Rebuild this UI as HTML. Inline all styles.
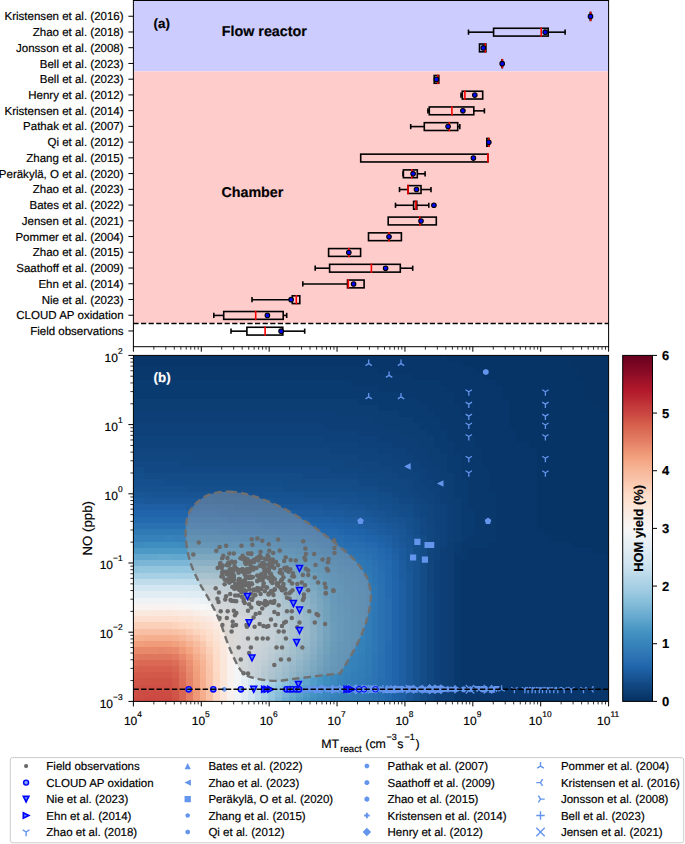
<!DOCTYPE html>
<html><head><meta charset="utf-8"><style>
html,body{margin:0;padding:0;background:#fff;}
svg{display:block;}
text{font-family:'Liberation Sans',sans-serif;text-rendering:geometricPrecision;stroke:currentColor;stroke-width:0.18px;}
text[fill='#fff']{stroke:#fff;}
</style></head><body>
<svg width="685" height="844" viewBox="0 0 685 844" style="font-family:'Liberation Sans',sans-serif">
<rect width="685" height="844" fill="#fff"/>
<rect x="133.4" y="0.5" width="475.20000000000005" height="70.81363636363636" fill="#ccccff"/>
<rect x="133.4" y="71.31363636363636" width="475.20000000000005" height="251.7818181818182" fill="#ffcccc"/>
<line x1="133.4" y1="323.40" x2="608.6" y2="323.40" stroke="#000" stroke-width="1.5" stroke-dasharray="5.2 2.4"/>
<rect x="590.3" y="12.54" width="0.40" height="7.80" fill="none" stroke="#000" stroke-width="1.6"/>
<line x1="590.6" y1="12.54" x2="590.6" y2="20.34" stroke="#ff0000" stroke-width="1.6" stroke-linecap="square"/>
<circle cx="590.5" cy="16.44" r="2.3" fill="#0000ff" stroke="#000" stroke-width="1.05"/>
<line x1="128.4" y1="16.24" x2="133.4" y2="16.24" stroke="#000" stroke-width="1"/>
<text x="123.6" y="20.34" text-anchor="end" font-size="11.53" fill="#000">Kristensen et al. (2016)</text>
<line x1="468.5" y1="32.17" x2="493.6" y2="32.17" stroke="#000" stroke-width="1.6"/>
<line x1="468.5" y1="30.37" x2="468.5" y2="33.97" stroke="#000" stroke-width="1.6" stroke-linecap="square"/>
<line x1="548.2" y1="32.17" x2="565.1" y2="32.17" stroke="#000" stroke-width="1.6"/>
<line x1="565.1" y1="30.37" x2="565.1" y2="33.97" stroke="#000" stroke-width="1.6" stroke-linecap="square"/>
<rect x="493.6" y="28.27" width="54.60" height="7.80" fill="none" stroke="#000" stroke-width="1.6"/>
<line x1="541.2" y1="28.27" x2="541.2" y2="36.07" stroke="#ff0000" stroke-width="1.6" stroke-linecap="square"/>
<circle cx="545.2" cy="32.17" r="2.3" fill="#0000ff" stroke="#000" stroke-width="1.05"/>
<line x1="128.4" y1="31.97" x2="133.4" y2="31.97" stroke="#000" stroke-width="1"/>
<text x="123.6" y="36.07" text-anchor="end" font-size="11.53" fill="#000">Zhao et al. (2018)</text>
<rect x="479.5" y="44.01" width="6.40" height="7.80" fill="none" stroke="#000" stroke-width="1.6"/>
<line x1="485.3" y1="44.01" x2="485.3" y2="51.81" stroke="#ff0000" stroke-width="1.6" stroke-linecap="square"/>
<circle cx="483.3" cy="47.91" r="2.3" fill="#0000ff" stroke="#000" stroke-width="1.05"/>
<line x1="128.4" y1="47.71" x2="133.4" y2="47.71" stroke="#000" stroke-width="1"/>
<text x="123.6" y="51.81" text-anchor="end" font-size="11.53" fill="#000">Jonsson et al. (2008)</text>
<rect x="502.0" y="59.75" width="0.40" height="7.80" fill="none" stroke="#000" stroke-width="1.6"/>
<line x1="502.3" y1="59.75" x2="502.3" y2="67.55" stroke="#ff0000" stroke-width="1.6" stroke-linecap="square"/>
<circle cx="502.2" cy="63.65" r="2.3" fill="#0000ff" stroke="#000" stroke-width="1.05"/>
<line x1="128.4" y1="63.45" x2="133.4" y2="63.45" stroke="#000" stroke-width="1"/>
<text x="123.6" y="67.55" text-anchor="end" font-size="11.53" fill="#000">Bell et al. (2023)</text>
<rect x="434.2" y="75.48" width="4.60" height="7.80" fill="none" stroke="#000" stroke-width="1.6"/>
<line x1="437.8" y1="75.48" x2="437.8" y2="83.28" stroke="#ff0000" stroke-width="1.6" stroke-linecap="square"/>
<circle cx="436.4" cy="79.38" r="2.3" fill="#0000ff" stroke="#000" stroke-width="1.05"/>
<line x1="128.4" y1="79.18" x2="133.4" y2="79.18" stroke="#000" stroke-width="1"/>
<text x="123.6" y="83.28" text-anchor="end" font-size="11.53" fill="#000">Bell et al. (2023)</text>
<line x1="461.0" y1="95.12" x2="462.3" y2="95.12" stroke="#000" stroke-width="1.6"/>
<line x1="461.0" y1="93.32" x2="461.0" y2="96.92" stroke="#000" stroke-width="1.6" stroke-linecap="square"/>
<rect x="462.3" y="91.22" width="20.40" height="7.80" fill="none" stroke="#000" stroke-width="1.6"/>
<line x1="464.9" y1="91.22" x2="464.9" y2="99.02" stroke="#ff0000" stroke-width="1.6" stroke-linecap="square"/>
<circle cx="474.8" cy="95.12" r="2.3" fill="#0000ff" stroke="#000" stroke-width="1.05"/>
<line x1="128.4" y1="94.92" x2="133.4" y2="94.92" stroke="#000" stroke-width="1"/>
<text x="123.6" y="99.02" text-anchor="end" font-size="11.53" fill="#000">Henry et al. (2012)</text>
<line x1="427.9" y1="110.85" x2="429.3" y2="110.85" stroke="#000" stroke-width="1.6"/>
<line x1="427.9" y1="109.05" x2="427.9" y2="112.65" stroke="#000" stroke-width="1.6" stroke-linecap="square"/>
<line x1="473.8" y1="110.85" x2="484.4" y2="110.85" stroke="#000" stroke-width="1.6"/>
<line x1="484.4" y1="109.05" x2="484.4" y2="112.65" stroke="#000" stroke-width="1.6" stroke-linecap="square"/>
<rect x="429.3" y="106.95" width="44.50" height="7.80" fill="none" stroke="#000" stroke-width="1.6"/>
<line x1="451.9" y1="106.95" x2="451.9" y2="114.75" stroke="#ff0000" stroke-width="1.6" stroke-linecap="square"/>
<circle cx="462.9" cy="110.85" r="2.3" fill="#0000ff" stroke="#000" stroke-width="1.05"/>
<line x1="128.4" y1="110.65" x2="133.4" y2="110.65" stroke="#000" stroke-width="1"/>
<text x="123.6" y="114.75" text-anchor="end" font-size="11.53" fill="#000">Kristensen et al. (2014)</text>
<line x1="410.7" y1="126.59" x2="424.3" y2="126.59" stroke="#000" stroke-width="1.6"/>
<line x1="410.7" y1="124.79" x2="410.7" y2="128.39" stroke="#000" stroke-width="1.6" stroke-linecap="square"/>
<line x1="457.7" y1="126.59" x2="459.8" y2="126.59" stroke="#000" stroke-width="1.6"/>
<line x1="459.8" y1="124.79" x2="459.8" y2="128.39" stroke="#000" stroke-width="1.6" stroke-linecap="square"/>
<rect x="424.3" y="122.69" width="33.40" height="7.80" fill="none" stroke="#000" stroke-width="1.6"/>
<line x1="449.3" y1="122.69" x2="449.3" y2="130.49" stroke="#ff0000" stroke-width="1.6" stroke-linecap="square"/>
<circle cx="448.1" cy="126.59" r="2.3" fill="#0000ff" stroke="#000" stroke-width="1.05"/>
<line x1="128.4" y1="126.39" x2="133.4" y2="126.39" stroke="#000" stroke-width="1"/>
<text x="123.6" y="130.49" text-anchor="end" font-size="11.53" fill="#000">Pathak et al. (2007)</text>
<rect x="486.8" y="138.43" width="2.10" height="7.80" fill="none" stroke="#000" stroke-width="1.6"/>
<line x1="488.8" y1="138.43" x2="488.8" y2="146.23" stroke="#ff0000" stroke-width="1.6" stroke-linecap="square"/>
<circle cx="488.8" cy="142.33" r="2.3" fill="#0000ff" stroke="#000" stroke-width="1.05"/>
<line x1="128.4" y1="142.13" x2="133.4" y2="142.13" stroke="#000" stroke-width="1"/>
<text x="123.6" y="146.23" text-anchor="end" font-size="11.53" fill="#000">Qi et al. (2012)</text>
<rect x="360.7" y="154.16" width="127.20" height="7.80" fill="none" stroke="#000" stroke-width="1.6"/>
<line x1="487.9" y1="154.16" x2="487.9" y2="161.96" stroke="#ff0000" stroke-width="1.6" stroke-linecap="square"/>
<circle cx="473.4" cy="158.06" r="2.3" fill="#0000ff" stroke="#000" stroke-width="1.05"/>
<line x1="128.4" y1="157.86" x2="133.4" y2="157.86" stroke="#000" stroke-width="1"/>
<text x="123.6" y="161.96" text-anchor="end" font-size="11.53" fill="#000">Zhang et al. (2015)</text>
<line x1="403.0" y1="173.80" x2="403.4" y2="173.80" stroke="#000" stroke-width="1.6"/>
<line x1="403.0" y1="172.00" x2="403.0" y2="175.60" stroke="#000" stroke-width="1.6" stroke-linecap="square"/>
<line x1="417.3" y1="173.80" x2="425.1" y2="173.80" stroke="#000" stroke-width="1.6"/>
<line x1="425.1" y1="172.00" x2="425.1" y2="175.60" stroke="#000" stroke-width="1.6" stroke-linecap="square"/>
<rect x="403.4" y="169.90" width="13.90" height="7.80" fill="none" stroke="#000" stroke-width="1.6"/>
<line x1="411.8" y1="169.90" x2="411.8" y2="177.70" stroke="#ff0000" stroke-width="1.6" stroke-linecap="square"/>
<circle cx="413.1" cy="173.80" r="2.3" fill="#0000ff" stroke="#000" stroke-width="1.05"/>
<line x1="128.4" y1="173.60" x2="133.4" y2="173.60" stroke="#000" stroke-width="1"/>
<text x="123.6" y="177.70" text-anchor="end" font-size="11.53" fill="#000">Peräkylä, O et al. (2020)</text>
<line x1="399.5" y1="189.54" x2="408.0" y2="189.54" stroke="#000" stroke-width="1.6"/>
<line x1="399.5" y1="187.74" x2="399.5" y2="191.34" stroke="#000" stroke-width="1.6" stroke-linecap="square"/>
<line x1="421.0" y1="189.54" x2="431.0" y2="189.54" stroke="#000" stroke-width="1.6"/>
<line x1="431.0" y1="187.74" x2="431.0" y2="191.34" stroke="#000" stroke-width="1.6" stroke-linecap="square"/>
<rect x="408.0" y="185.64" width="13.00" height="7.80" fill="none" stroke="#000" stroke-width="1.6"/>
<line x1="408.0" y1="185.64" x2="408.0" y2="193.44" stroke="#ff0000" stroke-width="1.6" stroke-linecap="square"/>
<circle cx="416.5" cy="189.54" r="2.3" fill="#0000ff" stroke="#000" stroke-width="1.05"/>
<line x1="128.4" y1="189.34" x2="133.4" y2="189.34" stroke="#000" stroke-width="1"/>
<text x="123.6" y="193.44" text-anchor="end" font-size="11.53" fill="#000">Zhao et al. (2023)</text>
<line x1="395.5" y1="205.27" x2="413.6" y2="205.27" stroke="#000" stroke-width="1.6"/>
<line x1="395.5" y1="203.47" x2="395.5" y2="207.07" stroke="#000" stroke-width="1.6" stroke-linecap="square"/>
<line x1="416.8" y1="205.27" x2="428.8" y2="205.27" stroke="#000" stroke-width="1.6"/>
<line x1="428.8" y1="203.47" x2="428.8" y2="207.07" stroke="#000" stroke-width="1.6" stroke-linecap="square"/>
<rect x="413.6" y="201.37" width="3.20" height="7.80" fill="none" stroke="#000" stroke-width="1.6"/>
<line x1="415.9" y1="201.37" x2="415.9" y2="209.17" stroke="#ff0000" stroke-width="1.6" stroke-linecap="square"/>
<circle cx="433.9" cy="205.27" r="2.3" fill="#0000ff" stroke="#000" stroke-width="1.05"/>
<line x1="128.4" y1="205.07" x2="133.4" y2="205.07" stroke="#000" stroke-width="1"/>
<text x="123.6" y="209.17" text-anchor="end" font-size="11.53" fill="#000">Bates et al. (2022)</text>
<rect x="388.2" y="217.11" width="48.10" height="7.80" fill="none" stroke="#000" stroke-width="1.6"/>
<line x1="419.8" y1="217.11" x2="419.8" y2="224.91" stroke="#ff0000" stroke-width="1.6" stroke-linecap="square"/>
<circle cx="421.0" cy="221.01" r="2.3" fill="#0000ff" stroke="#000" stroke-width="1.05"/>
<line x1="128.4" y1="220.81" x2="133.4" y2="220.81" stroke="#000" stroke-width="1"/>
<text x="123.6" y="224.91" text-anchor="end" font-size="11.53" fill="#000">Jensen et al. (2021)</text>
<rect x="368.5" y="232.85" width="32.90" height="7.80" fill="none" stroke="#000" stroke-width="1.6"/>
<line x1="389.0" y1="232.85" x2="389.0" y2="240.65" stroke="#ff0000" stroke-width="1.6" stroke-linecap="square"/>
<circle cx="389.0" cy="236.75" r="2.3" fill="#0000ff" stroke="#000" stroke-width="1.05"/>
<line x1="128.4" y1="236.55" x2="133.4" y2="236.55" stroke="#000" stroke-width="1"/>
<text x="123.6" y="240.65" text-anchor="end" font-size="11.53" fill="#000">Pommer et al. (2004)</text>
<rect x="328.6" y="248.58" width="32.00" height="7.80" fill="none" stroke="#000" stroke-width="1.6"/>
<line x1="348.8" y1="248.58" x2="348.8" y2="256.38" stroke="#ff0000" stroke-width="1.6" stroke-linecap="square"/>
<circle cx="348.8" cy="252.48" r="2.3" fill="#0000ff" stroke="#000" stroke-width="1.05"/>
<line x1="128.4" y1="252.28" x2="133.4" y2="252.28" stroke="#000" stroke-width="1"/>
<text x="123.6" y="256.38" text-anchor="end" font-size="11.53" fill="#000">Zhao et al. (2015)</text>
<line x1="315.2" y1="268.22" x2="329.6" y2="268.22" stroke="#000" stroke-width="1.6"/>
<line x1="315.2" y1="266.42" x2="315.2" y2="270.02" stroke="#000" stroke-width="1.6" stroke-linecap="square"/>
<line x1="400.3" y1="268.22" x2="412.7" y2="268.22" stroke="#000" stroke-width="1.6"/>
<line x1="412.7" y1="266.42" x2="412.7" y2="270.02" stroke="#000" stroke-width="1.6" stroke-linecap="square"/>
<rect x="329.6" y="264.32" width="70.70" height="7.80" fill="none" stroke="#000" stroke-width="1.6"/>
<line x1="371.4" y1="264.32" x2="371.4" y2="272.12" stroke="#ff0000" stroke-width="1.6" stroke-linecap="square"/>
<circle cx="385.6" cy="268.22" r="2.3" fill="#0000ff" stroke="#000" stroke-width="1.05"/>
<line x1="128.4" y1="268.02" x2="133.4" y2="268.02" stroke="#000" stroke-width="1"/>
<text x="123.6" y="272.12" text-anchor="end" font-size="11.53" fill="#000">Saathoff et al. (2009)</text>
<line x1="302.8" y1="283.95" x2="347.5" y2="283.95" stroke="#000" stroke-width="1.6"/>
<line x1="302.8" y1="282.15" x2="302.8" y2="285.75" stroke="#000" stroke-width="1.6" stroke-linecap="square"/>
<rect x="347.5" y="280.05" width="16.60" height="7.80" fill="none" stroke="#000" stroke-width="1.6"/>
<line x1="348.3" y1="280.05" x2="348.3" y2="287.85" stroke="#ff0000" stroke-width="1.6" stroke-linecap="square"/>
<circle cx="353.6" cy="283.95" r="2.3" fill="#0000ff" stroke="#000" stroke-width="1.05"/>
<line x1="128.4" y1="283.75" x2="133.4" y2="283.75" stroke="#000" stroke-width="1"/>
<text x="123.6" y="287.85" text-anchor="end" font-size="11.53" fill="#000">Ehn et al. (2014)</text>
<line x1="252.0" y1="299.69" x2="292.3" y2="299.69" stroke="#000" stroke-width="1.6"/>
<line x1="252.0" y1="297.89" x2="252.0" y2="301.49" stroke="#000" stroke-width="1.6" stroke-linecap="square"/>
<rect x="292.3" y="295.79" width="7.50" height="7.80" fill="none" stroke="#000" stroke-width="1.6"/>
<line x1="296.3" y1="295.79" x2="296.3" y2="303.59" stroke="#ff0000" stroke-width="1.6" stroke-linecap="square"/>
<circle cx="291.1" cy="299.69" r="2.3" fill="#0000ff" stroke="#000" stroke-width="1.05"/>
<line x1="128.4" y1="299.49" x2="133.4" y2="299.49" stroke="#000" stroke-width="1"/>
<text x="123.6" y="303.59" text-anchor="end" font-size="11.53" fill="#000">Nie et al. (2023)</text>
<line x1="213.8" y1="315.43" x2="223.7" y2="315.43" stroke="#000" stroke-width="1.6"/>
<line x1="213.8" y1="313.63" x2="213.8" y2="317.23" stroke="#000" stroke-width="1.6" stroke-linecap="square"/>
<line x1="283.2" y1="315.43" x2="286.7" y2="315.43" stroke="#000" stroke-width="1.6"/>
<line x1="286.7" y1="313.63" x2="286.7" y2="317.23" stroke="#000" stroke-width="1.6" stroke-linecap="square"/>
<rect x="223.7" y="311.53" width="59.50" height="7.80" fill="none" stroke="#000" stroke-width="1.6"/>
<line x1="255.7" y1="311.53" x2="255.7" y2="319.33" stroke="#ff0000" stroke-width="1.6" stroke-linecap="square"/>
<circle cx="267.4" cy="315.43" r="2.3" fill="#0000ff" stroke="#000" stroke-width="1.05"/>
<line x1="128.4" y1="315.23" x2="133.4" y2="315.23" stroke="#000" stroke-width="1"/>
<text x="123.6" y="319.33" text-anchor="end" font-size="11.53" fill="#000">CLOUD AP oxidation</text>
<line x1="231.0" y1="331.16" x2="246.9" y2="331.16" stroke="#000" stroke-width="1.6"/>
<line x1="231.0" y1="329.36" x2="231.0" y2="332.96" stroke="#000" stroke-width="1.6" stroke-linecap="square"/>
<line x1="282.8" y1="331.16" x2="304.7" y2="331.16" stroke="#000" stroke-width="1.6"/>
<line x1="304.7" y1="329.36" x2="304.7" y2="332.96" stroke="#000" stroke-width="1.6" stroke-linecap="square"/>
<rect x="246.9" y="327.26" width="35.90" height="7.80" fill="none" stroke="#000" stroke-width="1.6"/>
<line x1="265.1" y1="327.26" x2="265.1" y2="335.06" stroke="#ff0000" stroke-width="1.6" stroke-linecap="square"/>
<circle cx="281.1" cy="331.16" r="2.3" fill="#0000ff" stroke="#000" stroke-width="1.05"/>
<line x1="128.4" y1="330.96" x2="133.4" y2="330.96" stroke="#000" stroke-width="1"/>
<text x="123.6" y="335.06" text-anchor="end" font-size="11.53" fill="#000">Field observations</text>
<rect x="133.4" y="0.5" width="475.20000000000005" height="346.2" fill="none" stroke="#000" stroke-width="1"/>
<line x1="133.40" y1="346.7" x2="133.40" y2="351.7" stroke="#000" stroke-width="1"/>
<line x1="153.84" y1="346.7" x2="153.84" y2="349.7" stroke="#000" stroke-width="0.8"/>
<line x1="165.79" y1="346.7" x2="165.79" y2="349.7" stroke="#000" stroke-width="0.8"/>
<line x1="174.27" y1="346.7" x2="174.27" y2="349.7" stroke="#000" stroke-width="0.8"/>
<line x1="180.85" y1="346.7" x2="180.85" y2="349.7" stroke="#000" stroke-width="0.8"/>
<line x1="186.23" y1="346.7" x2="186.23" y2="349.7" stroke="#000" stroke-width="0.8"/>
<line x1="190.77" y1="346.7" x2="190.77" y2="349.7" stroke="#000" stroke-width="0.8"/>
<line x1="194.71" y1="346.7" x2="194.71" y2="349.7" stroke="#000" stroke-width="0.8"/>
<line x1="198.18" y1="346.7" x2="198.18" y2="349.7" stroke="#000" stroke-width="0.8"/>
<line x1="201.29" y1="346.7" x2="201.29" y2="351.7" stroke="#000" stroke-width="1"/>
<line x1="221.72" y1="346.7" x2="221.72" y2="349.7" stroke="#000" stroke-width="0.8"/>
<line x1="233.68" y1="346.7" x2="233.68" y2="349.7" stroke="#000" stroke-width="0.8"/>
<line x1="242.16" y1="346.7" x2="242.16" y2="349.7" stroke="#000" stroke-width="0.8"/>
<line x1="248.74" y1="346.7" x2="248.74" y2="349.7" stroke="#000" stroke-width="0.8"/>
<line x1="254.11" y1="346.7" x2="254.11" y2="349.7" stroke="#000" stroke-width="0.8"/>
<line x1="258.66" y1="346.7" x2="258.66" y2="349.7" stroke="#000" stroke-width="0.8"/>
<line x1="262.59" y1="346.7" x2="262.59" y2="349.7" stroke="#000" stroke-width="0.8"/>
<line x1="266.07" y1="346.7" x2="266.07" y2="349.7" stroke="#000" stroke-width="0.8"/>
<line x1="269.17" y1="346.7" x2="269.17" y2="351.7" stroke="#000" stroke-width="1"/>
<line x1="289.61" y1="346.7" x2="289.61" y2="349.7" stroke="#000" stroke-width="0.8"/>
<line x1="301.56" y1="346.7" x2="301.56" y2="349.7" stroke="#000" stroke-width="0.8"/>
<line x1="310.04" y1="346.7" x2="310.04" y2="349.7" stroke="#000" stroke-width="0.8"/>
<line x1="316.62" y1="346.7" x2="316.62" y2="349.7" stroke="#000" stroke-width="0.8"/>
<line x1="322.00" y1="346.7" x2="322.00" y2="349.7" stroke="#000" stroke-width="0.8"/>
<line x1="326.54" y1="346.7" x2="326.54" y2="349.7" stroke="#000" stroke-width="0.8"/>
<line x1="330.48" y1="346.7" x2="330.48" y2="349.7" stroke="#000" stroke-width="0.8"/>
<line x1="333.95" y1="346.7" x2="333.95" y2="349.7" stroke="#000" stroke-width="0.8"/>
<line x1="337.06" y1="346.7" x2="337.06" y2="351.7" stroke="#000" stroke-width="1"/>
<line x1="357.49" y1="346.7" x2="357.49" y2="349.7" stroke="#000" stroke-width="0.8"/>
<line x1="369.45" y1="346.7" x2="369.45" y2="349.7" stroke="#000" stroke-width="0.8"/>
<line x1="377.93" y1="346.7" x2="377.93" y2="349.7" stroke="#000" stroke-width="0.8"/>
<line x1="384.51" y1="346.7" x2="384.51" y2="349.7" stroke="#000" stroke-width="0.8"/>
<line x1="389.88" y1="346.7" x2="389.88" y2="349.7" stroke="#000" stroke-width="0.8"/>
<line x1="394.43" y1="346.7" x2="394.43" y2="349.7" stroke="#000" stroke-width="0.8"/>
<line x1="398.36" y1="346.7" x2="398.36" y2="349.7" stroke="#000" stroke-width="0.8"/>
<line x1="401.84" y1="346.7" x2="401.84" y2="349.7" stroke="#000" stroke-width="0.8"/>
<line x1="404.94" y1="346.7" x2="404.94" y2="351.7" stroke="#000" stroke-width="1"/>
<line x1="425.38" y1="346.7" x2="425.38" y2="349.7" stroke="#000" stroke-width="0.8"/>
<line x1="437.33" y1="346.7" x2="437.33" y2="349.7" stroke="#000" stroke-width="0.8"/>
<line x1="445.81" y1="346.7" x2="445.81" y2="349.7" stroke="#000" stroke-width="0.8"/>
<line x1="452.39" y1="346.7" x2="452.39" y2="349.7" stroke="#000" stroke-width="0.8"/>
<line x1="457.77" y1="346.7" x2="457.77" y2="349.7" stroke="#000" stroke-width="0.8"/>
<line x1="462.31" y1="346.7" x2="462.31" y2="349.7" stroke="#000" stroke-width="0.8"/>
<line x1="466.25" y1="346.7" x2="466.25" y2="349.7" stroke="#000" stroke-width="0.8"/>
<line x1="469.72" y1="346.7" x2="469.72" y2="349.7" stroke="#000" stroke-width="0.8"/>
<line x1="472.83" y1="346.7" x2="472.83" y2="351.7" stroke="#000" stroke-width="1"/>
<line x1="493.26" y1="346.7" x2="493.26" y2="349.7" stroke="#000" stroke-width="0.8"/>
<line x1="505.22" y1="346.7" x2="505.22" y2="349.7" stroke="#000" stroke-width="0.8"/>
<line x1="513.70" y1="346.7" x2="513.70" y2="349.7" stroke="#000" stroke-width="0.8"/>
<line x1="520.28" y1="346.7" x2="520.28" y2="349.7" stroke="#000" stroke-width="0.8"/>
<line x1="525.65" y1="346.7" x2="525.65" y2="349.7" stroke="#000" stroke-width="0.8"/>
<line x1="530.20" y1="346.7" x2="530.20" y2="349.7" stroke="#000" stroke-width="0.8"/>
<line x1="534.14" y1="346.7" x2="534.14" y2="349.7" stroke="#000" stroke-width="0.8"/>
<line x1="537.61" y1="346.7" x2="537.61" y2="349.7" stroke="#000" stroke-width="0.8"/>
<line x1="540.71" y1="346.7" x2="540.71" y2="351.7" stroke="#000" stroke-width="1"/>
<line x1="561.15" y1="346.7" x2="561.15" y2="349.7" stroke="#000" stroke-width="0.8"/>
<line x1="573.10" y1="346.7" x2="573.10" y2="349.7" stroke="#000" stroke-width="0.8"/>
<line x1="581.59" y1="346.7" x2="581.59" y2="349.7" stroke="#000" stroke-width="0.8"/>
<line x1="588.16" y1="346.7" x2="588.16" y2="349.7" stroke="#000" stroke-width="0.8"/>
<line x1="593.54" y1="346.7" x2="593.54" y2="349.7" stroke="#000" stroke-width="0.8"/>
<line x1="598.08" y1="346.7" x2="598.08" y2="349.7" stroke="#000" stroke-width="0.8"/>
<line x1="602.02" y1="346.7" x2="602.02" y2="349.7" stroke="#000" stroke-width="0.8"/>
<line x1="605.49" y1="346.7" x2="605.49" y2="349.7" stroke="#000" stroke-width="0.8"/>
<line x1="608.60" y1="346.7" x2="608.60" y2="351.7" stroke="#000" stroke-width="1"/>
<text x="153.5" y="28.2" font-size="13.4" font-weight="bold" fill="#000">(a)</text>
<text x="221.8" y="35.9" font-size="14.3" font-weight="bold" fill="#000">Flow reactor</text>
<text x="221.4" y="197.1" font-size="14.3" font-weight="bold" fill="#000">Chamber</text>
<clipPath id="cb"><rect x="133.4" y="355.4" width="475.20000000000005" height="346.0"/></clipPath>
<g clip-path="url(#cb)">
<g shape-rendering="crispEdges">
<rect x="130.6" y="696.9" width="7" height="6.3" fill="#cc4c44"/>
<rect x="137.5" y="696.9" width="7" height="6.3" fill="#cc4c44"/>
<rect x="144.4" y="696.9" width="7" height="6.3" fill="#cb4942"/>
<rect x="151.3" y="696.9" width="7" height="6.3" fill="#cb4942"/>
<rect x="158.2" y="696.9" width="7" height="6.3" fill="#cb4942"/>
<rect x="165.0" y="696.9" width="7" height="6.3" fill="#cb4942"/>
<rect x="171.9" y="696.9" width="7" height="6.3" fill="#cf5246"/>
<rect x="178.8" y="696.9" width="7" height="6.3" fill="#d86551"/>
<rect x="185.7" y="696.9" width="7" height="6.3" fill="#e37e64"/>
<rect x="192.6" y="696.9" width="7" height="6.3" fill="#ef9979"/>
<rect x="199.5" y="696.9" width="7" height="6.3" fill="#f5ac8b"/>
<rect x="206.3" y="696.9" width="7" height="6.3" fill="#f9c2a7"/>
<rect x="213.2" y="696.9" width="7" height="6.3" fill="#fdd9c4"/>
<rect x="220.1" y="696.9" width="7" height="6.3" fill="#fbe6da"/>
<rect x="227.0" y="696.9" width="7" height="6.3" fill="#f8f1ed"/>
<rect x="233.9" y="696.9" width="7" height="6.3" fill="#f0f4f6"/>
<rect x="240.8" y="696.9" width="7" height="6.3" fill="#e0ecf3"/>
<rect x="247.6" y="696.9" width="7" height="6.3" fill="#d1e5f0"/>
<rect x="254.5" y="696.9" width="7" height="6.3" fill="#bbdaea"/>
<rect x="261.4" y="696.9" width="7" height="6.3" fill="#a5cee3"/>
<rect x="268.3" y="696.9" width="7" height="6.3" fill="#93c6de"/>
<rect x="275.2" y="696.9" width="7" height="6.3" fill="#81bad8"/>
<rect x="282.1" y="696.9" width="7" height="6.3" fill="#6eaed2"/>
<rect x="288.9" y="696.9" width="7" height="6.3" fill="#5fa5cd"/>
<rect x="295.8" y="696.9" width="7" height="6.3" fill="#529dc8"/>
<rect x="302.7" y="696.9" width="7" height="6.3" fill="#4695c4"/>
<rect x="309.6" y="696.9" width="7" height="6.3" fill="#408fc1"/>
<rect x="316.5" y="696.9" width="7" height="6.3" fill="#3c8abe"/>
<rect x="323.4" y="696.9" width="7" height="6.3" fill="#3a87bd"/>
<rect x="330.3" y="696.9" width="7" height="6.3" fill="#3681ba"/>
<rect x="337.1" y="696.9" width="7" height="6.3" fill="#337eb8"/>
<rect x="344.0" y="696.9" width="7" height="6.3" fill="#327cb7"/>
<rect x="350.9" y="696.9" width="7" height="6.3" fill="#307ab6"/>
<rect x="357.8" y="696.9" width="7" height="6.3" fill="#2e77b5"/>
<rect x="364.7" y="696.9" width="7" height="6.3" fill="#2c75b4"/>
<rect x="371.6" y="696.9" width="7" height="6.3" fill="#2a71b2"/>
<rect x="378.4" y="696.9" width="7" height="6.3" fill="#276eb0"/>
<rect x="385.3" y="696.9" width="7" height="6.3" fill="#2369ad"/>
<rect x="392.2" y="696.9" width="7" height="6.3" fill="#1f63a8"/>
<rect x="399.1" y="696.9" width="7" height="6.3" fill="#1d5fa2"/>
<rect x="406.0" y="696.9" width="7" height="6.3" fill="#1a5899"/>
<rect x="412.9" y="696.9" width="7" height="6.3" fill="#175290"/>
<rect x="419.7" y="696.9" width="7" height="6.3" fill="#134c87"/>
<rect x="426.6" y="696.9" width="7" height="6.3" fill="#114781"/>
<rect x="433.5" y="696.9" width="7" height="6.3" fill="#0e4179"/>
<rect x="440.4" y="696.9" width="7" height="6.3" fill="#0d3f76"/>
<rect x="447.3" y="696.9" width="7" height="6.3" fill="#0c3d73"/>
<rect x="454.2" y="696.9" width="7" height="6.3" fill="#09386d"/>
<rect x="461.0" y="696.9" width="7" height="6.3" fill="#08366a"/>
<rect x="467.9" y="696.9" width="7" height="6.3" fill="#08366a"/>
<rect x="474.8" y="696.9" width="7" height="6.3" fill="#08366a"/>
<rect x="481.7" y="696.9" width="7" height="6.3" fill="#08366a"/>
<rect x="488.6" y="696.9" width="7" height="6.3" fill="#08366a"/>
<rect x="495.5" y="696.9" width="7" height="6.3" fill="#08366a"/>
<rect x="502.4" y="696.9" width="7" height="6.3" fill="#08366a"/>
<rect x="509.2" y="696.9" width="7" height="6.3" fill="#08366a"/>
<rect x="516.1" y="696.9" width="7" height="6.3" fill="#08366a"/>
<rect x="523.0" y="696.9" width="7" height="6.3" fill="#08366a"/>
<rect x="529.9" y="696.9" width="7" height="6.3" fill="#08366a"/>
<rect x="536.8" y="696.9" width="7" height="6.3" fill="#08366a"/>
<rect x="543.7" y="696.9" width="7" height="6.3" fill="#08366a"/>
<rect x="550.5" y="696.9" width="7" height="6.3" fill="#08366a"/>
<rect x="557.4" y="696.9" width="7" height="6.3" fill="#08366a"/>
<rect x="564.3" y="696.9" width="7" height="6.3" fill="#08366a"/>
<rect x="571.2" y="696.9" width="7" height="6.3" fill="#08366a"/>
<rect x="578.1" y="696.9" width="7" height="6.3" fill="#08366a"/>
<rect x="585.0" y="696.9" width="7" height="6.3" fill="#08366a"/>
<rect x="591.8" y="696.9" width="7" height="6.3" fill="#08366a"/>
<rect x="598.7" y="696.9" width="7" height="6.3" fill="#08366a"/>
<rect x="605.6" y="696.9" width="7" height="6.3" fill="#08366a"/>
<rect x="130.6" y="690.7" width="7" height="6.3" fill="#ce4f45"/>
<rect x="137.5" y="690.7" width="7" height="6.3" fill="#cc4c44"/>
<rect x="144.4" y="690.7" width="7" height="6.3" fill="#cc4c44"/>
<rect x="151.3" y="690.7" width="7" height="6.3" fill="#cc4c44"/>
<rect x="158.2" y="690.7" width="7" height="6.3" fill="#cc4c44"/>
<rect x="165.0" y="690.7" width="7" height="6.3" fill="#cc4c44"/>
<rect x="171.9" y="690.7" width="7" height="6.3" fill="#d05548"/>
<rect x="178.8" y="690.7" width="7" height="6.3" fill="#d86551"/>
<rect x="185.7" y="690.7" width="7" height="6.3" fill="#e37e64"/>
<rect x="192.6" y="690.7" width="7" height="6.3" fill="#ef9979"/>
<rect x="199.5" y="690.7" width="7" height="6.3" fill="#f6af8e"/>
<rect x="206.3" y="690.7" width="7" height="6.3" fill="#f9c2a7"/>
<rect x="213.2" y="690.7" width="7" height="6.3" fill="#fdd9c4"/>
<rect x="220.1" y="690.7" width="7" height="6.3" fill="#fbe6da"/>
<rect x="227.0" y="690.7" width="7" height="6.3" fill="#f8f1ed"/>
<rect x="233.9" y="690.7" width="7" height="6.3" fill="#f0f4f6"/>
<rect x="240.8" y="690.7" width="7" height="6.3" fill="#e1edf3"/>
<rect x="247.6" y="690.7" width="7" height="6.3" fill="#d4e6f1"/>
<rect x="254.5" y="690.7" width="7" height="6.3" fill="#bddbea"/>
<rect x="261.4" y="690.7" width="7" height="6.3" fill="#a9d1e5"/>
<rect x="268.3" y="690.7" width="7" height="6.3" fill="#98c8e0"/>
<rect x="275.2" y="690.7" width="7" height="6.3" fill="#87beda"/>
<rect x="282.1" y="690.7" width="7" height="6.3" fill="#78b4d5"/>
<rect x="288.9" y="690.7" width="7" height="6.3" fill="#68abd0"/>
<rect x="295.8" y="690.7" width="7" height="6.3" fill="#5ca3cb"/>
<rect x="302.7" y="690.7" width="7" height="6.3" fill="#4f9bc7"/>
<rect x="309.6" y="690.7" width="7" height="6.3" fill="#4393c3"/>
<rect x="316.5" y="690.7" width="7" height="6.3" fill="#3f8ec0"/>
<rect x="323.4" y="690.7" width="7" height="6.3" fill="#3b88be"/>
<rect x="330.3" y="690.7" width="7" height="6.3" fill="#3783bb"/>
<rect x="337.1" y="690.7" width="7" height="6.3" fill="#3480b9"/>
<rect x="344.0" y="690.7" width="7" height="6.3" fill="#337eb8"/>
<rect x="350.9" y="690.7" width="7" height="6.3" fill="#307ab6"/>
<rect x="357.8" y="690.7" width="7" height="6.3" fill="#2f79b5"/>
<rect x="364.7" y="690.7" width="7" height="6.3" fill="#2c75b4"/>
<rect x="371.6" y="690.7" width="7" height="6.3" fill="#2a71b2"/>
<rect x="378.4" y="690.7" width="7" height="6.3" fill="#276eb0"/>
<rect x="385.3" y="690.7" width="7" height="6.3" fill="#2369ad"/>
<rect x="392.2" y="690.7" width="7" height="6.3" fill="#1f63a8"/>
<rect x="399.1" y="690.7" width="7" height="6.3" fill="#1d5fa2"/>
<rect x="406.0" y="690.7" width="7" height="6.3" fill="#1a5899"/>
<rect x="412.9" y="690.7" width="7" height="6.3" fill="#175290"/>
<rect x="419.7" y="690.7" width="7" height="6.3" fill="#134c87"/>
<rect x="426.6" y="690.7" width="7" height="6.3" fill="#114781"/>
<rect x="433.5" y="690.7" width="7" height="6.3" fill="#0e4179"/>
<rect x="440.4" y="690.7" width="7" height="6.3" fill="#0d3f76"/>
<rect x="447.3" y="690.7" width="7" height="6.3" fill="#0c3d73"/>
<rect x="454.2" y="690.7" width="7" height="6.3" fill="#09386d"/>
<rect x="461.0" y="690.7" width="7" height="6.3" fill="#08366a"/>
<rect x="467.9" y="690.7" width="7" height="6.3" fill="#08366a"/>
<rect x="474.8" y="690.7" width="7" height="6.3" fill="#08366a"/>
<rect x="481.7" y="690.7" width="7" height="6.3" fill="#08366a"/>
<rect x="488.6" y="690.7" width="7" height="6.3" fill="#08366a"/>
<rect x="495.5" y="690.7" width="7" height="6.3" fill="#08366a"/>
<rect x="502.4" y="690.7" width="7" height="6.3" fill="#08366a"/>
<rect x="509.2" y="690.7" width="7" height="6.3" fill="#08366a"/>
<rect x="516.1" y="690.7" width="7" height="6.3" fill="#08366a"/>
<rect x="523.0" y="690.7" width="7" height="6.3" fill="#08366a"/>
<rect x="529.9" y="690.7" width="7" height="6.3" fill="#08366a"/>
<rect x="536.8" y="690.7" width="7" height="6.3" fill="#08366a"/>
<rect x="543.7" y="690.7" width="7" height="6.3" fill="#08366a"/>
<rect x="550.5" y="690.7" width="7" height="6.3" fill="#08366a"/>
<rect x="557.4" y="690.7" width="7" height="6.3" fill="#08366a"/>
<rect x="564.3" y="690.7" width="7" height="6.3" fill="#08366a"/>
<rect x="571.2" y="690.7" width="7" height="6.3" fill="#08366a"/>
<rect x="578.1" y="690.7" width="7" height="6.3" fill="#08366a"/>
<rect x="585.0" y="690.7" width="7" height="6.3" fill="#08366a"/>
<rect x="591.8" y="690.7" width="7" height="6.3" fill="#08366a"/>
<rect x="598.7" y="690.7" width="7" height="6.3" fill="#08366a"/>
<rect x="605.6" y="690.7" width="7" height="6.3" fill="#08366a"/>
<rect x="130.6" y="684.5" width="7" height="6.3" fill="#cf5246"/>
<rect x="137.5" y="684.5" width="7" height="6.3" fill="#ce4f45"/>
<rect x="144.4" y="684.5" width="7" height="6.3" fill="#ce4f45"/>
<rect x="151.3" y="684.5" width="7" height="6.3" fill="#ce4f45"/>
<rect x="158.2" y="684.5" width="7" height="6.3" fill="#ce4f45"/>
<rect x="165.0" y="684.5" width="7" height="6.3" fill="#ce4f45"/>
<rect x="171.9" y="684.5" width="7" height="6.3" fill="#d25849"/>
<rect x="178.8" y="684.5" width="7" height="6.3" fill="#da6853"/>
<rect x="185.7" y="684.5" width="7" height="6.3" fill="#e48066"/>
<rect x="192.6" y="684.5" width="7" height="6.3" fill="#ef9979"/>
<rect x="199.5" y="684.5" width="7" height="6.3" fill="#f6af8e"/>
<rect x="206.3" y="684.5" width="7" height="6.3" fill="#f9c2a7"/>
<rect x="213.2" y="684.5" width="7" height="6.3" fill="#fdd9c4"/>
<rect x="220.1" y="684.5" width="7" height="6.3" fill="#fbe6da"/>
<rect x="227.0" y="684.5" width="7" height="6.3" fill="#f8f1ed"/>
<rect x="233.9" y="684.5" width="7" height="6.3" fill="#f2f5f6"/>
<rect x="240.8" y="684.5" width="7" height="6.3" fill="#e3edf3"/>
<rect x="247.6" y="684.5" width="7" height="6.3" fill="#d5e7f1"/>
<rect x="254.5" y="684.5" width="7" height="6.3" fill="#c5dfec"/>
<rect x="261.4" y="684.5" width="7" height="6.3" fill="#b1d5e7"/>
<rect x="268.3" y="684.5" width="7" height="6.3" fill="#a0cce2"/>
<rect x="275.2" y="684.5" width="7" height="6.3" fill="#90c4dd"/>
<rect x="282.1" y="684.5" width="7" height="6.3" fill="#81bad8"/>
<rect x="288.9" y="684.5" width="7" height="6.3" fill="#71b0d3"/>
<rect x="295.8" y="684.5" width="7" height="6.3" fill="#65a9cf"/>
<rect x="302.7" y="684.5" width="7" height="6.3" fill="#59a1ca"/>
<rect x="309.6" y="684.5" width="7" height="6.3" fill="#4c99c6"/>
<rect x="316.5" y="684.5" width="7" height="6.3" fill="#4291c2"/>
<rect x="323.4" y="684.5" width="7" height="6.3" fill="#3c8abe"/>
<rect x="330.3" y="684.5" width="7" height="6.3" fill="#3a87bd"/>
<rect x="337.1" y="684.5" width="7" height="6.3" fill="#3681ba"/>
<rect x="344.0" y="684.5" width="7" height="6.3" fill="#3480b9"/>
<rect x="350.9" y="684.5" width="7" height="6.3" fill="#327cb7"/>
<rect x="357.8" y="684.5" width="7" height="6.3" fill="#2f79b5"/>
<rect x="364.7" y="684.5" width="7" height="6.3" fill="#2e77b5"/>
<rect x="371.6" y="684.5" width="7" height="6.3" fill="#2b73b3"/>
<rect x="378.4" y="684.5" width="7" height="6.3" fill="#276eb0"/>
<rect x="385.3" y="684.5" width="7" height="6.3" fill="#2369ad"/>
<rect x="392.2" y="684.5" width="7" height="6.3" fill="#2065ab"/>
<rect x="399.1" y="684.5" width="7" height="6.3" fill="#1d5fa2"/>
<rect x="406.0" y="684.5" width="7" height="6.3" fill="#1a5899"/>
<rect x="412.9" y="684.5" width="7" height="6.3" fill="#175290"/>
<rect x="419.7" y="684.5" width="7" height="6.3" fill="#134c87"/>
<rect x="426.6" y="684.5" width="7" height="6.3" fill="#114781"/>
<rect x="433.5" y="684.5" width="7" height="6.3" fill="#0e4179"/>
<rect x="440.4" y="684.5" width="7" height="6.3" fill="#0d3f76"/>
<rect x="447.3" y="684.5" width="7" height="6.3" fill="#0c3d73"/>
<rect x="454.2" y="684.5" width="7" height="6.3" fill="#09386d"/>
<rect x="461.0" y="684.5" width="7" height="6.3" fill="#08366a"/>
<rect x="467.9" y="684.5" width="7" height="6.3" fill="#08366a"/>
<rect x="474.8" y="684.5" width="7" height="6.3" fill="#08366a"/>
<rect x="481.7" y="684.5" width="7" height="6.3" fill="#08366a"/>
<rect x="488.6" y="684.5" width="7" height="6.3" fill="#08366a"/>
<rect x="495.5" y="684.5" width="7" height="6.3" fill="#08366a"/>
<rect x="502.4" y="684.5" width="7" height="6.3" fill="#08366a"/>
<rect x="509.2" y="684.5" width="7" height="6.3" fill="#08366a"/>
<rect x="516.1" y="684.5" width="7" height="6.3" fill="#08366a"/>
<rect x="523.0" y="684.5" width="7" height="6.3" fill="#08366a"/>
<rect x="529.9" y="684.5" width="7" height="6.3" fill="#08366a"/>
<rect x="536.8" y="684.5" width="7" height="6.3" fill="#08366a"/>
<rect x="543.7" y="684.5" width="7" height="6.3" fill="#08366a"/>
<rect x="550.5" y="684.5" width="7" height="6.3" fill="#08366a"/>
<rect x="557.4" y="684.5" width="7" height="6.3" fill="#08366a"/>
<rect x="564.3" y="684.5" width="7" height="6.3" fill="#08366a"/>
<rect x="571.2" y="684.5" width="7" height="6.3" fill="#08366a"/>
<rect x="578.1" y="684.5" width="7" height="6.3" fill="#08366a"/>
<rect x="585.0" y="684.5" width="7" height="6.3" fill="#08366a"/>
<rect x="591.8" y="684.5" width="7" height="6.3" fill="#08366a"/>
<rect x="598.7" y="684.5" width="7" height="6.3" fill="#08366a"/>
<rect x="605.6" y="684.5" width="7" height="6.3" fill="#08366a"/>
<rect x="130.6" y="678.3" width="7" height="6.3" fill="#d05548"/>
<rect x="137.5" y="678.3" width="7" height="6.3" fill="#d05548"/>
<rect x="144.4" y="678.3" width="7" height="6.3" fill="#d05548"/>
<rect x="151.3" y="678.3" width="7" height="6.3" fill="#cf5246"/>
<rect x="158.2" y="678.3" width="7" height="6.3" fill="#cf5246"/>
<rect x="165.0" y="678.3" width="7" height="6.3" fill="#cf5246"/>
<rect x="171.9" y="678.3" width="7" height="6.3" fill="#d35a4a"/>
<rect x="178.8" y="678.3" width="7" height="6.3" fill="#dc6e57"/>
<rect x="185.7" y="678.3" width="7" height="6.3" fill="#e58368"/>
<rect x="192.6" y="678.3" width="7" height="6.3" fill="#f09c7b"/>
<rect x="199.5" y="678.3" width="7" height="6.3" fill="#f6af8e"/>
<rect x="206.3" y="678.3" width="7" height="6.3" fill="#f9c4a9"/>
<rect x="213.2" y="678.3" width="7" height="6.3" fill="#fdd9c4"/>
<rect x="220.1" y="678.3" width="7" height="6.3" fill="#fbe6da"/>
<rect x="227.0" y="678.3" width="7" height="6.3" fill="#f8f1ed"/>
<rect x="233.9" y="678.3" width="7" height="6.3" fill="#f2f5f6"/>
<rect x="240.8" y="678.3" width="7" height="6.3" fill="#e4eef4"/>
<rect x="247.6" y="678.3" width="7" height="6.3" fill="#d8e9f1"/>
<rect x="254.5" y="678.3" width="7" height="6.3" fill="#cae1ee"/>
<rect x="261.4" y="678.3" width="7" height="6.3" fill="#b6d7e8"/>
<rect x="268.3" y="678.3" width="7" height="6.3" fill="#a7d0e4"/>
<rect x="275.2" y="678.3" width="7" height="6.3" fill="#98c8e0"/>
<rect x="282.1" y="678.3" width="7" height="6.3" fill="#8ac0db"/>
<rect x="288.9" y="678.3" width="7" height="6.3" fill="#7bb6d6"/>
<rect x="295.8" y="678.3" width="7" height="6.3" fill="#6bacd1"/>
<rect x="302.7" y="678.3" width="7" height="6.3" fill="#5fa5cd"/>
<rect x="309.6" y="678.3" width="7" height="6.3" fill="#529dc8"/>
<rect x="316.5" y="678.3" width="7" height="6.3" fill="#4695c4"/>
<rect x="323.4" y="678.3" width="7" height="6.3" fill="#3f8ec0"/>
<rect x="330.3" y="678.3" width="7" height="6.3" fill="#3b88be"/>
<rect x="337.1" y="678.3" width="7" height="6.3" fill="#3783bb"/>
<rect x="344.0" y="678.3" width="7" height="6.3" fill="#3480b9"/>
<rect x="350.9" y="678.3" width="7" height="6.3" fill="#337eb8"/>
<rect x="357.8" y="678.3" width="7" height="6.3" fill="#307ab6"/>
<rect x="364.7" y="678.3" width="7" height="6.3" fill="#2e77b5"/>
<rect x="371.6" y="678.3" width="7" height="6.3" fill="#2b73b3"/>
<rect x="378.4" y="678.3" width="7" height="6.3" fill="#276eb0"/>
<rect x="385.3" y="678.3" width="7" height="6.3" fill="#246aae"/>
<rect x="392.2" y="678.3" width="7" height="6.3" fill="#2065ab"/>
<rect x="399.1" y="678.3" width="7" height="6.3" fill="#1d5fa2"/>
<rect x="406.0" y="678.3" width="7" height="6.3" fill="#1a5899"/>
<rect x="412.9" y="678.3" width="7" height="6.3" fill="#175290"/>
<rect x="419.7" y="678.3" width="7" height="6.3" fill="#134c87"/>
<rect x="426.6" y="678.3" width="7" height="6.3" fill="#114781"/>
<rect x="433.5" y="678.3" width="7" height="6.3" fill="#0e4179"/>
<rect x="440.4" y="678.3" width="7" height="6.3" fill="#0d3f76"/>
<rect x="447.3" y="678.3" width="7" height="6.3" fill="#0c3d73"/>
<rect x="454.2" y="678.3" width="7" height="6.3" fill="#09386d"/>
<rect x="461.0" y="678.3" width="7" height="6.3" fill="#08366a"/>
<rect x="467.9" y="678.3" width="7" height="6.3" fill="#08366a"/>
<rect x="474.8" y="678.3" width="7" height="6.3" fill="#08366a"/>
<rect x="481.7" y="678.3" width="7" height="6.3" fill="#08366a"/>
<rect x="488.6" y="678.3" width="7" height="6.3" fill="#08366a"/>
<rect x="495.5" y="678.3" width="7" height="6.3" fill="#08366a"/>
<rect x="502.4" y="678.3" width="7" height="6.3" fill="#08366a"/>
<rect x="509.2" y="678.3" width="7" height="6.3" fill="#08366a"/>
<rect x="516.1" y="678.3" width="7" height="6.3" fill="#08366a"/>
<rect x="523.0" y="678.3" width="7" height="6.3" fill="#08366a"/>
<rect x="529.9" y="678.3" width="7" height="6.3" fill="#08366a"/>
<rect x="536.8" y="678.3" width="7" height="6.3" fill="#08366a"/>
<rect x="543.7" y="678.3" width="7" height="6.3" fill="#08366a"/>
<rect x="550.5" y="678.3" width="7" height="6.3" fill="#08366a"/>
<rect x="557.4" y="678.3" width="7" height="6.3" fill="#08366a"/>
<rect x="564.3" y="678.3" width="7" height="6.3" fill="#08366a"/>
<rect x="571.2" y="678.3" width="7" height="6.3" fill="#08366a"/>
<rect x="578.1" y="678.3" width="7" height="6.3" fill="#08366a"/>
<rect x="585.0" y="678.3" width="7" height="6.3" fill="#08366a"/>
<rect x="591.8" y="678.3" width="7" height="6.3" fill="#08366a"/>
<rect x="598.7" y="678.3" width="7" height="6.3" fill="#08366a"/>
<rect x="605.6" y="678.3" width="7" height="6.3" fill="#08366a"/>
<rect x="130.6" y="672.1" width="7" height="6.3" fill="#d35a4a"/>
<rect x="137.5" y="672.1" width="7" height="6.3" fill="#d35a4a"/>
<rect x="144.4" y="672.1" width="7" height="6.3" fill="#d35a4a"/>
<rect x="151.3" y="672.1" width="7" height="6.3" fill="#d25849"/>
<rect x="158.2" y="672.1" width="7" height="6.3" fill="#d25849"/>
<rect x="165.0" y="672.1" width="7" height="6.3" fill="#d25849"/>
<rect x="171.9" y="672.1" width="7" height="6.3" fill="#d6604d"/>
<rect x="178.8" y="672.1" width="7" height="6.3" fill="#dd7059"/>
<rect x="185.7" y="672.1" width="7" height="6.3" fill="#e6866a"/>
<rect x="192.6" y="672.1" width="7" height="6.3" fill="#f19e7d"/>
<rect x="199.5" y="672.1" width="7" height="6.3" fill="#f6b191"/>
<rect x="206.3" y="672.1" width="7" height="6.3" fill="#f9c4a9"/>
<rect x="213.2" y="672.1" width="7" height="6.3" fill="#fdd9c4"/>
<rect x="220.1" y="672.1" width="7" height="6.3" fill="#fbe6da"/>
<rect x="227.0" y="672.1" width="7" height="6.3" fill="#f8f1ed"/>
<rect x="233.9" y="672.1" width="7" height="6.3" fill="#f3f5f6"/>
<rect x="240.8" y="672.1" width="7" height="6.3" fill="#e6eff4"/>
<rect x="247.6" y="672.1" width="7" height="6.3" fill="#dae9f2"/>
<rect x="254.5" y="672.1" width="7" height="6.3" fill="#cfe4ef"/>
<rect x="261.4" y="672.1" width="7" height="6.3" fill="#bddbea"/>
<rect x="268.3" y="672.1" width="7" height="6.3" fill="#aed3e6"/>
<rect x="275.2" y="672.1" width="7" height="6.3" fill="#a0cce2"/>
<rect x="282.1" y="672.1" width="7" height="6.3" fill="#93c6de"/>
<rect x="288.9" y="672.1" width="7" height="6.3" fill="#84bcd9"/>
<rect x="295.8" y="672.1" width="7" height="6.3" fill="#75b2d4"/>
<rect x="302.7" y="672.1" width="7" height="6.3" fill="#68abd0"/>
<rect x="309.6" y="672.1" width="7" height="6.3" fill="#59a1ca"/>
<rect x="316.5" y="672.1" width="7" height="6.3" fill="#4997c5"/>
<rect x="323.4" y="672.1" width="7" height="6.3" fill="#408fc1"/>
<rect x="330.3" y="672.1" width="7" height="6.3" fill="#3c8abe"/>
<rect x="337.1" y="672.1" width="7" height="6.3" fill="#3885bc"/>
<rect x="344.0" y="672.1" width="7" height="6.3" fill="#3681ba"/>
<rect x="350.9" y="672.1" width="7" height="6.3" fill="#337eb8"/>
<rect x="357.8" y="672.1" width="7" height="6.3" fill="#327cb7"/>
<rect x="364.7" y="672.1" width="7" height="6.3" fill="#2f79b5"/>
<rect x="371.6" y="672.1" width="7" height="6.3" fill="#2b73b3"/>
<rect x="378.4" y="672.1" width="7" height="6.3" fill="#2870b1"/>
<rect x="385.3" y="672.1" width="7" height="6.3" fill="#246aae"/>
<rect x="392.2" y="672.1" width="7" height="6.3" fill="#2065ab"/>
<rect x="399.1" y="672.1" width="7" height="6.3" fill="#1d5fa2"/>
<rect x="406.0" y="672.1" width="7" height="6.3" fill="#1a5899"/>
<rect x="412.9" y="672.1" width="7" height="6.3" fill="#175290"/>
<rect x="419.7" y="672.1" width="7" height="6.3" fill="#134c87"/>
<rect x="426.6" y="672.1" width="7" height="6.3" fill="#114781"/>
<rect x="433.5" y="672.1" width="7" height="6.3" fill="#0e4179"/>
<rect x="440.4" y="672.1" width="7" height="6.3" fill="#0d3f76"/>
<rect x="447.3" y="672.1" width="7" height="6.3" fill="#0c3d73"/>
<rect x="454.2" y="672.1" width="7" height="6.3" fill="#09386d"/>
<rect x="461.0" y="672.1" width="7" height="6.3" fill="#08366a"/>
<rect x="467.9" y="672.1" width="7" height="6.3" fill="#08366a"/>
<rect x="474.8" y="672.1" width="7" height="6.3" fill="#08366a"/>
<rect x="481.7" y="672.1" width="7" height="6.3" fill="#08366a"/>
<rect x="488.6" y="672.1" width="7" height="6.3" fill="#08366a"/>
<rect x="495.5" y="672.1" width="7" height="6.3" fill="#08366a"/>
<rect x="502.4" y="672.1" width="7" height="6.3" fill="#08366a"/>
<rect x="509.2" y="672.1" width="7" height="6.3" fill="#08366a"/>
<rect x="516.1" y="672.1" width="7" height="6.3" fill="#08366a"/>
<rect x="523.0" y="672.1" width="7" height="6.3" fill="#08366a"/>
<rect x="529.9" y="672.1" width="7" height="6.3" fill="#08366a"/>
<rect x="536.8" y="672.1" width="7" height="6.3" fill="#08366a"/>
<rect x="543.7" y="672.1" width="7" height="6.3" fill="#08366a"/>
<rect x="550.5" y="672.1" width="7" height="6.3" fill="#08366a"/>
<rect x="557.4" y="672.1" width="7" height="6.3" fill="#08366a"/>
<rect x="564.3" y="672.1" width="7" height="6.3" fill="#08366a"/>
<rect x="571.2" y="672.1" width="7" height="6.3" fill="#08366a"/>
<rect x="578.1" y="672.1" width="7" height="6.3" fill="#08366a"/>
<rect x="585.0" y="672.1" width="7" height="6.3" fill="#08366a"/>
<rect x="591.8" y="672.1" width="7" height="6.3" fill="#08366a"/>
<rect x="598.7" y="672.1" width="7" height="6.3" fill="#08366a"/>
<rect x="605.6" y="672.1" width="7" height="6.3" fill="#08366a"/>
<rect x="130.6" y="665.8" width="7" height="6.3" fill="#d7634f"/>
<rect x="137.5" y="665.8" width="7" height="6.3" fill="#d6604d"/>
<rect x="144.4" y="665.8" width="7" height="6.3" fill="#d6604d"/>
<rect x="151.3" y="665.8" width="7" height="6.3" fill="#d6604d"/>
<rect x="158.2" y="665.8" width="7" height="6.3" fill="#d6604d"/>
<rect x="165.0" y="665.8" width="7" height="6.3" fill="#d6604d"/>
<rect x="171.9" y="665.8" width="7" height="6.3" fill="#d86551"/>
<rect x="178.8" y="665.8" width="7" height="6.3" fill="#df765e"/>
<rect x="185.7" y="665.8" width="7" height="6.3" fill="#e98b6e"/>
<rect x="192.6" y="665.8" width="7" height="6.3" fill="#f2a17f"/>
<rect x="199.5" y="665.8" width="7" height="6.3" fill="#f6b394"/>
<rect x="206.3" y="665.8" width="7" height="6.3" fill="#f9c6ac"/>
<rect x="213.2" y="665.8" width="7" height="6.3" fill="#fddbc7"/>
<rect x="220.1" y="665.8" width="7" height="6.3" fill="#fbe6da"/>
<rect x="227.0" y="665.8" width="7" height="6.3" fill="#f8f1ed"/>
<rect x="233.9" y="665.8" width="7" height="6.3" fill="#f3f5f6"/>
<rect x="240.8" y="665.8" width="7" height="6.3" fill="#e7f0f4"/>
<rect x="247.6" y="665.8" width="7" height="6.3" fill="#ddebf2"/>
<rect x="254.5" y="665.8" width="7" height="6.3" fill="#d2e6f0"/>
<rect x="261.4" y="665.8" width="7" height="6.3" fill="#c2ddec"/>
<rect x="268.3" y="665.8" width="7" height="6.3" fill="#b3d6e8"/>
<rect x="275.2" y="665.8" width="7" height="6.3" fill="#a7d0e4"/>
<rect x="282.1" y="665.8" width="7" height="6.3" fill="#98c8e0"/>
<rect x="288.9" y="665.8" width="7" height="6.3" fill="#8ac0db"/>
<rect x="295.8" y="665.8" width="7" height="6.3" fill="#7eb8d7"/>
<rect x="302.7" y="665.8" width="7" height="6.3" fill="#6eaed2"/>
<rect x="309.6" y="665.8" width="7" height="6.3" fill="#5fa5cd"/>
<rect x="316.5" y="665.8" width="7" height="6.3" fill="#4f9bc7"/>
<rect x="323.4" y="665.8" width="7" height="6.3" fill="#4393c3"/>
<rect x="330.3" y="665.8" width="7" height="6.3" fill="#3e8cbf"/>
<rect x="337.1" y="665.8" width="7" height="6.3" fill="#3a87bd"/>
<rect x="344.0" y="665.8" width="7" height="6.3" fill="#3783bb"/>
<rect x="350.9" y="665.8" width="7" height="6.3" fill="#3480b9"/>
<rect x="357.8" y="665.8" width="7" height="6.3" fill="#327cb7"/>
<rect x="364.7" y="665.8" width="7" height="6.3" fill="#2f79b5"/>
<rect x="371.6" y="665.8" width="7" height="6.3" fill="#2c75b4"/>
<rect x="378.4" y="665.8" width="7" height="6.3" fill="#2870b1"/>
<rect x="385.3" y="665.8" width="7" height="6.3" fill="#246aae"/>
<rect x="392.2" y="665.8" width="7" height="6.3" fill="#2065ab"/>
<rect x="399.1" y="665.8" width="7" height="6.3" fill="#1d5fa2"/>
<rect x="406.0" y="665.8" width="7" height="6.3" fill="#1a5899"/>
<rect x="412.9" y="665.8" width="7" height="6.3" fill="#175290"/>
<rect x="419.7" y="665.8" width="7" height="6.3" fill="#134c87"/>
<rect x="426.6" y="665.8" width="7" height="6.3" fill="#114781"/>
<rect x="433.5" y="665.8" width="7" height="6.3" fill="#0e4179"/>
<rect x="440.4" y="665.8" width="7" height="6.3" fill="#0d3f76"/>
<rect x="447.3" y="665.8" width="7" height="6.3" fill="#0c3d73"/>
<rect x="454.2" y="665.8" width="7" height="6.3" fill="#09386d"/>
<rect x="461.0" y="665.8" width="7" height="6.3" fill="#08366a"/>
<rect x="467.9" y="665.8" width="7" height="6.3" fill="#08366a"/>
<rect x="474.8" y="665.8" width="7" height="6.3" fill="#08366a"/>
<rect x="481.7" y="665.8" width="7" height="6.3" fill="#08366a"/>
<rect x="488.6" y="665.8" width="7" height="6.3" fill="#08366a"/>
<rect x="495.5" y="665.8" width="7" height="6.3" fill="#08366a"/>
<rect x="502.4" y="665.8" width="7" height="6.3" fill="#08366a"/>
<rect x="509.2" y="665.8" width="7" height="6.3" fill="#08366a"/>
<rect x="516.1" y="665.8" width="7" height="6.3" fill="#08366a"/>
<rect x="523.0" y="665.8" width="7" height="6.3" fill="#08366a"/>
<rect x="529.9" y="665.8" width="7" height="6.3" fill="#08366a"/>
<rect x="536.8" y="665.8" width="7" height="6.3" fill="#08366a"/>
<rect x="543.7" y="665.8" width="7" height="6.3" fill="#08366a"/>
<rect x="550.5" y="665.8" width="7" height="6.3" fill="#08366a"/>
<rect x="557.4" y="665.8" width="7" height="6.3" fill="#08366a"/>
<rect x="564.3" y="665.8" width="7" height="6.3" fill="#08366a"/>
<rect x="571.2" y="665.8" width="7" height="6.3" fill="#08366a"/>
<rect x="578.1" y="665.8" width="7" height="6.3" fill="#08366a"/>
<rect x="585.0" y="665.8" width="7" height="6.3" fill="#08366a"/>
<rect x="591.8" y="665.8" width="7" height="6.3" fill="#08366a"/>
<rect x="598.7" y="665.8" width="7" height="6.3" fill="#08366a"/>
<rect x="605.6" y="665.8" width="7" height="6.3" fill="#08366a"/>
<rect x="130.6" y="659.6" width="7" height="6.3" fill="#db6b55"/>
<rect x="137.5" y="659.6" width="7" height="6.3" fill="#da6853"/>
<rect x="144.4" y="659.6" width="7" height="6.3" fill="#da6853"/>
<rect x="151.3" y="659.6" width="7" height="6.3" fill="#da6853"/>
<rect x="158.2" y="659.6" width="7" height="6.3" fill="#da6853"/>
<rect x="165.0" y="659.6" width="7" height="6.3" fill="#da6853"/>
<rect x="171.9" y="659.6" width="7" height="6.3" fill="#dc6e57"/>
<rect x="178.8" y="659.6" width="7" height="6.3" fill="#e37e64"/>
<rect x="185.7" y="659.6" width="7" height="6.3" fill="#eb9172"/>
<rect x="192.6" y="659.6" width="7" height="6.3" fill="#f4a683"/>
<rect x="199.5" y="659.6" width="7" height="6.3" fill="#f7b596"/>
<rect x="206.3" y="659.6" width="7" height="6.3" fill="#fac8af"/>
<rect x="213.2" y="659.6" width="7" height="6.3" fill="#fddbc7"/>
<rect x="220.1" y="659.6" width="7" height="6.3" fill="#fbe6da"/>
<rect x="227.0" y="659.6" width="7" height="6.3" fill="#f8f1ed"/>
<rect x="233.9" y="659.6" width="7" height="6.3" fill="#f3f5f6"/>
<rect x="240.8" y="659.6" width="7" height="6.3" fill="#e9f0f4"/>
<rect x="247.6" y="659.6" width="7" height="6.3" fill="#deebf2"/>
<rect x="254.5" y="659.6" width="7" height="6.3" fill="#d5e7f1"/>
<rect x="261.4" y="659.6" width="7" height="6.3" fill="#cae1ee"/>
<rect x="268.3" y="659.6" width="7" height="6.3" fill="#bbdaea"/>
<rect x="275.2" y="659.6" width="7" height="6.3" fill="#acd2e5"/>
<rect x="282.1" y="659.6" width="7" height="6.3" fill="#a0cce2"/>
<rect x="288.9" y="659.6" width="7" height="6.3" fill="#93c6de"/>
<rect x="295.8" y="659.6" width="7" height="6.3" fill="#84bcd9"/>
<rect x="302.7" y="659.6" width="7" height="6.3" fill="#75b2d4"/>
<rect x="309.6" y="659.6" width="7" height="6.3" fill="#65a9cf"/>
<rect x="316.5" y="659.6" width="7" height="6.3" fill="#569fc9"/>
<rect x="323.4" y="659.6" width="7" height="6.3" fill="#4695c4"/>
<rect x="330.3" y="659.6" width="7" height="6.3" fill="#3f8ec0"/>
<rect x="337.1" y="659.6" width="7" height="6.3" fill="#3b88be"/>
<rect x="344.0" y="659.6" width="7" height="6.3" fill="#3783bb"/>
<rect x="350.9" y="659.6" width="7" height="6.3" fill="#3681ba"/>
<rect x="357.8" y="659.6" width="7" height="6.3" fill="#337eb8"/>
<rect x="364.7" y="659.6" width="7" height="6.3" fill="#307ab6"/>
<rect x="371.6" y="659.6" width="7" height="6.3" fill="#2c75b4"/>
<rect x="378.4" y="659.6" width="7" height="6.3" fill="#2870b1"/>
<rect x="385.3" y="659.6" width="7" height="6.3" fill="#246aae"/>
<rect x="392.2" y="659.6" width="7" height="6.3" fill="#2065ab"/>
<rect x="399.1" y="659.6" width="7" height="6.3" fill="#1d5fa2"/>
<rect x="406.0" y="659.6" width="7" height="6.3" fill="#1a5899"/>
<rect x="412.9" y="659.6" width="7" height="6.3" fill="#175290"/>
<rect x="419.7" y="659.6" width="7" height="6.3" fill="#134c87"/>
<rect x="426.6" y="659.6" width="7" height="6.3" fill="#114781"/>
<rect x="433.5" y="659.6" width="7" height="6.3" fill="#0e4179"/>
<rect x="440.4" y="659.6" width="7" height="6.3" fill="#0d3f76"/>
<rect x="447.3" y="659.6" width="7" height="6.3" fill="#0c3d73"/>
<rect x="454.2" y="659.6" width="7" height="6.3" fill="#09386d"/>
<rect x="461.0" y="659.6" width="7" height="6.3" fill="#08366a"/>
<rect x="467.9" y="659.6" width="7" height="6.3" fill="#08366a"/>
<rect x="474.8" y="659.6" width="7" height="6.3" fill="#08366a"/>
<rect x="481.7" y="659.6" width="7" height="6.3" fill="#08366a"/>
<rect x="488.6" y="659.6" width="7" height="6.3" fill="#08366a"/>
<rect x="495.5" y="659.6" width="7" height="6.3" fill="#08366a"/>
<rect x="502.4" y="659.6" width="7" height="6.3" fill="#08366a"/>
<rect x="509.2" y="659.6" width="7" height="6.3" fill="#08366a"/>
<rect x="516.1" y="659.6" width="7" height="6.3" fill="#08366a"/>
<rect x="523.0" y="659.6" width="7" height="6.3" fill="#08366a"/>
<rect x="529.9" y="659.6" width="7" height="6.3" fill="#08366a"/>
<rect x="536.8" y="659.6" width="7" height="6.3" fill="#08366a"/>
<rect x="543.7" y="659.6" width="7" height="6.3" fill="#08366a"/>
<rect x="550.5" y="659.6" width="7" height="6.3" fill="#08366a"/>
<rect x="557.4" y="659.6" width="7" height="6.3" fill="#08366a"/>
<rect x="564.3" y="659.6" width="7" height="6.3" fill="#08366a"/>
<rect x="571.2" y="659.6" width="7" height="6.3" fill="#08366a"/>
<rect x="578.1" y="659.6" width="7" height="6.3" fill="#08366a"/>
<rect x="585.0" y="659.6" width="7" height="6.3" fill="#08366a"/>
<rect x="591.8" y="659.6" width="7" height="6.3" fill="#08366a"/>
<rect x="598.7" y="659.6" width="7" height="6.3" fill="#08366a"/>
<rect x="605.6" y="659.6" width="7" height="6.3" fill="#08366a"/>
<rect x="130.6" y="653.4" width="7" height="6.3" fill="#e17860"/>
<rect x="137.5" y="653.4" width="7" height="6.3" fill="#df765e"/>
<rect x="144.4" y="653.4" width="7" height="6.3" fill="#df765e"/>
<rect x="151.3" y="653.4" width="7" height="6.3" fill="#df765e"/>
<rect x="158.2" y="653.4" width="7" height="6.3" fill="#df765e"/>
<rect x="165.0" y="653.4" width="7" height="6.3" fill="#df765e"/>
<rect x="171.9" y="653.4" width="7" height="6.3" fill="#e27b62"/>
<rect x="178.8" y="653.4" width="7" height="6.3" fill="#e8896c"/>
<rect x="185.7" y="653.4" width="7" height="6.3" fill="#ef9979"/>
<rect x="192.6" y="653.4" width="7" height="6.3" fill="#f5ac8b"/>
<rect x="199.5" y="653.4" width="7" height="6.3" fill="#f7b99c"/>
<rect x="206.3" y="653.4" width="7" height="6.3" fill="#facab1"/>
<rect x="213.2" y="653.4" width="7" height="6.3" fill="#fddcc9"/>
<rect x="220.1" y="653.4" width="7" height="6.3" fill="#fae7dc"/>
<rect x="227.0" y="653.4" width="7" height="6.3" fill="#f8f1ed"/>
<rect x="233.9" y="653.4" width="7" height="6.3" fill="#f5f6f7"/>
<rect x="240.8" y="653.4" width="7" height="6.3" fill="#eaf1f5"/>
<rect x="247.6" y="653.4" width="7" height="6.3" fill="#e1edf3"/>
<rect x="254.5" y="653.4" width="7" height="6.3" fill="#d8e9f1"/>
<rect x="261.4" y="653.4" width="7" height="6.3" fill="#d1e5f0"/>
<rect x="268.3" y="653.4" width="7" height="6.3" fill="#c2ddec"/>
<rect x="275.2" y="653.4" width="7" height="6.3" fill="#b6d7e8"/>
<rect x="282.1" y="653.4" width="7" height="6.3" fill="#a7d0e4"/>
<rect x="288.9" y="653.4" width="7" height="6.3" fill="#9bc9e0"/>
<rect x="295.8" y="653.4" width="7" height="6.3" fill="#8dc2dc"/>
<rect x="302.7" y="653.4" width="7" height="6.3" fill="#7eb8d7"/>
<rect x="309.6" y="653.4" width="7" height="6.3" fill="#6bacd1"/>
<rect x="316.5" y="653.4" width="7" height="6.3" fill="#59a1ca"/>
<rect x="323.4" y="653.4" width="7" height="6.3" fill="#4997c5"/>
<rect x="330.3" y="653.4" width="7" height="6.3" fill="#408fc1"/>
<rect x="337.1" y="653.4" width="7" height="6.3" fill="#3c8abe"/>
<rect x="344.0" y="653.4" width="7" height="6.3" fill="#3885bc"/>
<rect x="350.9" y="653.4" width="7" height="6.3" fill="#3681ba"/>
<rect x="357.8" y="653.4" width="7" height="6.3" fill="#337eb8"/>
<rect x="364.7" y="653.4" width="7" height="6.3" fill="#307ab6"/>
<rect x="371.6" y="653.4" width="7" height="6.3" fill="#2c75b4"/>
<rect x="378.4" y="653.4" width="7" height="6.3" fill="#2870b1"/>
<rect x="385.3" y="653.4" width="7" height="6.3" fill="#246aae"/>
<rect x="392.2" y="653.4" width="7" height="6.3" fill="#2065ab"/>
<rect x="399.1" y="653.4" width="7" height="6.3" fill="#1d5fa2"/>
<rect x="406.0" y="653.4" width="7" height="6.3" fill="#1a5899"/>
<rect x="412.9" y="653.4" width="7" height="6.3" fill="#175290"/>
<rect x="419.7" y="653.4" width="7" height="6.3" fill="#134c87"/>
<rect x="426.6" y="653.4" width="7" height="6.3" fill="#114781"/>
<rect x="433.5" y="653.4" width="7" height="6.3" fill="#0e4179"/>
<rect x="440.4" y="653.4" width="7" height="6.3" fill="#0d3f76"/>
<rect x="447.3" y="653.4" width="7" height="6.3" fill="#0c3d73"/>
<rect x="454.2" y="653.4" width="7" height="6.3" fill="#09386d"/>
<rect x="461.0" y="653.4" width="7" height="6.3" fill="#08366a"/>
<rect x="467.9" y="653.4" width="7" height="6.3" fill="#08366a"/>
<rect x="474.8" y="653.4" width="7" height="6.3" fill="#08366a"/>
<rect x="481.7" y="653.4" width="7" height="6.3" fill="#08366a"/>
<rect x="488.6" y="653.4" width="7" height="6.3" fill="#08366a"/>
<rect x="495.5" y="653.4" width="7" height="6.3" fill="#08366a"/>
<rect x="502.4" y="653.4" width="7" height="6.3" fill="#08366a"/>
<rect x="509.2" y="653.4" width="7" height="6.3" fill="#08366a"/>
<rect x="516.1" y="653.4" width="7" height="6.3" fill="#08366a"/>
<rect x="523.0" y="653.4" width="7" height="6.3" fill="#08366a"/>
<rect x="529.9" y="653.4" width="7" height="6.3" fill="#08366a"/>
<rect x="536.8" y="653.4" width="7" height="6.3" fill="#08366a"/>
<rect x="543.7" y="653.4" width="7" height="6.3" fill="#08366a"/>
<rect x="550.5" y="653.4" width="7" height="6.3" fill="#08366a"/>
<rect x="557.4" y="653.4" width="7" height="6.3" fill="#08366a"/>
<rect x="564.3" y="653.4" width="7" height="6.3" fill="#08366a"/>
<rect x="571.2" y="653.4" width="7" height="6.3" fill="#08366a"/>
<rect x="578.1" y="653.4" width="7" height="6.3" fill="#08366a"/>
<rect x="585.0" y="653.4" width="7" height="6.3" fill="#08366a"/>
<rect x="591.8" y="653.4" width="7" height="6.3" fill="#08366a"/>
<rect x="598.7" y="653.4" width="7" height="6.3" fill="#08366a"/>
<rect x="605.6" y="653.4" width="7" height="6.3" fill="#08366a"/>
<rect x="130.6" y="647.2" width="7" height="6.3" fill="#e8896c"/>
<rect x="137.5" y="647.2" width="7" height="6.3" fill="#e8896c"/>
<rect x="144.4" y="647.2" width="7" height="6.3" fill="#e8896c"/>
<rect x="151.3" y="647.2" width="7" height="6.3" fill="#e8896c"/>
<rect x="158.2" y="647.2" width="7" height="6.3" fill="#e6866a"/>
<rect x="165.0" y="647.2" width="7" height="6.3" fill="#e8896c"/>
<rect x="171.9" y="647.2" width="7" height="6.3" fill="#e98b6e"/>
<rect x="178.8" y="647.2" width="7" height="6.3" fill="#ef9979"/>
<rect x="185.7" y="647.2" width="7" height="6.3" fill="#f4a683"/>
<rect x="192.6" y="647.2" width="7" height="6.3" fill="#f7b596"/>
<rect x="199.5" y="647.2" width="7" height="6.3" fill="#f9c2a7"/>
<rect x="206.3" y="647.2" width="7" height="6.3" fill="#fbd0b9"/>
<rect x="213.2" y="647.2" width="7" height="6.3" fill="#fcdecd"/>
<rect x="220.1" y="647.2" width="7" height="6.3" fill="#fae8de"/>
<rect x="227.0" y="647.2" width="7" height="6.3" fill="#f8f1ed"/>
<rect x="233.9" y="647.2" width="7" height="6.3" fill="#f5f6f7"/>
<rect x="240.8" y="647.2" width="7" height="6.3" fill="#ecf2f5"/>
<rect x="247.6" y="647.2" width="7" height="6.3" fill="#e4eef4"/>
<rect x="254.5" y="647.2" width="7" height="6.3" fill="#ddebf2"/>
<rect x="261.4" y="647.2" width="7" height="6.3" fill="#d4e6f1"/>
<rect x="268.3" y="647.2" width="7" height="6.3" fill="#cae1ee"/>
<rect x="275.2" y="647.2" width="7" height="6.3" fill="#bddbea"/>
<rect x="282.1" y="647.2" width="7" height="6.3" fill="#aed3e6"/>
<rect x="288.9" y="647.2" width="7" height="6.3" fill="#a2cde3"/>
<rect x="295.8" y="647.2" width="7" height="6.3" fill="#93c6de"/>
<rect x="302.7" y="647.2" width="7" height="6.3" fill="#84bcd9"/>
<rect x="309.6" y="647.2" width="7" height="6.3" fill="#71b0d3"/>
<rect x="316.5" y="647.2" width="7" height="6.3" fill="#5fa5cd"/>
<rect x="323.4" y="647.2" width="7" height="6.3" fill="#4f9bc7"/>
<rect x="330.3" y="647.2" width="7" height="6.3" fill="#4291c2"/>
<rect x="337.1" y="647.2" width="7" height="6.3" fill="#3e8cbf"/>
<rect x="344.0" y="647.2" width="7" height="6.3" fill="#3a87bd"/>
<rect x="350.9" y="647.2" width="7" height="6.3" fill="#3783bb"/>
<rect x="357.8" y="647.2" width="7" height="6.3" fill="#3480b9"/>
<rect x="364.7" y="647.2" width="7" height="6.3" fill="#307ab6"/>
<rect x="371.6" y="647.2" width="7" height="6.3" fill="#2e77b5"/>
<rect x="378.4" y="647.2" width="7" height="6.3" fill="#2a71b2"/>
<rect x="385.3" y="647.2" width="7" height="6.3" fill="#246aae"/>
<rect x="392.2" y="647.2" width="7" height="6.3" fill="#2065ab"/>
<rect x="399.1" y="647.2" width="7" height="6.3" fill="#1d5fa2"/>
<rect x="406.0" y="647.2" width="7" height="6.3" fill="#1a5899"/>
<rect x="412.9" y="647.2" width="7" height="6.3" fill="#175290"/>
<rect x="419.7" y="647.2" width="7" height="6.3" fill="#134c87"/>
<rect x="426.6" y="647.2" width="7" height="6.3" fill="#114781"/>
<rect x="433.5" y="647.2" width="7" height="6.3" fill="#0e4179"/>
<rect x="440.4" y="647.2" width="7" height="6.3" fill="#0d3f76"/>
<rect x="447.3" y="647.2" width="7" height="6.3" fill="#0c3d73"/>
<rect x="454.2" y="647.2" width="7" height="6.3" fill="#09386d"/>
<rect x="461.0" y="647.2" width="7" height="6.3" fill="#08366a"/>
<rect x="467.9" y="647.2" width="7" height="6.3" fill="#08366a"/>
<rect x="474.8" y="647.2" width="7" height="6.3" fill="#08366a"/>
<rect x="481.7" y="647.2" width="7" height="6.3" fill="#08366a"/>
<rect x="488.6" y="647.2" width="7" height="6.3" fill="#08366a"/>
<rect x="495.5" y="647.2" width="7" height="6.3" fill="#08366a"/>
<rect x="502.4" y="647.2" width="7" height="6.3" fill="#08366a"/>
<rect x="509.2" y="647.2" width="7" height="6.3" fill="#08366a"/>
<rect x="516.1" y="647.2" width="7" height="6.3" fill="#08366a"/>
<rect x="523.0" y="647.2" width="7" height="6.3" fill="#08366a"/>
<rect x="529.9" y="647.2" width="7" height="6.3" fill="#08366a"/>
<rect x="536.8" y="647.2" width="7" height="6.3" fill="#08366a"/>
<rect x="543.7" y="647.2" width="7" height="6.3" fill="#08366a"/>
<rect x="550.5" y="647.2" width="7" height="6.3" fill="#08366a"/>
<rect x="557.4" y="647.2" width="7" height="6.3" fill="#08366a"/>
<rect x="564.3" y="647.2" width="7" height="6.3" fill="#08366a"/>
<rect x="571.2" y="647.2" width="7" height="6.3" fill="#08366a"/>
<rect x="578.1" y="647.2" width="7" height="6.3" fill="#08366a"/>
<rect x="585.0" y="647.2" width="7" height="6.3" fill="#08366a"/>
<rect x="591.8" y="647.2" width="7" height="6.3" fill="#08366a"/>
<rect x="598.7" y="647.2" width="7" height="6.3" fill="#08366a"/>
<rect x="605.6" y="647.2" width="7" height="6.3" fill="#08366a"/>
<rect x="130.6" y="641.0" width="7" height="6.3" fill="#f19e7d"/>
<rect x="137.5" y="641.0" width="7" height="6.3" fill="#f19e7d"/>
<rect x="144.4" y="641.0" width="7" height="6.3" fill="#f09c7b"/>
<rect x="151.3" y="641.0" width="7" height="6.3" fill="#f09c7b"/>
<rect x="158.2" y="641.0" width="7" height="6.3" fill="#f09c7b"/>
<rect x="165.0" y="641.0" width="7" height="6.3" fill="#f09c7b"/>
<rect x="171.9" y="641.0" width="7" height="6.3" fill="#f2a17f"/>
<rect x="178.8" y="641.0" width="7" height="6.3" fill="#f5a886"/>
<rect x="185.7" y="641.0" width="7" height="6.3" fill="#f6b394"/>
<rect x="192.6" y="641.0" width="7" height="6.3" fill="#f8bda1"/>
<rect x="199.5" y="641.0" width="7" height="6.3" fill="#fac8af"/>
<rect x="206.3" y="641.0" width="7" height="6.3" fill="#fcd7c2"/>
<rect x="213.2" y="641.0" width="7" height="6.3" fill="#fce0d0"/>
<rect x="220.1" y="641.0" width="7" height="6.3" fill="#fae9df"/>
<rect x="227.0" y="641.0" width="7" height="6.3" fill="#f8f2ef"/>
<rect x="233.9" y="641.0" width="7" height="6.3" fill="#f5f6f7"/>
<rect x="240.8" y="641.0" width="7" height="6.3" fill="#edf2f5"/>
<rect x="247.6" y="641.0" width="7" height="6.3" fill="#e6eff4"/>
<rect x="254.5" y="641.0" width="7" height="6.3" fill="#e0ecf3"/>
<rect x="261.4" y="641.0" width="7" height="6.3" fill="#d8e9f1"/>
<rect x="268.3" y="641.0" width="7" height="6.3" fill="#d1e5f0"/>
<rect x="275.2" y="641.0" width="7" height="6.3" fill="#c2ddec"/>
<rect x="282.1" y="641.0" width="7" height="6.3" fill="#b6d7e8"/>
<rect x="288.9" y="641.0" width="7" height="6.3" fill="#a7d0e4"/>
<rect x="295.8" y="641.0" width="7" height="6.3" fill="#9bc9e0"/>
<rect x="302.7" y="641.0" width="7" height="6.3" fill="#8ac0db"/>
<rect x="309.6" y="641.0" width="7" height="6.3" fill="#78b4d5"/>
<rect x="316.5" y="641.0" width="7" height="6.3" fill="#65a9cf"/>
<rect x="323.4" y="641.0" width="7" height="6.3" fill="#529dc8"/>
<rect x="330.3" y="641.0" width="7" height="6.3" fill="#4393c3"/>
<rect x="337.1" y="641.0" width="7" height="6.3" fill="#3e8cbf"/>
<rect x="344.0" y="641.0" width="7" height="6.3" fill="#3b88be"/>
<rect x="350.9" y="641.0" width="7" height="6.3" fill="#3783bb"/>
<rect x="357.8" y="641.0" width="7" height="6.3" fill="#3480b9"/>
<rect x="364.7" y="641.0" width="7" height="6.3" fill="#327cb7"/>
<rect x="371.6" y="641.0" width="7" height="6.3" fill="#2e77b5"/>
<rect x="378.4" y="641.0" width="7" height="6.3" fill="#2a71b2"/>
<rect x="385.3" y="641.0" width="7" height="6.3" fill="#246aae"/>
<rect x="392.2" y="641.0" width="7" height="6.3" fill="#2065ab"/>
<rect x="399.1" y="641.0" width="7" height="6.3" fill="#1d5fa2"/>
<rect x="406.0" y="641.0" width="7" height="6.3" fill="#1a5899"/>
<rect x="412.9" y="641.0" width="7" height="6.3" fill="#175290"/>
<rect x="419.7" y="641.0" width="7" height="6.3" fill="#134c87"/>
<rect x="426.6" y="641.0" width="7" height="6.3" fill="#114781"/>
<rect x="433.5" y="641.0" width="7" height="6.3" fill="#0e4179"/>
<rect x="440.4" y="641.0" width="7" height="6.3" fill="#0d3f76"/>
<rect x="447.3" y="641.0" width="7" height="6.3" fill="#0c3d73"/>
<rect x="454.2" y="641.0" width="7" height="6.3" fill="#09386d"/>
<rect x="461.0" y="641.0" width="7" height="6.3" fill="#08366a"/>
<rect x="467.9" y="641.0" width="7" height="6.3" fill="#08366a"/>
<rect x="474.8" y="641.0" width="7" height="6.3" fill="#08366a"/>
<rect x="481.7" y="641.0" width="7" height="6.3" fill="#08366a"/>
<rect x="488.6" y="641.0" width="7" height="6.3" fill="#08366a"/>
<rect x="495.5" y="641.0" width="7" height="6.3" fill="#08366a"/>
<rect x="502.4" y="641.0" width="7" height="6.3" fill="#08366a"/>
<rect x="509.2" y="641.0" width="7" height="6.3" fill="#08366a"/>
<rect x="516.1" y="641.0" width="7" height="6.3" fill="#08366a"/>
<rect x="523.0" y="641.0" width="7" height="6.3" fill="#08366a"/>
<rect x="529.9" y="641.0" width="7" height="6.3" fill="#08366a"/>
<rect x="536.8" y="641.0" width="7" height="6.3" fill="#08366a"/>
<rect x="543.7" y="641.0" width="7" height="6.3" fill="#08366a"/>
<rect x="550.5" y="641.0" width="7" height="6.3" fill="#08366a"/>
<rect x="557.4" y="641.0" width="7" height="6.3" fill="#08366a"/>
<rect x="564.3" y="641.0" width="7" height="6.3" fill="#08366a"/>
<rect x="571.2" y="641.0" width="7" height="6.3" fill="#08366a"/>
<rect x="578.1" y="641.0" width="7" height="6.3" fill="#08366a"/>
<rect x="585.0" y="641.0" width="7" height="6.3" fill="#08366a"/>
<rect x="591.8" y="641.0" width="7" height="6.3" fill="#08366a"/>
<rect x="598.7" y="641.0" width="7" height="6.3" fill="#08366a"/>
<rect x="605.6" y="641.0" width="7" height="6.3" fill="#08366a"/>
<rect x="130.6" y="634.7" width="7" height="6.3" fill="#f6b191"/>
<rect x="137.5" y="634.7" width="7" height="6.3" fill="#f6b191"/>
<rect x="144.4" y="634.7" width="7" height="6.3" fill="#f6af8e"/>
<rect x="151.3" y="634.7" width="7" height="6.3" fill="#f6af8e"/>
<rect x="158.2" y="634.7" width="7" height="6.3" fill="#f6af8e"/>
<rect x="165.0" y="634.7" width="7" height="6.3" fill="#f6af8e"/>
<rect x="171.9" y="634.7" width="7" height="6.3" fill="#f6b191"/>
<rect x="178.8" y="634.7" width="7" height="6.3" fill="#f7b799"/>
<rect x="185.7" y="634.7" width="7" height="6.3" fill="#f8bfa4"/>
<rect x="192.6" y="634.7" width="7" height="6.3" fill="#fac8af"/>
<rect x="199.5" y="634.7" width="7" height="6.3" fill="#fcd3bc"/>
<rect x="206.3" y="634.7" width="7" height="6.3" fill="#fddcc9"/>
<rect x="213.2" y="634.7" width="7" height="6.3" fill="#fbe4d6"/>
<rect x="220.1" y="634.7" width="7" height="6.3" fill="#f9ebe3"/>
<rect x="227.0" y="634.7" width="7" height="6.3" fill="#f8f2ef"/>
<rect x="233.9" y="634.7" width="7" height="6.3" fill="#f5f6f7"/>
<rect x="240.8" y="634.7" width="7" height="6.3" fill="#edf2f5"/>
<rect x="247.6" y="634.7" width="7" height="6.3" fill="#e7f0f4"/>
<rect x="254.5" y="634.7" width="7" height="6.3" fill="#e1edf3"/>
<rect x="261.4" y="634.7" width="7" height="6.3" fill="#dbeaf2"/>
<rect x="268.3" y="634.7" width="7" height="6.3" fill="#d4e6f1"/>
<rect x="275.2" y="634.7" width="7" height="6.3" fill="#c7e0ed"/>
<rect x="282.1" y="634.7" width="7" height="6.3" fill="#bbdaea"/>
<rect x="288.9" y="634.7" width="7" height="6.3" fill="#acd2e5"/>
<rect x="295.8" y="634.7" width="7" height="6.3" fill="#9dcbe1"/>
<rect x="302.7" y="634.7" width="7" height="6.3" fill="#8dc2dc"/>
<rect x="309.6" y="634.7" width="7" height="6.3" fill="#7bb6d6"/>
<rect x="316.5" y="634.7" width="7" height="6.3" fill="#68abd0"/>
<rect x="323.4" y="634.7" width="7" height="6.3" fill="#569fc9"/>
<rect x="330.3" y="634.7" width="7" height="6.3" fill="#4695c4"/>
<rect x="337.1" y="634.7" width="7" height="6.3" fill="#3f8ec0"/>
<rect x="344.0" y="634.7" width="7" height="6.3" fill="#3b88be"/>
<rect x="350.9" y="634.7" width="7" height="6.3" fill="#3885bc"/>
<rect x="357.8" y="634.7" width="7" height="6.3" fill="#3681ba"/>
<rect x="364.7" y="634.7" width="7" height="6.3" fill="#327cb7"/>
<rect x="371.6" y="634.7" width="7" height="6.3" fill="#2e77b5"/>
<rect x="378.4" y="634.7" width="7" height="6.3" fill="#2a71b2"/>
<rect x="385.3" y="634.7" width="7" height="6.3" fill="#266caf"/>
<rect x="392.2" y="634.7" width="7" height="6.3" fill="#2065ab"/>
<rect x="399.1" y="634.7" width="7" height="6.3" fill="#1d5fa2"/>
<rect x="406.0" y="634.7" width="7" height="6.3" fill="#1a5899"/>
<rect x="412.9" y="634.7" width="7" height="6.3" fill="#175290"/>
<rect x="419.7" y="634.7" width="7" height="6.3" fill="#134c87"/>
<rect x="426.6" y="634.7" width="7" height="6.3" fill="#114781"/>
<rect x="433.5" y="634.7" width="7" height="6.3" fill="#0e4179"/>
<rect x="440.4" y="634.7" width="7" height="6.3" fill="#0d3f76"/>
<rect x="447.3" y="634.7" width="7" height="6.3" fill="#0c3d73"/>
<rect x="454.2" y="634.7" width="7" height="6.3" fill="#09386d"/>
<rect x="461.0" y="634.7" width="7" height="6.3" fill="#08366a"/>
<rect x="467.9" y="634.7" width="7" height="6.3" fill="#08366a"/>
<rect x="474.8" y="634.7" width="7" height="6.3" fill="#08366a"/>
<rect x="481.7" y="634.7" width="7" height="6.3" fill="#08366a"/>
<rect x="488.6" y="634.7" width="7" height="6.3" fill="#08366a"/>
<rect x="495.5" y="634.7" width="7" height="6.3" fill="#08366a"/>
<rect x="502.4" y="634.7" width="7" height="6.3" fill="#08366a"/>
<rect x="509.2" y="634.7" width="7" height="6.3" fill="#08366a"/>
<rect x="516.1" y="634.7" width="7" height="6.3" fill="#08366a"/>
<rect x="523.0" y="634.7" width="7" height="6.3" fill="#08366a"/>
<rect x="529.9" y="634.7" width="7" height="6.3" fill="#08366a"/>
<rect x="536.8" y="634.7" width="7" height="6.3" fill="#08366a"/>
<rect x="543.7" y="634.7" width="7" height="6.3" fill="#08366a"/>
<rect x="550.5" y="634.7" width="7" height="6.3" fill="#08366a"/>
<rect x="557.4" y="634.7" width="7" height="6.3" fill="#08366a"/>
<rect x="564.3" y="634.7" width="7" height="6.3" fill="#08366a"/>
<rect x="571.2" y="634.7" width="7" height="6.3" fill="#08366a"/>
<rect x="578.1" y="634.7" width="7" height="6.3" fill="#08366a"/>
<rect x="585.0" y="634.7" width="7" height="6.3" fill="#08366a"/>
<rect x="591.8" y="634.7" width="7" height="6.3" fill="#08366a"/>
<rect x="598.7" y="634.7" width="7" height="6.3" fill="#08366a"/>
<rect x="605.6" y="634.7" width="7" height="6.3" fill="#08366a"/>
<rect x="130.6" y="628.5" width="7" height="6.3" fill="#f9c2a7"/>
<rect x="137.5" y="628.5" width="7" height="6.3" fill="#f8bfa4"/>
<rect x="144.4" y="628.5" width="7" height="6.3" fill="#f8bfa4"/>
<rect x="151.3" y="628.5" width="7" height="6.3" fill="#f8bfa4"/>
<rect x="158.2" y="628.5" width="7" height="6.3" fill="#f8bfa4"/>
<rect x="165.0" y="628.5" width="7" height="6.3" fill="#f8bfa4"/>
<rect x="171.9" y="628.5" width="7" height="6.3" fill="#f9c2a7"/>
<rect x="178.8" y="628.5" width="7" height="6.3" fill="#f9c6ac"/>
<rect x="185.7" y="628.5" width="7" height="6.3" fill="#fbccb4"/>
<rect x="192.6" y="628.5" width="7" height="6.3" fill="#fcd5bf"/>
<rect x="199.5" y="628.5" width="7" height="6.3" fill="#fddbc7"/>
<rect x="206.3" y="628.5" width="7" height="6.3" fill="#fce0d0"/>
<rect x="213.2" y="628.5" width="7" height="6.3" fill="#fbe6da"/>
<rect x="220.1" y="628.5" width="7" height="6.3" fill="#f9ede5"/>
<rect x="227.0" y="628.5" width="7" height="6.3" fill="#f8f3f0"/>
<rect x="233.9" y="628.5" width="7" height="6.3" fill="#f5f6f7"/>
<rect x="240.8" y="628.5" width="7" height="6.3" fill="#eff3f5"/>
<rect x="247.6" y="628.5" width="7" height="6.3" fill="#e9f0f4"/>
<rect x="254.5" y="628.5" width="7" height="6.3" fill="#e1edf3"/>
<rect x="261.4" y="628.5" width="7" height="6.3" fill="#dbeaf2"/>
<rect x="268.3" y="628.5" width="7" height="6.3" fill="#d4e6f1"/>
<rect x="275.2" y="628.5" width="7" height="6.3" fill="#cae1ee"/>
<rect x="282.1" y="628.5" width="7" height="6.3" fill="#bbdaea"/>
<rect x="288.9" y="628.5" width="7" height="6.3" fill="#aed3e6"/>
<rect x="295.8" y="628.5" width="7" height="6.3" fill="#a0cce2"/>
<rect x="302.7" y="628.5" width="7" height="6.3" fill="#90c4dd"/>
<rect x="309.6" y="628.5" width="7" height="6.3" fill="#7bb6d6"/>
<rect x="316.5" y="628.5" width="7" height="6.3" fill="#68abd0"/>
<rect x="323.4" y="628.5" width="7" height="6.3" fill="#569fc9"/>
<rect x="330.3" y="628.5" width="7" height="6.3" fill="#4695c4"/>
<rect x="337.1" y="628.5" width="7" height="6.3" fill="#3f8ec0"/>
<rect x="344.0" y="628.5" width="7" height="6.3" fill="#3b88be"/>
<rect x="350.9" y="628.5" width="7" height="6.3" fill="#3885bc"/>
<rect x="357.8" y="628.5" width="7" height="6.3" fill="#3681ba"/>
<rect x="364.7" y="628.5" width="7" height="6.3" fill="#327cb7"/>
<rect x="371.6" y="628.5" width="7" height="6.3" fill="#2e77b5"/>
<rect x="378.4" y="628.5" width="7" height="6.3" fill="#2a71b2"/>
<rect x="385.3" y="628.5" width="7" height="6.3" fill="#266caf"/>
<rect x="392.2" y="628.5" width="7" height="6.3" fill="#2065ab"/>
<rect x="399.1" y="628.5" width="7" height="6.3" fill="#1d5fa2"/>
<rect x="406.0" y="628.5" width="7" height="6.3" fill="#1a5899"/>
<rect x="412.9" y="628.5" width="7" height="6.3" fill="#175290"/>
<rect x="419.7" y="628.5" width="7" height="6.3" fill="#134c87"/>
<rect x="426.6" y="628.5" width="7" height="6.3" fill="#114781"/>
<rect x="433.5" y="628.5" width="7" height="6.3" fill="#0e4179"/>
<rect x="440.4" y="628.5" width="7" height="6.3" fill="#0d3f76"/>
<rect x="447.3" y="628.5" width="7" height="6.3" fill="#0c3d73"/>
<rect x="454.2" y="628.5" width="7" height="6.3" fill="#09386d"/>
<rect x="461.0" y="628.5" width="7" height="6.3" fill="#08366a"/>
<rect x="467.9" y="628.5" width="7" height="6.3" fill="#08366a"/>
<rect x="474.8" y="628.5" width="7" height="6.3" fill="#08366a"/>
<rect x="481.7" y="628.5" width="7" height="6.3" fill="#08366a"/>
<rect x="488.6" y="628.5" width="7" height="6.3" fill="#08366a"/>
<rect x="495.5" y="628.5" width="7" height="6.3" fill="#08366a"/>
<rect x="502.4" y="628.5" width="7" height="6.3" fill="#08366a"/>
<rect x="509.2" y="628.5" width="7" height="6.3" fill="#08366a"/>
<rect x="516.1" y="628.5" width="7" height="6.3" fill="#08366a"/>
<rect x="523.0" y="628.5" width="7" height="6.3" fill="#08366a"/>
<rect x="529.9" y="628.5" width="7" height="6.3" fill="#08366a"/>
<rect x="536.8" y="628.5" width="7" height="6.3" fill="#08366a"/>
<rect x="543.7" y="628.5" width="7" height="6.3" fill="#08366a"/>
<rect x="550.5" y="628.5" width="7" height="6.3" fill="#08366a"/>
<rect x="557.4" y="628.5" width="7" height="6.3" fill="#08366a"/>
<rect x="564.3" y="628.5" width="7" height="6.3" fill="#08366a"/>
<rect x="571.2" y="628.5" width="7" height="6.3" fill="#08366a"/>
<rect x="578.1" y="628.5" width="7" height="6.3" fill="#08366a"/>
<rect x="585.0" y="628.5" width="7" height="6.3" fill="#08366a"/>
<rect x="591.8" y="628.5" width="7" height="6.3" fill="#08366a"/>
<rect x="598.7" y="628.5" width="7" height="6.3" fill="#08366a"/>
<rect x="605.6" y="628.5" width="7" height="6.3" fill="#08366a"/>
<rect x="130.6" y="622.3" width="7" height="6.3" fill="#fbd0b9"/>
<rect x="137.5" y="622.3" width="7" height="6.3" fill="#fbd0b9"/>
<rect x="144.4" y="622.3" width="7" height="6.3" fill="#fbd0b9"/>
<rect x="151.3" y="622.3" width="7" height="6.3" fill="#fbd0b9"/>
<rect x="158.2" y="622.3" width="7" height="6.3" fill="#fbd0b9"/>
<rect x="165.0" y="622.3" width="7" height="6.3" fill="#fbd0b9"/>
<rect x="171.9" y="622.3" width="7" height="6.3" fill="#fcd3bc"/>
<rect x="178.8" y="622.3" width="7" height="6.3" fill="#fcd7c2"/>
<rect x="185.7" y="622.3" width="7" height="6.3" fill="#fddbc7"/>
<rect x="192.6" y="622.3" width="7" height="6.3" fill="#fcdecd"/>
<rect x="199.5" y="622.3" width="7" height="6.3" fill="#fce2d2"/>
<rect x="206.3" y="622.3" width="7" height="6.3" fill="#fbe5d8"/>
<rect x="213.2" y="622.3" width="7" height="6.3" fill="#faeae1"/>
<rect x="220.1" y="622.3" width="7" height="6.3" fill="#f9f0eb"/>
<rect x="227.0" y="622.3" width="7" height="6.3" fill="#f7f5f4"/>
<rect x="233.9" y="622.3" width="7" height="6.3" fill="#f3f5f6"/>
<rect x="240.8" y="622.3" width="7" height="6.3" fill="#edf2f5"/>
<rect x="247.6" y="622.3" width="7" height="6.3" fill="#e7f0f4"/>
<rect x="254.5" y="622.3" width="7" height="6.3" fill="#e1edf3"/>
<rect x="261.4" y="622.3" width="7" height="6.3" fill="#dae9f2"/>
<rect x="268.3" y="622.3" width="7" height="6.3" fill="#d4e6f1"/>
<rect x="275.2" y="622.3" width="7" height="6.3" fill="#cae1ee"/>
<rect x="282.1" y="622.3" width="7" height="6.3" fill="#bbdaea"/>
<rect x="288.9" y="622.3" width="7" height="6.3" fill="#acd2e5"/>
<rect x="295.8" y="622.3" width="7" height="6.3" fill="#9dcbe1"/>
<rect x="302.7" y="622.3" width="7" height="6.3" fill="#8dc2dc"/>
<rect x="309.6" y="622.3" width="7" height="6.3" fill="#7bb6d6"/>
<rect x="316.5" y="622.3" width="7" height="6.3" fill="#68abd0"/>
<rect x="323.4" y="622.3" width="7" height="6.3" fill="#569fc9"/>
<rect x="330.3" y="622.3" width="7" height="6.3" fill="#4695c4"/>
<rect x="337.1" y="622.3" width="7" height="6.3" fill="#3f8ec0"/>
<rect x="344.0" y="622.3" width="7" height="6.3" fill="#3b88be"/>
<rect x="350.9" y="622.3" width="7" height="6.3" fill="#3885bc"/>
<rect x="357.8" y="622.3" width="7" height="6.3" fill="#3681ba"/>
<rect x="364.7" y="622.3" width="7" height="6.3" fill="#327cb7"/>
<rect x="371.6" y="622.3" width="7" height="6.3" fill="#2e77b5"/>
<rect x="378.4" y="622.3" width="7" height="6.3" fill="#2a71b2"/>
<rect x="385.3" y="622.3" width="7" height="6.3" fill="#266caf"/>
<rect x="392.2" y="622.3" width="7" height="6.3" fill="#2065ab"/>
<rect x="399.1" y="622.3" width="7" height="6.3" fill="#1d5fa2"/>
<rect x="406.0" y="622.3" width="7" height="6.3" fill="#1a5899"/>
<rect x="412.9" y="622.3" width="7" height="6.3" fill="#175290"/>
<rect x="419.7" y="622.3" width="7" height="6.3" fill="#134c87"/>
<rect x="426.6" y="622.3" width="7" height="6.3" fill="#114781"/>
<rect x="433.5" y="622.3" width="7" height="6.3" fill="#0e4179"/>
<rect x="440.4" y="622.3" width="7" height="6.3" fill="#0d3f76"/>
<rect x="447.3" y="622.3" width="7" height="6.3" fill="#0c3d73"/>
<rect x="454.2" y="622.3" width="7" height="6.3" fill="#09386d"/>
<rect x="461.0" y="622.3" width="7" height="6.3" fill="#08366a"/>
<rect x="467.9" y="622.3" width="7" height="6.3" fill="#08366a"/>
<rect x="474.8" y="622.3" width="7" height="6.3" fill="#08366a"/>
<rect x="481.7" y="622.3" width="7" height="6.3" fill="#08366a"/>
<rect x="488.6" y="622.3" width="7" height="6.3" fill="#08366a"/>
<rect x="495.5" y="622.3" width="7" height="6.3" fill="#08366a"/>
<rect x="502.4" y="622.3" width="7" height="6.3" fill="#08366a"/>
<rect x="509.2" y="622.3" width="7" height="6.3" fill="#08366a"/>
<rect x="516.1" y="622.3" width="7" height="6.3" fill="#08366a"/>
<rect x="523.0" y="622.3" width="7" height="6.3" fill="#08366a"/>
<rect x="529.9" y="622.3" width="7" height="6.3" fill="#08366a"/>
<rect x="536.8" y="622.3" width="7" height="6.3" fill="#08366a"/>
<rect x="543.7" y="622.3" width="7" height="6.3" fill="#08366a"/>
<rect x="550.5" y="622.3" width="7" height="6.3" fill="#08366a"/>
<rect x="557.4" y="622.3" width="7" height="6.3" fill="#08366a"/>
<rect x="564.3" y="622.3" width="7" height="6.3" fill="#08366a"/>
<rect x="571.2" y="622.3" width="7" height="6.3" fill="#08366a"/>
<rect x="578.1" y="622.3" width="7" height="6.3" fill="#08366a"/>
<rect x="585.0" y="622.3" width="7" height="6.3" fill="#08366a"/>
<rect x="591.8" y="622.3" width="7" height="6.3" fill="#08366a"/>
<rect x="598.7" y="622.3" width="7" height="6.3" fill="#08366a"/>
<rect x="605.6" y="622.3" width="7" height="6.3" fill="#08366a"/>
<rect x="130.6" y="616.1" width="7" height="6.3" fill="#fcdfcf"/>
<rect x="137.5" y="616.1" width="7" height="6.3" fill="#fcdfcf"/>
<rect x="144.4" y="616.1" width="7" height="6.3" fill="#fcdfcf"/>
<rect x="151.3" y="616.1" width="7" height="6.3" fill="#fcdfcf"/>
<rect x="158.2" y="616.1" width="7" height="6.3" fill="#fcdfcf"/>
<rect x="165.0" y="616.1" width="7" height="6.3" fill="#fcdfcf"/>
<rect x="171.9" y="616.1" width="7" height="6.3" fill="#fcdfcf"/>
<rect x="178.8" y="616.1" width="7" height="6.3" fill="#fce2d2"/>
<rect x="185.7" y="616.1" width="7" height="6.3" fill="#fbe3d4"/>
<rect x="192.6" y="616.1" width="7" height="6.3" fill="#fbe6da"/>
<rect x="199.5" y="616.1" width="7" height="6.3" fill="#fae8de"/>
<rect x="206.3" y="616.1" width="7" height="6.3" fill="#f9ebe3"/>
<rect x="213.2" y="616.1" width="7" height="6.3" fill="#f9f0eb"/>
<rect x="220.1" y="616.1" width="7" height="6.3" fill="#f8f4f2"/>
<rect x="227.0" y="616.1" width="7" height="6.3" fill="#f5f6f7"/>
<rect x="233.9" y="616.1" width="7" height="6.3" fill="#eff3f5"/>
<rect x="240.8" y="616.1" width="7" height="6.3" fill="#eaf1f5"/>
<rect x="247.6" y="616.1" width="7" height="6.3" fill="#e4eef4"/>
<rect x="254.5" y="616.1" width="7" height="6.3" fill="#deebf2"/>
<rect x="261.4" y="616.1" width="7" height="6.3" fill="#d8e9f1"/>
<rect x="268.3" y="616.1" width="7" height="6.3" fill="#d1e5f0"/>
<rect x="275.2" y="616.1" width="7" height="6.3" fill="#c5dfec"/>
<rect x="282.1" y="616.1" width="7" height="6.3" fill="#b8d8e9"/>
<rect x="288.9" y="616.1" width="7" height="6.3" fill="#a9d1e5"/>
<rect x="295.8" y="616.1" width="7" height="6.3" fill="#9bc9e0"/>
<rect x="302.7" y="616.1" width="7" height="6.3" fill="#8dc2dc"/>
<rect x="309.6" y="616.1" width="7" height="6.3" fill="#78b4d5"/>
<rect x="316.5" y="616.1" width="7" height="6.3" fill="#65a9cf"/>
<rect x="323.4" y="616.1" width="7" height="6.3" fill="#529dc8"/>
<rect x="330.3" y="616.1" width="7" height="6.3" fill="#4393c3"/>
<rect x="337.1" y="616.1" width="7" height="6.3" fill="#3f8ec0"/>
<rect x="344.0" y="616.1" width="7" height="6.3" fill="#3b88be"/>
<rect x="350.9" y="616.1" width="7" height="6.3" fill="#3885bc"/>
<rect x="357.8" y="616.1" width="7" height="6.3" fill="#3681ba"/>
<rect x="364.7" y="616.1" width="7" height="6.3" fill="#327cb7"/>
<rect x="371.6" y="616.1" width="7" height="6.3" fill="#2e77b5"/>
<rect x="378.4" y="616.1" width="7" height="6.3" fill="#2a71b2"/>
<rect x="385.3" y="616.1" width="7" height="6.3" fill="#266caf"/>
<rect x="392.2" y="616.1" width="7" height="6.3" fill="#2065ab"/>
<rect x="399.1" y="616.1" width="7" height="6.3" fill="#1d5fa2"/>
<rect x="406.0" y="616.1" width="7" height="6.3" fill="#1a5899"/>
<rect x="412.9" y="616.1" width="7" height="6.3" fill="#175290"/>
<rect x="419.7" y="616.1" width="7" height="6.3" fill="#134c87"/>
<rect x="426.6" y="616.1" width="7" height="6.3" fill="#114781"/>
<rect x="433.5" y="616.1" width="7" height="6.3" fill="#0e4179"/>
<rect x="440.4" y="616.1" width="7" height="6.3" fill="#0d3f76"/>
<rect x="447.3" y="616.1" width="7" height="6.3" fill="#0c3d73"/>
<rect x="454.2" y="616.1" width="7" height="6.3" fill="#09386d"/>
<rect x="461.0" y="616.1" width="7" height="6.3" fill="#08366a"/>
<rect x="467.9" y="616.1" width="7" height="6.3" fill="#08366a"/>
<rect x="474.8" y="616.1" width="7" height="6.3" fill="#08366a"/>
<rect x="481.7" y="616.1" width="7" height="6.3" fill="#08366a"/>
<rect x="488.6" y="616.1" width="7" height="6.3" fill="#08366a"/>
<rect x="495.5" y="616.1" width="7" height="6.3" fill="#08366a"/>
<rect x="502.4" y="616.1" width="7" height="6.3" fill="#08366a"/>
<rect x="509.2" y="616.1" width="7" height="6.3" fill="#08366a"/>
<rect x="516.1" y="616.1" width="7" height="6.3" fill="#08366a"/>
<rect x="523.0" y="616.1" width="7" height="6.3" fill="#08366a"/>
<rect x="529.9" y="616.1" width="7" height="6.3" fill="#08366a"/>
<rect x="536.8" y="616.1" width="7" height="6.3" fill="#08366a"/>
<rect x="543.7" y="616.1" width="7" height="6.3" fill="#08366a"/>
<rect x="550.5" y="616.1" width="7" height="6.3" fill="#08366a"/>
<rect x="557.4" y="616.1" width="7" height="6.3" fill="#08366a"/>
<rect x="564.3" y="616.1" width="7" height="6.3" fill="#08366a"/>
<rect x="571.2" y="616.1" width="7" height="6.3" fill="#08366a"/>
<rect x="578.1" y="616.1" width="7" height="6.3" fill="#08366a"/>
<rect x="585.0" y="616.1" width="7" height="6.3" fill="#08366a"/>
<rect x="591.8" y="616.1" width="7" height="6.3" fill="#08366a"/>
<rect x="598.7" y="616.1" width="7" height="6.3" fill="#08366a"/>
<rect x="605.6" y="616.1" width="7" height="6.3" fill="#08366a"/>
<rect x="130.6" y="609.9" width="7" height="6.3" fill="#fae9df"/>
<rect x="137.5" y="609.9" width="7" height="6.3" fill="#fae9df"/>
<rect x="144.4" y="609.9" width="7" height="6.3" fill="#fae9df"/>
<rect x="151.3" y="609.9" width="7" height="6.3" fill="#fae8de"/>
<rect x="158.2" y="609.9" width="7" height="6.3" fill="#fae8de"/>
<rect x="165.0" y="609.9" width="7" height="6.3" fill="#fae8de"/>
<rect x="171.9" y="609.9" width="7" height="6.3" fill="#fae9df"/>
<rect x="178.8" y="609.9" width="7" height="6.3" fill="#faeae1"/>
<rect x="185.7" y="609.9" width="7" height="6.3" fill="#f9ebe3"/>
<rect x="192.6" y="609.9" width="7" height="6.3" fill="#f9eee7"/>
<rect x="199.5" y="609.9" width="7" height="6.3" fill="#f9f0eb"/>
<rect x="206.3" y="609.9" width="7" height="6.3" fill="#f8f2ef"/>
<rect x="213.2" y="609.9" width="7" height="6.3" fill="#f7f5f4"/>
<rect x="220.1" y="609.9" width="7" height="6.3" fill="#f3f5f6"/>
<rect x="227.0" y="609.9" width="7" height="6.3" fill="#eff3f5"/>
<rect x="233.9" y="609.9" width="7" height="6.3" fill="#eaf1f5"/>
<rect x="240.8" y="609.9" width="7" height="6.3" fill="#e4eef4"/>
<rect x="247.6" y="609.9" width="7" height="6.3" fill="#e0ecf3"/>
<rect x="254.5" y="609.9" width="7" height="6.3" fill="#dbeaf2"/>
<rect x="261.4" y="609.9" width="7" height="6.3" fill="#d5e7f1"/>
<rect x="268.3" y="609.9" width="7" height="6.3" fill="#cfe4ef"/>
<rect x="275.2" y="609.9" width="7" height="6.3" fill="#c2ddec"/>
<rect x="282.1" y="609.9" width="7" height="6.3" fill="#b3d6e8"/>
<rect x="288.9" y="609.9" width="7" height="6.3" fill="#a5cee3"/>
<rect x="295.8" y="609.9" width="7" height="6.3" fill="#98c8e0"/>
<rect x="302.7" y="609.9" width="7" height="6.3" fill="#87beda"/>
<rect x="309.6" y="609.9" width="7" height="6.3" fill="#75b2d4"/>
<rect x="316.5" y="609.9" width="7" height="6.3" fill="#62a7ce"/>
<rect x="323.4" y="609.9" width="7" height="6.3" fill="#4f9bc7"/>
<rect x="330.3" y="609.9" width="7" height="6.3" fill="#4393c3"/>
<rect x="337.1" y="609.9" width="7" height="6.3" fill="#3e8cbf"/>
<rect x="344.0" y="609.9" width="7" height="6.3" fill="#3b88be"/>
<rect x="350.9" y="609.9" width="7" height="6.3" fill="#3783bb"/>
<rect x="357.8" y="609.9" width="7" height="6.3" fill="#3480b9"/>
<rect x="364.7" y="609.9" width="7" height="6.3" fill="#327cb7"/>
<rect x="371.6" y="609.9" width="7" height="6.3" fill="#2e77b5"/>
<rect x="378.4" y="609.9" width="7" height="6.3" fill="#2a71b2"/>
<rect x="385.3" y="609.9" width="7" height="6.3" fill="#266caf"/>
<rect x="392.2" y="609.9" width="7" height="6.3" fill="#2065ab"/>
<rect x="399.1" y="609.9" width="7" height="6.3" fill="#1d5fa2"/>
<rect x="406.0" y="609.9" width="7" height="6.3" fill="#1a5899"/>
<rect x="412.9" y="609.9" width="7" height="6.3" fill="#175290"/>
<rect x="419.7" y="609.9" width="7" height="6.3" fill="#134c87"/>
<rect x="426.6" y="609.9" width="7" height="6.3" fill="#114781"/>
<rect x="433.5" y="609.9" width="7" height="6.3" fill="#0e4179"/>
<rect x="440.4" y="609.9" width="7" height="6.3" fill="#0d3f76"/>
<rect x="447.3" y="609.9" width="7" height="6.3" fill="#0c3d73"/>
<rect x="454.2" y="609.9" width="7" height="6.3" fill="#09386d"/>
<rect x="461.0" y="609.9" width="7" height="6.3" fill="#08366a"/>
<rect x="467.9" y="609.9" width="7" height="6.3" fill="#08366a"/>
<rect x="474.8" y="609.9" width="7" height="6.3" fill="#08366a"/>
<rect x="481.7" y="609.9" width="7" height="6.3" fill="#08366a"/>
<rect x="488.6" y="609.9" width="7" height="6.3" fill="#08366a"/>
<rect x="495.5" y="609.9" width="7" height="6.3" fill="#08366a"/>
<rect x="502.4" y="609.9" width="7" height="6.3" fill="#08366a"/>
<rect x="509.2" y="609.9" width="7" height="6.3" fill="#08366a"/>
<rect x="516.1" y="609.9" width="7" height="6.3" fill="#08366a"/>
<rect x="523.0" y="609.9" width="7" height="6.3" fill="#08366a"/>
<rect x="529.9" y="609.9" width="7" height="6.3" fill="#08366a"/>
<rect x="536.8" y="609.9" width="7" height="6.3" fill="#08366a"/>
<rect x="543.7" y="609.9" width="7" height="6.3" fill="#08366a"/>
<rect x="550.5" y="609.9" width="7" height="6.3" fill="#08366a"/>
<rect x="557.4" y="609.9" width="7" height="6.3" fill="#08366a"/>
<rect x="564.3" y="609.9" width="7" height="6.3" fill="#08366a"/>
<rect x="571.2" y="609.9" width="7" height="6.3" fill="#08366a"/>
<rect x="578.1" y="609.9" width="7" height="6.3" fill="#08366a"/>
<rect x="585.0" y="609.9" width="7" height="6.3" fill="#08366a"/>
<rect x="591.8" y="609.9" width="7" height="6.3" fill="#08366a"/>
<rect x="598.7" y="609.9" width="7" height="6.3" fill="#08366a"/>
<rect x="605.6" y="609.9" width="7" height="6.3" fill="#08366a"/>
<rect x="130.6" y="603.6" width="7" height="6.3" fill="#f8f3f0"/>
<rect x="137.5" y="603.6" width="7" height="6.3" fill="#f8f3f0"/>
<rect x="144.4" y="603.6" width="7" height="6.3" fill="#f8f3f0"/>
<rect x="151.3" y="603.6" width="7" height="6.3" fill="#f8f3f0"/>
<rect x="158.2" y="603.6" width="7" height="6.3" fill="#f8f3f0"/>
<rect x="165.0" y="603.6" width="7" height="6.3" fill="#f8f3f0"/>
<rect x="171.9" y="603.6" width="7" height="6.3" fill="#f8f3f0"/>
<rect x="178.8" y="603.6" width="7" height="6.3" fill="#f8f4f2"/>
<rect x="185.7" y="603.6" width="7" height="6.3" fill="#f7f5f4"/>
<rect x="192.6" y="603.6" width="7" height="6.3" fill="#f7f6f6"/>
<rect x="199.5" y="603.6" width="7" height="6.3" fill="#f6f7f7"/>
<rect x="206.3" y="603.6" width="7" height="6.3" fill="#f3f5f6"/>
<rect x="213.2" y="603.6" width="7" height="6.3" fill="#f0f4f6"/>
<rect x="220.1" y="603.6" width="7" height="6.3" fill="#ecf2f5"/>
<rect x="227.0" y="603.6" width="7" height="6.3" fill="#e7f0f4"/>
<rect x="233.9" y="603.6" width="7" height="6.3" fill="#e4eef4"/>
<rect x="240.8" y="603.6" width="7" height="6.3" fill="#e0ecf3"/>
<rect x="247.6" y="603.6" width="7" height="6.3" fill="#dbeaf2"/>
<rect x="254.5" y="603.6" width="7" height="6.3" fill="#d7e8f1"/>
<rect x="261.4" y="603.6" width="7" height="6.3" fill="#d1e5f0"/>
<rect x="268.3" y="603.6" width="7" height="6.3" fill="#c7e0ed"/>
<rect x="275.2" y="603.6" width="7" height="6.3" fill="#bbdaea"/>
<rect x="282.1" y="603.6" width="7" height="6.3" fill="#aed3e6"/>
<rect x="288.9" y="603.6" width="7" height="6.3" fill="#a2cde3"/>
<rect x="295.8" y="603.6" width="7" height="6.3" fill="#93c6de"/>
<rect x="302.7" y="603.6" width="7" height="6.3" fill="#84bcd9"/>
<rect x="309.6" y="603.6" width="7" height="6.3" fill="#71b0d3"/>
<rect x="316.5" y="603.6" width="7" height="6.3" fill="#5fa5cd"/>
<rect x="323.4" y="603.6" width="7" height="6.3" fill="#4f9bc7"/>
<rect x="330.3" y="603.6" width="7" height="6.3" fill="#4291c2"/>
<rect x="337.1" y="603.6" width="7" height="6.3" fill="#3e8cbf"/>
<rect x="344.0" y="603.6" width="7" height="6.3" fill="#3a87bd"/>
<rect x="350.9" y="603.6" width="7" height="6.3" fill="#3783bb"/>
<rect x="357.8" y="603.6" width="7" height="6.3" fill="#3480b9"/>
<rect x="364.7" y="603.6" width="7" height="6.3" fill="#327cb7"/>
<rect x="371.6" y="603.6" width="7" height="6.3" fill="#2e77b5"/>
<rect x="378.4" y="603.6" width="7" height="6.3" fill="#2a71b2"/>
<rect x="385.3" y="603.6" width="7" height="6.3" fill="#266caf"/>
<rect x="392.2" y="603.6" width="7" height="6.3" fill="#2065ab"/>
<rect x="399.1" y="603.6" width="7" height="6.3" fill="#1d5fa2"/>
<rect x="406.0" y="603.6" width="7" height="6.3" fill="#1a5899"/>
<rect x="412.9" y="603.6" width="7" height="6.3" fill="#175290"/>
<rect x="419.7" y="603.6" width="7" height="6.3" fill="#134c87"/>
<rect x="426.6" y="603.6" width="7" height="6.3" fill="#114781"/>
<rect x="433.5" y="603.6" width="7" height="6.3" fill="#0e4179"/>
<rect x="440.4" y="603.6" width="7" height="6.3" fill="#0d3f76"/>
<rect x="447.3" y="603.6" width="7" height="6.3" fill="#0c3d73"/>
<rect x="454.2" y="603.6" width="7" height="6.3" fill="#09386d"/>
<rect x="461.0" y="603.6" width="7" height="6.3" fill="#08366a"/>
<rect x="467.9" y="603.6" width="7" height="6.3" fill="#08366a"/>
<rect x="474.8" y="603.6" width="7" height="6.3" fill="#08366a"/>
<rect x="481.7" y="603.6" width="7" height="6.3" fill="#08366a"/>
<rect x="488.6" y="603.6" width="7" height="6.3" fill="#08366a"/>
<rect x="495.5" y="603.6" width="7" height="6.3" fill="#08366a"/>
<rect x="502.4" y="603.6" width="7" height="6.3" fill="#08366a"/>
<rect x="509.2" y="603.6" width="7" height="6.3" fill="#08366a"/>
<rect x="516.1" y="603.6" width="7" height="6.3" fill="#08366a"/>
<rect x="523.0" y="603.6" width="7" height="6.3" fill="#08366a"/>
<rect x="529.9" y="603.6" width="7" height="6.3" fill="#08366a"/>
<rect x="536.8" y="603.6" width="7" height="6.3" fill="#08366a"/>
<rect x="543.7" y="603.6" width="7" height="6.3" fill="#08366a"/>
<rect x="550.5" y="603.6" width="7" height="6.3" fill="#08366a"/>
<rect x="557.4" y="603.6" width="7" height="6.3" fill="#08366a"/>
<rect x="564.3" y="603.6" width="7" height="6.3" fill="#08366a"/>
<rect x="571.2" y="603.6" width="7" height="6.3" fill="#08366a"/>
<rect x="578.1" y="603.6" width="7" height="6.3" fill="#08366a"/>
<rect x="585.0" y="603.6" width="7" height="6.3" fill="#08366a"/>
<rect x="591.8" y="603.6" width="7" height="6.3" fill="#08366a"/>
<rect x="598.7" y="603.6" width="7" height="6.3" fill="#08366a"/>
<rect x="605.6" y="603.6" width="7" height="6.3" fill="#08366a"/>
<rect x="130.6" y="597.4" width="7" height="6.3" fill="#eff3f5"/>
<rect x="137.5" y="597.4" width="7" height="6.3" fill="#eff3f5"/>
<rect x="144.4" y="597.4" width="7" height="6.3" fill="#eff3f5"/>
<rect x="151.3" y="597.4" width="7" height="6.3" fill="#eff3f5"/>
<rect x="158.2" y="597.4" width="7" height="6.3" fill="#eff3f5"/>
<rect x="165.0" y="597.4" width="7" height="6.3" fill="#eff3f5"/>
<rect x="171.9" y="597.4" width="7" height="6.3" fill="#eff3f5"/>
<rect x="178.8" y="597.4" width="7" height="6.3" fill="#eff3f5"/>
<rect x="185.7" y="597.4" width="7" height="6.3" fill="#edf2f5"/>
<rect x="192.6" y="597.4" width="7" height="6.3" fill="#ecf2f5"/>
<rect x="199.5" y="597.4" width="7" height="6.3" fill="#eaf1f5"/>
<rect x="206.3" y="597.4" width="7" height="6.3" fill="#e9f0f4"/>
<rect x="213.2" y="597.4" width="7" height="6.3" fill="#e6eff4"/>
<rect x="220.1" y="597.4" width="7" height="6.3" fill="#e3edf3"/>
<rect x="227.0" y="597.4" width="7" height="6.3" fill="#e0ecf3"/>
<rect x="233.9" y="597.4" width="7" height="6.3" fill="#ddebf2"/>
<rect x="240.8" y="597.4" width="7" height="6.3" fill="#dae9f2"/>
<rect x="247.6" y="597.4" width="7" height="6.3" fill="#d5e7f1"/>
<rect x="254.5" y="597.4" width="7" height="6.3" fill="#d1e5f0"/>
<rect x="261.4" y="597.4" width="7" height="6.3" fill="#cae1ee"/>
<rect x="268.3" y="597.4" width="7" height="6.3" fill="#c0dceb"/>
<rect x="275.2" y="597.4" width="7" height="6.3" fill="#b6d7e8"/>
<rect x="282.1" y="597.4" width="7" height="6.3" fill="#a9d1e5"/>
<rect x="288.9" y="597.4" width="7" height="6.3" fill="#9bc9e0"/>
<rect x="295.8" y="597.4" width="7" height="6.3" fill="#8dc2dc"/>
<rect x="302.7" y="597.4" width="7" height="6.3" fill="#7eb8d7"/>
<rect x="309.6" y="597.4" width="7" height="6.3" fill="#6bacd1"/>
<rect x="316.5" y="597.4" width="7" height="6.3" fill="#5ca3cb"/>
<rect x="323.4" y="597.4" width="7" height="6.3" fill="#4c99c6"/>
<rect x="330.3" y="597.4" width="7" height="6.3" fill="#408fc1"/>
<rect x="337.1" y="597.4" width="7" height="6.3" fill="#3c8abe"/>
<rect x="344.0" y="597.4" width="7" height="6.3" fill="#3a87bd"/>
<rect x="350.9" y="597.4" width="7" height="6.3" fill="#3783bb"/>
<rect x="357.8" y="597.4" width="7" height="6.3" fill="#3480b9"/>
<rect x="364.7" y="597.4" width="7" height="6.3" fill="#327cb7"/>
<rect x="371.6" y="597.4" width="7" height="6.3" fill="#2e77b5"/>
<rect x="378.4" y="597.4" width="7" height="6.3" fill="#2a71b2"/>
<rect x="385.3" y="597.4" width="7" height="6.3" fill="#266caf"/>
<rect x="392.2" y="597.4" width="7" height="6.3" fill="#2065ab"/>
<rect x="399.1" y="597.4" width="7" height="6.3" fill="#1d5fa2"/>
<rect x="406.0" y="597.4" width="7" height="6.3" fill="#1a5899"/>
<rect x="412.9" y="597.4" width="7" height="6.3" fill="#175290"/>
<rect x="419.7" y="597.4" width="7" height="6.3" fill="#134c87"/>
<rect x="426.6" y="597.4" width="7" height="6.3" fill="#114781"/>
<rect x="433.5" y="597.4" width="7" height="6.3" fill="#0e4179"/>
<rect x="440.4" y="597.4" width="7" height="6.3" fill="#0d3f76"/>
<rect x="447.3" y="597.4" width="7" height="6.3" fill="#0c3d73"/>
<rect x="454.2" y="597.4" width="7" height="6.3" fill="#09386d"/>
<rect x="461.0" y="597.4" width="7" height="6.3" fill="#08366a"/>
<rect x="467.9" y="597.4" width="7" height="6.3" fill="#08366a"/>
<rect x="474.8" y="597.4" width="7" height="6.3" fill="#08366a"/>
<rect x="481.7" y="597.4" width="7" height="6.3" fill="#08366a"/>
<rect x="488.6" y="597.4" width="7" height="6.3" fill="#08366a"/>
<rect x="495.5" y="597.4" width="7" height="6.3" fill="#08366a"/>
<rect x="502.4" y="597.4" width="7" height="6.3" fill="#08366a"/>
<rect x="509.2" y="597.4" width="7" height="6.3" fill="#08366a"/>
<rect x="516.1" y="597.4" width="7" height="6.3" fill="#08366a"/>
<rect x="523.0" y="597.4" width="7" height="6.3" fill="#08366a"/>
<rect x="529.9" y="597.4" width="7" height="6.3" fill="#08366a"/>
<rect x="536.8" y="597.4" width="7" height="6.3" fill="#08366a"/>
<rect x="543.7" y="597.4" width="7" height="6.3" fill="#08366a"/>
<rect x="550.5" y="597.4" width="7" height="6.3" fill="#08366a"/>
<rect x="557.4" y="597.4" width="7" height="6.3" fill="#08366a"/>
<rect x="564.3" y="597.4" width="7" height="6.3" fill="#08366a"/>
<rect x="571.2" y="597.4" width="7" height="6.3" fill="#08366a"/>
<rect x="578.1" y="597.4" width="7" height="6.3" fill="#08366a"/>
<rect x="585.0" y="597.4" width="7" height="6.3" fill="#08366a"/>
<rect x="591.8" y="597.4" width="7" height="6.3" fill="#08366a"/>
<rect x="598.7" y="597.4" width="7" height="6.3" fill="#08366a"/>
<rect x="605.6" y="597.4" width="7" height="6.3" fill="#08366a"/>
<rect x="130.6" y="591.2" width="7" height="6.3" fill="#e1edf3"/>
<rect x="137.5" y="591.2" width="7" height="6.3" fill="#e1edf3"/>
<rect x="144.4" y="591.2" width="7" height="6.3" fill="#e1edf3"/>
<rect x="151.3" y="591.2" width="7" height="6.3" fill="#e1edf3"/>
<rect x="158.2" y="591.2" width="7" height="6.3" fill="#e1edf3"/>
<rect x="165.0" y="591.2" width="7" height="6.3" fill="#e1edf3"/>
<rect x="171.9" y="591.2" width="7" height="6.3" fill="#e1edf3"/>
<rect x="178.8" y="591.2" width="7" height="6.3" fill="#e1edf3"/>
<rect x="185.7" y="591.2" width="7" height="6.3" fill="#e0ecf3"/>
<rect x="192.6" y="591.2" width="7" height="6.3" fill="#e0ecf3"/>
<rect x="199.5" y="591.2" width="7" height="6.3" fill="#deebf2"/>
<rect x="206.3" y="591.2" width="7" height="6.3" fill="#ddebf2"/>
<rect x="213.2" y="591.2" width="7" height="6.3" fill="#dbeaf2"/>
<rect x="220.1" y="591.2" width="7" height="6.3" fill="#dae9f2"/>
<rect x="227.0" y="591.2" width="7" height="6.3" fill="#d8e9f1"/>
<rect x="233.9" y="591.2" width="7" height="6.3" fill="#d5e7f1"/>
<rect x="240.8" y="591.2" width="7" height="6.3" fill="#d2e6f0"/>
<rect x="247.6" y="591.2" width="7" height="6.3" fill="#cfe4ef"/>
<rect x="254.5" y="591.2" width="7" height="6.3" fill="#c7e0ed"/>
<rect x="261.4" y="591.2" width="7" height="6.3" fill="#c2ddec"/>
<rect x="268.3" y="591.2" width="7" height="6.3" fill="#b8d8e9"/>
<rect x="275.2" y="591.2" width="7" height="6.3" fill="#aed3e6"/>
<rect x="282.1" y="591.2" width="7" height="6.3" fill="#a2cde3"/>
<rect x="288.9" y="591.2" width="7" height="6.3" fill="#96c7df"/>
<rect x="295.8" y="591.2" width="7" height="6.3" fill="#87beda"/>
<rect x="302.7" y="591.2" width="7" height="6.3" fill="#78b4d5"/>
<rect x="309.6" y="591.2" width="7" height="6.3" fill="#68abd0"/>
<rect x="316.5" y="591.2" width="7" height="6.3" fill="#569fc9"/>
<rect x="323.4" y="591.2" width="7" height="6.3" fill="#4997c5"/>
<rect x="330.3" y="591.2" width="7" height="6.3" fill="#3f8ec0"/>
<rect x="337.1" y="591.2" width="7" height="6.3" fill="#3b88be"/>
<rect x="344.0" y="591.2" width="7" height="6.3" fill="#3885bc"/>
<rect x="350.9" y="591.2" width="7" height="6.3" fill="#3681ba"/>
<rect x="357.8" y="591.2" width="7" height="6.3" fill="#3480b9"/>
<rect x="364.7" y="591.2" width="7" height="6.3" fill="#327cb7"/>
<rect x="371.6" y="591.2" width="7" height="6.3" fill="#2e77b5"/>
<rect x="378.4" y="591.2" width="7" height="6.3" fill="#2a71b2"/>
<rect x="385.3" y="591.2" width="7" height="6.3" fill="#246aae"/>
<rect x="392.2" y="591.2" width="7" height="6.3" fill="#2065ab"/>
<rect x="399.1" y="591.2" width="7" height="6.3" fill="#1d5fa2"/>
<rect x="406.0" y="591.2" width="7" height="6.3" fill="#1a5899"/>
<rect x="412.9" y="591.2" width="7" height="6.3" fill="#175290"/>
<rect x="419.7" y="591.2" width="7" height="6.3" fill="#134c87"/>
<rect x="426.6" y="591.2" width="7" height="6.3" fill="#114781"/>
<rect x="433.5" y="591.2" width="7" height="6.3" fill="#0e4179"/>
<rect x="440.4" y="591.2" width="7" height="6.3" fill="#0d3f76"/>
<rect x="447.3" y="591.2" width="7" height="6.3" fill="#0c3d73"/>
<rect x="454.2" y="591.2" width="7" height="6.3" fill="#09386d"/>
<rect x="461.0" y="591.2" width="7" height="6.3" fill="#08366a"/>
<rect x="467.9" y="591.2" width="7" height="6.3" fill="#08366a"/>
<rect x="474.8" y="591.2" width="7" height="6.3" fill="#08366a"/>
<rect x="481.7" y="591.2" width="7" height="6.3" fill="#08366a"/>
<rect x="488.6" y="591.2" width="7" height="6.3" fill="#08366a"/>
<rect x="495.5" y="591.2" width="7" height="6.3" fill="#08366a"/>
<rect x="502.4" y="591.2" width="7" height="6.3" fill="#08366a"/>
<rect x="509.2" y="591.2" width="7" height="6.3" fill="#08366a"/>
<rect x="516.1" y="591.2" width="7" height="6.3" fill="#08366a"/>
<rect x="523.0" y="591.2" width="7" height="6.3" fill="#08366a"/>
<rect x="529.9" y="591.2" width="7" height="6.3" fill="#08366a"/>
<rect x="536.8" y="591.2" width="7" height="6.3" fill="#08366a"/>
<rect x="543.7" y="591.2" width="7" height="6.3" fill="#08366a"/>
<rect x="550.5" y="591.2" width="7" height="6.3" fill="#08366a"/>
<rect x="557.4" y="591.2" width="7" height="6.3" fill="#08366a"/>
<rect x="564.3" y="591.2" width="7" height="6.3" fill="#08366a"/>
<rect x="571.2" y="591.2" width="7" height="6.3" fill="#08366a"/>
<rect x="578.1" y="591.2" width="7" height="6.3" fill="#08366a"/>
<rect x="585.0" y="591.2" width="7" height="6.3" fill="#08366a"/>
<rect x="591.8" y="591.2" width="7" height="6.3" fill="#08366a"/>
<rect x="598.7" y="591.2" width="7" height="6.3" fill="#08366a"/>
<rect x="605.6" y="591.2" width="7" height="6.3" fill="#08366a"/>
<rect x="130.6" y="585.0" width="7" height="6.3" fill="#d4e6f1"/>
<rect x="137.5" y="585.0" width="7" height="6.3" fill="#d4e6f1"/>
<rect x="144.4" y="585.0" width="7" height="6.3" fill="#d4e6f1"/>
<rect x="151.3" y="585.0" width="7" height="6.3" fill="#d4e6f1"/>
<rect x="158.2" y="585.0" width="7" height="6.3" fill="#d4e6f1"/>
<rect x="165.0" y="585.0" width="7" height="6.3" fill="#d4e6f1"/>
<rect x="171.9" y="585.0" width="7" height="6.3" fill="#d4e6f1"/>
<rect x="178.8" y="585.0" width="7" height="6.3" fill="#d4e6f1"/>
<rect x="185.7" y="585.0" width="7" height="6.3" fill="#d4e6f1"/>
<rect x="192.6" y="585.0" width="7" height="6.3" fill="#d2e6f0"/>
<rect x="199.5" y="585.0" width="7" height="6.3" fill="#d2e6f0"/>
<rect x="206.3" y="585.0" width="7" height="6.3" fill="#d1e5f0"/>
<rect x="213.2" y="585.0" width="7" height="6.3" fill="#d1e5f0"/>
<rect x="220.1" y="585.0" width="7" height="6.3" fill="#cfe4ef"/>
<rect x="227.0" y="585.0" width="7" height="6.3" fill="#cce2ef"/>
<rect x="233.9" y="585.0" width="7" height="6.3" fill="#c7e0ed"/>
<rect x="240.8" y="585.0" width="7" height="6.3" fill="#c5dfec"/>
<rect x="247.6" y="585.0" width="7" height="6.3" fill="#c0dceb"/>
<rect x="254.5" y="585.0" width="7" height="6.3" fill="#bbdaea"/>
<rect x="261.4" y="585.0" width="7" height="6.3" fill="#b3d6e8"/>
<rect x="268.3" y="585.0" width="7" height="6.3" fill="#acd2e5"/>
<rect x="275.2" y="585.0" width="7" height="6.3" fill="#a5cee3"/>
<rect x="282.1" y="585.0" width="7" height="6.3" fill="#98c8e0"/>
<rect x="288.9" y="585.0" width="7" height="6.3" fill="#8ac0db"/>
<rect x="295.8" y="585.0" width="7" height="6.3" fill="#7bb6d6"/>
<rect x="302.7" y="585.0" width="7" height="6.3" fill="#6eaed2"/>
<rect x="309.6" y="585.0" width="7" height="6.3" fill="#5fa5cd"/>
<rect x="316.5" y="585.0" width="7" height="6.3" fill="#4f9bc7"/>
<rect x="323.4" y="585.0" width="7" height="6.3" fill="#4393c3"/>
<rect x="330.3" y="585.0" width="7" height="6.3" fill="#3e8cbf"/>
<rect x="337.1" y="585.0" width="7" height="6.3" fill="#3b88be"/>
<rect x="344.0" y="585.0" width="7" height="6.3" fill="#3783bb"/>
<rect x="350.9" y="585.0" width="7" height="6.3" fill="#3681ba"/>
<rect x="357.8" y="585.0" width="7" height="6.3" fill="#337eb8"/>
<rect x="364.7" y="585.0" width="7" height="6.3" fill="#307ab6"/>
<rect x="371.6" y="585.0" width="7" height="6.3" fill="#2e77b5"/>
<rect x="378.4" y="585.0" width="7" height="6.3" fill="#2a71b2"/>
<rect x="385.3" y="585.0" width="7" height="6.3" fill="#246aae"/>
<rect x="392.2" y="585.0" width="7" height="6.3" fill="#2065ab"/>
<rect x="399.1" y="585.0" width="7" height="6.3" fill="#1d5fa2"/>
<rect x="406.0" y="585.0" width="7" height="6.3" fill="#1a5899"/>
<rect x="412.9" y="585.0" width="7" height="6.3" fill="#175290"/>
<rect x="419.7" y="585.0" width="7" height="6.3" fill="#134c87"/>
<rect x="426.6" y="585.0" width="7" height="6.3" fill="#10457e"/>
<rect x="433.5" y="585.0" width="7" height="6.3" fill="#0e4179"/>
<rect x="440.4" y="585.0" width="7" height="6.3" fill="#0d3f76"/>
<rect x="447.3" y="585.0" width="7" height="6.3" fill="#0c3d73"/>
<rect x="454.2" y="585.0" width="7" height="6.3" fill="#09386d"/>
<rect x="461.0" y="585.0" width="7" height="6.3" fill="#08366a"/>
<rect x="467.9" y="585.0" width="7" height="6.3" fill="#08366a"/>
<rect x="474.8" y="585.0" width="7" height="6.3" fill="#08366a"/>
<rect x="481.7" y="585.0" width="7" height="6.3" fill="#08366a"/>
<rect x="488.6" y="585.0" width="7" height="6.3" fill="#08366a"/>
<rect x="495.5" y="585.0" width="7" height="6.3" fill="#08366a"/>
<rect x="502.4" y="585.0" width="7" height="6.3" fill="#08366a"/>
<rect x="509.2" y="585.0" width="7" height="6.3" fill="#08366a"/>
<rect x="516.1" y="585.0" width="7" height="6.3" fill="#08366a"/>
<rect x="523.0" y="585.0" width="7" height="6.3" fill="#08366a"/>
<rect x="529.9" y="585.0" width="7" height="6.3" fill="#08366a"/>
<rect x="536.8" y="585.0" width="7" height="6.3" fill="#08366a"/>
<rect x="543.7" y="585.0" width="7" height="6.3" fill="#08366a"/>
<rect x="550.5" y="585.0" width="7" height="6.3" fill="#08366a"/>
<rect x="557.4" y="585.0" width="7" height="6.3" fill="#08366a"/>
<rect x="564.3" y="585.0" width="7" height="6.3" fill="#08366a"/>
<rect x="571.2" y="585.0" width="7" height="6.3" fill="#08366a"/>
<rect x="578.1" y="585.0" width="7" height="6.3" fill="#08366a"/>
<rect x="585.0" y="585.0" width="7" height="6.3" fill="#08366a"/>
<rect x="591.8" y="585.0" width="7" height="6.3" fill="#08366a"/>
<rect x="598.7" y="585.0" width="7" height="6.3" fill="#08366a"/>
<rect x="605.6" y="585.0" width="7" height="6.3" fill="#08366a"/>
<rect x="130.6" y="578.8" width="7" height="6.3" fill="#c0dceb"/>
<rect x="137.5" y="578.8" width="7" height="6.3" fill="#c0dceb"/>
<rect x="144.4" y="578.8" width="7" height="6.3" fill="#c0dceb"/>
<rect x="151.3" y="578.8" width="7" height="6.3" fill="#c0dceb"/>
<rect x="158.2" y="578.8" width="7" height="6.3" fill="#c0dceb"/>
<rect x="165.0" y="578.8" width="7" height="6.3" fill="#c0dceb"/>
<rect x="171.9" y="578.8" width="7" height="6.3" fill="#c0dceb"/>
<rect x="178.8" y="578.8" width="7" height="6.3" fill="#c0dceb"/>
<rect x="185.7" y="578.8" width="7" height="6.3" fill="#bddbea"/>
<rect x="192.6" y="578.8" width="7" height="6.3" fill="#bddbea"/>
<rect x="199.5" y="578.8" width="7" height="6.3" fill="#bddbea"/>
<rect x="206.3" y="578.8" width="7" height="6.3" fill="#bbdaea"/>
<rect x="213.2" y="578.8" width="7" height="6.3" fill="#bbdaea"/>
<rect x="220.1" y="578.8" width="7" height="6.3" fill="#b8d8e9"/>
<rect x="227.0" y="578.8" width="7" height="6.3" fill="#b8d8e9"/>
<rect x="233.9" y="578.8" width="7" height="6.3" fill="#b6d7e8"/>
<rect x="240.8" y="578.8" width="7" height="6.3" fill="#b1d5e7"/>
<rect x="247.6" y="578.8" width="7" height="6.3" fill="#aed3e6"/>
<rect x="254.5" y="578.8" width="7" height="6.3" fill="#a9d1e5"/>
<rect x="261.4" y="578.8" width="7" height="6.3" fill="#a5cee3"/>
<rect x="268.3" y="578.8" width="7" height="6.3" fill="#9dcbe1"/>
<rect x="275.2" y="578.8" width="7" height="6.3" fill="#96c7df"/>
<rect x="282.1" y="578.8" width="7" height="6.3" fill="#8ac0db"/>
<rect x="288.9" y="578.8" width="7" height="6.3" fill="#7bb6d6"/>
<rect x="295.8" y="578.8" width="7" height="6.3" fill="#6eaed2"/>
<rect x="302.7" y="578.8" width="7" height="6.3" fill="#62a7ce"/>
<rect x="309.6" y="578.8" width="7" height="6.3" fill="#569fc9"/>
<rect x="316.5" y="578.8" width="7" height="6.3" fill="#4997c5"/>
<rect x="323.4" y="578.8" width="7" height="6.3" fill="#408fc1"/>
<rect x="330.3" y="578.8" width="7" height="6.3" fill="#3c8abe"/>
<rect x="337.1" y="578.8" width="7" height="6.3" fill="#3885bc"/>
<rect x="344.0" y="578.8" width="7" height="6.3" fill="#3681ba"/>
<rect x="350.9" y="578.8" width="7" height="6.3" fill="#3480b9"/>
<rect x="357.8" y="578.8" width="7" height="6.3" fill="#327cb7"/>
<rect x="364.7" y="578.8" width="7" height="6.3" fill="#2f79b5"/>
<rect x="371.6" y="578.8" width="7" height="6.3" fill="#2c75b4"/>
<rect x="378.4" y="578.8" width="7" height="6.3" fill="#2870b1"/>
<rect x="385.3" y="578.8" width="7" height="6.3" fill="#246aae"/>
<rect x="392.2" y="578.8" width="7" height="6.3" fill="#2065ab"/>
<rect x="399.1" y="578.8" width="7" height="6.3" fill="#1d5fa2"/>
<rect x="406.0" y="578.8" width="7" height="6.3" fill="#1a5899"/>
<rect x="412.9" y="578.8" width="7" height="6.3" fill="#175290"/>
<rect x="419.7" y="578.8" width="7" height="6.3" fill="#134c87"/>
<rect x="426.6" y="578.8" width="7" height="6.3" fill="#10457e"/>
<rect x="433.5" y="578.8" width="7" height="6.3" fill="#0e4179"/>
<rect x="440.4" y="578.8" width="7" height="6.3" fill="#0d3f76"/>
<rect x="447.3" y="578.8" width="7" height="6.3" fill="#0c3d73"/>
<rect x="454.2" y="578.8" width="7" height="6.3" fill="#09386d"/>
<rect x="461.0" y="578.8" width="7" height="6.3" fill="#08366a"/>
<rect x="467.9" y="578.8" width="7" height="6.3" fill="#08366a"/>
<rect x="474.8" y="578.8" width="7" height="6.3" fill="#08366a"/>
<rect x="481.7" y="578.8" width="7" height="6.3" fill="#08366a"/>
<rect x="488.6" y="578.8" width="7" height="6.3" fill="#08366a"/>
<rect x="495.5" y="578.8" width="7" height="6.3" fill="#08366a"/>
<rect x="502.4" y="578.8" width="7" height="6.3" fill="#08366a"/>
<rect x="509.2" y="578.8" width="7" height="6.3" fill="#08366a"/>
<rect x="516.1" y="578.8" width="7" height="6.3" fill="#08366a"/>
<rect x="523.0" y="578.8" width="7" height="6.3" fill="#08366a"/>
<rect x="529.9" y="578.8" width="7" height="6.3" fill="#08366a"/>
<rect x="536.8" y="578.8" width="7" height="6.3" fill="#08366a"/>
<rect x="543.7" y="578.8" width="7" height="6.3" fill="#08366a"/>
<rect x="550.5" y="578.8" width="7" height="6.3" fill="#08366a"/>
<rect x="557.4" y="578.8" width="7" height="6.3" fill="#08366a"/>
<rect x="564.3" y="578.8" width="7" height="6.3" fill="#08366a"/>
<rect x="571.2" y="578.8" width="7" height="6.3" fill="#08366a"/>
<rect x="578.1" y="578.8" width="7" height="6.3" fill="#08366a"/>
<rect x="585.0" y="578.8" width="7" height="6.3" fill="#08366a"/>
<rect x="591.8" y="578.8" width="7" height="6.3" fill="#08366a"/>
<rect x="598.7" y="578.8" width="7" height="6.3" fill="#08366a"/>
<rect x="605.6" y="578.8" width="7" height="6.3" fill="#08366a"/>
<rect x="130.6" y="572.5" width="7" height="6.3" fill="#a7d0e4"/>
<rect x="137.5" y="572.5" width="7" height="6.3" fill="#a7d0e4"/>
<rect x="144.4" y="572.5" width="7" height="6.3" fill="#a7d0e4"/>
<rect x="151.3" y="572.5" width="7" height="6.3" fill="#a7d0e4"/>
<rect x="158.2" y="572.5" width="7" height="6.3" fill="#a7d0e4"/>
<rect x="165.0" y="572.5" width="7" height="6.3" fill="#a9d1e5"/>
<rect x="171.9" y="572.5" width="7" height="6.3" fill="#a7d0e4"/>
<rect x="178.8" y="572.5" width="7" height="6.3" fill="#a7d0e4"/>
<rect x="185.7" y="572.5" width="7" height="6.3" fill="#a7d0e4"/>
<rect x="192.6" y="572.5" width="7" height="6.3" fill="#a7d0e4"/>
<rect x="199.5" y="572.5" width="7" height="6.3" fill="#a7d0e4"/>
<rect x="206.3" y="572.5" width="7" height="6.3" fill="#a7d0e4"/>
<rect x="213.2" y="572.5" width="7" height="6.3" fill="#a5cee3"/>
<rect x="220.1" y="572.5" width="7" height="6.3" fill="#a5cee3"/>
<rect x="227.0" y="572.5" width="7" height="6.3" fill="#a2cde3"/>
<rect x="233.9" y="572.5" width="7" height="6.3" fill="#a0cce2"/>
<rect x="240.8" y="572.5" width="7" height="6.3" fill="#9dcbe1"/>
<rect x="247.6" y="572.5" width="7" height="6.3" fill="#9bc9e0"/>
<rect x="254.5" y="572.5" width="7" height="6.3" fill="#96c7df"/>
<rect x="261.4" y="572.5" width="7" height="6.3" fill="#90c4dd"/>
<rect x="268.3" y="572.5" width="7" height="6.3" fill="#8ac0db"/>
<rect x="275.2" y="572.5" width="7" height="6.3" fill="#81bad8"/>
<rect x="282.1" y="572.5" width="7" height="6.3" fill="#78b4d5"/>
<rect x="288.9" y="572.5" width="7" height="6.3" fill="#6bacd1"/>
<rect x="295.8" y="572.5" width="7" height="6.3" fill="#62a7ce"/>
<rect x="302.7" y="572.5" width="7" height="6.3" fill="#569fc9"/>
<rect x="309.6" y="572.5" width="7" height="6.3" fill="#4c99c6"/>
<rect x="316.5" y="572.5" width="7" height="6.3" fill="#4291c2"/>
<rect x="323.4" y="572.5" width="7" height="6.3" fill="#3e8cbf"/>
<rect x="330.3" y="572.5" width="7" height="6.3" fill="#3a87bd"/>
<rect x="337.1" y="572.5" width="7" height="6.3" fill="#3783bb"/>
<rect x="344.0" y="572.5" width="7" height="6.3" fill="#3480b9"/>
<rect x="350.9" y="572.5" width="7" height="6.3" fill="#337eb8"/>
<rect x="357.8" y="572.5" width="7" height="6.3" fill="#307ab6"/>
<rect x="364.7" y="572.5" width="7" height="6.3" fill="#2f79b5"/>
<rect x="371.6" y="572.5" width="7" height="6.3" fill="#2b73b3"/>
<rect x="378.4" y="572.5" width="7" height="6.3" fill="#2870b1"/>
<rect x="385.3" y="572.5" width="7" height="6.3" fill="#246aae"/>
<rect x="392.2" y="572.5" width="7" height="6.3" fill="#1f63a8"/>
<rect x="399.1" y="572.5" width="7" height="6.3" fill="#1c5c9f"/>
<rect x="406.0" y="572.5" width="7" height="6.3" fill="#1a5899"/>
<rect x="412.9" y="572.5" width="7" height="6.3" fill="#175290"/>
<rect x="419.7" y="572.5" width="7" height="6.3" fill="#134c87"/>
<rect x="426.6" y="572.5" width="7" height="6.3" fill="#10457e"/>
<rect x="433.5" y="572.5" width="7" height="6.3" fill="#0e4179"/>
<rect x="440.4" y="572.5" width="7" height="6.3" fill="#0d3f76"/>
<rect x="447.3" y="572.5" width="7" height="6.3" fill="#0c3d73"/>
<rect x="454.2" y="572.5" width="7" height="6.3" fill="#09386d"/>
<rect x="461.0" y="572.5" width="7" height="6.3" fill="#08366a"/>
<rect x="467.9" y="572.5" width="7" height="6.3" fill="#08366a"/>
<rect x="474.8" y="572.5" width="7" height="6.3" fill="#08366a"/>
<rect x="481.7" y="572.5" width="7" height="6.3" fill="#08366a"/>
<rect x="488.6" y="572.5" width="7" height="6.3" fill="#08366a"/>
<rect x="495.5" y="572.5" width="7" height="6.3" fill="#08366a"/>
<rect x="502.4" y="572.5" width="7" height="6.3" fill="#08366a"/>
<rect x="509.2" y="572.5" width="7" height="6.3" fill="#08366a"/>
<rect x="516.1" y="572.5" width="7" height="6.3" fill="#08366a"/>
<rect x="523.0" y="572.5" width="7" height="6.3" fill="#08366a"/>
<rect x="529.9" y="572.5" width="7" height="6.3" fill="#08366a"/>
<rect x="536.8" y="572.5" width="7" height="6.3" fill="#08366a"/>
<rect x="543.7" y="572.5" width="7" height="6.3" fill="#08366a"/>
<rect x="550.5" y="572.5" width="7" height="6.3" fill="#08366a"/>
<rect x="557.4" y="572.5" width="7" height="6.3" fill="#08366a"/>
<rect x="564.3" y="572.5" width="7" height="6.3" fill="#08366a"/>
<rect x="571.2" y="572.5" width="7" height="6.3" fill="#08366a"/>
<rect x="578.1" y="572.5" width="7" height="6.3" fill="#08366a"/>
<rect x="585.0" y="572.5" width="7" height="6.3" fill="#08366a"/>
<rect x="591.8" y="572.5" width="7" height="6.3" fill="#08366a"/>
<rect x="598.7" y="572.5" width="7" height="6.3" fill="#08366a"/>
<rect x="605.6" y="572.5" width="7" height="6.3" fill="#08366a"/>
<rect x="130.6" y="566.3" width="7" height="6.3" fill="#90c4dd"/>
<rect x="137.5" y="566.3" width="7" height="6.3" fill="#93c6de"/>
<rect x="144.4" y="566.3" width="7" height="6.3" fill="#93c6de"/>
<rect x="151.3" y="566.3" width="7" height="6.3" fill="#93c6de"/>
<rect x="158.2" y="566.3" width="7" height="6.3" fill="#93c6de"/>
<rect x="165.0" y="566.3" width="7" height="6.3" fill="#93c6de"/>
<rect x="171.9" y="566.3" width="7" height="6.3" fill="#93c6de"/>
<rect x="178.8" y="566.3" width="7" height="6.3" fill="#93c6de"/>
<rect x="185.7" y="566.3" width="7" height="6.3" fill="#93c6de"/>
<rect x="192.6" y="566.3" width="7" height="6.3" fill="#90c4dd"/>
<rect x="199.5" y="566.3" width="7" height="6.3" fill="#90c4dd"/>
<rect x="206.3" y="566.3" width="7" height="6.3" fill="#90c4dd"/>
<rect x="213.2" y="566.3" width="7" height="6.3" fill="#90c4dd"/>
<rect x="220.1" y="566.3" width="7" height="6.3" fill="#8dc2dc"/>
<rect x="227.0" y="566.3" width="7" height="6.3" fill="#8dc2dc"/>
<rect x="233.9" y="566.3" width="7" height="6.3" fill="#8ac0db"/>
<rect x="240.8" y="566.3" width="7" height="6.3" fill="#87beda"/>
<rect x="247.6" y="566.3" width="7" height="6.3" fill="#84bcd9"/>
<rect x="254.5" y="566.3" width="7" height="6.3" fill="#81bad8"/>
<rect x="261.4" y="566.3" width="7" height="6.3" fill="#7bb6d6"/>
<rect x="268.3" y="566.3" width="7" height="6.3" fill="#75b2d4"/>
<rect x="275.2" y="566.3" width="7" height="6.3" fill="#6eaed2"/>
<rect x="282.1" y="566.3" width="7" height="6.3" fill="#65a9cf"/>
<rect x="288.9" y="566.3" width="7" height="6.3" fill="#5ca3cb"/>
<rect x="295.8" y="566.3" width="7" height="6.3" fill="#529dc8"/>
<rect x="302.7" y="566.3" width="7" height="6.3" fill="#4997c5"/>
<rect x="309.6" y="566.3" width="7" height="6.3" fill="#4291c2"/>
<rect x="316.5" y="566.3" width="7" height="6.3" fill="#3e8cbf"/>
<rect x="323.4" y="566.3" width="7" height="6.3" fill="#3a87bd"/>
<rect x="330.3" y="566.3" width="7" height="6.3" fill="#3783bb"/>
<rect x="337.1" y="566.3" width="7" height="6.3" fill="#3480b9"/>
<rect x="344.0" y="566.3" width="7" height="6.3" fill="#337eb8"/>
<rect x="350.9" y="566.3" width="7" height="6.3" fill="#307ab6"/>
<rect x="357.8" y="566.3" width="7" height="6.3" fill="#2f79b5"/>
<rect x="364.7" y="566.3" width="7" height="6.3" fill="#2e77b5"/>
<rect x="371.6" y="566.3" width="7" height="6.3" fill="#2b73b3"/>
<rect x="378.4" y="566.3" width="7" height="6.3" fill="#276eb0"/>
<rect x="385.3" y="566.3" width="7" height="6.3" fill="#2369ad"/>
<rect x="392.2" y="566.3" width="7" height="6.3" fill="#1f63a8"/>
<rect x="399.1" y="566.3" width="7" height="6.3" fill="#1c5c9f"/>
<rect x="406.0" y="566.3" width="7" height="6.3" fill="#195696"/>
<rect x="412.9" y="566.3" width="7" height="6.3" fill="#175290"/>
<rect x="419.7" y="566.3" width="7" height="6.3" fill="#134c87"/>
<rect x="426.6" y="566.3" width="7" height="6.3" fill="#10457e"/>
<rect x="433.5" y="566.3" width="7" height="6.3" fill="#0e4179"/>
<rect x="440.4" y="566.3" width="7" height="6.3" fill="#0d3f76"/>
<rect x="447.3" y="566.3" width="7" height="6.3" fill="#0c3d73"/>
<rect x="454.2" y="566.3" width="7" height="6.3" fill="#09386d"/>
<rect x="461.0" y="566.3" width="7" height="6.3" fill="#08366a"/>
<rect x="467.9" y="566.3" width="7" height="6.3" fill="#08366a"/>
<rect x="474.8" y="566.3" width="7" height="6.3" fill="#08366a"/>
<rect x="481.7" y="566.3" width="7" height="6.3" fill="#08366a"/>
<rect x="488.6" y="566.3" width="7" height="6.3" fill="#08366a"/>
<rect x="495.5" y="566.3" width="7" height="6.3" fill="#08366a"/>
<rect x="502.4" y="566.3" width="7" height="6.3" fill="#08366a"/>
<rect x="509.2" y="566.3" width="7" height="6.3" fill="#08366a"/>
<rect x="516.1" y="566.3" width="7" height="6.3" fill="#08366a"/>
<rect x="523.0" y="566.3" width="7" height="6.3" fill="#08366a"/>
<rect x="529.9" y="566.3" width="7" height="6.3" fill="#08366a"/>
<rect x="536.8" y="566.3" width="7" height="6.3" fill="#08366a"/>
<rect x="543.7" y="566.3" width="7" height="6.3" fill="#08366a"/>
<rect x="550.5" y="566.3" width="7" height="6.3" fill="#08366a"/>
<rect x="557.4" y="566.3" width="7" height="6.3" fill="#08366a"/>
<rect x="564.3" y="566.3" width="7" height="6.3" fill="#08366a"/>
<rect x="571.2" y="566.3" width="7" height="6.3" fill="#08366a"/>
<rect x="578.1" y="566.3" width="7" height="6.3" fill="#08366a"/>
<rect x="585.0" y="566.3" width="7" height="6.3" fill="#08366a"/>
<rect x="591.8" y="566.3" width="7" height="6.3" fill="#08366a"/>
<rect x="598.7" y="566.3" width="7" height="6.3" fill="#08366a"/>
<rect x="605.6" y="566.3" width="7" height="6.3" fill="#08366a"/>
<rect x="130.6" y="560.1" width="7" height="6.3" fill="#78b4d5"/>
<rect x="137.5" y="560.1" width="7" height="6.3" fill="#7bb6d6"/>
<rect x="144.4" y="560.1" width="7" height="6.3" fill="#7bb6d6"/>
<rect x="151.3" y="560.1" width="7" height="6.3" fill="#7bb6d6"/>
<rect x="158.2" y="560.1" width="7" height="6.3" fill="#7bb6d6"/>
<rect x="165.0" y="560.1" width="7" height="6.3" fill="#7bb6d6"/>
<rect x="171.9" y="560.1" width="7" height="6.3" fill="#7bb6d6"/>
<rect x="178.8" y="560.1" width="7" height="6.3" fill="#7bb6d6"/>
<rect x="185.7" y="560.1" width="7" height="6.3" fill="#7bb6d6"/>
<rect x="192.6" y="560.1" width="7" height="6.3" fill="#7bb6d6"/>
<rect x="199.5" y="560.1" width="7" height="6.3" fill="#78b4d5"/>
<rect x="206.3" y="560.1" width="7" height="6.3" fill="#78b4d5"/>
<rect x="213.2" y="560.1" width="7" height="6.3" fill="#78b4d5"/>
<rect x="220.1" y="560.1" width="7" height="6.3" fill="#78b4d5"/>
<rect x="227.0" y="560.1" width="7" height="6.3" fill="#75b2d4"/>
<rect x="233.9" y="560.1" width="7" height="6.3" fill="#75b2d4"/>
<rect x="240.8" y="560.1" width="7" height="6.3" fill="#71b0d3"/>
<rect x="247.6" y="560.1" width="7" height="6.3" fill="#6eaed2"/>
<rect x="254.5" y="560.1" width="7" height="6.3" fill="#6bacd1"/>
<rect x="261.4" y="560.1" width="7" height="6.3" fill="#65a9cf"/>
<rect x="268.3" y="560.1" width="7" height="6.3" fill="#62a7ce"/>
<rect x="275.2" y="560.1" width="7" height="6.3" fill="#5ca3cb"/>
<rect x="282.1" y="560.1" width="7" height="6.3" fill="#569fc9"/>
<rect x="288.9" y="560.1" width="7" height="6.3" fill="#4c99c6"/>
<rect x="295.8" y="560.1" width="7" height="6.3" fill="#4393c3"/>
<rect x="302.7" y="560.1" width="7" height="6.3" fill="#408fc1"/>
<rect x="309.6" y="560.1" width="7" height="6.3" fill="#3e8cbf"/>
<rect x="316.5" y="560.1" width="7" height="6.3" fill="#3a87bd"/>
<rect x="323.4" y="560.1" width="7" height="6.3" fill="#3783bb"/>
<rect x="330.3" y="560.1" width="7" height="6.3" fill="#3480b9"/>
<rect x="337.1" y="560.1" width="7" height="6.3" fill="#327cb7"/>
<rect x="344.0" y="560.1" width="7" height="6.3" fill="#307ab6"/>
<rect x="350.9" y="560.1" width="7" height="6.3" fill="#2f79b5"/>
<rect x="357.8" y="560.1" width="7" height="6.3" fill="#2e77b5"/>
<rect x="364.7" y="560.1" width="7" height="6.3" fill="#2c75b4"/>
<rect x="371.6" y="560.1" width="7" height="6.3" fill="#2a71b2"/>
<rect x="378.4" y="560.1" width="7" height="6.3" fill="#266caf"/>
<rect x="385.3" y="560.1" width="7" height="6.3" fill="#2369ad"/>
<rect x="392.2" y="560.1" width="7" height="6.3" fill="#1f63a8"/>
<rect x="399.1" y="560.1" width="7" height="6.3" fill="#1c5c9f"/>
<rect x="406.0" y="560.1" width="7" height="6.3" fill="#195696"/>
<rect x="412.9" y="560.1" width="7" height="6.3" fill="#175290"/>
<rect x="419.7" y="560.1" width="7" height="6.3" fill="#134c87"/>
<rect x="426.6" y="560.1" width="7" height="6.3" fill="#10457e"/>
<rect x="433.5" y="560.1" width="7" height="6.3" fill="#0e4179"/>
<rect x="440.4" y="560.1" width="7" height="6.3" fill="#0d3f76"/>
<rect x="447.3" y="560.1" width="7" height="6.3" fill="#0c3d73"/>
<rect x="454.2" y="560.1" width="7" height="6.3" fill="#09386d"/>
<rect x="461.0" y="560.1" width="7" height="6.3" fill="#08366a"/>
<rect x="467.9" y="560.1" width="7" height="6.3" fill="#08366a"/>
<rect x="474.8" y="560.1" width="7" height="6.3" fill="#08366a"/>
<rect x="481.7" y="560.1" width="7" height="6.3" fill="#08366a"/>
<rect x="488.6" y="560.1" width="7" height="6.3" fill="#08366a"/>
<rect x="495.5" y="560.1" width="7" height="6.3" fill="#08366a"/>
<rect x="502.4" y="560.1" width="7" height="6.3" fill="#08366a"/>
<rect x="509.2" y="560.1" width="7" height="6.3" fill="#08366a"/>
<rect x="516.1" y="560.1" width="7" height="6.3" fill="#08366a"/>
<rect x="523.0" y="560.1" width="7" height="6.3" fill="#08366a"/>
<rect x="529.9" y="560.1" width="7" height="6.3" fill="#08366a"/>
<rect x="536.8" y="560.1" width="7" height="6.3" fill="#08366a"/>
<rect x="543.7" y="560.1" width="7" height="6.3" fill="#08366a"/>
<rect x="550.5" y="560.1" width="7" height="6.3" fill="#08366a"/>
<rect x="557.4" y="560.1" width="7" height="6.3" fill="#08366a"/>
<rect x="564.3" y="560.1" width="7" height="6.3" fill="#08366a"/>
<rect x="571.2" y="560.1" width="7" height="6.3" fill="#08366a"/>
<rect x="578.1" y="560.1" width="7" height="6.3" fill="#08366a"/>
<rect x="585.0" y="560.1" width="7" height="6.3" fill="#08366a"/>
<rect x="591.8" y="560.1" width="7" height="6.3" fill="#08366a"/>
<rect x="598.7" y="560.1" width="7" height="6.3" fill="#08366a"/>
<rect x="605.6" y="560.1" width="7" height="6.3" fill="#08366a"/>
<rect x="130.6" y="553.9" width="7" height="6.3" fill="#62a7ce"/>
<rect x="137.5" y="553.9" width="7" height="6.3" fill="#62a7ce"/>
<rect x="144.4" y="553.9" width="7" height="6.3" fill="#62a7ce"/>
<rect x="151.3" y="553.9" width="7" height="6.3" fill="#62a7ce"/>
<rect x="158.2" y="553.9" width="7" height="6.3" fill="#65a9cf"/>
<rect x="165.0" y="553.9" width="7" height="6.3" fill="#65a9cf"/>
<rect x="171.9" y="553.9" width="7" height="6.3" fill="#62a7ce"/>
<rect x="178.8" y="553.9" width="7" height="6.3" fill="#62a7ce"/>
<rect x="185.7" y="553.9" width="7" height="6.3" fill="#62a7ce"/>
<rect x="192.6" y="553.9" width="7" height="6.3" fill="#62a7ce"/>
<rect x="199.5" y="553.9" width="7" height="6.3" fill="#62a7ce"/>
<rect x="206.3" y="553.9" width="7" height="6.3" fill="#62a7ce"/>
<rect x="213.2" y="553.9" width="7" height="6.3" fill="#62a7ce"/>
<rect x="220.1" y="553.9" width="7" height="6.3" fill="#5fa5cd"/>
<rect x="227.0" y="553.9" width="7" height="6.3" fill="#5fa5cd"/>
<rect x="233.9" y="553.9" width="7" height="6.3" fill="#5ca3cb"/>
<rect x="240.8" y="553.9" width="7" height="6.3" fill="#5ca3cb"/>
<rect x="247.6" y="553.9" width="7" height="6.3" fill="#59a1ca"/>
<rect x="254.5" y="553.9" width="7" height="6.3" fill="#569fc9"/>
<rect x="261.4" y="553.9" width="7" height="6.3" fill="#529dc8"/>
<rect x="268.3" y="553.9" width="7" height="6.3" fill="#4f9bc7"/>
<rect x="275.2" y="553.9" width="7" height="6.3" fill="#4997c5"/>
<rect x="282.1" y="553.9" width="7" height="6.3" fill="#4393c3"/>
<rect x="288.9" y="553.9" width="7" height="6.3" fill="#408fc1"/>
<rect x="295.8" y="553.9" width="7" height="6.3" fill="#3e8cbf"/>
<rect x="302.7" y="553.9" width="7" height="6.3" fill="#3b88be"/>
<rect x="309.6" y="553.9" width="7" height="6.3" fill="#3885bc"/>
<rect x="316.5" y="553.9" width="7" height="6.3" fill="#3681ba"/>
<rect x="323.4" y="553.9" width="7" height="6.3" fill="#337eb8"/>
<rect x="330.3" y="553.9" width="7" height="6.3" fill="#327cb7"/>
<rect x="337.1" y="553.9" width="7" height="6.3" fill="#2f79b5"/>
<rect x="344.0" y="553.9" width="7" height="6.3" fill="#2e77b5"/>
<rect x="350.9" y="553.9" width="7" height="6.3" fill="#2c75b4"/>
<rect x="357.8" y="553.9" width="7" height="6.3" fill="#2b73b3"/>
<rect x="364.7" y="553.9" width="7" height="6.3" fill="#2a71b2"/>
<rect x="371.6" y="553.9" width="7" height="6.3" fill="#276eb0"/>
<rect x="378.4" y="553.9" width="7" height="6.3" fill="#246aae"/>
<rect x="385.3" y="553.9" width="7" height="6.3" fill="#2267ac"/>
<rect x="392.2" y="553.9" width="7" height="6.3" fill="#1e61a5"/>
<rect x="399.1" y="553.9" width="7" height="6.3" fill="#1b5a9c"/>
<rect x="406.0" y="553.9" width="7" height="6.3" fill="#195696"/>
<rect x="412.9" y="553.9" width="7" height="6.3" fill="#15508d"/>
<rect x="419.7" y="553.9" width="7" height="6.3" fill="#134c87"/>
<rect x="426.6" y="553.9" width="7" height="6.3" fill="#10457e"/>
<rect x="433.5" y="553.9" width="7" height="6.3" fill="#0f437b"/>
<rect x="440.4" y="553.9" width="7" height="6.3" fill="#0d3f76"/>
<rect x="447.3" y="553.9" width="7" height="6.3" fill="#0c3d73"/>
<rect x="454.2" y="553.9" width="7" height="6.3" fill="#09386d"/>
<rect x="461.0" y="553.9" width="7" height="6.3" fill="#09386d"/>
<rect x="467.9" y="553.9" width="7" height="6.3" fill="#08366a"/>
<rect x="474.8" y="553.9" width="7" height="6.3" fill="#08366a"/>
<rect x="481.7" y="553.9" width="7" height="6.3" fill="#08366a"/>
<rect x="488.6" y="553.9" width="7" height="6.3" fill="#08366a"/>
<rect x="495.5" y="553.9" width="7" height="6.3" fill="#08366a"/>
<rect x="502.4" y="553.9" width="7" height="6.3" fill="#08366a"/>
<rect x="509.2" y="553.9" width="7" height="6.3" fill="#08366a"/>
<rect x="516.1" y="553.9" width="7" height="6.3" fill="#08366a"/>
<rect x="523.0" y="553.9" width="7" height="6.3" fill="#08366a"/>
<rect x="529.9" y="553.9" width="7" height="6.3" fill="#08366a"/>
<rect x="536.8" y="553.9" width="7" height="6.3" fill="#08366a"/>
<rect x="543.7" y="553.9" width="7" height="6.3" fill="#08366a"/>
<rect x="550.5" y="553.9" width="7" height="6.3" fill="#08366a"/>
<rect x="557.4" y="553.9" width="7" height="6.3" fill="#08366a"/>
<rect x="564.3" y="553.9" width="7" height="6.3" fill="#08366a"/>
<rect x="571.2" y="553.9" width="7" height="6.3" fill="#08366a"/>
<rect x="578.1" y="553.9" width="7" height="6.3" fill="#08366a"/>
<rect x="585.0" y="553.9" width="7" height="6.3" fill="#08366a"/>
<rect x="591.8" y="553.9" width="7" height="6.3" fill="#08366a"/>
<rect x="598.7" y="553.9" width="7" height="6.3" fill="#08366a"/>
<rect x="605.6" y="553.9" width="7" height="6.3" fill="#073467"/>
<rect x="130.6" y="547.7" width="7" height="6.3" fill="#4c99c6"/>
<rect x="137.5" y="547.7" width="7" height="6.3" fill="#4c99c6"/>
<rect x="144.4" y="547.7" width="7" height="6.3" fill="#4c99c6"/>
<rect x="151.3" y="547.7" width="7" height="6.3" fill="#4c99c6"/>
<rect x="158.2" y="547.7" width="7" height="6.3" fill="#4c99c6"/>
<rect x="165.0" y="547.7" width="7" height="6.3" fill="#4c99c6"/>
<rect x="171.9" y="547.7" width="7" height="6.3" fill="#4c99c6"/>
<rect x="178.8" y="547.7" width="7" height="6.3" fill="#4c99c6"/>
<rect x="185.7" y="547.7" width="7" height="6.3" fill="#4c99c6"/>
<rect x="192.6" y="547.7" width="7" height="6.3" fill="#4c99c6"/>
<rect x="199.5" y="547.7" width="7" height="6.3" fill="#4c99c6"/>
<rect x="206.3" y="547.7" width="7" height="6.3" fill="#4c99c6"/>
<rect x="213.2" y="547.7" width="7" height="6.3" fill="#4997c5"/>
<rect x="220.1" y="547.7" width="7" height="6.3" fill="#4997c5"/>
<rect x="227.0" y="547.7" width="7" height="6.3" fill="#4997c5"/>
<rect x="233.9" y="547.7" width="7" height="6.3" fill="#4695c4"/>
<rect x="240.8" y="547.7" width="7" height="6.3" fill="#4695c4"/>
<rect x="247.6" y="547.7" width="7" height="6.3" fill="#4393c3"/>
<rect x="254.5" y="547.7" width="7" height="6.3" fill="#4291c2"/>
<rect x="261.4" y="547.7" width="7" height="6.3" fill="#408fc1"/>
<rect x="268.3" y="547.7" width="7" height="6.3" fill="#3f8ec0"/>
<rect x="275.2" y="547.7" width="7" height="6.3" fill="#3e8cbf"/>
<rect x="282.1" y="547.7" width="7" height="6.3" fill="#3c8abe"/>
<rect x="288.9" y="547.7" width="7" height="6.3" fill="#3a87bd"/>
<rect x="295.8" y="547.7" width="7" height="6.3" fill="#3783bb"/>
<rect x="302.7" y="547.7" width="7" height="6.3" fill="#3681ba"/>
<rect x="309.6" y="547.7" width="7" height="6.3" fill="#337eb8"/>
<rect x="316.5" y="547.7" width="7" height="6.3" fill="#327cb7"/>
<rect x="323.4" y="547.7" width="7" height="6.3" fill="#2f79b5"/>
<rect x="330.3" y="547.7" width="7" height="6.3" fill="#2e77b5"/>
<rect x="337.1" y="547.7" width="7" height="6.3" fill="#2c75b4"/>
<rect x="344.0" y="547.7" width="7" height="6.3" fill="#2b73b3"/>
<rect x="350.9" y="547.7" width="7" height="6.3" fill="#2a71b2"/>
<rect x="357.8" y="547.7" width="7" height="6.3" fill="#2870b1"/>
<rect x="364.7" y="547.7" width="7" height="6.3" fill="#276eb0"/>
<rect x="371.6" y="547.7" width="7" height="6.3" fill="#266caf"/>
<rect x="378.4" y="547.7" width="7" height="6.3" fill="#2369ad"/>
<rect x="385.3" y="547.7" width="7" height="6.3" fill="#2065ab"/>
<rect x="392.2" y="547.7" width="7" height="6.3" fill="#1d5fa2"/>
<rect x="399.1" y="547.7" width="7" height="6.3" fill="#1b5a9c"/>
<rect x="406.0" y="547.7" width="7" height="6.3" fill="#195696"/>
<rect x="412.9" y="547.7" width="7" height="6.3" fill="#15508d"/>
<rect x="419.7" y="547.7" width="7" height="6.3" fill="#134c87"/>
<rect x="426.6" y="547.7" width="7" height="6.3" fill="#10457e"/>
<rect x="433.5" y="547.7" width="7" height="6.3" fill="#0f437b"/>
<rect x="440.4" y="547.7" width="7" height="6.3" fill="#0d3f76"/>
<rect x="447.3" y="547.7" width="7" height="6.3" fill="#0c3d73"/>
<rect x="454.2" y="547.7" width="7" height="6.3" fill="#0a3b70"/>
<rect x="461.0" y="547.7" width="7" height="6.3" fill="#09386d"/>
<rect x="467.9" y="547.7" width="7" height="6.3" fill="#08366a"/>
<rect x="474.8" y="547.7" width="7" height="6.3" fill="#08366a"/>
<rect x="481.7" y="547.7" width="7" height="6.3" fill="#08366a"/>
<rect x="488.6" y="547.7" width="7" height="6.3" fill="#08366a"/>
<rect x="495.5" y="547.7" width="7" height="6.3" fill="#08366a"/>
<rect x="502.4" y="547.7" width="7" height="6.3" fill="#08366a"/>
<rect x="509.2" y="547.7" width="7" height="6.3" fill="#08366a"/>
<rect x="516.1" y="547.7" width="7" height="6.3" fill="#08366a"/>
<rect x="523.0" y="547.7" width="7" height="6.3" fill="#08366a"/>
<rect x="529.9" y="547.7" width="7" height="6.3" fill="#08366a"/>
<rect x="536.8" y="547.7" width="7" height="6.3" fill="#08366a"/>
<rect x="543.7" y="547.7" width="7" height="6.3" fill="#08366a"/>
<rect x="550.5" y="547.7" width="7" height="6.3" fill="#08366a"/>
<rect x="557.4" y="547.7" width="7" height="6.3" fill="#08366a"/>
<rect x="564.3" y="547.7" width="7" height="6.3" fill="#08366a"/>
<rect x="571.2" y="547.7" width="7" height="6.3" fill="#08366a"/>
<rect x="578.1" y="547.7" width="7" height="6.3" fill="#08366a"/>
<rect x="585.0" y="547.7" width="7" height="6.3" fill="#08366a"/>
<rect x="591.8" y="547.7" width="7" height="6.3" fill="#073467"/>
<rect x="598.7" y="547.7" width="7" height="6.3" fill="#073467"/>
<rect x="605.6" y="547.7" width="7" height="6.3" fill="#073467"/>
<rect x="130.6" y="541.4" width="7" height="6.3" fill="#3e8cbf"/>
<rect x="137.5" y="541.4" width="7" height="6.3" fill="#3e8cbf"/>
<rect x="144.4" y="541.4" width="7" height="6.3" fill="#3f8ec0"/>
<rect x="151.3" y="541.4" width="7" height="6.3" fill="#3f8ec0"/>
<rect x="158.2" y="541.4" width="7" height="6.3" fill="#3f8ec0"/>
<rect x="165.0" y="541.4" width="7" height="6.3" fill="#3f8ec0"/>
<rect x="171.9" y="541.4" width="7" height="6.3" fill="#3f8ec0"/>
<rect x="178.8" y="541.4" width="7" height="6.3" fill="#3e8cbf"/>
<rect x="185.7" y="541.4" width="7" height="6.3" fill="#3e8cbf"/>
<rect x="192.6" y="541.4" width="7" height="6.3" fill="#3e8cbf"/>
<rect x="199.5" y="541.4" width="7" height="6.3" fill="#3e8cbf"/>
<rect x="206.3" y="541.4" width="7" height="6.3" fill="#3e8cbf"/>
<rect x="213.2" y="541.4" width="7" height="6.3" fill="#3c8abe"/>
<rect x="220.1" y="541.4" width="7" height="6.3" fill="#3c8abe"/>
<rect x="227.0" y="541.4" width="7" height="6.3" fill="#3c8abe"/>
<rect x="233.9" y="541.4" width="7" height="6.3" fill="#3b88be"/>
<rect x="240.8" y="541.4" width="7" height="6.3" fill="#3b88be"/>
<rect x="247.6" y="541.4" width="7" height="6.3" fill="#3a87bd"/>
<rect x="254.5" y="541.4" width="7" height="6.3" fill="#3a87bd"/>
<rect x="261.4" y="541.4" width="7" height="6.3" fill="#3885bc"/>
<rect x="268.3" y="541.4" width="7" height="6.3" fill="#3783bb"/>
<rect x="275.2" y="541.4" width="7" height="6.3" fill="#3681ba"/>
<rect x="282.1" y="541.4" width="7" height="6.3" fill="#3480b9"/>
<rect x="288.9" y="541.4" width="7" height="6.3" fill="#337eb8"/>
<rect x="295.8" y="541.4" width="7" height="6.3" fill="#327cb7"/>
<rect x="302.7" y="541.4" width="7" height="6.3" fill="#307ab6"/>
<rect x="309.6" y="541.4" width="7" height="6.3" fill="#2f79b5"/>
<rect x="316.5" y="541.4" width="7" height="6.3" fill="#2c75b4"/>
<rect x="323.4" y="541.4" width="7" height="6.3" fill="#2b73b3"/>
<rect x="330.3" y="541.4" width="7" height="6.3" fill="#2a71b2"/>
<rect x="337.1" y="541.4" width="7" height="6.3" fill="#2870b1"/>
<rect x="344.0" y="541.4" width="7" height="6.3" fill="#276eb0"/>
<rect x="350.9" y="541.4" width="7" height="6.3" fill="#276eb0"/>
<rect x="357.8" y="541.4" width="7" height="6.3" fill="#266caf"/>
<rect x="364.7" y="541.4" width="7" height="6.3" fill="#246aae"/>
<rect x="371.6" y="541.4" width="7" height="6.3" fill="#2369ad"/>
<rect x="378.4" y="541.4" width="7" height="6.3" fill="#2065ab"/>
<rect x="385.3" y="541.4" width="7" height="6.3" fill="#1e61a5"/>
<rect x="392.2" y="541.4" width="7" height="6.3" fill="#1c5c9f"/>
<rect x="399.1" y="541.4" width="7" height="6.3" fill="#1a5899"/>
<rect x="406.0" y="541.4" width="7" height="6.3" fill="#185493"/>
<rect x="412.9" y="541.4" width="7" height="6.3" fill="#15508d"/>
<rect x="419.7" y="541.4" width="7" height="6.3" fill="#134c87"/>
<rect x="426.6" y="541.4" width="7" height="6.3" fill="#114781"/>
<rect x="433.5" y="541.4" width="7" height="6.3" fill="#0f437b"/>
<rect x="440.4" y="541.4" width="7" height="6.3" fill="#0e4179"/>
<rect x="447.3" y="541.4" width="7" height="6.3" fill="#0c3d73"/>
<rect x="454.2" y="541.4" width="7" height="6.3" fill="#0a3b70"/>
<rect x="461.0" y="541.4" width="7" height="6.3" fill="#09386d"/>
<rect x="467.9" y="541.4" width="7" height="6.3" fill="#09386d"/>
<rect x="474.8" y="541.4" width="7" height="6.3" fill="#09386d"/>
<rect x="481.7" y="541.4" width="7" height="6.3" fill="#09386d"/>
<rect x="488.6" y="541.4" width="7" height="6.3" fill="#08366a"/>
<rect x="495.5" y="541.4" width="7" height="6.3" fill="#08366a"/>
<rect x="502.4" y="541.4" width="7" height="6.3" fill="#08366a"/>
<rect x="509.2" y="541.4" width="7" height="6.3" fill="#08366a"/>
<rect x="516.1" y="541.4" width="7" height="6.3" fill="#08366a"/>
<rect x="523.0" y="541.4" width="7" height="6.3" fill="#08366a"/>
<rect x="529.9" y="541.4" width="7" height="6.3" fill="#08366a"/>
<rect x="536.8" y="541.4" width="7" height="6.3" fill="#08366a"/>
<rect x="543.7" y="541.4" width="7" height="6.3" fill="#08366a"/>
<rect x="550.5" y="541.4" width="7" height="6.3" fill="#08366a"/>
<rect x="557.4" y="541.4" width="7" height="6.3" fill="#08366a"/>
<rect x="564.3" y="541.4" width="7" height="6.3" fill="#08366a"/>
<rect x="571.2" y="541.4" width="7" height="6.3" fill="#073467"/>
<rect x="578.1" y="541.4" width="7" height="6.3" fill="#073467"/>
<rect x="585.0" y="541.4" width="7" height="6.3" fill="#073467"/>
<rect x="591.8" y="541.4" width="7" height="6.3" fill="#073467"/>
<rect x="598.7" y="541.4" width="7" height="6.3" fill="#073467"/>
<rect x="605.6" y="541.4" width="7" height="6.3" fill="#073467"/>
<rect x="130.6" y="535.2" width="7" height="6.3" fill="#3681ba"/>
<rect x="137.5" y="535.2" width="7" height="6.3" fill="#3681ba"/>
<rect x="144.4" y="535.2" width="7" height="6.3" fill="#3681ba"/>
<rect x="151.3" y="535.2" width="7" height="6.3" fill="#3681ba"/>
<rect x="158.2" y="535.2" width="7" height="6.3" fill="#3681ba"/>
<rect x="165.0" y="535.2" width="7" height="6.3" fill="#3783bb"/>
<rect x="171.9" y="535.2" width="7" height="6.3" fill="#3681ba"/>
<rect x="178.8" y="535.2" width="7" height="6.3" fill="#3681ba"/>
<rect x="185.7" y="535.2" width="7" height="6.3" fill="#3681ba"/>
<rect x="192.6" y="535.2" width="7" height="6.3" fill="#3681ba"/>
<rect x="199.5" y="535.2" width="7" height="6.3" fill="#3681ba"/>
<rect x="206.3" y="535.2" width="7" height="6.3" fill="#3480b9"/>
<rect x="213.2" y="535.2" width="7" height="6.3" fill="#3480b9"/>
<rect x="220.1" y="535.2" width="7" height="6.3" fill="#3480b9"/>
<rect x="227.0" y="535.2" width="7" height="6.3" fill="#337eb8"/>
<rect x="233.9" y="535.2" width="7" height="6.3" fill="#337eb8"/>
<rect x="240.8" y="535.2" width="7" height="6.3" fill="#327cb7"/>
<rect x="247.6" y="535.2" width="7" height="6.3" fill="#327cb7"/>
<rect x="254.5" y="535.2" width="7" height="6.3" fill="#307ab6"/>
<rect x="261.4" y="535.2" width="7" height="6.3" fill="#307ab6"/>
<rect x="268.3" y="535.2" width="7" height="6.3" fill="#2f79b5"/>
<rect x="275.2" y="535.2" width="7" height="6.3" fill="#2f79b5"/>
<rect x="282.1" y="535.2" width="7" height="6.3" fill="#2e77b5"/>
<rect x="288.9" y="535.2" width="7" height="6.3" fill="#2c75b4"/>
<rect x="295.8" y="535.2" width="7" height="6.3" fill="#2c75b4"/>
<rect x="302.7" y="535.2" width="7" height="6.3" fill="#2b73b3"/>
<rect x="309.6" y="535.2" width="7" height="6.3" fill="#2a71b2"/>
<rect x="316.5" y="535.2" width="7" height="6.3" fill="#2870b1"/>
<rect x="323.4" y="535.2" width="7" height="6.3" fill="#276eb0"/>
<rect x="330.3" y="535.2" width="7" height="6.3" fill="#266caf"/>
<rect x="337.1" y="535.2" width="7" height="6.3" fill="#266caf"/>
<rect x="344.0" y="535.2" width="7" height="6.3" fill="#246aae"/>
<rect x="350.9" y="535.2" width="7" height="6.3" fill="#2369ad"/>
<rect x="357.8" y="535.2" width="7" height="6.3" fill="#2267ac"/>
<rect x="364.7" y="535.2" width="7" height="6.3" fill="#2065ab"/>
<rect x="371.6" y="535.2" width="7" height="6.3" fill="#1f63a8"/>
<rect x="378.4" y="535.2" width="7" height="6.3" fill="#1e61a5"/>
<rect x="385.3" y="535.2" width="7" height="6.3" fill="#1d5fa2"/>
<rect x="392.2" y="535.2" width="7" height="6.3" fill="#1b5a9c"/>
<rect x="399.1" y="535.2" width="7" height="6.3" fill="#195696"/>
<rect x="406.0" y="535.2" width="7" height="6.3" fill="#185493"/>
<rect x="412.9" y="535.2" width="7" height="6.3" fill="#15508d"/>
<rect x="419.7" y="535.2" width="7" height="6.3" fill="#134c87"/>
<rect x="426.6" y="535.2" width="7" height="6.3" fill="#114781"/>
<rect x="433.5" y="535.2" width="7" height="6.3" fill="#0f437b"/>
<rect x="440.4" y="535.2" width="7" height="6.3" fill="#0e4179"/>
<rect x="447.3" y="535.2" width="7" height="6.3" fill="#0d3f76"/>
<rect x="454.2" y="535.2" width="7" height="6.3" fill="#0c3d73"/>
<rect x="461.0" y="535.2" width="7" height="6.3" fill="#0a3b70"/>
<rect x="467.9" y="535.2" width="7" height="6.3" fill="#09386d"/>
<rect x="474.8" y="535.2" width="7" height="6.3" fill="#09386d"/>
<rect x="481.7" y="535.2" width="7" height="6.3" fill="#09386d"/>
<rect x="488.6" y="535.2" width="7" height="6.3" fill="#09386d"/>
<rect x="495.5" y="535.2" width="7" height="6.3" fill="#08366a"/>
<rect x="502.4" y="535.2" width="7" height="6.3" fill="#08366a"/>
<rect x="509.2" y="535.2" width="7" height="6.3" fill="#08366a"/>
<rect x="516.1" y="535.2" width="7" height="6.3" fill="#08366a"/>
<rect x="523.0" y="535.2" width="7" height="6.3" fill="#08366a"/>
<rect x="529.9" y="535.2" width="7" height="6.3" fill="#08366a"/>
<rect x="536.8" y="535.2" width="7" height="6.3" fill="#08366a"/>
<rect x="543.7" y="535.2" width="7" height="6.3" fill="#08366a"/>
<rect x="550.5" y="535.2" width="7" height="6.3" fill="#073467"/>
<rect x="557.4" y="535.2" width="7" height="6.3" fill="#073467"/>
<rect x="564.3" y="535.2" width="7" height="6.3" fill="#073467"/>
<rect x="571.2" y="535.2" width="7" height="6.3" fill="#073467"/>
<rect x="578.1" y="535.2" width="7" height="6.3" fill="#073467"/>
<rect x="585.0" y="535.2" width="7" height="6.3" fill="#073467"/>
<rect x="591.8" y="535.2" width="7" height="6.3" fill="#073467"/>
<rect x="598.7" y="535.2" width="7" height="6.3" fill="#073467"/>
<rect x="605.6" y="535.2" width="7" height="6.3" fill="#073467"/>
<rect x="130.6" y="529.0" width="7" height="6.3" fill="#2f79b5"/>
<rect x="137.5" y="529.0" width="7" height="6.3" fill="#2f79b5"/>
<rect x="144.4" y="529.0" width="7" height="6.3" fill="#2f79b5"/>
<rect x="151.3" y="529.0" width="7" height="6.3" fill="#2f79b5"/>
<rect x="158.2" y="529.0" width="7" height="6.3" fill="#2f79b5"/>
<rect x="165.0" y="529.0" width="7" height="6.3" fill="#2f79b5"/>
<rect x="171.9" y="529.0" width="7" height="6.3" fill="#2f79b5"/>
<rect x="178.8" y="529.0" width="7" height="6.3" fill="#2f79b5"/>
<rect x="185.7" y="529.0" width="7" height="6.3" fill="#2f79b5"/>
<rect x="192.6" y="529.0" width="7" height="6.3" fill="#2f79b5"/>
<rect x="199.5" y="529.0" width="7" height="6.3" fill="#2e77b5"/>
<rect x="206.3" y="529.0" width="7" height="6.3" fill="#2e77b5"/>
<rect x="213.2" y="529.0" width="7" height="6.3" fill="#2e77b5"/>
<rect x="220.1" y="529.0" width="7" height="6.3" fill="#2c75b4"/>
<rect x="227.0" y="529.0" width="7" height="6.3" fill="#2c75b4"/>
<rect x="233.9" y="529.0" width="7" height="6.3" fill="#2b73b3"/>
<rect x="240.8" y="529.0" width="7" height="6.3" fill="#2b73b3"/>
<rect x="247.6" y="529.0" width="7" height="6.3" fill="#2b73b3"/>
<rect x="254.5" y="529.0" width="7" height="6.3" fill="#2a71b2"/>
<rect x="261.4" y="529.0" width="7" height="6.3" fill="#2a71b2"/>
<rect x="268.3" y="529.0" width="7" height="6.3" fill="#2a71b2"/>
<rect x="275.2" y="529.0" width="7" height="6.3" fill="#2870b1"/>
<rect x="282.1" y="529.0" width="7" height="6.3" fill="#2870b1"/>
<rect x="288.9" y="529.0" width="7" height="6.3" fill="#276eb0"/>
<rect x="295.8" y="529.0" width="7" height="6.3" fill="#276eb0"/>
<rect x="302.7" y="529.0" width="7" height="6.3" fill="#266caf"/>
<rect x="309.6" y="529.0" width="7" height="6.3" fill="#266caf"/>
<rect x="316.5" y="529.0" width="7" height="6.3" fill="#246aae"/>
<rect x="323.4" y="529.0" width="7" height="6.3" fill="#2369ad"/>
<rect x="330.3" y="529.0" width="7" height="6.3" fill="#2369ad"/>
<rect x="337.1" y="529.0" width="7" height="6.3" fill="#2267ac"/>
<rect x="344.0" y="529.0" width="7" height="6.3" fill="#2065ab"/>
<rect x="350.9" y="529.0" width="7" height="6.3" fill="#2065ab"/>
<rect x="357.8" y="529.0" width="7" height="6.3" fill="#1f63a8"/>
<rect x="364.7" y="529.0" width="7" height="6.3" fill="#1e61a5"/>
<rect x="371.6" y="529.0" width="7" height="6.3" fill="#1d5fa2"/>
<rect x="378.4" y="529.0" width="7" height="6.3" fill="#1c5c9f"/>
<rect x="385.3" y="529.0" width="7" height="6.3" fill="#1b5a9c"/>
<rect x="392.2" y="529.0" width="7" height="6.3" fill="#1a5899"/>
<rect x="399.1" y="529.0" width="7" height="6.3" fill="#195696"/>
<rect x="406.0" y="529.0" width="7" height="6.3" fill="#175290"/>
<rect x="412.9" y="529.0" width="7" height="6.3" fill="#144e8a"/>
<rect x="419.7" y="529.0" width="7" height="6.3" fill="#124984"/>
<rect x="426.6" y="529.0" width="7" height="6.3" fill="#114781"/>
<rect x="433.5" y="529.0" width="7" height="6.3" fill="#0f437b"/>
<rect x="440.4" y="529.0" width="7" height="6.3" fill="#0e4179"/>
<rect x="447.3" y="529.0" width="7" height="6.3" fill="#0d3f76"/>
<rect x="454.2" y="529.0" width="7" height="6.3" fill="#0c3d73"/>
<rect x="461.0" y="529.0" width="7" height="6.3" fill="#0a3b70"/>
<rect x="467.9" y="529.0" width="7" height="6.3" fill="#0a3b70"/>
<rect x="474.8" y="529.0" width="7" height="6.3" fill="#09386d"/>
<rect x="481.7" y="529.0" width="7" height="6.3" fill="#09386d"/>
<rect x="488.6" y="529.0" width="7" height="6.3" fill="#09386d"/>
<rect x="495.5" y="529.0" width="7" height="6.3" fill="#08366a"/>
<rect x="502.4" y="529.0" width="7" height="6.3" fill="#08366a"/>
<rect x="509.2" y="529.0" width="7" height="6.3" fill="#08366a"/>
<rect x="516.1" y="529.0" width="7" height="6.3" fill="#08366a"/>
<rect x="523.0" y="529.0" width="7" height="6.3" fill="#08366a"/>
<rect x="529.9" y="529.0" width="7" height="6.3" fill="#08366a"/>
<rect x="536.8" y="529.0" width="7" height="6.3" fill="#08366a"/>
<rect x="543.7" y="529.0" width="7" height="6.3" fill="#073467"/>
<rect x="550.5" y="529.0" width="7" height="6.3" fill="#073467"/>
<rect x="557.4" y="529.0" width="7" height="6.3" fill="#073467"/>
<rect x="564.3" y="529.0" width="7" height="6.3" fill="#073467"/>
<rect x="571.2" y="529.0" width="7" height="6.3" fill="#073467"/>
<rect x="578.1" y="529.0" width="7" height="6.3" fill="#073467"/>
<rect x="585.0" y="529.0" width="7" height="6.3" fill="#073467"/>
<rect x="591.8" y="529.0" width="7" height="6.3" fill="#073467"/>
<rect x="598.7" y="529.0" width="7" height="6.3" fill="#073467"/>
<rect x="605.6" y="529.0" width="7" height="6.3" fill="#073467"/>
<rect x="130.6" y="522.8" width="7" height="6.3" fill="#2a71b2"/>
<rect x="137.5" y="522.8" width="7" height="6.3" fill="#2a71b2"/>
<rect x="144.4" y="522.8" width="7" height="6.3" fill="#2a71b2"/>
<rect x="151.3" y="522.8" width="7" height="6.3" fill="#2a71b2"/>
<rect x="158.2" y="522.8" width="7" height="6.3" fill="#2a71b2"/>
<rect x="165.0" y="522.8" width="7" height="6.3" fill="#2a71b2"/>
<rect x="171.9" y="522.8" width="7" height="6.3" fill="#2a71b2"/>
<rect x="178.8" y="522.8" width="7" height="6.3" fill="#2a71b2"/>
<rect x="185.7" y="522.8" width="7" height="6.3" fill="#2a71b2"/>
<rect x="192.6" y="522.8" width="7" height="6.3" fill="#2870b1"/>
<rect x="199.5" y="522.8" width="7" height="6.3" fill="#2870b1"/>
<rect x="206.3" y="522.8" width="7" height="6.3" fill="#2870b1"/>
<rect x="213.2" y="522.8" width="7" height="6.3" fill="#2870b1"/>
<rect x="220.1" y="522.8" width="7" height="6.3" fill="#276eb0"/>
<rect x="227.0" y="522.8" width="7" height="6.3" fill="#276eb0"/>
<rect x="233.9" y="522.8" width="7" height="6.3" fill="#266caf"/>
<rect x="240.8" y="522.8" width="7" height="6.3" fill="#266caf"/>
<rect x="247.6" y="522.8" width="7" height="6.3" fill="#266caf"/>
<rect x="254.5" y="522.8" width="7" height="6.3" fill="#266caf"/>
<rect x="261.4" y="522.8" width="7" height="6.3" fill="#246aae"/>
<rect x="268.3" y="522.8" width="7" height="6.3" fill="#246aae"/>
<rect x="275.2" y="522.8" width="7" height="6.3" fill="#246aae"/>
<rect x="282.1" y="522.8" width="7" height="6.3" fill="#2369ad"/>
<rect x="288.9" y="522.8" width="7" height="6.3" fill="#2369ad"/>
<rect x="295.8" y="522.8" width="7" height="6.3" fill="#2369ad"/>
<rect x="302.7" y="522.8" width="7" height="6.3" fill="#2267ac"/>
<rect x="309.6" y="522.8" width="7" height="6.3" fill="#2267ac"/>
<rect x="316.5" y="522.8" width="7" height="6.3" fill="#2065ab"/>
<rect x="323.4" y="522.8" width="7" height="6.3" fill="#2065ab"/>
<rect x="330.3" y="522.8" width="7" height="6.3" fill="#2065ab"/>
<rect x="337.1" y="522.8" width="7" height="6.3" fill="#1f63a8"/>
<rect x="344.0" y="522.8" width="7" height="6.3" fill="#1e61a5"/>
<rect x="350.9" y="522.8" width="7" height="6.3" fill="#1e61a5"/>
<rect x="357.8" y="522.8" width="7" height="6.3" fill="#1d5fa2"/>
<rect x="364.7" y="522.8" width="7" height="6.3" fill="#1c5c9f"/>
<rect x="371.6" y="522.8" width="7" height="6.3" fill="#1c5c9f"/>
<rect x="378.4" y="522.8" width="7" height="6.3" fill="#1b5a9c"/>
<rect x="385.3" y="522.8" width="7" height="6.3" fill="#1a5899"/>
<rect x="392.2" y="522.8" width="7" height="6.3" fill="#195696"/>
<rect x="399.1" y="522.8" width="7" height="6.3" fill="#185493"/>
<rect x="406.0" y="522.8" width="7" height="6.3" fill="#15508d"/>
<rect x="412.9" y="522.8" width="7" height="6.3" fill="#144e8a"/>
<rect x="419.7" y="522.8" width="7" height="6.3" fill="#124984"/>
<rect x="426.6" y="522.8" width="7" height="6.3" fill="#114781"/>
<rect x="433.5" y="522.8" width="7" height="6.3" fill="#0f437b"/>
<rect x="440.4" y="522.8" width="7" height="6.3" fill="#0e4179"/>
<rect x="447.3" y="522.8" width="7" height="6.3" fill="#0d3f76"/>
<rect x="454.2" y="522.8" width="7" height="6.3" fill="#0c3d73"/>
<rect x="461.0" y="522.8" width="7" height="6.3" fill="#0a3b70"/>
<rect x="467.9" y="522.8" width="7" height="6.3" fill="#0a3b70"/>
<rect x="474.8" y="522.8" width="7" height="6.3" fill="#09386d"/>
<rect x="481.7" y="522.8" width="7" height="6.3" fill="#09386d"/>
<rect x="488.6" y="522.8" width="7" height="6.3" fill="#09386d"/>
<rect x="495.5" y="522.8" width="7" height="6.3" fill="#08366a"/>
<rect x="502.4" y="522.8" width="7" height="6.3" fill="#08366a"/>
<rect x="509.2" y="522.8" width="7" height="6.3" fill="#08366a"/>
<rect x="516.1" y="522.8" width="7" height="6.3" fill="#08366a"/>
<rect x="523.0" y="522.8" width="7" height="6.3" fill="#08366a"/>
<rect x="529.9" y="522.8" width="7" height="6.3" fill="#08366a"/>
<rect x="536.8" y="522.8" width="7" height="6.3" fill="#073467"/>
<rect x="543.7" y="522.8" width="7" height="6.3" fill="#073467"/>
<rect x="550.5" y="522.8" width="7" height="6.3" fill="#073467"/>
<rect x="557.4" y="522.8" width="7" height="6.3" fill="#073467"/>
<rect x="564.3" y="522.8" width="7" height="6.3" fill="#073467"/>
<rect x="571.2" y="522.8" width="7" height="6.3" fill="#073467"/>
<rect x="578.1" y="522.8" width="7" height="6.3" fill="#073467"/>
<rect x="585.0" y="522.8" width="7" height="6.3" fill="#073467"/>
<rect x="591.8" y="522.8" width="7" height="6.3" fill="#073467"/>
<rect x="598.7" y="522.8" width="7" height="6.3" fill="#073467"/>
<rect x="605.6" y="522.8" width="7" height="6.3" fill="#073467"/>
<rect x="130.6" y="516.6" width="7" height="6.3" fill="#246aae"/>
<rect x="137.5" y="516.6" width="7" height="6.3" fill="#246aae"/>
<rect x="144.4" y="516.6" width="7" height="6.3" fill="#246aae"/>
<rect x="151.3" y="516.6" width="7" height="6.3" fill="#246aae"/>
<rect x="158.2" y="516.6" width="7" height="6.3" fill="#246aae"/>
<rect x="165.0" y="516.6" width="7" height="6.3" fill="#246aae"/>
<rect x="171.9" y="516.6" width="7" height="6.3" fill="#246aae"/>
<rect x="178.8" y="516.6" width="7" height="6.3" fill="#246aae"/>
<rect x="185.7" y="516.6" width="7" height="6.3" fill="#246aae"/>
<rect x="192.6" y="516.6" width="7" height="6.3" fill="#246aae"/>
<rect x="199.5" y="516.6" width="7" height="6.3" fill="#2369ad"/>
<rect x="206.3" y="516.6" width="7" height="6.3" fill="#2369ad"/>
<rect x="213.2" y="516.6" width="7" height="6.3" fill="#2369ad"/>
<rect x="220.1" y="516.6" width="7" height="6.3" fill="#2369ad"/>
<rect x="227.0" y="516.6" width="7" height="6.3" fill="#2267ac"/>
<rect x="233.9" y="516.6" width="7" height="6.3" fill="#2267ac"/>
<rect x="240.8" y="516.6" width="7" height="6.3" fill="#2267ac"/>
<rect x="247.6" y="516.6" width="7" height="6.3" fill="#2267ac"/>
<rect x="254.5" y="516.6" width="7" height="6.3" fill="#2065ab"/>
<rect x="261.4" y="516.6" width="7" height="6.3" fill="#2065ab"/>
<rect x="268.3" y="516.6" width="7" height="6.3" fill="#2065ab"/>
<rect x="275.2" y="516.6" width="7" height="6.3" fill="#2065ab"/>
<rect x="282.1" y="516.6" width="7" height="6.3" fill="#1f63a8"/>
<rect x="288.9" y="516.6" width="7" height="6.3" fill="#1f63a8"/>
<rect x="295.8" y="516.6" width="7" height="6.3" fill="#1f63a8"/>
<rect x="302.7" y="516.6" width="7" height="6.3" fill="#1f63a8"/>
<rect x="309.6" y="516.6" width="7" height="6.3" fill="#1e61a5"/>
<rect x="316.5" y="516.6" width="7" height="6.3" fill="#1e61a5"/>
<rect x="323.4" y="516.6" width="7" height="6.3" fill="#1e61a5"/>
<rect x="330.3" y="516.6" width="7" height="6.3" fill="#1d5fa2"/>
<rect x="337.1" y="516.6" width="7" height="6.3" fill="#1d5fa2"/>
<rect x="344.0" y="516.6" width="7" height="6.3" fill="#1c5c9f"/>
<rect x="350.9" y="516.6" width="7" height="6.3" fill="#1c5c9f"/>
<rect x="357.8" y="516.6" width="7" height="6.3" fill="#1b5a9c"/>
<rect x="364.7" y="516.6" width="7" height="6.3" fill="#1b5a9c"/>
<rect x="371.6" y="516.6" width="7" height="6.3" fill="#1a5899"/>
<rect x="378.4" y="516.6" width="7" height="6.3" fill="#195696"/>
<rect x="385.3" y="516.6" width="7" height="6.3" fill="#185493"/>
<rect x="392.2" y="516.6" width="7" height="6.3" fill="#185493"/>
<rect x="399.1" y="516.6" width="7" height="6.3" fill="#175290"/>
<rect x="406.0" y="516.6" width="7" height="6.3" fill="#15508d"/>
<rect x="412.9" y="516.6" width="7" height="6.3" fill="#134c87"/>
<rect x="419.7" y="516.6" width="7" height="6.3" fill="#124984"/>
<rect x="426.6" y="516.6" width="7" height="6.3" fill="#10457e"/>
<rect x="433.5" y="516.6" width="7" height="6.3" fill="#0f437b"/>
<rect x="440.4" y="516.6" width="7" height="6.3" fill="#0e4179"/>
<rect x="447.3" y="516.6" width="7" height="6.3" fill="#0d3f76"/>
<rect x="454.2" y="516.6" width="7" height="6.3" fill="#0c3d73"/>
<rect x="461.0" y="516.6" width="7" height="6.3" fill="#0a3b70"/>
<rect x="467.9" y="516.6" width="7" height="6.3" fill="#0a3b70"/>
<rect x="474.8" y="516.6" width="7" height="6.3" fill="#09386d"/>
<rect x="481.7" y="516.6" width="7" height="6.3" fill="#09386d"/>
<rect x="488.6" y="516.6" width="7" height="6.3" fill="#09386d"/>
<rect x="495.5" y="516.6" width="7" height="6.3" fill="#08366a"/>
<rect x="502.4" y="516.6" width="7" height="6.3" fill="#08366a"/>
<rect x="509.2" y="516.6" width="7" height="6.3" fill="#08366a"/>
<rect x="516.1" y="516.6" width="7" height="6.3" fill="#08366a"/>
<rect x="523.0" y="516.6" width="7" height="6.3" fill="#08366a"/>
<rect x="529.9" y="516.6" width="7" height="6.3" fill="#08366a"/>
<rect x="536.8" y="516.6" width="7" height="6.3" fill="#073467"/>
<rect x="543.7" y="516.6" width="7" height="6.3" fill="#073467"/>
<rect x="550.5" y="516.6" width="7" height="6.3" fill="#073467"/>
<rect x="557.4" y="516.6" width="7" height="6.3" fill="#073467"/>
<rect x="564.3" y="516.6" width="7" height="6.3" fill="#073467"/>
<rect x="571.2" y="516.6" width="7" height="6.3" fill="#073467"/>
<rect x="578.1" y="516.6" width="7" height="6.3" fill="#073467"/>
<rect x="585.0" y="516.6" width="7" height="6.3" fill="#073467"/>
<rect x="591.8" y="516.6" width="7" height="6.3" fill="#073467"/>
<rect x="598.7" y="516.6" width="7" height="6.3" fill="#073467"/>
<rect x="605.6" y="516.6" width="7" height="6.3" fill="#073467"/>
<rect x="130.6" y="510.3" width="7" height="6.3" fill="#2065ab"/>
<rect x="137.5" y="510.3" width="7" height="6.3" fill="#2065ab"/>
<rect x="144.4" y="510.3" width="7" height="6.3" fill="#2065ab"/>
<rect x="151.3" y="510.3" width="7" height="6.3" fill="#2065ab"/>
<rect x="158.2" y="510.3" width="7" height="6.3" fill="#2065ab"/>
<rect x="165.0" y="510.3" width="7" height="6.3" fill="#2065ab"/>
<rect x="171.9" y="510.3" width="7" height="6.3" fill="#2065ab"/>
<rect x="178.8" y="510.3" width="7" height="6.3" fill="#2065ab"/>
<rect x="185.7" y="510.3" width="7" height="6.3" fill="#1f63a8"/>
<rect x="192.6" y="510.3" width="7" height="6.3" fill="#1f63a8"/>
<rect x="199.5" y="510.3" width="7" height="6.3" fill="#1f63a8"/>
<rect x="206.3" y="510.3" width="7" height="6.3" fill="#1f63a8"/>
<rect x="213.2" y="510.3" width="7" height="6.3" fill="#1f63a8"/>
<rect x="220.1" y="510.3" width="7" height="6.3" fill="#1e61a5"/>
<rect x="227.0" y="510.3" width="7" height="6.3" fill="#1e61a5"/>
<rect x="233.9" y="510.3" width="7" height="6.3" fill="#1e61a5"/>
<rect x="240.8" y="510.3" width="7" height="6.3" fill="#1e61a5"/>
<rect x="247.6" y="510.3" width="7" height="6.3" fill="#1e61a5"/>
<rect x="254.5" y="510.3" width="7" height="6.3" fill="#1d5fa2"/>
<rect x="261.4" y="510.3" width="7" height="6.3" fill="#1d5fa2"/>
<rect x="268.3" y="510.3" width="7" height="6.3" fill="#1d5fa2"/>
<rect x="275.2" y="510.3" width="7" height="6.3" fill="#1d5fa2"/>
<rect x="282.1" y="510.3" width="7" height="6.3" fill="#1d5fa2"/>
<rect x="288.9" y="510.3" width="7" height="6.3" fill="#1d5fa2"/>
<rect x="295.8" y="510.3" width="7" height="6.3" fill="#1c5c9f"/>
<rect x="302.7" y="510.3" width="7" height="6.3" fill="#1c5c9f"/>
<rect x="309.6" y="510.3" width="7" height="6.3" fill="#1c5c9f"/>
<rect x="316.5" y="510.3" width="7" height="6.3" fill="#1c5c9f"/>
<rect x="323.4" y="510.3" width="7" height="6.3" fill="#1b5a9c"/>
<rect x="330.3" y="510.3" width="7" height="6.3" fill="#1b5a9c"/>
<rect x="337.1" y="510.3" width="7" height="6.3" fill="#1b5a9c"/>
<rect x="344.0" y="510.3" width="7" height="6.3" fill="#1a5899"/>
<rect x="350.9" y="510.3" width="7" height="6.3" fill="#1a5899"/>
<rect x="357.8" y="510.3" width="7" height="6.3" fill="#1a5899"/>
<rect x="364.7" y="510.3" width="7" height="6.3" fill="#195696"/>
<rect x="371.6" y="510.3" width="7" height="6.3" fill="#185493"/>
<rect x="378.4" y="510.3" width="7" height="6.3" fill="#185493"/>
<rect x="385.3" y="510.3" width="7" height="6.3" fill="#175290"/>
<rect x="392.2" y="510.3" width="7" height="6.3" fill="#15508d"/>
<rect x="399.1" y="510.3" width="7" height="6.3" fill="#144e8a"/>
<rect x="406.0" y="510.3" width="7" height="6.3" fill="#144e8a"/>
<rect x="412.9" y="510.3" width="7" height="6.3" fill="#124984"/>
<rect x="419.7" y="510.3" width="7" height="6.3" fill="#114781"/>
<rect x="426.6" y="510.3" width="7" height="6.3" fill="#10457e"/>
<rect x="433.5" y="510.3" width="7" height="6.3" fill="#0f437b"/>
<rect x="440.4" y="510.3" width="7" height="6.3" fill="#0e4179"/>
<rect x="447.3" y="510.3" width="7" height="6.3" fill="#0d3f76"/>
<rect x="454.2" y="510.3" width="7" height="6.3" fill="#0c3d73"/>
<rect x="461.0" y="510.3" width="7" height="6.3" fill="#0a3b70"/>
<rect x="467.9" y="510.3" width="7" height="6.3" fill="#0a3b70"/>
<rect x="474.8" y="510.3" width="7" height="6.3" fill="#09386d"/>
<rect x="481.7" y="510.3" width="7" height="6.3" fill="#09386d"/>
<rect x="488.6" y="510.3" width="7" height="6.3" fill="#09386d"/>
<rect x="495.5" y="510.3" width="7" height="6.3" fill="#08366a"/>
<rect x="502.4" y="510.3" width="7" height="6.3" fill="#08366a"/>
<rect x="509.2" y="510.3" width="7" height="6.3" fill="#08366a"/>
<rect x="516.1" y="510.3" width="7" height="6.3" fill="#08366a"/>
<rect x="523.0" y="510.3" width="7" height="6.3" fill="#08366a"/>
<rect x="529.9" y="510.3" width="7" height="6.3" fill="#08366a"/>
<rect x="536.8" y="510.3" width="7" height="6.3" fill="#073467"/>
<rect x="543.7" y="510.3" width="7" height="6.3" fill="#073467"/>
<rect x="550.5" y="510.3" width="7" height="6.3" fill="#073467"/>
<rect x="557.4" y="510.3" width="7" height="6.3" fill="#073467"/>
<rect x="564.3" y="510.3" width="7" height="6.3" fill="#073467"/>
<rect x="571.2" y="510.3" width="7" height="6.3" fill="#073467"/>
<rect x="578.1" y="510.3" width="7" height="6.3" fill="#073467"/>
<rect x="585.0" y="510.3" width="7" height="6.3" fill="#073467"/>
<rect x="591.8" y="510.3" width="7" height="6.3" fill="#073467"/>
<rect x="598.7" y="510.3" width="7" height="6.3" fill="#073467"/>
<rect x="605.6" y="510.3" width="7" height="6.3" fill="#073467"/>
<rect x="130.6" y="504.1" width="7" height="6.3" fill="#1d5fa2"/>
<rect x="137.5" y="504.1" width="7" height="6.3" fill="#1d5fa2"/>
<rect x="144.4" y="504.1" width="7" height="6.3" fill="#1d5fa2"/>
<rect x="151.3" y="504.1" width="7" height="6.3" fill="#1d5fa2"/>
<rect x="158.2" y="504.1" width="7" height="6.3" fill="#1d5fa2"/>
<rect x="165.0" y="504.1" width="7" height="6.3" fill="#1d5fa2"/>
<rect x="171.9" y="504.1" width="7" height="6.3" fill="#1d5fa2"/>
<rect x="178.8" y="504.1" width="7" height="6.3" fill="#1d5fa2"/>
<rect x="185.7" y="504.1" width="7" height="6.3" fill="#1c5c9f"/>
<rect x="192.6" y="504.1" width="7" height="6.3" fill="#1c5c9f"/>
<rect x="199.5" y="504.1" width="7" height="6.3" fill="#1c5c9f"/>
<rect x="206.3" y="504.1" width="7" height="6.3" fill="#1c5c9f"/>
<rect x="213.2" y="504.1" width="7" height="6.3" fill="#1c5c9f"/>
<rect x="220.1" y="504.1" width="7" height="6.3" fill="#1c5c9f"/>
<rect x="227.0" y="504.1" width="7" height="6.3" fill="#1c5c9f"/>
<rect x="233.9" y="504.1" width="7" height="6.3" fill="#1b5a9c"/>
<rect x="240.8" y="504.1" width="7" height="6.3" fill="#1b5a9c"/>
<rect x="247.6" y="504.1" width="7" height="6.3" fill="#1b5a9c"/>
<rect x="254.5" y="504.1" width="7" height="6.3" fill="#1b5a9c"/>
<rect x="261.4" y="504.1" width="7" height="6.3" fill="#1b5a9c"/>
<rect x="268.3" y="504.1" width="7" height="6.3" fill="#1b5a9c"/>
<rect x="275.2" y="504.1" width="7" height="6.3" fill="#1a5899"/>
<rect x="282.1" y="504.1" width="7" height="6.3" fill="#1a5899"/>
<rect x="288.9" y="504.1" width="7" height="6.3" fill="#1a5899"/>
<rect x="295.8" y="504.1" width="7" height="6.3" fill="#1a5899"/>
<rect x="302.7" y="504.1" width="7" height="6.3" fill="#1a5899"/>
<rect x="309.6" y="504.1" width="7" height="6.3" fill="#1a5899"/>
<rect x="316.5" y="504.1" width="7" height="6.3" fill="#1a5899"/>
<rect x="323.4" y="504.1" width="7" height="6.3" fill="#195696"/>
<rect x="330.3" y="504.1" width="7" height="6.3" fill="#195696"/>
<rect x="337.1" y="504.1" width="7" height="6.3" fill="#195696"/>
<rect x="344.0" y="504.1" width="7" height="6.3" fill="#195696"/>
<rect x="350.9" y="504.1" width="7" height="6.3" fill="#185493"/>
<rect x="357.8" y="504.1" width="7" height="6.3" fill="#185493"/>
<rect x="364.7" y="504.1" width="7" height="6.3" fill="#175290"/>
<rect x="371.6" y="504.1" width="7" height="6.3" fill="#175290"/>
<rect x="378.4" y="504.1" width="7" height="6.3" fill="#15508d"/>
<rect x="385.3" y="504.1" width="7" height="6.3" fill="#15508d"/>
<rect x="392.2" y="504.1" width="7" height="6.3" fill="#144e8a"/>
<rect x="399.1" y="504.1" width="7" height="6.3" fill="#134c87"/>
<rect x="406.0" y="504.1" width="7" height="6.3" fill="#134c87"/>
<rect x="412.9" y="504.1" width="7" height="6.3" fill="#124984"/>
<rect x="419.7" y="504.1" width="7" height="6.3" fill="#114781"/>
<rect x="426.6" y="504.1" width="7" height="6.3" fill="#10457e"/>
<rect x="433.5" y="504.1" width="7" height="6.3" fill="#0f437b"/>
<rect x="440.4" y="504.1" width="7" height="6.3" fill="#0e4179"/>
<rect x="447.3" y="504.1" width="7" height="6.3" fill="#0d3f76"/>
<rect x="454.2" y="504.1" width="7" height="6.3" fill="#0c3d73"/>
<rect x="461.0" y="504.1" width="7" height="6.3" fill="#0a3b70"/>
<rect x="467.9" y="504.1" width="7" height="6.3" fill="#09386d"/>
<rect x="474.8" y="504.1" width="7" height="6.3" fill="#09386d"/>
<rect x="481.7" y="504.1" width="7" height="6.3" fill="#09386d"/>
<rect x="488.6" y="504.1" width="7" height="6.3" fill="#09386d"/>
<rect x="495.5" y="504.1" width="7" height="6.3" fill="#08366a"/>
<rect x="502.4" y="504.1" width="7" height="6.3" fill="#08366a"/>
<rect x="509.2" y="504.1" width="7" height="6.3" fill="#08366a"/>
<rect x="516.1" y="504.1" width="7" height="6.3" fill="#08366a"/>
<rect x="523.0" y="504.1" width="7" height="6.3" fill="#08366a"/>
<rect x="529.9" y="504.1" width="7" height="6.3" fill="#08366a"/>
<rect x="536.8" y="504.1" width="7" height="6.3" fill="#073467"/>
<rect x="543.7" y="504.1" width="7" height="6.3" fill="#073467"/>
<rect x="550.5" y="504.1" width="7" height="6.3" fill="#073467"/>
<rect x="557.4" y="504.1" width="7" height="6.3" fill="#073467"/>
<rect x="564.3" y="504.1" width="7" height="6.3" fill="#073467"/>
<rect x="571.2" y="504.1" width="7" height="6.3" fill="#073467"/>
<rect x="578.1" y="504.1" width="7" height="6.3" fill="#073467"/>
<rect x="585.0" y="504.1" width="7" height="6.3" fill="#073467"/>
<rect x="591.8" y="504.1" width="7" height="6.3" fill="#073467"/>
<rect x="598.7" y="504.1" width="7" height="6.3" fill="#073467"/>
<rect x="605.6" y="504.1" width="7" height="6.3" fill="#073467"/>
<rect x="130.6" y="497.9" width="7" height="6.3" fill="#1b5a9c"/>
<rect x="137.5" y="497.9" width="7" height="6.3" fill="#1b5a9c"/>
<rect x="144.4" y="497.9" width="7" height="6.3" fill="#1a5899"/>
<rect x="151.3" y="497.9" width="7" height="6.3" fill="#1a5899"/>
<rect x="158.2" y="497.9" width="7" height="6.3" fill="#1a5899"/>
<rect x="165.0" y="497.9" width="7" height="6.3" fill="#1a5899"/>
<rect x="171.9" y="497.9" width="7" height="6.3" fill="#1a5899"/>
<rect x="178.8" y="497.9" width="7" height="6.3" fill="#1a5899"/>
<rect x="185.7" y="497.9" width="7" height="6.3" fill="#1a5899"/>
<rect x="192.6" y="497.9" width="7" height="6.3" fill="#1a5899"/>
<rect x="199.5" y="497.9" width="7" height="6.3" fill="#1a5899"/>
<rect x="206.3" y="497.9" width="7" height="6.3" fill="#1a5899"/>
<rect x="213.2" y="497.9" width="7" height="6.3" fill="#195696"/>
<rect x="220.1" y="497.9" width="7" height="6.3" fill="#195696"/>
<rect x="227.0" y="497.9" width="7" height="6.3" fill="#195696"/>
<rect x="233.9" y="497.9" width="7" height="6.3" fill="#195696"/>
<rect x="240.8" y="497.9" width="7" height="6.3" fill="#195696"/>
<rect x="247.6" y="497.9" width="7" height="6.3" fill="#195696"/>
<rect x="254.5" y="497.9" width="7" height="6.3" fill="#195696"/>
<rect x="261.4" y="497.9" width="7" height="6.3" fill="#195696"/>
<rect x="268.3" y="497.9" width="7" height="6.3" fill="#195696"/>
<rect x="275.2" y="497.9" width="7" height="6.3" fill="#185493"/>
<rect x="282.1" y="497.9" width="7" height="6.3" fill="#185493"/>
<rect x="288.9" y="497.9" width="7" height="6.3" fill="#185493"/>
<rect x="295.8" y="497.9" width="7" height="6.3" fill="#185493"/>
<rect x="302.7" y="497.9" width="7" height="6.3" fill="#185493"/>
<rect x="309.6" y="497.9" width="7" height="6.3" fill="#185493"/>
<rect x="316.5" y="497.9" width="7" height="6.3" fill="#185493"/>
<rect x="323.4" y="497.9" width="7" height="6.3" fill="#185493"/>
<rect x="330.3" y="497.9" width="7" height="6.3" fill="#185493"/>
<rect x="337.1" y="497.9" width="7" height="6.3" fill="#175290"/>
<rect x="344.0" y="497.9" width="7" height="6.3" fill="#175290"/>
<rect x="350.9" y="497.9" width="7" height="6.3" fill="#175290"/>
<rect x="357.8" y="497.9" width="7" height="6.3" fill="#15508d"/>
<rect x="364.7" y="497.9" width="7" height="6.3" fill="#15508d"/>
<rect x="371.6" y="497.9" width="7" height="6.3" fill="#15508d"/>
<rect x="378.4" y="497.9" width="7" height="6.3" fill="#144e8a"/>
<rect x="385.3" y="497.9" width="7" height="6.3" fill="#144e8a"/>
<rect x="392.2" y="497.9" width="7" height="6.3" fill="#134c87"/>
<rect x="399.1" y="497.9" width="7" height="6.3" fill="#124984"/>
<rect x="406.0" y="497.9" width="7" height="6.3" fill="#124984"/>
<rect x="412.9" y="497.9" width="7" height="6.3" fill="#114781"/>
<rect x="419.7" y="497.9" width="7" height="6.3" fill="#10457e"/>
<rect x="426.6" y="497.9" width="7" height="6.3" fill="#0f437b"/>
<rect x="433.5" y="497.9" width="7" height="6.3" fill="#0e4179"/>
<rect x="440.4" y="497.9" width="7" height="6.3" fill="#0d3f76"/>
<rect x="447.3" y="497.9" width="7" height="6.3" fill="#0c3d73"/>
<rect x="454.2" y="497.9" width="7" height="6.3" fill="#0c3d73"/>
<rect x="461.0" y="497.9" width="7" height="6.3" fill="#0a3b70"/>
<rect x="467.9" y="497.9" width="7" height="6.3" fill="#09386d"/>
<rect x="474.8" y="497.9" width="7" height="6.3" fill="#09386d"/>
<rect x="481.7" y="497.9" width="7" height="6.3" fill="#09386d"/>
<rect x="488.6" y="497.9" width="7" height="6.3" fill="#09386d"/>
<rect x="495.5" y="497.9" width="7" height="6.3" fill="#08366a"/>
<rect x="502.4" y="497.9" width="7" height="6.3" fill="#08366a"/>
<rect x="509.2" y="497.9" width="7" height="6.3" fill="#08366a"/>
<rect x="516.1" y="497.9" width="7" height="6.3" fill="#08366a"/>
<rect x="523.0" y="497.9" width="7" height="6.3" fill="#08366a"/>
<rect x="529.9" y="497.9" width="7" height="6.3" fill="#08366a"/>
<rect x="536.8" y="497.9" width="7" height="6.3" fill="#073467"/>
<rect x="543.7" y="497.9" width="7" height="6.3" fill="#073467"/>
<rect x="550.5" y="497.9" width="7" height="6.3" fill="#073467"/>
<rect x="557.4" y="497.9" width="7" height="6.3" fill="#073467"/>
<rect x="564.3" y="497.9" width="7" height="6.3" fill="#073467"/>
<rect x="571.2" y="497.9" width="7" height="6.3" fill="#073467"/>
<rect x="578.1" y="497.9" width="7" height="6.3" fill="#073467"/>
<rect x="585.0" y="497.9" width="7" height="6.3" fill="#073467"/>
<rect x="591.8" y="497.9" width="7" height="6.3" fill="#073467"/>
<rect x="598.7" y="497.9" width="7" height="6.3" fill="#073467"/>
<rect x="605.6" y="497.9" width="7" height="6.3" fill="#073467"/>
<rect x="130.6" y="491.7" width="7" height="6.3" fill="#195696"/>
<rect x="137.5" y="491.7" width="7" height="6.3" fill="#195696"/>
<rect x="144.4" y="491.7" width="7" height="6.3" fill="#195696"/>
<rect x="151.3" y="491.7" width="7" height="6.3" fill="#185493"/>
<rect x="158.2" y="491.7" width="7" height="6.3" fill="#185493"/>
<rect x="165.0" y="491.7" width="7" height="6.3" fill="#185493"/>
<rect x="171.9" y="491.7" width="7" height="6.3" fill="#185493"/>
<rect x="178.8" y="491.7" width="7" height="6.3" fill="#185493"/>
<rect x="185.7" y="491.7" width="7" height="6.3" fill="#185493"/>
<rect x="192.6" y="491.7" width="7" height="6.3" fill="#185493"/>
<rect x="199.5" y="491.7" width="7" height="6.3" fill="#185493"/>
<rect x="206.3" y="491.7" width="7" height="6.3" fill="#185493"/>
<rect x="213.2" y="491.7" width="7" height="6.3" fill="#185493"/>
<rect x="220.1" y="491.7" width="7" height="6.3" fill="#185493"/>
<rect x="227.0" y="491.7" width="7" height="6.3" fill="#175290"/>
<rect x="233.9" y="491.7" width="7" height="6.3" fill="#175290"/>
<rect x="240.8" y="491.7" width="7" height="6.3" fill="#175290"/>
<rect x="247.6" y="491.7" width="7" height="6.3" fill="#175290"/>
<rect x="254.5" y="491.7" width="7" height="6.3" fill="#175290"/>
<rect x="261.4" y="491.7" width="7" height="6.3" fill="#175290"/>
<rect x="268.3" y="491.7" width="7" height="6.3" fill="#175290"/>
<rect x="275.2" y="491.7" width="7" height="6.3" fill="#175290"/>
<rect x="282.1" y="491.7" width="7" height="6.3" fill="#175290"/>
<rect x="288.9" y="491.7" width="7" height="6.3" fill="#175290"/>
<rect x="295.8" y="491.7" width="7" height="6.3" fill="#175290"/>
<rect x="302.7" y="491.7" width="7" height="6.3" fill="#15508d"/>
<rect x="309.6" y="491.7" width="7" height="6.3" fill="#15508d"/>
<rect x="316.5" y="491.7" width="7" height="6.3" fill="#15508d"/>
<rect x="323.4" y="491.7" width="7" height="6.3" fill="#15508d"/>
<rect x="330.3" y="491.7" width="7" height="6.3" fill="#15508d"/>
<rect x="337.1" y="491.7" width="7" height="6.3" fill="#15508d"/>
<rect x="344.0" y="491.7" width="7" height="6.3" fill="#15508d"/>
<rect x="350.9" y="491.7" width="7" height="6.3" fill="#15508d"/>
<rect x="357.8" y="491.7" width="7" height="6.3" fill="#144e8a"/>
<rect x="364.7" y="491.7" width="7" height="6.3" fill="#144e8a"/>
<rect x="371.6" y="491.7" width="7" height="6.3" fill="#144e8a"/>
<rect x="378.4" y="491.7" width="7" height="6.3" fill="#134c87"/>
<rect x="385.3" y="491.7" width="7" height="6.3" fill="#134c87"/>
<rect x="392.2" y="491.7" width="7" height="6.3" fill="#124984"/>
<rect x="399.1" y="491.7" width="7" height="6.3" fill="#114781"/>
<rect x="406.0" y="491.7" width="7" height="6.3" fill="#114781"/>
<rect x="412.9" y="491.7" width="7" height="6.3" fill="#10457e"/>
<rect x="419.7" y="491.7" width="7" height="6.3" fill="#0f437b"/>
<rect x="426.6" y="491.7" width="7" height="6.3" fill="#0f437b"/>
<rect x="433.5" y="491.7" width="7" height="6.3" fill="#0e4179"/>
<rect x="440.4" y="491.7" width="7" height="6.3" fill="#0d3f76"/>
<rect x="447.3" y="491.7" width="7" height="6.3" fill="#0c3d73"/>
<rect x="454.2" y="491.7" width="7" height="6.3" fill="#0a3b70"/>
<rect x="461.0" y="491.7" width="7" height="6.3" fill="#0a3b70"/>
<rect x="467.9" y="491.7" width="7" height="6.3" fill="#09386d"/>
<rect x="474.8" y="491.7" width="7" height="6.3" fill="#09386d"/>
<rect x="481.7" y="491.7" width="7" height="6.3" fill="#09386d"/>
<rect x="488.6" y="491.7" width="7" height="6.3" fill="#09386d"/>
<rect x="495.5" y="491.7" width="7" height="6.3" fill="#08366a"/>
<rect x="502.4" y="491.7" width="7" height="6.3" fill="#08366a"/>
<rect x="509.2" y="491.7" width="7" height="6.3" fill="#08366a"/>
<rect x="516.1" y="491.7" width="7" height="6.3" fill="#08366a"/>
<rect x="523.0" y="491.7" width="7" height="6.3" fill="#08366a"/>
<rect x="529.9" y="491.7" width="7" height="6.3" fill="#08366a"/>
<rect x="536.8" y="491.7" width="7" height="6.3" fill="#073467"/>
<rect x="543.7" y="491.7" width="7" height="6.3" fill="#073467"/>
<rect x="550.5" y="491.7" width="7" height="6.3" fill="#073467"/>
<rect x="557.4" y="491.7" width="7" height="6.3" fill="#073467"/>
<rect x="564.3" y="491.7" width="7" height="6.3" fill="#073467"/>
<rect x="571.2" y="491.7" width="7" height="6.3" fill="#073467"/>
<rect x="578.1" y="491.7" width="7" height="6.3" fill="#073467"/>
<rect x="585.0" y="491.7" width="7" height="6.3" fill="#073467"/>
<rect x="591.8" y="491.7" width="7" height="6.3" fill="#073467"/>
<rect x="598.7" y="491.7" width="7" height="6.3" fill="#073467"/>
<rect x="605.6" y="491.7" width="7" height="6.3" fill="#073467"/>
<rect x="130.6" y="485.5" width="7" height="6.3" fill="#175290"/>
<rect x="137.5" y="485.5" width="7" height="6.3" fill="#175290"/>
<rect x="144.4" y="485.5" width="7" height="6.3" fill="#175290"/>
<rect x="151.3" y="485.5" width="7" height="6.3" fill="#175290"/>
<rect x="158.2" y="485.5" width="7" height="6.3" fill="#175290"/>
<rect x="165.0" y="485.5" width="7" height="6.3" fill="#175290"/>
<rect x="171.9" y="485.5" width="7" height="6.3" fill="#175290"/>
<rect x="178.8" y="485.5" width="7" height="6.3" fill="#175290"/>
<rect x="185.7" y="485.5" width="7" height="6.3" fill="#15508d"/>
<rect x="192.6" y="485.5" width="7" height="6.3" fill="#15508d"/>
<rect x="199.5" y="485.5" width="7" height="6.3" fill="#15508d"/>
<rect x="206.3" y="485.5" width="7" height="6.3" fill="#15508d"/>
<rect x="213.2" y="485.5" width="7" height="6.3" fill="#15508d"/>
<rect x="220.1" y="485.5" width="7" height="6.3" fill="#15508d"/>
<rect x="227.0" y="485.5" width="7" height="6.3" fill="#15508d"/>
<rect x="233.9" y="485.5" width="7" height="6.3" fill="#15508d"/>
<rect x="240.8" y="485.5" width="7" height="6.3" fill="#15508d"/>
<rect x="247.6" y="485.5" width="7" height="6.3" fill="#15508d"/>
<rect x="254.5" y="485.5" width="7" height="6.3" fill="#15508d"/>
<rect x="261.4" y="485.5" width="7" height="6.3" fill="#15508d"/>
<rect x="268.3" y="485.5" width="7" height="6.3" fill="#15508d"/>
<rect x="275.2" y="485.5" width="7" height="6.3" fill="#15508d"/>
<rect x="282.1" y="485.5" width="7" height="6.3" fill="#144e8a"/>
<rect x="288.9" y="485.5" width="7" height="6.3" fill="#144e8a"/>
<rect x="295.8" y="485.5" width="7" height="6.3" fill="#144e8a"/>
<rect x="302.7" y="485.5" width="7" height="6.3" fill="#144e8a"/>
<rect x="309.6" y="485.5" width="7" height="6.3" fill="#144e8a"/>
<rect x="316.5" y="485.5" width="7" height="6.3" fill="#144e8a"/>
<rect x="323.4" y="485.5" width="7" height="6.3" fill="#144e8a"/>
<rect x="330.3" y="485.5" width="7" height="6.3" fill="#144e8a"/>
<rect x="337.1" y="485.5" width="7" height="6.3" fill="#144e8a"/>
<rect x="344.0" y="485.5" width="7" height="6.3" fill="#144e8a"/>
<rect x="350.9" y="485.5" width="7" height="6.3" fill="#134c87"/>
<rect x="357.8" y="485.5" width="7" height="6.3" fill="#134c87"/>
<rect x="364.7" y="485.5" width="7" height="6.3" fill="#134c87"/>
<rect x="371.6" y="485.5" width="7" height="6.3" fill="#134c87"/>
<rect x="378.4" y="485.5" width="7" height="6.3" fill="#124984"/>
<rect x="385.3" y="485.5" width="7" height="6.3" fill="#124984"/>
<rect x="392.2" y="485.5" width="7" height="6.3" fill="#114781"/>
<rect x="399.1" y="485.5" width="7" height="6.3" fill="#114781"/>
<rect x="406.0" y="485.5" width="7" height="6.3" fill="#10457e"/>
<rect x="412.9" y="485.5" width="7" height="6.3" fill="#0f437b"/>
<rect x="419.7" y="485.5" width="7" height="6.3" fill="#0f437b"/>
<rect x="426.6" y="485.5" width="7" height="6.3" fill="#0e4179"/>
<rect x="433.5" y="485.5" width="7" height="6.3" fill="#0e4179"/>
<rect x="440.4" y="485.5" width="7" height="6.3" fill="#0d3f76"/>
<rect x="447.3" y="485.5" width="7" height="6.3" fill="#0c3d73"/>
<rect x="454.2" y="485.5" width="7" height="6.3" fill="#0a3b70"/>
<rect x="461.0" y="485.5" width="7" height="6.3" fill="#0a3b70"/>
<rect x="467.9" y="485.5" width="7" height="6.3" fill="#09386d"/>
<rect x="474.8" y="485.5" width="7" height="6.3" fill="#09386d"/>
<rect x="481.7" y="485.5" width="7" height="6.3" fill="#09386d"/>
<rect x="488.6" y="485.5" width="7" height="6.3" fill="#08366a"/>
<rect x="495.5" y="485.5" width="7" height="6.3" fill="#08366a"/>
<rect x="502.4" y="485.5" width="7" height="6.3" fill="#08366a"/>
<rect x="509.2" y="485.5" width="7" height="6.3" fill="#08366a"/>
<rect x="516.1" y="485.5" width="7" height="6.3" fill="#08366a"/>
<rect x="523.0" y="485.5" width="7" height="6.3" fill="#08366a"/>
<rect x="529.9" y="485.5" width="7" height="6.3" fill="#08366a"/>
<rect x="536.8" y="485.5" width="7" height="6.3" fill="#073467"/>
<rect x="543.7" y="485.5" width="7" height="6.3" fill="#073467"/>
<rect x="550.5" y="485.5" width="7" height="6.3" fill="#073467"/>
<rect x="557.4" y="485.5" width="7" height="6.3" fill="#073467"/>
<rect x="564.3" y="485.5" width="7" height="6.3" fill="#073467"/>
<rect x="571.2" y="485.5" width="7" height="6.3" fill="#073467"/>
<rect x="578.1" y="485.5" width="7" height="6.3" fill="#073467"/>
<rect x="585.0" y="485.5" width="7" height="6.3" fill="#073467"/>
<rect x="591.8" y="485.5" width="7" height="6.3" fill="#073467"/>
<rect x="598.7" y="485.5" width="7" height="6.3" fill="#073467"/>
<rect x="605.6" y="485.5" width="7" height="6.3" fill="#073467"/>
<rect x="130.6" y="479.2" width="7" height="6.3" fill="#15508d"/>
<rect x="137.5" y="479.2" width="7" height="6.3" fill="#15508d"/>
<rect x="144.4" y="479.2" width="7" height="6.3" fill="#15508d"/>
<rect x="151.3" y="479.2" width="7" height="6.3" fill="#15508d"/>
<rect x="158.2" y="479.2" width="7" height="6.3" fill="#15508d"/>
<rect x="165.0" y="479.2" width="7" height="6.3" fill="#144e8a"/>
<rect x="171.9" y="479.2" width="7" height="6.3" fill="#144e8a"/>
<rect x="178.8" y="479.2" width="7" height="6.3" fill="#144e8a"/>
<rect x="185.7" y="479.2" width="7" height="6.3" fill="#144e8a"/>
<rect x="192.6" y="479.2" width="7" height="6.3" fill="#144e8a"/>
<rect x="199.5" y="479.2" width="7" height="6.3" fill="#144e8a"/>
<rect x="206.3" y="479.2" width="7" height="6.3" fill="#144e8a"/>
<rect x="213.2" y="479.2" width="7" height="6.3" fill="#144e8a"/>
<rect x="220.1" y="479.2" width="7" height="6.3" fill="#144e8a"/>
<rect x="227.0" y="479.2" width="7" height="6.3" fill="#144e8a"/>
<rect x="233.9" y="479.2" width="7" height="6.3" fill="#144e8a"/>
<rect x="240.8" y="479.2" width="7" height="6.3" fill="#144e8a"/>
<rect x="247.6" y="479.2" width="7" height="6.3" fill="#144e8a"/>
<rect x="254.5" y="479.2" width="7" height="6.3" fill="#144e8a"/>
<rect x="261.4" y="479.2" width="7" height="6.3" fill="#144e8a"/>
<rect x="268.3" y="479.2" width="7" height="6.3" fill="#144e8a"/>
<rect x="275.2" y="479.2" width="7" height="6.3" fill="#144e8a"/>
<rect x="282.1" y="479.2" width="7" height="6.3" fill="#134c87"/>
<rect x="288.9" y="479.2" width="7" height="6.3" fill="#134c87"/>
<rect x="295.8" y="479.2" width="7" height="6.3" fill="#134c87"/>
<rect x="302.7" y="479.2" width="7" height="6.3" fill="#134c87"/>
<rect x="309.6" y="479.2" width="7" height="6.3" fill="#134c87"/>
<rect x="316.5" y="479.2" width="7" height="6.3" fill="#134c87"/>
<rect x="323.4" y="479.2" width="7" height="6.3" fill="#134c87"/>
<rect x="330.3" y="479.2" width="7" height="6.3" fill="#134c87"/>
<rect x="337.1" y="479.2" width="7" height="6.3" fill="#134c87"/>
<rect x="344.0" y="479.2" width="7" height="6.3" fill="#134c87"/>
<rect x="350.9" y="479.2" width="7" height="6.3" fill="#134c87"/>
<rect x="357.8" y="479.2" width="7" height="6.3" fill="#124984"/>
<rect x="364.7" y="479.2" width="7" height="6.3" fill="#124984"/>
<rect x="371.6" y="479.2" width="7" height="6.3" fill="#124984"/>
<rect x="378.4" y="479.2" width="7" height="6.3" fill="#114781"/>
<rect x="385.3" y="479.2" width="7" height="6.3" fill="#114781"/>
<rect x="392.2" y="479.2" width="7" height="6.3" fill="#114781"/>
<rect x="399.1" y="479.2" width="7" height="6.3" fill="#10457e"/>
<rect x="406.0" y="479.2" width="7" height="6.3" fill="#10457e"/>
<rect x="412.9" y="479.2" width="7" height="6.3" fill="#0f437b"/>
<rect x="419.7" y="479.2" width="7" height="6.3" fill="#0e4179"/>
<rect x="426.6" y="479.2" width="7" height="6.3" fill="#0e4179"/>
<rect x="433.5" y="479.2" width="7" height="6.3" fill="#0d3f76"/>
<rect x="440.4" y="479.2" width="7" height="6.3" fill="#0d3f76"/>
<rect x="447.3" y="479.2" width="7" height="6.3" fill="#0c3d73"/>
<rect x="454.2" y="479.2" width="7" height="6.3" fill="#0a3b70"/>
<rect x="461.0" y="479.2" width="7" height="6.3" fill="#0a3b70"/>
<rect x="467.9" y="479.2" width="7" height="6.3" fill="#09386d"/>
<rect x="474.8" y="479.2" width="7" height="6.3" fill="#09386d"/>
<rect x="481.7" y="479.2" width="7" height="6.3" fill="#09386d"/>
<rect x="488.6" y="479.2" width="7" height="6.3" fill="#08366a"/>
<rect x="495.5" y="479.2" width="7" height="6.3" fill="#08366a"/>
<rect x="502.4" y="479.2" width="7" height="6.3" fill="#08366a"/>
<rect x="509.2" y="479.2" width="7" height="6.3" fill="#08366a"/>
<rect x="516.1" y="479.2" width="7" height="6.3" fill="#08366a"/>
<rect x="523.0" y="479.2" width="7" height="6.3" fill="#08366a"/>
<rect x="529.9" y="479.2" width="7" height="6.3" fill="#08366a"/>
<rect x="536.8" y="479.2" width="7" height="6.3" fill="#073467"/>
<rect x="543.7" y="479.2" width="7" height="6.3" fill="#073467"/>
<rect x="550.5" y="479.2" width="7" height="6.3" fill="#073467"/>
<rect x="557.4" y="479.2" width="7" height="6.3" fill="#073467"/>
<rect x="564.3" y="479.2" width="7" height="6.3" fill="#073467"/>
<rect x="571.2" y="479.2" width="7" height="6.3" fill="#073467"/>
<rect x="578.1" y="479.2" width="7" height="6.3" fill="#073467"/>
<rect x="585.0" y="479.2" width="7" height="6.3" fill="#073467"/>
<rect x="591.8" y="479.2" width="7" height="6.3" fill="#073467"/>
<rect x="598.7" y="479.2" width="7" height="6.3" fill="#073467"/>
<rect x="605.6" y="479.2" width="7" height="6.3" fill="#073467"/>
<rect x="130.6" y="473.0" width="7" height="6.3" fill="#144e8a"/>
<rect x="137.5" y="473.0" width="7" height="6.3" fill="#144e8a"/>
<rect x="144.4" y="473.0" width="7" height="6.3" fill="#134c87"/>
<rect x="151.3" y="473.0" width="7" height="6.3" fill="#134c87"/>
<rect x="158.2" y="473.0" width="7" height="6.3" fill="#134c87"/>
<rect x="165.0" y="473.0" width="7" height="6.3" fill="#134c87"/>
<rect x="171.9" y="473.0" width="7" height="6.3" fill="#134c87"/>
<rect x="178.8" y="473.0" width="7" height="6.3" fill="#134c87"/>
<rect x="185.7" y="473.0" width="7" height="6.3" fill="#134c87"/>
<rect x="192.6" y="473.0" width="7" height="6.3" fill="#134c87"/>
<rect x="199.5" y="473.0" width="7" height="6.3" fill="#134c87"/>
<rect x="206.3" y="473.0" width="7" height="6.3" fill="#134c87"/>
<rect x="213.2" y="473.0" width="7" height="6.3" fill="#134c87"/>
<rect x="220.1" y="473.0" width="7" height="6.3" fill="#134c87"/>
<rect x="227.0" y="473.0" width="7" height="6.3" fill="#134c87"/>
<rect x="233.9" y="473.0" width="7" height="6.3" fill="#134c87"/>
<rect x="240.8" y="473.0" width="7" height="6.3" fill="#134c87"/>
<rect x="247.6" y="473.0" width="7" height="6.3" fill="#134c87"/>
<rect x="254.5" y="473.0" width="7" height="6.3" fill="#134c87"/>
<rect x="261.4" y="473.0" width="7" height="6.3" fill="#134c87"/>
<rect x="268.3" y="473.0" width="7" height="6.3" fill="#134c87"/>
<rect x="275.2" y="473.0" width="7" height="6.3" fill="#134c87"/>
<rect x="282.1" y="473.0" width="7" height="6.3" fill="#134c87"/>
<rect x="288.9" y="473.0" width="7" height="6.3" fill="#134c87"/>
<rect x="295.8" y="473.0" width="7" height="6.3" fill="#134c87"/>
<rect x="302.7" y="473.0" width="7" height="6.3" fill="#124984"/>
<rect x="309.6" y="473.0" width="7" height="6.3" fill="#124984"/>
<rect x="316.5" y="473.0" width="7" height="6.3" fill="#124984"/>
<rect x="323.4" y="473.0" width="7" height="6.3" fill="#124984"/>
<rect x="330.3" y="473.0" width="7" height="6.3" fill="#124984"/>
<rect x="337.1" y="473.0" width="7" height="6.3" fill="#124984"/>
<rect x="344.0" y="473.0" width="7" height="6.3" fill="#124984"/>
<rect x="350.9" y="473.0" width="7" height="6.3" fill="#124984"/>
<rect x="357.8" y="473.0" width="7" height="6.3" fill="#114781"/>
<rect x="364.7" y="473.0" width="7" height="6.3" fill="#114781"/>
<rect x="371.6" y="473.0" width="7" height="6.3" fill="#114781"/>
<rect x="378.4" y="473.0" width="7" height="6.3" fill="#114781"/>
<rect x="385.3" y="473.0" width="7" height="6.3" fill="#10457e"/>
<rect x="392.2" y="473.0" width="7" height="6.3" fill="#10457e"/>
<rect x="399.1" y="473.0" width="7" height="6.3" fill="#0f437b"/>
<rect x="406.0" y="473.0" width="7" height="6.3" fill="#0f437b"/>
<rect x="412.9" y="473.0" width="7" height="6.3" fill="#0f437b"/>
<rect x="419.7" y="473.0" width="7" height="6.3" fill="#0e4179"/>
<rect x="426.6" y="473.0" width="7" height="6.3" fill="#0d3f76"/>
<rect x="433.5" y="473.0" width="7" height="6.3" fill="#0d3f76"/>
<rect x="440.4" y="473.0" width="7" height="6.3" fill="#0c3d73"/>
<rect x="447.3" y="473.0" width="7" height="6.3" fill="#0c3d73"/>
<rect x="454.2" y="473.0" width="7" height="6.3" fill="#0a3b70"/>
<rect x="461.0" y="473.0" width="7" height="6.3" fill="#09386d"/>
<rect x="467.9" y="473.0" width="7" height="6.3" fill="#09386d"/>
<rect x="474.8" y="473.0" width="7" height="6.3" fill="#09386d"/>
<rect x="481.7" y="473.0" width="7" height="6.3" fill="#09386d"/>
<rect x="488.6" y="473.0" width="7" height="6.3" fill="#08366a"/>
<rect x="495.5" y="473.0" width="7" height="6.3" fill="#08366a"/>
<rect x="502.4" y="473.0" width="7" height="6.3" fill="#08366a"/>
<rect x="509.2" y="473.0" width="7" height="6.3" fill="#08366a"/>
<rect x="516.1" y="473.0" width="7" height="6.3" fill="#08366a"/>
<rect x="523.0" y="473.0" width="7" height="6.3" fill="#08366a"/>
<rect x="529.9" y="473.0" width="7" height="6.3" fill="#08366a"/>
<rect x="536.8" y="473.0" width="7" height="6.3" fill="#073467"/>
<rect x="543.7" y="473.0" width="7" height="6.3" fill="#073467"/>
<rect x="550.5" y="473.0" width="7" height="6.3" fill="#073467"/>
<rect x="557.4" y="473.0" width="7" height="6.3" fill="#073467"/>
<rect x="564.3" y="473.0" width="7" height="6.3" fill="#073467"/>
<rect x="571.2" y="473.0" width="7" height="6.3" fill="#073467"/>
<rect x="578.1" y="473.0" width="7" height="6.3" fill="#073467"/>
<rect x="585.0" y="473.0" width="7" height="6.3" fill="#073467"/>
<rect x="591.8" y="473.0" width="7" height="6.3" fill="#073467"/>
<rect x="598.7" y="473.0" width="7" height="6.3" fill="#073467"/>
<rect x="605.6" y="473.0" width="7" height="6.3" fill="#073467"/>
<rect x="130.6" y="466.8" width="7" height="6.3" fill="#134c87"/>
<rect x="137.5" y="466.8" width="7" height="6.3" fill="#134c87"/>
<rect x="144.4" y="466.8" width="7" height="6.3" fill="#124984"/>
<rect x="151.3" y="466.8" width="7" height="6.3" fill="#124984"/>
<rect x="158.2" y="466.8" width="7" height="6.3" fill="#124984"/>
<rect x="165.0" y="466.8" width="7" height="6.3" fill="#124984"/>
<rect x="171.9" y="466.8" width="7" height="6.3" fill="#124984"/>
<rect x="178.8" y="466.8" width="7" height="6.3" fill="#124984"/>
<rect x="185.7" y="466.8" width="7" height="6.3" fill="#124984"/>
<rect x="192.6" y="466.8" width="7" height="6.3" fill="#124984"/>
<rect x="199.5" y="466.8" width="7" height="6.3" fill="#124984"/>
<rect x="206.3" y="466.8" width="7" height="6.3" fill="#124984"/>
<rect x="213.2" y="466.8" width="7" height="6.3" fill="#124984"/>
<rect x="220.1" y="466.8" width="7" height="6.3" fill="#124984"/>
<rect x="227.0" y="466.8" width="7" height="6.3" fill="#124984"/>
<rect x="233.9" y="466.8" width="7" height="6.3" fill="#124984"/>
<rect x="240.8" y="466.8" width="7" height="6.3" fill="#124984"/>
<rect x="247.6" y="466.8" width="7" height="6.3" fill="#124984"/>
<rect x="254.5" y="466.8" width="7" height="6.3" fill="#124984"/>
<rect x="261.4" y="466.8" width="7" height="6.3" fill="#124984"/>
<rect x="268.3" y="466.8" width="7" height="6.3" fill="#124984"/>
<rect x="275.2" y="466.8" width="7" height="6.3" fill="#124984"/>
<rect x="282.1" y="466.8" width="7" height="6.3" fill="#124984"/>
<rect x="288.9" y="466.8" width="7" height="6.3" fill="#124984"/>
<rect x="295.8" y="466.8" width="7" height="6.3" fill="#124984"/>
<rect x="302.7" y="466.8" width="7" height="6.3" fill="#124984"/>
<rect x="309.6" y="466.8" width="7" height="6.3" fill="#124984"/>
<rect x="316.5" y="466.8" width="7" height="6.3" fill="#124984"/>
<rect x="323.4" y="466.8" width="7" height="6.3" fill="#124984"/>
<rect x="330.3" y="466.8" width="7" height="6.3" fill="#114781"/>
<rect x="337.1" y="466.8" width="7" height="6.3" fill="#114781"/>
<rect x="344.0" y="466.8" width="7" height="6.3" fill="#114781"/>
<rect x="350.9" y="466.8" width="7" height="6.3" fill="#114781"/>
<rect x="357.8" y="466.8" width="7" height="6.3" fill="#114781"/>
<rect x="364.7" y="466.8" width="7" height="6.3" fill="#10457e"/>
<rect x="371.6" y="466.8" width="7" height="6.3" fill="#10457e"/>
<rect x="378.4" y="466.8" width="7" height="6.3" fill="#10457e"/>
<rect x="385.3" y="466.8" width="7" height="6.3" fill="#10457e"/>
<rect x="392.2" y="466.8" width="7" height="6.3" fill="#0f437b"/>
<rect x="399.1" y="466.8" width="7" height="6.3" fill="#0f437b"/>
<rect x="406.0" y="466.8" width="7" height="6.3" fill="#0f437b"/>
<rect x="412.9" y="466.8" width="7" height="6.3" fill="#0e4179"/>
<rect x="419.7" y="466.8" width="7" height="6.3" fill="#0e4179"/>
<rect x="426.6" y="466.8" width="7" height="6.3" fill="#0d3f76"/>
<rect x="433.5" y="466.8" width="7" height="6.3" fill="#0d3f76"/>
<rect x="440.4" y="466.8" width="7" height="6.3" fill="#0c3d73"/>
<rect x="447.3" y="466.8" width="7" height="6.3" fill="#0a3b70"/>
<rect x="454.2" y="466.8" width="7" height="6.3" fill="#0a3b70"/>
<rect x="461.0" y="466.8" width="7" height="6.3" fill="#09386d"/>
<rect x="467.9" y="466.8" width="7" height="6.3" fill="#09386d"/>
<rect x="474.8" y="466.8" width="7" height="6.3" fill="#09386d"/>
<rect x="481.7" y="466.8" width="7" height="6.3" fill="#09386d"/>
<rect x="488.6" y="466.8" width="7" height="6.3" fill="#08366a"/>
<rect x="495.5" y="466.8" width="7" height="6.3" fill="#08366a"/>
<rect x="502.4" y="466.8" width="7" height="6.3" fill="#08366a"/>
<rect x="509.2" y="466.8" width="7" height="6.3" fill="#08366a"/>
<rect x="516.1" y="466.8" width="7" height="6.3" fill="#08366a"/>
<rect x="523.0" y="466.8" width="7" height="6.3" fill="#08366a"/>
<rect x="529.9" y="466.8" width="7" height="6.3" fill="#08366a"/>
<rect x="536.8" y="466.8" width="7" height="6.3" fill="#073467"/>
<rect x="543.7" y="466.8" width="7" height="6.3" fill="#073467"/>
<rect x="550.5" y="466.8" width="7" height="6.3" fill="#073467"/>
<rect x="557.4" y="466.8" width="7" height="6.3" fill="#073467"/>
<rect x="564.3" y="466.8" width="7" height="6.3" fill="#073467"/>
<rect x="571.2" y="466.8" width="7" height="6.3" fill="#073467"/>
<rect x="578.1" y="466.8" width="7" height="6.3" fill="#073467"/>
<rect x="585.0" y="466.8" width="7" height="6.3" fill="#073467"/>
<rect x="591.8" y="466.8" width="7" height="6.3" fill="#073467"/>
<rect x="598.7" y="466.8" width="7" height="6.3" fill="#073467"/>
<rect x="605.6" y="466.8" width="7" height="6.3" fill="#073467"/>
<rect x="130.6" y="460.6" width="7" height="6.3" fill="#124984"/>
<rect x="137.5" y="460.6" width="7" height="6.3" fill="#124984"/>
<rect x="144.4" y="460.6" width="7" height="6.3" fill="#124984"/>
<rect x="151.3" y="460.6" width="7" height="6.3" fill="#124984"/>
<rect x="158.2" y="460.6" width="7" height="6.3" fill="#124984"/>
<rect x="165.0" y="460.6" width="7" height="6.3" fill="#124984"/>
<rect x="171.9" y="460.6" width="7" height="6.3" fill="#124984"/>
<rect x="178.8" y="460.6" width="7" height="6.3" fill="#114781"/>
<rect x="185.7" y="460.6" width="7" height="6.3" fill="#114781"/>
<rect x="192.6" y="460.6" width="7" height="6.3" fill="#114781"/>
<rect x="199.5" y="460.6" width="7" height="6.3" fill="#114781"/>
<rect x="206.3" y="460.6" width="7" height="6.3" fill="#114781"/>
<rect x="213.2" y="460.6" width="7" height="6.3" fill="#114781"/>
<rect x="220.1" y="460.6" width="7" height="6.3" fill="#114781"/>
<rect x="227.0" y="460.6" width="7" height="6.3" fill="#114781"/>
<rect x="233.9" y="460.6" width="7" height="6.3" fill="#114781"/>
<rect x="240.8" y="460.6" width="7" height="6.3" fill="#114781"/>
<rect x="247.6" y="460.6" width="7" height="6.3" fill="#114781"/>
<rect x="254.5" y="460.6" width="7" height="6.3" fill="#114781"/>
<rect x="261.4" y="460.6" width="7" height="6.3" fill="#114781"/>
<rect x="268.3" y="460.6" width="7" height="6.3" fill="#114781"/>
<rect x="275.2" y="460.6" width="7" height="6.3" fill="#114781"/>
<rect x="282.1" y="460.6" width="7" height="6.3" fill="#114781"/>
<rect x="288.9" y="460.6" width="7" height="6.3" fill="#114781"/>
<rect x="295.8" y="460.6" width="7" height="6.3" fill="#114781"/>
<rect x="302.7" y="460.6" width="7" height="6.3" fill="#114781"/>
<rect x="309.6" y="460.6" width="7" height="6.3" fill="#114781"/>
<rect x="316.5" y="460.6" width="7" height="6.3" fill="#114781"/>
<rect x="323.4" y="460.6" width="7" height="6.3" fill="#114781"/>
<rect x="330.3" y="460.6" width="7" height="6.3" fill="#114781"/>
<rect x="337.1" y="460.6" width="7" height="6.3" fill="#114781"/>
<rect x="344.0" y="460.6" width="7" height="6.3" fill="#10457e"/>
<rect x="350.9" y="460.6" width="7" height="6.3" fill="#10457e"/>
<rect x="357.8" y="460.6" width="7" height="6.3" fill="#10457e"/>
<rect x="364.7" y="460.6" width="7" height="6.3" fill="#10457e"/>
<rect x="371.6" y="460.6" width="7" height="6.3" fill="#10457e"/>
<rect x="378.4" y="460.6" width="7" height="6.3" fill="#0f437b"/>
<rect x="385.3" y="460.6" width="7" height="6.3" fill="#0f437b"/>
<rect x="392.2" y="460.6" width="7" height="6.3" fill="#0f437b"/>
<rect x="399.1" y="460.6" width="7" height="6.3" fill="#0e4179"/>
<rect x="406.0" y="460.6" width="7" height="6.3" fill="#0e4179"/>
<rect x="412.9" y="460.6" width="7" height="6.3" fill="#0e4179"/>
<rect x="419.7" y="460.6" width="7" height="6.3" fill="#0d3f76"/>
<rect x="426.6" y="460.6" width="7" height="6.3" fill="#0d3f76"/>
<rect x="433.5" y="460.6" width="7" height="6.3" fill="#0c3d73"/>
<rect x="440.4" y="460.6" width="7" height="6.3" fill="#0c3d73"/>
<rect x="447.3" y="460.6" width="7" height="6.3" fill="#0a3b70"/>
<rect x="454.2" y="460.6" width="7" height="6.3" fill="#0a3b70"/>
<rect x="461.0" y="460.6" width="7" height="6.3" fill="#09386d"/>
<rect x="467.9" y="460.6" width="7" height="6.3" fill="#09386d"/>
<rect x="474.8" y="460.6" width="7" height="6.3" fill="#09386d"/>
<rect x="481.7" y="460.6" width="7" height="6.3" fill="#08366a"/>
<rect x="488.6" y="460.6" width="7" height="6.3" fill="#08366a"/>
<rect x="495.5" y="460.6" width="7" height="6.3" fill="#08366a"/>
<rect x="502.4" y="460.6" width="7" height="6.3" fill="#08366a"/>
<rect x="509.2" y="460.6" width="7" height="6.3" fill="#08366a"/>
<rect x="516.1" y="460.6" width="7" height="6.3" fill="#08366a"/>
<rect x="523.0" y="460.6" width="7" height="6.3" fill="#08366a"/>
<rect x="529.9" y="460.6" width="7" height="6.3" fill="#08366a"/>
<rect x="536.8" y="460.6" width="7" height="6.3" fill="#073467"/>
<rect x="543.7" y="460.6" width="7" height="6.3" fill="#073467"/>
<rect x="550.5" y="460.6" width="7" height="6.3" fill="#073467"/>
<rect x="557.4" y="460.6" width="7" height="6.3" fill="#073467"/>
<rect x="564.3" y="460.6" width="7" height="6.3" fill="#073467"/>
<rect x="571.2" y="460.6" width="7" height="6.3" fill="#073467"/>
<rect x="578.1" y="460.6" width="7" height="6.3" fill="#073467"/>
<rect x="585.0" y="460.6" width="7" height="6.3" fill="#073467"/>
<rect x="591.8" y="460.6" width="7" height="6.3" fill="#073467"/>
<rect x="598.7" y="460.6" width="7" height="6.3" fill="#073467"/>
<rect x="605.6" y="460.6" width="7" height="6.3" fill="#073467"/>
<rect x="130.6" y="454.4" width="7" height="6.3" fill="#114781"/>
<rect x="137.5" y="454.4" width="7" height="6.3" fill="#114781"/>
<rect x="144.4" y="454.4" width="7" height="6.3" fill="#114781"/>
<rect x="151.3" y="454.4" width="7" height="6.3" fill="#114781"/>
<rect x="158.2" y="454.4" width="7" height="6.3" fill="#114781"/>
<rect x="165.0" y="454.4" width="7" height="6.3" fill="#114781"/>
<rect x="171.9" y="454.4" width="7" height="6.3" fill="#114781"/>
<rect x="178.8" y="454.4" width="7" height="6.3" fill="#114781"/>
<rect x="185.7" y="454.4" width="7" height="6.3" fill="#114781"/>
<rect x="192.6" y="454.4" width="7" height="6.3" fill="#10457e"/>
<rect x="199.5" y="454.4" width="7" height="6.3" fill="#10457e"/>
<rect x="206.3" y="454.4" width="7" height="6.3" fill="#10457e"/>
<rect x="213.2" y="454.4" width="7" height="6.3" fill="#10457e"/>
<rect x="220.1" y="454.4" width="7" height="6.3" fill="#10457e"/>
<rect x="227.0" y="454.4" width="7" height="6.3" fill="#10457e"/>
<rect x="233.9" y="454.4" width="7" height="6.3" fill="#10457e"/>
<rect x="240.8" y="454.4" width="7" height="6.3" fill="#10457e"/>
<rect x="247.6" y="454.4" width="7" height="6.3" fill="#10457e"/>
<rect x="254.5" y="454.4" width="7" height="6.3" fill="#10457e"/>
<rect x="261.4" y="454.4" width="7" height="6.3" fill="#10457e"/>
<rect x="268.3" y="454.4" width="7" height="6.3" fill="#10457e"/>
<rect x="275.2" y="454.4" width="7" height="6.3" fill="#10457e"/>
<rect x="282.1" y="454.4" width="7" height="6.3" fill="#10457e"/>
<rect x="288.9" y="454.4" width="7" height="6.3" fill="#10457e"/>
<rect x="295.8" y="454.4" width="7" height="6.3" fill="#10457e"/>
<rect x="302.7" y="454.4" width="7" height="6.3" fill="#10457e"/>
<rect x="309.6" y="454.4" width="7" height="6.3" fill="#10457e"/>
<rect x="316.5" y="454.4" width="7" height="6.3" fill="#10457e"/>
<rect x="323.4" y="454.4" width="7" height="6.3" fill="#10457e"/>
<rect x="330.3" y="454.4" width="7" height="6.3" fill="#10457e"/>
<rect x="337.1" y="454.4" width="7" height="6.3" fill="#10457e"/>
<rect x="344.0" y="454.4" width="7" height="6.3" fill="#10457e"/>
<rect x="350.9" y="454.4" width="7" height="6.3" fill="#10457e"/>
<rect x="357.8" y="454.4" width="7" height="6.3" fill="#0f437b"/>
<rect x="364.7" y="454.4" width="7" height="6.3" fill="#0f437b"/>
<rect x="371.6" y="454.4" width="7" height="6.3" fill="#0f437b"/>
<rect x="378.4" y="454.4" width="7" height="6.3" fill="#0f437b"/>
<rect x="385.3" y="454.4" width="7" height="6.3" fill="#0f437b"/>
<rect x="392.2" y="454.4" width="7" height="6.3" fill="#0e4179"/>
<rect x="399.1" y="454.4" width="7" height="6.3" fill="#0e4179"/>
<rect x="406.0" y="454.4" width="7" height="6.3" fill="#0e4179"/>
<rect x="412.9" y="454.4" width="7" height="6.3" fill="#0d3f76"/>
<rect x="419.7" y="454.4" width="7" height="6.3" fill="#0d3f76"/>
<rect x="426.6" y="454.4" width="7" height="6.3" fill="#0c3d73"/>
<rect x="433.5" y="454.4" width="7" height="6.3" fill="#0c3d73"/>
<rect x="440.4" y="454.4" width="7" height="6.3" fill="#0c3d73"/>
<rect x="447.3" y="454.4" width="7" height="6.3" fill="#0a3b70"/>
<rect x="454.2" y="454.4" width="7" height="6.3" fill="#0a3b70"/>
<rect x="461.0" y="454.4" width="7" height="6.3" fill="#09386d"/>
<rect x="467.9" y="454.4" width="7" height="6.3" fill="#09386d"/>
<rect x="474.8" y="454.4" width="7" height="6.3" fill="#09386d"/>
<rect x="481.7" y="454.4" width="7" height="6.3" fill="#08366a"/>
<rect x="488.6" y="454.4" width="7" height="6.3" fill="#08366a"/>
<rect x="495.5" y="454.4" width="7" height="6.3" fill="#08366a"/>
<rect x="502.4" y="454.4" width="7" height="6.3" fill="#08366a"/>
<rect x="509.2" y="454.4" width="7" height="6.3" fill="#08366a"/>
<rect x="516.1" y="454.4" width="7" height="6.3" fill="#08366a"/>
<rect x="523.0" y="454.4" width="7" height="6.3" fill="#08366a"/>
<rect x="529.9" y="454.4" width="7" height="6.3" fill="#08366a"/>
<rect x="536.8" y="454.4" width="7" height="6.3" fill="#073467"/>
<rect x="543.7" y="454.4" width="7" height="6.3" fill="#073467"/>
<rect x="550.5" y="454.4" width="7" height="6.3" fill="#073467"/>
<rect x="557.4" y="454.4" width="7" height="6.3" fill="#073467"/>
<rect x="564.3" y="454.4" width="7" height="6.3" fill="#073467"/>
<rect x="571.2" y="454.4" width="7" height="6.3" fill="#073467"/>
<rect x="578.1" y="454.4" width="7" height="6.3" fill="#073467"/>
<rect x="585.0" y="454.4" width="7" height="6.3" fill="#073467"/>
<rect x="591.8" y="454.4" width="7" height="6.3" fill="#073467"/>
<rect x="598.7" y="454.4" width="7" height="6.3" fill="#073467"/>
<rect x="605.6" y="454.4" width="7" height="6.3" fill="#073467"/>
<rect x="130.6" y="448.1" width="7" height="6.3" fill="#10457e"/>
<rect x="137.5" y="448.1" width="7" height="6.3" fill="#10457e"/>
<rect x="144.4" y="448.1" width="7" height="6.3" fill="#10457e"/>
<rect x="151.3" y="448.1" width="7" height="6.3" fill="#10457e"/>
<rect x="158.2" y="448.1" width="7" height="6.3" fill="#10457e"/>
<rect x="165.0" y="448.1" width="7" height="6.3" fill="#10457e"/>
<rect x="171.9" y="448.1" width="7" height="6.3" fill="#10457e"/>
<rect x="178.8" y="448.1" width="7" height="6.3" fill="#10457e"/>
<rect x="185.7" y="448.1" width="7" height="6.3" fill="#10457e"/>
<rect x="192.6" y="448.1" width="7" height="6.3" fill="#10457e"/>
<rect x="199.5" y="448.1" width="7" height="6.3" fill="#10457e"/>
<rect x="206.3" y="448.1" width="7" height="6.3" fill="#10457e"/>
<rect x="213.2" y="448.1" width="7" height="6.3" fill="#10457e"/>
<rect x="220.1" y="448.1" width="7" height="6.3" fill="#10457e"/>
<rect x="227.0" y="448.1" width="7" height="6.3" fill="#10457e"/>
<rect x="233.9" y="448.1" width="7" height="6.3" fill="#10457e"/>
<rect x="240.8" y="448.1" width="7" height="6.3" fill="#10457e"/>
<rect x="247.6" y="448.1" width="7" height="6.3" fill="#10457e"/>
<rect x="254.5" y="448.1" width="7" height="6.3" fill="#10457e"/>
<rect x="261.4" y="448.1" width="7" height="6.3" fill="#10457e"/>
<rect x="268.3" y="448.1" width="7" height="6.3" fill="#10457e"/>
<rect x="275.2" y="448.1" width="7" height="6.3" fill="#10457e"/>
<rect x="282.1" y="448.1" width="7" height="6.3" fill="#10457e"/>
<rect x="288.9" y="448.1" width="7" height="6.3" fill="#10457e"/>
<rect x="295.8" y="448.1" width="7" height="6.3" fill="#10457e"/>
<rect x="302.7" y="448.1" width="7" height="6.3" fill="#10457e"/>
<rect x="309.6" y="448.1" width="7" height="6.3" fill="#10457e"/>
<rect x="316.5" y="448.1" width="7" height="6.3" fill="#10457e"/>
<rect x="323.4" y="448.1" width="7" height="6.3" fill="#10457e"/>
<rect x="330.3" y="448.1" width="7" height="6.3" fill="#0f437b"/>
<rect x="337.1" y="448.1" width="7" height="6.3" fill="#0f437b"/>
<rect x="344.0" y="448.1" width="7" height="6.3" fill="#0f437b"/>
<rect x="350.9" y="448.1" width="7" height="6.3" fill="#0f437b"/>
<rect x="357.8" y="448.1" width="7" height="6.3" fill="#0f437b"/>
<rect x="364.7" y="448.1" width="7" height="6.3" fill="#0f437b"/>
<rect x="371.6" y="448.1" width="7" height="6.3" fill="#0f437b"/>
<rect x="378.4" y="448.1" width="7" height="6.3" fill="#0e4179"/>
<rect x="385.3" y="448.1" width="7" height="6.3" fill="#0e4179"/>
<rect x="392.2" y="448.1" width="7" height="6.3" fill="#0e4179"/>
<rect x="399.1" y="448.1" width="7" height="6.3" fill="#0e4179"/>
<rect x="406.0" y="448.1" width="7" height="6.3" fill="#0d3f76"/>
<rect x="412.9" y="448.1" width="7" height="6.3" fill="#0d3f76"/>
<rect x="419.7" y="448.1" width="7" height="6.3" fill="#0d3f76"/>
<rect x="426.6" y="448.1" width="7" height="6.3" fill="#0c3d73"/>
<rect x="433.5" y="448.1" width="7" height="6.3" fill="#0c3d73"/>
<rect x="440.4" y="448.1" width="7" height="6.3" fill="#0a3b70"/>
<rect x="447.3" y="448.1" width="7" height="6.3" fill="#0a3b70"/>
<rect x="454.2" y="448.1" width="7" height="6.3" fill="#09386d"/>
<rect x="461.0" y="448.1" width="7" height="6.3" fill="#09386d"/>
<rect x="467.9" y="448.1" width="7" height="6.3" fill="#09386d"/>
<rect x="474.8" y="448.1" width="7" height="6.3" fill="#09386d"/>
<rect x="481.7" y="448.1" width="7" height="6.3" fill="#08366a"/>
<rect x="488.6" y="448.1" width="7" height="6.3" fill="#08366a"/>
<rect x="495.5" y="448.1" width="7" height="6.3" fill="#08366a"/>
<rect x="502.4" y="448.1" width="7" height="6.3" fill="#08366a"/>
<rect x="509.2" y="448.1" width="7" height="6.3" fill="#08366a"/>
<rect x="516.1" y="448.1" width="7" height="6.3" fill="#08366a"/>
<rect x="523.0" y="448.1" width="7" height="6.3" fill="#08366a"/>
<rect x="529.9" y="448.1" width="7" height="6.3" fill="#08366a"/>
<rect x="536.8" y="448.1" width="7" height="6.3" fill="#073467"/>
<rect x="543.7" y="448.1" width="7" height="6.3" fill="#073467"/>
<rect x="550.5" y="448.1" width="7" height="6.3" fill="#073467"/>
<rect x="557.4" y="448.1" width="7" height="6.3" fill="#073467"/>
<rect x="564.3" y="448.1" width="7" height="6.3" fill="#073467"/>
<rect x="571.2" y="448.1" width="7" height="6.3" fill="#073467"/>
<rect x="578.1" y="448.1" width="7" height="6.3" fill="#073467"/>
<rect x="585.0" y="448.1" width="7" height="6.3" fill="#073467"/>
<rect x="591.8" y="448.1" width="7" height="6.3" fill="#073467"/>
<rect x="598.7" y="448.1" width="7" height="6.3" fill="#073467"/>
<rect x="605.6" y="448.1" width="7" height="6.3" fill="#073467"/>
<rect x="130.6" y="441.9" width="7" height="6.3" fill="#0f437b"/>
<rect x="137.5" y="441.9" width="7" height="6.3" fill="#0f437b"/>
<rect x="144.4" y="441.9" width="7" height="6.3" fill="#0f437b"/>
<rect x="151.3" y="441.9" width="7" height="6.3" fill="#0f437b"/>
<rect x="158.2" y="441.9" width="7" height="6.3" fill="#0f437b"/>
<rect x="165.0" y="441.9" width="7" height="6.3" fill="#0f437b"/>
<rect x="171.9" y="441.9" width="7" height="6.3" fill="#0f437b"/>
<rect x="178.8" y="441.9" width="7" height="6.3" fill="#0f437b"/>
<rect x="185.7" y="441.9" width="7" height="6.3" fill="#0f437b"/>
<rect x="192.6" y="441.9" width="7" height="6.3" fill="#0f437b"/>
<rect x="199.5" y="441.9" width="7" height="6.3" fill="#0f437b"/>
<rect x="206.3" y="441.9" width="7" height="6.3" fill="#0f437b"/>
<rect x="213.2" y="441.9" width="7" height="6.3" fill="#0f437b"/>
<rect x="220.1" y="441.9" width="7" height="6.3" fill="#0f437b"/>
<rect x="227.0" y="441.9" width="7" height="6.3" fill="#0f437b"/>
<rect x="233.9" y="441.9" width="7" height="6.3" fill="#0f437b"/>
<rect x="240.8" y="441.9" width="7" height="6.3" fill="#0f437b"/>
<rect x="247.6" y="441.9" width="7" height="6.3" fill="#0f437b"/>
<rect x="254.5" y="441.9" width="7" height="6.3" fill="#0f437b"/>
<rect x="261.4" y="441.9" width="7" height="6.3" fill="#0f437b"/>
<rect x="268.3" y="441.9" width="7" height="6.3" fill="#0f437b"/>
<rect x="275.2" y="441.9" width="7" height="6.3" fill="#0f437b"/>
<rect x="282.1" y="441.9" width="7" height="6.3" fill="#0f437b"/>
<rect x="288.9" y="441.9" width="7" height="6.3" fill="#0f437b"/>
<rect x="295.8" y="441.9" width="7" height="6.3" fill="#0f437b"/>
<rect x="302.7" y="441.9" width="7" height="6.3" fill="#0f437b"/>
<rect x="309.6" y="441.9" width="7" height="6.3" fill="#0f437b"/>
<rect x="316.5" y="441.9" width="7" height="6.3" fill="#0f437b"/>
<rect x="323.4" y="441.9" width="7" height="6.3" fill="#0f437b"/>
<rect x="330.3" y="441.9" width="7" height="6.3" fill="#0f437b"/>
<rect x="337.1" y="441.9" width="7" height="6.3" fill="#0f437b"/>
<rect x="344.0" y="441.9" width="7" height="6.3" fill="#0f437b"/>
<rect x="350.9" y="441.9" width="7" height="6.3" fill="#0f437b"/>
<rect x="357.8" y="441.9" width="7" height="6.3" fill="#0e4179"/>
<rect x="364.7" y="441.9" width="7" height="6.3" fill="#0e4179"/>
<rect x="371.6" y="441.9" width="7" height="6.3" fill="#0e4179"/>
<rect x="378.4" y="441.9" width="7" height="6.3" fill="#0e4179"/>
<rect x="385.3" y="441.9" width="7" height="6.3" fill="#0e4179"/>
<rect x="392.2" y="441.9" width="7" height="6.3" fill="#0d3f76"/>
<rect x="399.1" y="441.9" width="7" height="6.3" fill="#0d3f76"/>
<rect x="406.0" y="441.9" width="7" height="6.3" fill="#0d3f76"/>
<rect x="412.9" y="441.9" width="7" height="6.3" fill="#0d3f76"/>
<rect x="419.7" y="441.9" width="7" height="6.3" fill="#0c3d73"/>
<rect x="426.6" y="441.9" width="7" height="6.3" fill="#0c3d73"/>
<rect x="433.5" y="441.9" width="7" height="6.3" fill="#0a3b70"/>
<rect x="440.4" y="441.9" width="7" height="6.3" fill="#0a3b70"/>
<rect x="447.3" y="441.9" width="7" height="6.3" fill="#0a3b70"/>
<rect x="454.2" y="441.9" width="7" height="6.3" fill="#09386d"/>
<rect x="461.0" y="441.9" width="7" height="6.3" fill="#09386d"/>
<rect x="467.9" y="441.9" width="7" height="6.3" fill="#09386d"/>
<rect x="474.8" y="441.9" width="7" height="6.3" fill="#08366a"/>
<rect x="481.7" y="441.9" width="7" height="6.3" fill="#08366a"/>
<rect x="488.6" y="441.9" width="7" height="6.3" fill="#08366a"/>
<rect x="495.5" y="441.9" width="7" height="6.3" fill="#08366a"/>
<rect x="502.4" y="441.9" width="7" height="6.3" fill="#08366a"/>
<rect x="509.2" y="441.9" width="7" height="6.3" fill="#08366a"/>
<rect x="516.1" y="441.9" width="7" height="6.3" fill="#08366a"/>
<rect x="523.0" y="441.9" width="7" height="6.3" fill="#08366a"/>
<rect x="529.9" y="441.9" width="7" height="6.3" fill="#073467"/>
<rect x="536.8" y="441.9" width="7" height="6.3" fill="#073467"/>
<rect x="543.7" y="441.9" width="7" height="6.3" fill="#073467"/>
<rect x="550.5" y="441.9" width="7" height="6.3" fill="#073467"/>
<rect x="557.4" y="441.9" width="7" height="6.3" fill="#073467"/>
<rect x="564.3" y="441.9" width="7" height="6.3" fill="#073467"/>
<rect x="571.2" y="441.9" width="7" height="6.3" fill="#073467"/>
<rect x="578.1" y="441.9" width="7" height="6.3" fill="#073467"/>
<rect x="585.0" y="441.9" width="7" height="6.3" fill="#073467"/>
<rect x="591.8" y="441.9" width="7" height="6.3" fill="#073467"/>
<rect x="598.7" y="441.9" width="7" height="6.3" fill="#073467"/>
<rect x="605.6" y="441.9" width="7" height="6.3" fill="#073467"/>
<rect x="130.6" y="435.7" width="7" height="6.3" fill="#0f437b"/>
<rect x="137.5" y="435.7" width="7" height="6.3" fill="#0f437b"/>
<rect x="144.4" y="435.7" width="7" height="6.3" fill="#0f437b"/>
<rect x="151.3" y="435.7" width="7" height="6.3" fill="#0f437b"/>
<rect x="158.2" y="435.7" width="7" height="6.3" fill="#0f437b"/>
<rect x="165.0" y="435.7" width="7" height="6.3" fill="#0f437b"/>
<rect x="171.9" y="435.7" width="7" height="6.3" fill="#0f437b"/>
<rect x="178.8" y="435.7" width="7" height="6.3" fill="#0f437b"/>
<rect x="185.7" y="435.7" width="7" height="6.3" fill="#0f437b"/>
<rect x="192.6" y="435.7" width="7" height="6.3" fill="#0f437b"/>
<rect x="199.5" y="435.7" width="7" height="6.3" fill="#0f437b"/>
<rect x="206.3" y="435.7" width="7" height="6.3" fill="#0f437b"/>
<rect x="213.2" y="435.7" width="7" height="6.3" fill="#0f437b"/>
<rect x="220.1" y="435.7" width="7" height="6.3" fill="#0f437b"/>
<rect x="227.0" y="435.7" width="7" height="6.3" fill="#0f437b"/>
<rect x="233.9" y="435.7" width="7" height="6.3" fill="#0f437b"/>
<rect x="240.8" y="435.7" width="7" height="6.3" fill="#0f437b"/>
<rect x="247.6" y="435.7" width="7" height="6.3" fill="#0f437b"/>
<rect x="254.5" y="435.7" width="7" height="6.3" fill="#0f437b"/>
<rect x="261.4" y="435.7" width="7" height="6.3" fill="#0f437b"/>
<rect x="268.3" y="435.7" width="7" height="6.3" fill="#0f437b"/>
<rect x="275.2" y="435.7" width="7" height="6.3" fill="#0f437b"/>
<rect x="282.1" y="435.7" width="7" height="6.3" fill="#0f437b"/>
<rect x="288.9" y="435.7" width="7" height="6.3" fill="#0f437b"/>
<rect x="295.8" y="435.7" width="7" height="6.3" fill="#0f437b"/>
<rect x="302.7" y="435.7" width="7" height="6.3" fill="#0f437b"/>
<rect x="309.6" y="435.7" width="7" height="6.3" fill="#0f437b"/>
<rect x="316.5" y="435.7" width="7" height="6.3" fill="#0f437b"/>
<rect x="323.4" y="435.7" width="7" height="6.3" fill="#0e4179"/>
<rect x="330.3" y="435.7" width="7" height="6.3" fill="#0e4179"/>
<rect x="337.1" y="435.7" width="7" height="6.3" fill="#0e4179"/>
<rect x="344.0" y="435.7" width="7" height="6.3" fill="#0e4179"/>
<rect x="350.9" y="435.7" width="7" height="6.3" fill="#0e4179"/>
<rect x="357.8" y="435.7" width="7" height="6.3" fill="#0e4179"/>
<rect x="364.7" y="435.7" width="7" height="6.3" fill="#0e4179"/>
<rect x="371.6" y="435.7" width="7" height="6.3" fill="#0e4179"/>
<rect x="378.4" y="435.7" width="7" height="6.3" fill="#0d3f76"/>
<rect x="385.3" y="435.7" width="7" height="6.3" fill="#0d3f76"/>
<rect x="392.2" y="435.7" width="7" height="6.3" fill="#0d3f76"/>
<rect x="399.1" y="435.7" width="7" height="6.3" fill="#0d3f76"/>
<rect x="406.0" y="435.7" width="7" height="6.3" fill="#0d3f76"/>
<rect x="412.9" y="435.7" width="7" height="6.3" fill="#0c3d73"/>
<rect x="419.7" y="435.7" width="7" height="6.3" fill="#0c3d73"/>
<rect x="426.6" y="435.7" width="7" height="6.3" fill="#0c3d73"/>
<rect x="433.5" y="435.7" width="7" height="6.3" fill="#0a3b70"/>
<rect x="440.4" y="435.7" width="7" height="6.3" fill="#0a3b70"/>
<rect x="447.3" y="435.7" width="7" height="6.3" fill="#09386d"/>
<rect x="454.2" y="435.7" width="7" height="6.3" fill="#09386d"/>
<rect x="461.0" y="435.7" width="7" height="6.3" fill="#09386d"/>
<rect x="467.9" y="435.7" width="7" height="6.3" fill="#09386d"/>
<rect x="474.8" y="435.7" width="7" height="6.3" fill="#08366a"/>
<rect x="481.7" y="435.7" width="7" height="6.3" fill="#08366a"/>
<rect x="488.6" y="435.7" width="7" height="6.3" fill="#08366a"/>
<rect x="495.5" y="435.7" width="7" height="6.3" fill="#08366a"/>
<rect x="502.4" y="435.7" width="7" height="6.3" fill="#08366a"/>
<rect x="509.2" y="435.7" width="7" height="6.3" fill="#08366a"/>
<rect x="516.1" y="435.7" width="7" height="6.3" fill="#073467"/>
<rect x="523.0" y="435.7" width="7" height="6.3" fill="#073467"/>
<rect x="529.9" y="435.7" width="7" height="6.3" fill="#073467"/>
<rect x="536.8" y="435.7" width="7" height="6.3" fill="#073467"/>
<rect x="543.7" y="435.7" width="7" height="6.3" fill="#073467"/>
<rect x="550.5" y="435.7" width="7" height="6.3" fill="#073467"/>
<rect x="557.4" y="435.7" width="7" height="6.3" fill="#073467"/>
<rect x="564.3" y="435.7" width="7" height="6.3" fill="#073467"/>
<rect x="571.2" y="435.7" width="7" height="6.3" fill="#073467"/>
<rect x="578.1" y="435.7" width="7" height="6.3" fill="#073467"/>
<rect x="585.0" y="435.7" width="7" height="6.3" fill="#073467"/>
<rect x="591.8" y="435.7" width="7" height="6.3" fill="#073467"/>
<rect x="598.7" y="435.7" width="7" height="6.3" fill="#073467"/>
<rect x="605.6" y="435.7" width="7" height="6.3" fill="#073467"/>
<rect x="130.6" y="429.5" width="7" height="6.3" fill="#0e4179"/>
<rect x="137.5" y="429.5" width="7" height="6.3" fill="#0e4179"/>
<rect x="144.4" y="429.5" width="7" height="6.3" fill="#0e4179"/>
<rect x="151.3" y="429.5" width="7" height="6.3" fill="#0e4179"/>
<rect x="158.2" y="429.5" width="7" height="6.3" fill="#0e4179"/>
<rect x="165.0" y="429.5" width="7" height="6.3" fill="#0e4179"/>
<rect x="171.9" y="429.5" width="7" height="6.3" fill="#0e4179"/>
<rect x="178.8" y="429.5" width="7" height="6.3" fill="#0e4179"/>
<rect x="185.7" y="429.5" width="7" height="6.3" fill="#0e4179"/>
<rect x="192.6" y="429.5" width="7" height="6.3" fill="#0e4179"/>
<rect x="199.5" y="429.5" width="7" height="6.3" fill="#0e4179"/>
<rect x="206.3" y="429.5" width="7" height="6.3" fill="#0e4179"/>
<rect x="213.2" y="429.5" width="7" height="6.3" fill="#0e4179"/>
<rect x="220.1" y="429.5" width="7" height="6.3" fill="#0e4179"/>
<rect x="227.0" y="429.5" width="7" height="6.3" fill="#0e4179"/>
<rect x="233.9" y="429.5" width="7" height="6.3" fill="#0e4179"/>
<rect x="240.8" y="429.5" width="7" height="6.3" fill="#0e4179"/>
<rect x="247.6" y="429.5" width="7" height="6.3" fill="#0e4179"/>
<rect x="254.5" y="429.5" width="7" height="6.3" fill="#0e4179"/>
<rect x="261.4" y="429.5" width="7" height="6.3" fill="#0e4179"/>
<rect x="268.3" y="429.5" width="7" height="6.3" fill="#0e4179"/>
<rect x="275.2" y="429.5" width="7" height="6.3" fill="#0e4179"/>
<rect x="282.1" y="429.5" width="7" height="6.3" fill="#0e4179"/>
<rect x="288.9" y="429.5" width="7" height="6.3" fill="#0e4179"/>
<rect x="295.8" y="429.5" width="7" height="6.3" fill="#0e4179"/>
<rect x="302.7" y="429.5" width="7" height="6.3" fill="#0e4179"/>
<rect x="309.6" y="429.5" width="7" height="6.3" fill="#0e4179"/>
<rect x="316.5" y="429.5" width="7" height="6.3" fill="#0e4179"/>
<rect x="323.4" y="429.5" width="7" height="6.3" fill="#0e4179"/>
<rect x="330.3" y="429.5" width="7" height="6.3" fill="#0e4179"/>
<rect x="337.1" y="429.5" width="7" height="6.3" fill="#0e4179"/>
<rect x="344.0" y="429.5" width="7" height="6.3" fill="#0e4179"/>
<rect x="350.9" y="429.5" width="7" height="6.3" fill="#0e4179"/>
<rect x="357.8" y="429.5" width="7" height="6.3" fill="#0d3f76"/>
<rect x="364.7" y="429.5" width="7" height="6.3" fill="#0d3f76"/>
<rect x="371.6" y="429.5" width="7" height="6.3" fill="#0d3f76"/>
<rect x="378.4" y="429.5" width="7" height="6.3" fill="#0d3f76"/>
<rect x="385.3" y="429.5" width="7" height="6.3" fill="#0d3f76"/>
<rect x="392.2" y="429.5" width="7" height="6.3" fill="#0d3f76"/>
<rect x="399.1" y="429.5" width="7" height="6.3" fill="#0c3d73"/>
<rect x="406.0" y="429.5" width="7" height="6.3" fill="#0c3d73"/>
<rect x="412.9" y="429.5" width="7" height="6.3" fill="#0c3d73"/>
<rect x="419.7" y="429.5" width="7" height="6.3" fill="#0c3d73"/>
<rect x="426.6" y="429.5" width="7" height="6.3" fill="#0a3b70"/>
<rect x="433.5" y="429.5" width="7" height="6.3" fill="#0a3b70"/>
<rect x="440.4" y="429.5" width="7" height="6.3" fill="#0a3b70"/>
<rect x="447.3" y="429.5" width="7" height="6.3" fill="#09386d"/>
<rect x="454.2" y="429.5" width="7" height="6.3" fill="#09386d"/>
<rect x="461.0" y="429.5" width="7" height="6.3" fill="#09386d"/>
<rect x="467.9" y="429.5" width="7" height="6.3" fill="#08366a"/>
<rect x="474.8" y="429.5" width="7" height="6.3" fill="#08366a"/>
<rect x="481.7" y="429.5" width="7" height="6.3" fill="#08366a"/>
<rect x="488.6" y="429.5" width="7" height="6.3" fill="#08366a"/>
<rect x="495.5" y="429.5" width="7" height="6.3" fill="#08366a"/>
<rect x="502.4" y="429.5" width="7" height="6.3" fill="#08366a"/>
<rect x="509.2" y="429.5" width="7" height="6.3" fill="#08366a"/>
<rect x="516.1" y="429.5" width="7" height="6.3" fill="#073467"/>
<rect x="523.0" y="429.5" width="7" height="6.3" fill="#073467"/>
<rect x="529.9" y="429.5" width="7" height="6.3" fill="#073467"/>
<rect x="536.8" y="429.5" width="7" height="6.3" fill="#073467"/>
<rect x="543.7" y="429.5" width="7" height="6.3" fill="#073467"/>
<rect x="550.5" y="429.5" width="7" height="6.3" fill="#073467"/>
<rect x="557.4" y="429.5" width="7" height="6.3" fill="#073467"/>
<rect x="564.3" y="429.5" width="7" height="6.3" fill="#073467"/>
<rect x="571.2" y="429.5" width="7" height="6.3" fill="#073467"/>
<rect x="578.1" y="429.5" width="7" height="6.3" fill="#073467"/>
<rect x="585.0" y="429.5" width="7" height="6.3" fill="#073467"/>
<rect x="591.8" y="429.5" width="7" height="6.3" fill="#073467"/>
<rect x="598.7" y="429.5" width="7" height="6.3" fill="#073467"/>
<rect x="605.6" y="429.5" width="7" height="6.3" fill="#073467"/>
<rect x="130.6" y="423.3" width="7" height="6.3" fill="#0e4179"/>
<rect x="137.5" y="423.3" width="7" height="6.3" fill="#0e4179"/>
<rect x="144.4" y="423.3" width="7" height="6.3" fill="#0e4179"/>
<rect x="151.3" y="423.3" width="7" height="6.3" fill="#0e4179"/>
<rect x="158.2" y="423.3" width="7" height="6.3" fill="#0e4179"/>
<rect x="165.0" y="423.3" width="7" height="6.3" fill="#0e4179"/>
<rect x="171.9" y="423.3" width="7" height="6.3" fill="#0e4179"/>
<rect x="178.8" y="423.3" width="7" height="6.3" fill="#0e4179"/>
<rect x="185.7" y="423.3" width="7" height="6.3" fill="#0e4179"/>
<rect x="192.6" y="423.3" width="7" height="6.3" fill="#0e4179"/>
<rect x="199.5" y="423.3" width="7" height="6.3" fill="#0e4179"/>
<rect x="206.3" y="423.3" width="7" height="6.3" fill="#0e4179"/>
<rect x="213.2" y="423.3" width="7" height="6.3" fill="#0e4179"/>
<rect x="220.1" y="423.3" width="7" height="6.3" fill="#0e4179"/>
<rect x="227.0" y="423.3" width="7" height="6.3" fill="#0e4179"/>
<rect x="233.9" y="423.3" width="7" height="6.3" fill="#0e4179"/>
<rect x="240.8" y="423.3" width="7" height="6.3" fill="#0e4179"/>
<rect x="247.6" y="423.3" width="7" height="6.3" fill="#0e4179"/>
<rect x="254.5" y="423.3" width="7" height="6.3" fill="#0e4179"/>
<rect x="261.4" y="423.3" width="7" height="6.3" fill="#0e4179"/>
<rect x="268.3" y="423.3" width="7" height="6.3" fill="#0e4179"/>
<rect x="275.2" y="423.3" width="7" height="6.3" fill="#0e4179"/>
<rect x="282.1" y="423.3" width="7" height="6.3" fill="#0e4179"/>
<rect x="288.9" y="423.3" width="7" height="6.3" fill="#0e4179"/>
<rect x="295.8" y="423.3" width="7" height="6.3" fill="#0e4179"/>
<rect x="302.7" y="423.3" width="7" height="6.3" fill="#0e4179"/>
<rect x="309.6" y="423.3" width="7" height="6.3" fill="#0e4179"/>
<rect x="316.5" y="423.3" width="7" height="6.3" fill="#0e4179"/>
<rect x="323.4" y="423.3" width="7" height="6.3" fill="#0d3f76"/>
<rect x="330.3" y="423.3" width="7" height="6.3" fill="#0d3f76"/>
<rect x="337.1" y="423.3" width="7" height="6.3" fill="#0d3f76"/>
<rect x="344.0" y="423.3" width="7" height="6.3" fill="#0d3f76"/>
<rect x="350.9" y="423.3" width="7" height="6.3" fill="#0d3f76"/>
<rect x="357.8" y="423.3" width="7" height="6.3" fill="#0d3f76"/>
<rect x="364.7" y="423.3" width="7" height="6.3" fill="#0d3f76"/>
<rect x="371.6" y="423.3" width="7" height="6.3" fill="#0d3f76"/>
<rect x="378.4" y="423.3" width="7" height="6.3" fill="#0d3f76"/>
<rect x="385.3" y="423.3" width="7" height="6.3" fill="#0c3d73"/>
<rect x="392.2" y="423.3" width="7" height="6.3" fill="#0c3d73"/>
<rect x="399.1" y="423.3" width="7" height="6.3" fill="#0c3d73"/>
<rect x="406.0" y="423.3" width="7" height="6.3" fill="#0c3d73"/>
<rect x="412.9" y="423.3" width="7" height="6.3" fill="#0c3d73"/>
<rect x="419.7" y="423.3" width="7" height="6.3" fill="#0a3b70"/>
<rect x="426.6" y="423.3" width="7" height="6.3" fill="#0a3b70"/>
<rect x="433.5" y="423.3" width="7" height="6.3" fill="#0a3b70"/>
<rect x="440.4" y="423.3" width="7" height="6.3" fill="#09386d"/>
<rect x="447.3" y="423.3" width="7" height="6.3" fill="#09386d"/>
<rect x="454.2" y="423.3" width="7" height="6.3" fill="#09386d"/>
<rect x="461.0" y="423.3" width="7" height="6.3" fill="#09386d"/>
<rect x="467.9" y="423.3" width="7" height="6.3" fill="#08366a"/>
<rect x="474.8" y="423.3" width="7" height="6.3" fill="#08366a"/>
<rect x="481.7" y="423.3" width="7" height="6.3" fill="#08366a"/>
<rect x="488.6" y="423.3" width="7" height="6.3" fill="#08366a"/>
<rect x="495.5" y="423.3" width="7" height="6.3" fill="#08366a"/>
<rect x="502.4" y="423.3" width="7" height="6.3" fill="#08366a"/>
<rect x="509.2" y="423.3" width="7" height="6.3" fill="#073467"/>
<rect x="516.1" y="423.3" width="7" height="6.3" fill="#073467"/>
<rect x="523.0" y="423.3" width="7" height="6.3" fill="#073467"/>
<rect x="529.9" y="423.3" width="7" height="6.3" fill="#073467"/>
<rect x="536.8" y="423.3" width="7" height="6.3" fill="#073467"/>
<rect x="543.7" y="423.3" width="7" height="6.3" fill="#073467"/>
<rect x="550.5" y="423.3" width="7" height="6.3" fill="#073467"/>
<rect x="557.4" y="423.3" width="7" height="6.3" fill="#073467"/>
<rect x="564.3" y="423.3" width="7" height="6.3" fill="#073467"/>
<rect x="571.2" y="423.3" width="7" height="6.3" fill="#073467"/>
<rect x="578.1" y="423.3" width="7" height="6.3" fill="#073467"/>
<rect x="585.0" y="423.3" width="7" height="6.3" fill="#073467"/>
<rect x="591.8" y="423.3" width="7" height="6.3" fill="#073467"/>
<rect x="598.7" y="423.3" width="7" height="6.3" fill="#073467"/>
<rect x="605.6" y="423.3" width="7" height="6.3" fill="#073467"/>
<rect x="130.6" y="417.0" width="7" height="6.3" fill="#0d3f76"/>
<rect x="137.5" y="417.0" width="7" height="6.3" fill="#0d3f76"/>
<rect x="144.4" y="417.0" width="7" height="6.3" fill="#0d3f76"/>
<rect x="151.3" y="417.0" width="7" height="6.3" fill="#0d3f76"/>
<rect x="158.2" y="417.0" width="7" height="6.3" fill="#0d3f76"/>
<rect x="165.0" y="417.0" width="7" height="6.3" fill="#0d3f76"/>
<rect x="171.9" y="417.0" width="7" height="6.3" fill="#0d3f76"/>
<rect x="178.8" y="417.0" width="7" height="6.3" fill="#0d3f76"/>
<rect x="185.7" y="417.0" width="7" height="6.3" fill="#0d3f76"/>
<rect x="192.6" y="417.0" width="7" height="6.3" fill="#0d3f76"/>
<rect x="199.5" y="417.0" width="7" height="6.3" fill="#0d3f76"/>
<rect x="206.3" y="417.0" width="7" height="6.3" fill="#0d3f76"/>
<rect x="213.2" y="417.0" width="7" height="6.3" fill="#0d3f76"/>
<rect x="220.1" y="417.0" width="7" height="6.3" fill="#0d3f76"/>
<rect x="227.0" y="417.0" width="7" height="6.3" fill="#0d3f76"/>
<rect x="233.9" y="417.0" width="7" height="6.3" fill="#0d3f76"/>
<rect x="240.8" y="417.0" width="7" height="6.3" fill="#0d3f76"/>
<rect x="247.6" y="417.0" width="7" height="6.3" fill="#0d3f76"/>
<rect x="254.5" y="417.0" width="7" height="6.3" fill="#0d3f76"/>
<rect x="261.4" y="417.0" width="7" height="6.3" fill="#0d3f76"/>
<rect x="268.3" y="417.0" width="7" height="6.3" fill="#0d3f76"/>
<rect x="275.2" y="417.0" width="7" height="6.3" fill="#0d3f76"/>
<rect x="282.1" y="417.0" width="7" height="6.3" fill="#0d3f76"/>
<rect x="288.9" y="417.0" width="7" height="6.3" fill="#0d3f76"/>
<rect x="295.8" y="417.0" width="7" height="6.3" fill="#0d3f76"/>
<rect x="302.7" y="417.0" width="7" height="6.3" fill="#0d3f76"/>
<rect x="309.6" y="417.0" width="7" height="6.3" fill="#0d3f76"/>
<rect x="316.5" y="417.0" width="7" height="6.3" fill="#0d3f76"/>
<rect x="323.4" y="417.0" width="7" height="6.3" fill="#0d3f76"/>
<rect x="330.3" y="417.0" width="7" height="6.3" fill="#0d3f76"/>
<rect x="337.1" y="417.0" width="7" height="6.3" fill="#0d3f76"/>
<rect x="344.0" y="417.0" width="7" height="6.3" fill="#0d3f76"/>
<rect x="350.9" y="417.0" width="7" height="6.3" fill="#0d3f76"/>
<rect x="357.8" y="417.0" width="7" height="6.3" fill="#0d3f76"/>
<rect x="364.7" y="417.0" width="7" height="6.3" fill="#0d3f76"/>
<rect x="371.6" y="417.0" width="7" height="6.3" fill="#0c3d73"/>
<rect x="378.4" y="417.0" width="7" height="6.3" fill="#0c3d73"/>
<rect x="385.3" y="417.0" width="7" height="6.3" fill="#0c3d73"/>
<rect x="392.2" y="417.0" width="7" height="6.3" fill="#0c3d73"/>
<rect x="399.1" y="417.0" width="7" height="6.3" fill="#0c3d73"/>
<rect x="406.0" y="417.0" width="7" height="6.3" fill="#0c3d73"/>
<rect x="412.9" y="417.0" width="7" height="6.3" fill="#0a3b70"/>
<rect x="419.7" y="417.0" width="7" height="6.3" fill="#0a3b70"/>
<rect x="426.6" y="417.0" width="7" height="6.3" fill="#0a3b70"/>
<rect x="433.5" y="417.0" width="7" height="6.3" fill="#0a3b70"/>
<rect x="440.4" y="417.0" width="7" height="6.3" fill="#09386d"/>
<rect x="447.3" y="417.0" width="7" height="6.3" fill="#09386d"/>
<rect x="454.2" y="417.0" width="7" height="6.3" fill="#09386d"/>
<rect x="461.0" y="417.0" width="7" height="6.3" fill="#09386d"/>
<rect x="467.9" y="417.0" width="7" height="6.3" fill="#08366a"/>
<rect x="474.8" y="417.0" width="7" height="6.3" fill="#08366a"/>
<rect x="481.7" y="417.0" width="7" height="6.3" fill="#08366a"/>
<rect x="488.6" y="417.0" width="7" height="6.3" fill="#08366a"/>
<rect x="495.5" y="417.0" width="7" height="6.3" fill="#08366a"/>
<rect x="502.4" y="417.0" width="7" height="6.3" fill="#08366a"/>
<rect x="509.2" y="417.0" width="7" height="6.3" fill="#073467"/>
<rect x="516.1" y="417.0" width="7" height="6.3" fill="#073467"/>
<rect x="523.0" y="417.0" width="7" height="6.3" fill="#073467"/>
<rect x="529.9" y="417.0" width="7" height="6.3" fill="#073467"/>
<rect x="536.8" y="417.0" width="7" height="6.3" fill="#073467"/>
<rect x="543.7" y="417.0" width="7" height="6.3" fill="#073467"/>
<rect x="550.5" y="417.0" width="7" height="6.3" fill="#073467"/>
<rect x="557.4" y="417.0" width="7" height="6.3" fill="#073467"/>
<rect x="564.3" y="417.0" width="7" height="6.3" fill="#073467"/>
<rect x="571.2" y="417.0" width="7" height="6.3" fill="#073467"/>
<rect x="578.1" y="417.0" width="7" height="6.3" fill="#073467"/>
<rect x="585.0" y="417.0" width="7" height="6.3" fill="#073467"/>
<rect x="591.8" y="417.0" width="7" height="6.3" fill="#073467"/>
<rect x="598.7" y="417.0" width="7" height="6.3" fill="#073467"/>
<rect x="605.6" y="417.0" width="7" height="6.3" fill="#073467"/>
<rect x="130.6" y="410.8" width="7" height="6.3" fill="#0d3f76"/>
<rect x="137.5" y="410.8" width="7" height="6.3" fill="#0d3f76"/>
<rect x="144.4" y="410.8" width="7" height="6.3" fill="#0d3f76"/>
<rect x="151.3" y="410.8" width="7" height="6.3" fill="#0d3f76"/>
<rect x="158.2" y="410.8" width="7" height="6.3" fill="#0d3f76"/>
<rect x="165.0" y="410.8" width="7" height="6.3" fill="#0d3f76"/>
<rect x="171.9" y="410.8" width="7" height="6.3" fill="#0d3f76"/>
<rect x="178.8" y="410.8" width="7" height="6.3" fill="#0d3f76"/>
<rect x="185.7" y="410.8" width="7" height="6.3" fill="#0d3f76"/>
<rect x="192.6" y="410.8" width="7" height="6.3" fill="#0d3f76"/>
<rect x="199.5" y="410.8" width="7" height="6.3" fill="#0d3f76"/>
<rect x="206.3" y="410.8" width="7" height="6.3" fill="#0d3f76"/>
<rect x="213.2" y="410.8" width="7" height="6.3" fill="#0d3f76"/>
<rect x="220.1" y="410.8" width="7" height="6.3" fill="#0d3f76"/>
<rect x="227.0" y="410.8" width="7" height="6.3" fill="#0d3f76"/>
<rect x="233.9" y="410.8" width="7" height="6.3" fill="#0d3f76"/>
<rect x="240.8" y="410.8" width="7" height="6.3" fill="#0d3f76"/>
<rect x="247.6" y="410.8" width="7" height="6.3" fill="#0d3f76"/>
<rect x="254.5" y="410.8" width="7" height="6.3" fill="#0d3f76"/>
<rect x="261.4" y="410.8" width="7" height="6.3" fill="#0d3f76"/>
<rect x="268.3" y="410.8" width="7" height="6.3" fill="#0d3f76"/>
<rect x="275.2" y="410.8" width="7" height="6.3" fill="#0d3f76"/>
<rect x="282.1" y="410.8" width="7" height="6.3" fill="#0d3f76"/>
<rect x="288.9" y="410.8" width="7" height="6.3" fill="#0d3f76"/>
<rect x="295.8" y="410.8" width="7" height="6.3" fill="#0d3f76"/>
<rect x="302.7" y="410.8" width="7" height="6.3" fill="#0d3f76"/>
<rect x="309.6" y="410.8" width="7" height="6.3" fill="#0d3f76"/>
<rect x="316.5" y="410.8" width="7" height="6.3" fill="#0d3f76"/>
<rect x="323.4" y="410.8" width="7" height="6.3" fill="#0d3f76"/>
<rect x="330.3" y="410.8" width="7" height="6.3" fill="#0d3f76"/>
<rect x="337.1" y="410.8" width="7" height="6.3" fill="#0c3d73"/>
<rect x="344.0" y="410.8" width="7" height="6.3" fill="#0c3d73"/>
<rect x="350.9" y="410.8" width="7" height="6.3" fill="#0c3d73"/>
<rect x="357.8" y="410.8" width="7" height="6.3" fill="#0c3d73"/>
<rect x="364.7" y="410.8" width="7" height="6.3" fill="#0c3d73"/>
<rect x="371.6" y="410.8" width="7" height="6.3" fill="#0c3d73"/>
<rect x="378.4" y="410.8" width="7" height="6.3" fill="#0c3d73"/>
<rect x="385.3" y="410.8" width="7" height="6.3" fill="#0c3d73"/>
<rect x="392.2" y="410.8" width="7" height="6.3" fill="#0c3d73"/>
<rect x="399.1" y="410.8" width="7" height="6.3" fill="#0a3b70"/>
<rect x="406.0" y="410.8" width="7" height="6.3" fill="#0a3b70"/>
<rect x="412.9" y="410.8" width="7" height="6.3" fill="#0a3b70"/>
<rect x="419.7" y="410.8" width="7" height="6.3" fill="#0a3b70"/>
<rect x="426.6" y="410.8" width="7" height="6.3" fill="#0a3b70"/>
<rect x="433.5" y="410.8" width="7" height="6.3" fill="#09386d"/>
<rect x="440.4" y="410.8" width="7" height="6.3" fill="#09386d"/>
<rect x="447.3" y="410.8" width="7" height="6.3" fill="#09386d"/>
<rect x="454.2" y="410.8" width="7" height="6.3" fill="#09386d"/>
<rect x="461.0" y="410.8" width="7" height="6.3" fill="#08366a"/>
<rect x="467.9" y="410.8" width="7" height="6.3" fill="#08366a"/>
<rect x="474.8" y="410.8" width="7" height="6.3" fill="#08366a"/>
<rect x="481.7" y="410.8" width="7" height="6.3" fill="#08366a"/>
<rect x="488.6" y="410.8" width="7" height="6.3" fill="#08366a"/>
<rect x="495.5" y="410.8" width="7" height="6.3" fill="#08366a"/>
<rect x="502.4" y="410.8" width="7" height="6.3" fill="#08366a"/>
<rect x="509.2" y="410.8" width="7" height="6.3" fill="#073467"/>
<rect x="516.1" y="410.8" width="7" height="6.3" fill="#073467"/>
<rect x="523.0" y="410.8" width="7" height="6.3" fill="#073467"/>
<rect x="529.9" y="410.8" width="7" height="6.3" fill="#073467"/>
<rect x="536.8" y="410.8" width="7" height="6.3" fill="#073467"/>
<rect x="543.7" y="410.8" width="7" height="6.3" fill="#073467"/>
<rect x="550.5" y="410.8" width="7" height="6.3" fill="#073467"/>
<rect x="557.4" y="410.8" width="7" height="6.3" fill="#073467"/>
<rect x="564.3" y="410.8" width="7" height="6.3" fill="#073467"/>
<rect x="571.2" y="410.8" width="7" height="6.3" fill="#073467"/>
<rect x="578.1" y="410.8" width="7" height="6.3" fill="#073467"/>
<rect x="585.0" y="410.8" width="7" height="6.3" fill="#073467"/>
<rect x="591.8" y="410.8" width="7" height="6.3" fill="#073467"/>
<rect x="598.7" y="410.8" width="7" height="6.3" fill="#073467"/>
<rect x="605.6" y="410.8" width="7" height="6.3" fill="#073467"/>
<rect x="130.6" y="404.6" width="7" height="6.3" fill="#0c3d73"/>
<rect x="137.5" y="404.6" width="7" height="6.3" fill="#0c3d73"/>
<rect x="144.4" y="404.6" width="7" height="6.3" fill="#0c3d73"/>
<rect x="151.3" y="404.6" width="7" height="6.3" fill="#0c3d73"/>
<rect x="158.2" y="404.6" width="7" height="6.3" fill="#0c3d73"/>
<rect x="165.0" y="404.6" width="7" height="6.3" fill="#0c3d73"/>
<rect x="171.9" y="404.6" width="7" height="6.3" fill="#0c3d73"/>
<rect x="178.8" y="404.6" width="7" height="6.3" fill="#0c3d73"/>
<rect x="185.7" y="404.6" width="7" height="6.3" fill="#0c3d73"/>
<rect x="192.6" y="404.6" width="7" height="6.3" fill="#0c3d73"/>
<rect x="199.5" y="404.6" width="7" height="6.3" fill="#0c3d73"/>
<rect x="206.3" y="404.6" width="7" height="6.3" fill="#0c3d73"/>
<rect x="213.2" y="404.6" width="7" height="6.3" fill="#0c3d73"/>
<rect x="220.1" y="404.6" width="7" height="6.3" fill="#0c3d73"/>
<rect x="227.0" y="404.6" width="7" height="6.3" fill="#0c3d73"/>
<rect x="233.9" y="404.6" width="7" height="6.3" fill="#0c3d73"/>
<rect x="240.8" y="404.6" width="7" height="6.3" fill="#0c3d73"/>
<rect x="247.6" y="404.6" width="7" height="6.3" fill="#0c3d73"/>
<rect x="254.5" y="404.6" width="7" height="6.3" fill="#0c3d73"/>
<rect x="261.4" y="404.6" width="7" height="6.3" fill="#0c3d73"/>
<rect x="268.3" y="404.6" width="7" height="6.3" fill="#0c3d73"/>
<rect x="275.2" y="404.6" width="7" height="6.3" fill="#0c3d73"/>
<rect x="282.1" y="404.6" width="7" height="6.3" fill="#0c3d73"/>
<rect x="288.9" y="404.6" width="7" height="6.3" fill="#0c3d73"/>
<rect x="295.8" y="404.6" width="7" height="6.3" fill="#0c3d73"/>
<rect x="302.7" y="404.6" width="7" height="6.3" fill="#0c3d73"/>
<rect x="309.6" y="404.6" width="7" height="6.3" fill="#0c3d73"/>
<rect x="316.5" y="404.6" width="7" height="6.3" fill="#0c3d73"/>
<rect x="323.4" y="404.6" width="7" height="6.3" fill="#0c3d73"/>
<rect x="330.3" y="404.6" width="7" height="6.3" fill="#0c3d73"/>
<rect x="337.1" y="404.6" width="7" height="6.3" fill="#0c3d73"/>
<rect x="344.0" y="404.6" width="7" height="6.3" fill="#0c3d73"/>
<rect x="350.9" y="404.6" width="7" height="6.3" fill="#0c3d73"/>
<rect x="357.8" y="404.6" width="7" height="6.3" fill="#0c3d73"/>
<rect x="364.7" y="404.6" width="7" height="6.3" fill="#0c3d73"/>
<rect x="371.6" y="404.6" width="7" height="6.3" fill="#0c3d73"/>
<rect x="378.4" y="404.6" width="7" height="6.3" fill="#0a3b70"/>
<rect x="385.3" y="404.6" width="7" height="6.3" fill="#0a3b70"/>
<rect x="392.2" y="404.6" width="7" height="6.3" fill="#0a3b70"/>
<rect x="399.1" y="404.6" width="7" height="6.3" fill="#0a3b70"/>
<rect x="406.0" y="404.6" width="7" height="6.3" fill="#0a3b70"/>
<rect x="412.9" y="404.6" width="7" height="6.3" fill="#0a3b70"/>
<rect x="419.7" y="404.6" width="7" height="6.3" fill="#0a3b70"/>
<rect x="426.6" y="404.6" width="7" height="6.3" fill="#09386d"/>
<rect x="433.5" y="404.6" width="7" height="6.3" fill="#09386d"/>
<rect x="440.4" y="404.6" width="7" height="6.3" fill="#09386d"/>
<rect x="447.3" y="404.6" width="7" height="6.3" fill="#09386d"/>
<rect x="454.2" y="404.6" width="7" height="6.3" fill="#09386d"/>
<rect x="461.0" y="404.6" width="7" height="6.3" fill="#08366a"/>
<rect x="467.9" y="404.6" width="7" height="6.3" fill="#08366a"/>
<rect x="474.8" y="404.6" width="7" height="6.3" fill="#08366a"/>
<rect x="481.7" y="404.6" width="7" height="6.3" fill="#08366a"/>
<rect x="488.6" y="404.6" width="7" height="6.3" fill="#08366a"/>
<rect x="495.5" y="404.6" width="7" height="6.3" fill="#08366a"/>
<rect x="502.4" y="404.6" width="7" height="6.3" fill="#08366a"/>
<rect x="509.2" y="404.6" width="7" height="6.3" fill="#073467"/>
<rect x="516.1" y="404.6" width="7" height="6.3" fill="#073467"/>
<rect x="523.0" y="404.6" width="7" height="6.3" fill="#073467"/>
<rect x="529.9" y="404.6" width="7" height="6.3" fill="#073467"/>
<rect x="536.8" y="404.6" width="7" height="6.3" fill="#073467"/>
<rect x="543.7" y="404.6" width="7" height="6.3" fill="#073467"/>
<rect x="550.5" y="404.6" width="7" height="6.3" fill="#073467"/>
<rect x="557.4" y="404.6" width="7" height="6.3" fill="#073467"/>
<rect x="564.3" y="404.6" width="7" height="6.3" fill="#073467"/>
<rect x="571.2" y="404.6" width="7" height="6.3" fill="#073467"/>
<rect x="578.1" y="404.6" width="7" height="6.3" fill="#073467"/>
<rect x="585.0" y="404.6" width="7" height="6.3" fill="#073467"/>
<rect x="591.8" y="404.6" width="7" height="6.3" fill="#073467"/>
<rect x="598.7" y="404.6" width="7" height="6.3" fill="#063264"/>
<rect x="605.6" y="404.6" width="7" height="6.3" fill="#063264"/>
<rect x="130.6" y="398.4" width="7" height="6.3" fill="#0c3d73"/>
<rect x="137.5" y="398.4" width="7" height="6.3" fill="#0c3d73"/>
<rect x="144.4" y="398.4" width="7" height="6.3" fill="#0c3d73"/>
<rect x="151.3" y="398.4" width="7" height="6.3" fill="#0c3d73"/>
<rect x="158.2" y="398.4" width="7" height="6.3" fill="#0c3d73"/>
<rect x="165.0" y="398.4" width="7" height="6.3" fill="#0c3d73"/>
<rect x="171.9" y="398.4" width="7" height="6.3" fill="#0c3d73"/>
<rect x="178.8" y="398.4" width="7" height="6.3" fill="#0c3d73"/>
<rect x="185.7" y="398.4" width="7" height="6.3" fill="#0c3d73"/>
<rect x="192.6" y="398.4" width="7" height="6.3" fill="#0c3d73"/>
<rect x="199.5" y="398.4" width="7" height="6.3" fill="#0c3d73"/>
<rect x="206.3" y="398.4" width="7" height="6.3" fill="#0c3d73"/>
<rect x="213.2" y="398.4" width="7" height="6.3" fill="#0c3d73"/>
<rect x="220.1" y="398.4" width="7" height="6.3" fill="#0c3d73"/>
<rect x="227.0" y="398.4" width="7" height="6.3" fill="#0c3d73"/>
<rect x="233.9" y="398.4" width="7" height="6.3" fill="#0c3d73"/>
<rect x="240.8" y="398.4" width="7" height="6.3" fill="#0c3d73"/>
<rect x="247.6" y="398.4" width="7" height="6.3" fill="#0c3d73"/>
<rect x="254.5" y="398.4" width="7" height="6.3" fill="#0c3d73"/>
<rect x="261.4" y="398.4" width="7" height="6.3" fill="#0c3d73"/>
<rect x="268.3" y="398.4" width="7" height="6.3" fill="#0c3d73"/>
<rect x="275.2" y="398.4" width="7" height="6.3" fill="#0c3d73"/>
<rect x="282.1" y="398.4" width="7" height="6.3" fill="#0c3d73"/>
<rect x="288.9" y="398.4" width="7" height="6.3" fill="#0c3d73"/>
<rect x="295.8" y="398.4" width="7" height="6.3" fill="#0c3d73"/>
<rect x="302.7" y="398.4" width="7" height="6.3" fill="#0c3d73"/>
<rect x="309.6" y="398.4" width="7" height="6.3" fill="#0c3d73"/>
<rect x="316.5" y="398.4" width="7" height="6.3" fill="#0c3d73"/>
<rect x="323.4" y="398.4" width="7" height="6.3" fill="#0c3d73"/>
<rect x="330.3" y="398.4" width="7" height="6.3" fill="#0c3d73"/>
<rect x="337.1" y="398.4" width="7" height="6.3" fill="#0c3d73"/>
<rect x="344.0" y="398.4" width="7" height="6.3" fill="#0c3d73"/>
<rect x="350.9" y="398.4" width="7" height="6.3" fill="#0c3d73"/>
<rect x="357.8" y="398.4" width="7" height="6.3" fill="#0a3b70"/>
<rect x="364.7" y="398.4" width="7" height="6.3" fill="#0a3b70"/>
<rect x="371.6" y="398.4" width="7" height="6.3" fill="#0a3b70"/>
<rect x="378.4" y="398.4" width="7" height="6.3" fill="#0a3b70"/>
<rect x="385.3" y="398.4" width="7" height="6.3" fill="#0a3b70"/>
<rect x="392.2" y="398.4" width="7" height="6.3" fill="#0a3b70"/>
<rect x="399.1" y="398.4" width="7" height="6.3" fill="#0a3b70"/>
<rect x="406.0" y="398.4" width="7" height="6.3" fill="#0a3b70"/>
<rect x="412.9" y="398.4" width="7" height="6.3" fill="#0a3b70"/>
<rect x="419.7" y="398.4" width="7" height="6.3" fill="#09386d"/>
<rect x="426.6" y="398.4" width="7" height="6.3" fill="#09386d"/>
<rect x="433.5" y="398.4" width="7" height="6.3" fill="#09386d"/>
<rect x="440.4" y="398.4" width="7" height="6.3" fill="#09386d"/>
<rect x="447.3" y="398.4" width="7" height="6.3" fill="#09386d"/>
<rect x="454.2" y="398.4" width="7" height="6.3" fill="#08366a"/>
<rect x="461.0" y="398.4" width="7" height="6.3" fill="#08366a"/>
<rect x="467.9" y="398.4" width="7" height="6.3" fill="#08366a"/>
<rect x="474.8" y="398.4" width="7" height="6.3" fill="#08366a"/>
<rect x="481.7" y="398.4" width="7" height="6.3" fill="#08366a"/>
<rect x="488.6" y="398.4" width="7" height="6.3" fill="#08366a"/>
<rect x="495.5" y="398.4" width="7" height="6.3" fill="#08366a"/>
<rect x="502.4" y="398.4" width="7" height="6.3" fill="#08366a"/>
<rect x="509.2" y="398.4" width="7" height="6.3" fill="#073467"/>
<rect x="516.1" y="398.4" width="7" height="6.3" fill="#073467"/>
<rect x="523.0" y="398.4" width="7" height="6.3" fill="#073467"/>
<rect x="529.9" y="398.4" width="7" height="6.3" fill="#073467"/>
<rect x="536.8" y="398.4" width="7" height="6.3" fill="#073467"/>
<rect x="543.7" y="398.4" width="7" height="6.3" fill="#073467"/>
<rect x="550.5" y="398.4" width="7" height="6.3" fill="#073467"/>
<rect x="557.4" y="398.4" width="7" height="6.3" fill="#073467"/>
<rect x="564.3" y="398.4" width="7" height="6.3" fill="#073467"/>
<rect x="571.2" y="398.4" width="7" height="6.3" fill="#073467"/>
<rect x="578.1" y="398.4" width="7" height="6.3" fill="#073467"/>
<rect x="585.0" y="398.4" width="7" height="6.3" fill="#073467"/>
<rect x="591.8" y="398.4" width="7" height="6.3" fill="#063264"/>
<rect x="598.7" y="398.4" width="7" height="6.3" fill="#063264"/>
<rect x="605.6" y="398.4" width="7" height="6.3" fill="#063264"/>
<rect x="130.6" y="392.2" width="7" height="6.3" fill="#0a3b70"/>
<rect x="137.5" y="392.2" width="7" height="6.3" fill="#0a3b70"/>
<rect x="144.4" y="392.2" width="7" height="6.3" fill="#0a3b70"/>
<rect x="151.3" y="392.2" width="7" height="6.3" fill="#0a3b70"/>
<rect x="158.2" y="392.2" width="7" height="6.3" fill="#0a3b70"/>
<rect x="165.0" y="392.2" width="7" height="6.3" fill="#0a3b70"/>
<rect x="171.9" y="392.2" width="7" height="6.3" fill="#0a3b70"/>
<rect x="178.8" y="392.2" width="7" height="6.3" fill="#0a3b70"/>
<rect x="185.7" y="392.2" width="7" height="6.3" fill="#0a3b70"/>
<rect x="192.6" y="392.2" width="7" height="6.3" fill="#0a3b70"/>
<rect x="199.5" y="392.2" width="7" height="6.3" fill="#0a3b70"/>
<rect x="206.3" y="392.2" width="7" height="6.3" fill="#0a3b70"/>
<rect x="213.2" y="392.2" width="7" height="6.3" fill="#0a3b70"/>
<rect x="220.1" y="392.2" width="7" height="6.3" fill="#0a3b70"/>
<rect x="227.0" y="392.2" width="7" height="6.3" fill="#0a3b70"/>
<rect x="233.9" y="392.2" width="7" height="6.3" fill="#0a3b70"/>
<rect x="240.8" y="392.2" width="7" height="6.3" fill="#0a3b70"/>
<rect x="247.6" y="392.2" width="7" height="6.3" fill="#0a3b70"/>
<rect x="254.5" y="392.2" width="7" height="6.3" fill="#0a3b70"/>
<rect x="261.4" y="392.2" width="7" height="6.3" fill="#0a3b70"/>
<rect x="268.3" y="392.2" width="7" height="6.3" fill="#0a3b70"/>
<rect x="275.2" y="392.2" width="7" height="6.3" fill="#0a3b70"/>
<rect x="282.1" y="392.2" width="7" height="6.3" fill="#0a3b70"/>
<rect x="288.9" y="392.2" width="7" height="6.3" fill="#0a3b70"/>
<rect x="295.8" y="392.2" width="7" height="6.3" fill="#0a3b70"/>
<rect x="302.7" y="392.2" width="7" height="6.3" fill="#0a3b70"/>
<rect x="309.6" y="392.2" width="7" height="6.3" fill="#0a3b70"/>
<rect x="316.5" y="392.2" width="7" height="6.3" fill="#0a3b70"/>
<rect x="323.4" y="392.2" width="7" height="6.3" fill="#0a3b70"/>
<rect x="330.3" y="392.2" width="7" height="6.3" fill="#0a3b70"/>
<rect x="337.1" y="392.2" width="7" height="6.3" fill="#0a3b70"/>
<rect x="344.0" y="392.2" width="7" height="6.3" fill="#0a3b70"/>
<rect x="350.9" y="392.2" width="7" height="6.3" fill="#0a3b70"/>
<rect x="357.8" y="392.2" width="7" height="6.3" fill="#0a3b70"/>
<rect x="364.7" y="392.2" width="7" height="6.3" fill="#0a3b70"/>
<rect x="371.6" y="392.2" width="7" height="6.3" fill="#0a3b70"/>
<rect x="378.4" y="392.2" width="7" height="6.3" fill="#0a3b70"/>
<rect x="385.3" y="392.2" width="7" height="6.3" fill="#0a3b70"/>
<rect x="392.2" y="392.2" width="7" height="6.3" fill="#0a3b70"/>
<rect x="399.1" y="392.2" width="7" height="6.3" fill="#09386d"/>
<rect x="406.0" y="392.2" width="7" height="6.3" fill="#09386d"/>
<rect x="412.9" y="392.2" width="7" height="6.3" fill="#09386d"/>
<rect x="419.7" y="392.2" width="7" height="6.3" fill="#09386d"/>
<rect x="426.6" y="392.2" width="7" height="6.3" fill="#09386d"/>
<rect x="433.5" y="392.2" width="7" height="6.3" fill="#09386d"/>
<rect x="440.4" y="392.2" width="7" height="6.3" fill="#09386d"/>
<rect x="447.3" y="392.2" width="7" height="6.3" fill="#09386d"/>
<rect x="454.2" y="392.2" width="7" height="6.3" fill="#08366a"/>
<rect x="461.0" y="392.2" width="7" height="6.3" fill="#08366a"/>
<rect x="467.9" y="392.2" width="7" height="6.3" fill="#08366a"/>
<rect x="474.8" y="392.2" width="7" height="6.3" fill="#08366a"/>
<rect x="481.7" y="392.2" width="7" height="6.3" fill="#08366a"/>
<rect x="488.6" y="392.2" width="7" height="6.3" fill="#08366a"/>
<rect x="495.5" y="392.2" width="7" height="6.3" fill="#08366a"/>
<rect x="502.4" y="392.2" width="7" height="6.3" fill="#073467"/>
<rect x="509.2" y="392.2" width="7" height="6.3" fill="#073467"/>
<rect x="516.1" y="392.2" width="7" height="6.3" fill="#073467"/>
<rect x="523.0" y="392.2" width="7" height="6.3" fill="#073467"/>
<rect x="529.9" y="392.2" width="7" height="6.3" fill="#073467"/>
<rect x="536.8" y="392.2" width="7" height="6.3" fill="#073467"/>
<rect x="543.7" y="392.2" width="7" height="6.3" fill="#073467"/>
<rect x="550.5" y="392.2" width="7" height="6.3" fill="#073467"/>
<rect x="557.4" y="392.2" width="7" height="6.3" fill="#073467"/>
<rect x="564.3" y="392.2" width="7" height="6.3" fill="#073467"/>
<rect x="571.2" y="392.2" width="7" height="6.3" fill="#073467"/>
<rect x="578.1" y="392.2" width="7" height="6.3" fill="#073467"/>
<rect x="585.0" y="392.2" width="7" height="6.3" fill="#063264"/>
<rect x="591.8" y="392.2" width="7" height="6.3" fill="#063264"/>
<rect x="598.7" y="392.2" width="7" height="6.3" fill="#063264"/>
<rect x="605.6" y="392.2" width="7" height="6.3" fill="#063264"/>
<rect x="130.6" y="385.9" width="7" height="6.3" fill="#0a3b70"/>
<rect x="137.5" y="385.9" width="7" height="6.3" fill="#0a3b70"/>
<rect x="144.4" y="385.9" width="7" height="6.3" fill="#0a3b70"/>
<rect x="151.3" y="385.9" width="7" height="6.3" fill="#0a3b70"/>
<rect x="158.2" y="385.9" width="7" height="6.3" fill="#0a3b70"/>
<rect x="165.0" y="385.9" width="7" height="6.3" fill="#0a3b70"/>
<rect x="171.9" y="385.9" width="7" height="6.3" fill="#0a3b70"/>
<rect x="178.8" y="385.9" width="7" height="6.3" fill="#0a3b70"/>
<rect x="185.7" y="385.9" width="7" height="6.3" fill="#0a3b70"/>
<rect x="192.6" y="385.9" width="7" height="6.3" fill="#0a3b70"/>
<rect x="199.5" y="385.9" width="7" height="6.3" fill="#0a3b70"/>
<rect x="206.3" y="385.9" width="7" height="6.3" fill="#0a3b70"/>
<rect x="213.2" y="385.9" width="7" height="6.3" fill="#0a3b70"/>
<rect x="220.1" y="385.9" width="7" height="6.3" fill="#0a3b70"/>
<rect x="227.0" y="385.9" width="7" height="6.3" fill="#0a3b70"/>
<rect x="233.9" y="385.9" width="7" height="6.3" fill="#0a3b70"/>
<rect x="240.8" y="385.9" width="7" height="6.3" fill="#0a3b70"/>
<rect x="247.6" y="385.9" width="7" height="6.3" fill="#0a3b70"/>
<rect x="254.5" y="385.9" width="7" height="6.3" fill="#0a3b70"/>
<rect x="261.4" y="385.9" width="7" height="6.3" fill="#0a3b70"/>
<rect x="268.3" y="385.9" width="7" height="6.3" fill="#0a3b70"/>
<rect x="275.2" y="385.9" width="7" height="6.3" fill="#0a3b70"/>
<rect x="282.1" y="385.9" width="7" height="6.3" fill="#0a3b70"/>
<rect x="288.9" y="385.9" width="7" height="6.3" fill="#0a3b70"/>
<rect x="295.8" y="385.9" width="7" height="6.3" fill="#0a3b70"/>
<rect x="302.7" y="385.9" width="7" height="6.3" fill="#0a3b70"/>
<rect x="309.6" y="385.9" width="7" height="6.3" fill="#0a3b70"/>
<rect x="316.5" y="385.9" width="7" height="6.3" fill="#0a3b70"/>
<rect x="323.4" y="385.9" width="7" height="6.3" fill="#0a3b70"/>
<rect x="330.3" y="385.9" width="7" height="6.3" fill="#0a3b70"/>
<rect x="337.1" y="385.9" width="7" height="6.3" fill="#0a3b70"/>
<rect x="344.0" y="385.9" width="7" height="6.3" fill="#0a3b70"/>
<rect x="350.9" y="385.9" width="7" height="6.3" fill="#0a3b70"/>
<rect x="357.8" y="385.9" width="7" height="6.3" fill="#0a3b70"/>
<rect x="364.7" y="385.9" width="7" height="6.3" fill="#0a3b70"/>
<rect x="371.6" y="385.9" width="7" height="6.3" fill="#0a3b70"/>
<rect x="378.4" y="385.9" width="7" height="6.3" fill="#09386d"/>
<rect x="385.3" y="385.9" width="7" height="6.3" fill="#09386d"/>
<rect x="392.2" y="385.9" width="7" height="6.3" fill="#09386d"/>
<rect x="399.1" y="385.9" width="7" height="6.3" fill="#09386d"/>
<rect x="406.0" y="385.9" width="7" height="6.3" fill="#09386d"/>
<rect x="412.9" y="385.9" width="7" height="6.3" fill="#09386d"/>
<rect x="419.7" y="385.9" width="7" height="6.3" fill="#09386d"/>
<rect x="426.6" y="385.9" width="7" height="6.3" fill="#09386d"/>
<rect x="433.5" y="385.9" width="7" height="6.3" fill="#09386d"/>
<rect x="440.4" y="385.9" width="7" height="6.3" fill="#09386d"/>
<rect x="447.3" y="385.9" width="7" height="6.3" fill="#08366a"/>
<rect x="454.2" y="385.9" width="7" height="6.3" fill="#08366a"/>
<rect x="461.0" y="385.9" width="7" height="6.3" fill="#08366a"/>
<rect x="467.9" y="385.9" width="7" height="6.3" fill="#08366a"/>
<rect x="474.8" y="385.9" width="7" height="6.3" fill="#08366a"/>
<rect x="481.7" y="385.9" width="7" height="6.3" fill="#08366a"/>
<rect x="488.6" y="385.9" width="7" height="6.3" fill="#08366a"/>
<rect x="495.5" y="385.9" width="7" height="6.3" fill="#08366a"/>
<rect x="502.4" y="385.9" width="7" height="6.3" fill="#073467"/>
<rect x="509.2" y="385.9" width="7" height="6.3" fill="#073467"/>
<rect x="516.1" y="385.9" width="7" height="6.3" fill="#073467"/>
<rect x="523.0" y="385.9" width="7" height="6.3" fill="#073467"/>
<rect x="529.9" y="385.9" width="7" height="6.3" fill="#073467"/>
<rect x="536.8" y="385.9" width="7" height="6.3" fill="#073467"/>
<rect x="543.7" y="385.9" width="7" height="6.3" fill="#073467"/>
<rect x="550.5" y="385.9" width="7" height="6.3" fill="#073467"/>
<rect x="557.4" y="385.9" width="7" height="6.3" fill="#073467"/>
<rect x="564.3" y="385.9" width="7" height="6.3" fill="#073467"/>
<rect x="571.2" y="385.9" width="7" height="6.3" fill="#073467"/>
<rect x="578.1" y="385.9" width="7" height="6.3" fill="#073467"/>
<rect x="585.0" y="385.9" width="7" height="6.3" fill="#063264"/>
<rect x="591.8" y="385.9" width="7" height="6.3" fill="#063264"/>
<rect x="598.7" y="385.9" width="7" height="6.3" fill="#063264"/>
<rect x="605.6" y="385.9" width="7" height="6.3" fill="#063264"/>
<rect x="130.6" y="379.7" width="7" height="6.3" fill="#0a3b70"/>
<rect x="137.5" y="379.7" width="7" height="6.3" fill="#0a3b70"/>
<rect x="144.4" y="379.7" width="7" height="6.3" fill="#0a3b70"/>
<rect x="151.3" y="379.7" width="7" height="6.3" fill="#0a3b70"/>
<rect x="158.2" y="379.7" width="7" height="6.3" fill="#0a3b70"/>
<rect x="165.0" y="379.7" width="7" height="6.3" fill="#0a3b70"/>
<rect x="171.9" y="379.7" width="7" height="6.3" fill="#0a3b70"/>
<rect x="178.8" y="379.7" width="7" height="6.3" fill="#0a3b70"/>
<rect x="185.7" y="379.7" width="7" height="6.3" fill="#0a3b70"/>
<rect x="192.6" y="379.7" width="7" height="6.3" fill="#0a3b70"/>
<rect x="199.5" y="379.7" width="7" height="6.3" fill="#0a3b70"/>
<rect x="206.3" y="379.7" width="7" height="6.3" fill="#0a3b70"/>
<rect x="213.2" y="379.7" width="7" height="6.3" fill="#0a3b70"/>
<rect x="220.1" y="379.7" width="7" height="6.3" fill="#0a3b70"/>
<rect x="227.0" y="379.7" width="7" height="6.3" fill="#0a3b70"/>
<rect x="233.9" y="379.7" width="7" height="6.3" fill="#0a3b70"/>
<rect x="240.8" y="379.7" width="7" height="6.3" fill="#0a3b70"/>
<rect x="247.6" y="379.7" width="7" height="6.3" fill="#0a3b70"/>
<rect x="254.5" y="379.7" width="7" height="6.3" fill="#0a3b70"/>
<rect x="261.4" y="379.7" width="7" height="6.3" fill="#0a3b70"/>
<rect x="268.3" y="379.7" width="7" height="6.3" fill="#0a3b70"/>
<rect x="275.2" y="379.7" width="7" height="6.3" fill="#0a3b70"/>
<rect x="282.1" y="379.7" width="7" height="6.3" fill="#0a3b70"/>
<rect x="288.9" y="379.7" width="7" height="6.3" fill="#0a3b70"/>
<rect x="295.8" y="379.7" width="7" height="6.3" fill="#0a3b70"/>
<rect x="302.7" y="379.7" width="7" height="6.3" fill="#0a3b70"/>
<rect x="309.6" y="379.7" width="7" height="6.3" fill="#0a3b70"/>
<rect x="316.5" y="379.7" width="7" height="6.3" fill="#0a3b70"/>
<rect x="323.4" y="379.7" width="7" height="6.3" fill="#0a3b70"/>
<rect x="330.3" y="379.7" width="7" height="6.3" fill="#0a3b70"/>
<rect x="337.1" y="379.7" width="7" height="6.3" fill="#0a3b70"/>
<rect x="344.0" y="379.7" width="7" height="6.3" fill="#0a3b70"/>
<rect x="350.9" y="379.7" width="7" height="6.3" fill="#09386d"/>
<rect x="357.8" y="379.7" width="7" height="6.3" fill="#09386d"/>
<rect x="364.7" y="379.7" width="7" height="6.3" fill="#09386d"/>
<rect x="371.6" y="379.7" width="7" height="6.3" fill="#09386d"/>
<rect x="378.4" y="379.7" width="7" height="6.3" fill="#09386d"/>
<rect x="385.3" y="379.7" width="7" height="6.3" fill="#09386d"/>
<rect x="392.2" y="379.7" width="7" height="6.3" fill="#09386d"/>
<rect x="399.1" y="379.7" width="7" height="6.3" fill="#09386d"/>
<rect x="406.0" y="379.7" width="7" height="6.3" fill="#09386d"/>
<rect x="412.9" y="379.7" width="7" height="6.3" fill="#09386d"/>
<rect x="419.7" y="379.7" width="7" height="6.3" fill="#09386d"/>
<rect x="426.6" y="379.7" width="7" height="6.3" fill="#09386d"/>
<rect x="433.5" y="379.7" width="7" height="6.3" fill="#09386d"/>
<rect x="440.4" y="379.7" width="7" height="6.3" fill="#08366a"/>
<rect x="447.3" y="379.7" width="7" height="6.3" fill="#08366a"/>
<rect x="454.2" y="379.7" width="7" height="6.3" fill="#08366a"/>
<rect x="461.0" y="379.7" width="7" height="6.3" fill="#08366a"/>
<rect x="467.9" y="379.7" width="7" height="6.3" fill="#08366a"/>
<rect x="474.8" y="379.7" width="7" height="6.3" fill="#08366a"/>
<rect x="481.7" y="379.7" width="7" height="6.3" fill="#08366a"/>
<rect x="488.6" y="379.7" width="7" height="6.3" fill="#08366a"/>
<rect x="495.5" y="379.7" width="7" height="6.3" fill="#073467"/>
<rect x="502.4" y="379.7" width="7" height="6.3" fill="#073467"/>
<rect x="509.2" y="379.7" width="7" height="6.3" fill="#073467"/>
<rect x="516.1" y="379.7" width="7" height="6.3" fill="#073467"/>
<rect x="523.0" y="379.7" width="7" height="6.3" fill="#073467"/>
<rect x="529.9" y="379.7" width="7" height="6.3" fill="#073467"/>
<rect x="536.8" y="379.7" width="7" height="6.3" fill="#073467"/>
<rect x="543.7" y="379.7" width="7" height="6.3" fill="#073467"/>
<rect x="550.5" y="379.7" width="7" height="6.3" fill="#073467"/>
<rect x="557.4" y="379.7" width="7" height="6.3" fill="#073467"/>
<rect x="564.3" y="379.7" width="7" height="6.3" fill="#073467"/>
<rect x="571.2" y="379.7" width="7" height="6.3" fill="#073467"/>
<rect x="578.1" y="379.7" width="7" height="6.3" fill="#073467"/>
<rect x="585.0" y="379.7" width="7" height="6.3" fill="#063264"/>
<rect x="591.8" y="379.7" width="7" height="6.3" fill="#063264"/>
<rect x="598.7" y="379.7" width="7" height="6.3" fill="#063264"/>
<rect x="605.6" y="379.7" width="7" height="6.3" fill="#063264"/>
<rect x="130.6" y="373.5" width="7" height="6.3" fill="#09386d"/>
<rect x="137.5" y="373.5" width="7" height="6.3" fill="#09386d"/>
<rect x="144.4" y="373.5" width="7" height="6.3" fill="#09386d"/>
<rect x="151.3" y="373.5" width="7" height="6.3" fill="#09386d"/>
<rect x="158.2" y="373.5" width="7" height="6.3" fill="#09386d"/>
<rect x="165.0" y="373.5" width="7" height="6.3" fill="#09386d"/>
<rect x="171.9" y="373.5" width="7" height="6.3" fill="#09386d"/>
<rect x="178.8" y="373.5" width="7" height="6.3" fill="#09386d"/>
<rect x="185.7" y="373.5" width="7" height="6.3" fill="#09386d"/>
<rect x="192.6" y="373.5" width="7" height="6.3" fill="#09386d"/>
<rect x="199.5" y="373.5" width="7" height="6.3" fill="#09386d"/>
<rect x="206.3" y="373.5" width="7" height="6.3" fill="#09386d"/>
<rect x="213.2" y="373.5" width="7" height="6.3" fill="#09386d"/>
<rect x="220.1" y="373.5" width="7" height="6.3" fill="#09386d"/>
<rect x="227.0" y="373.5" width="7" height="6.3" fill="#09386d"/>
<rect x="233.9" y="373.5" width="7" height="6.3" fill="#09386d"/>
<rect x="240.8" y="373.5" width="7" height="6.3" fill="#09386d"/>
<rect x="247.6" y="373.5" width="7" height="6.3" fill="#09386d"/>
<rect x="254.5" y="373.5" width="7" height="6.3" fill="#09386d"/>
<rect x="261.4" y="373.5" width="7" height="6.3" fill="#09386d"/>
<rect x="268.3" y="373.5" width="7" height="6.3" fill="#09386d"/>
<rect x="275.2" y="373.5" width="7" height="6.3" fill="#09386d"/>
<rect x="282.1" y="373.5" width="7" height="6.3" fill="#09386d"/>
<rect x="288.9" y="373.5" width="7" height="6.3" fill="#09386d"/>
<rect x="295.8" y="373.5" width="7" height="6.3" fill="#09386d"/>
<rect x="302.7" y="373.5" width="7" height="6.3" fill="#09386d"/>
<rect x="309.6" y="373.5" width="7" height="6.3" fill="#09386d"/>
<rect x="316.5" y="373.5" width="7" height="6.3" fill="#09386d"/>
<rect x="323.4" y="373.5" width="7" height="6.3" fill="#09386d"/>
<rect x="330.3" y="373.5" width="7" height="6.3" fill="#09386d"/>
<rect x="337.1" y="373.5" width="7" height="6.3" fill="#09386d"/>
<rect x="344.0" y="373.5" width="7" height="6.3" fill="#09386d"/>
<rect x="350.9" y="373.5" width="7" height="6.3" fill="#09386d"/>
<rect x="357.8" y="373.5" width="7" height="6.3" fill="#09386d"/>
<rect x="364.7" y="373.5" width="7" height="6.3" fill="#09386d"/>
<rect x="371.6" y="373.5" width="7" height="6.3" fill="#09386d"/>
<rect x="378.4" y="373.5" width="7" height="6.3" fill="#09386d"/>
<rect x="385.3" y="373.5" width="7" height="6.3" fill="#09386d"/>
<rect x="392.2" y="373.5" width="7" height="6.3" fill="#09386d"/>
<rect x="399.1" y="373.5" width="7" height="6.3" fill="#09386d"/>
<rect x="406.0" y="373.5" width="7" height="6.3" fill="#09386d"/>
<rect x="412.9" y="373.5" width="7" height="6.3" fill="#08366a"/>
<rect x="419.7" y="373.5" width="7" height="6.3" fill="#08366a"/>
<rect x="426.6" y="373.5" width="7" height="6.3" fill="#08366a"/>
<rect x="433.5" y="373.5" width="7" height="6.3" fill="#08366a"/>
<rect x="440.4" y="373.5" width="7" height="6.3" fill="#08366a"/>
<rect x="447.3" y="373.5" width="7" height="6.3" fill="#08366a"/>
<rect x="454.2" y="373.5" width="7" height="6.3" fill="#08366a"/>
<rect x="461.0" y="373.5" width="7" height="6.3" fill="#08366a"/>
<rect x="467.9" y="373.5" width="7" height="6.3" fill="#08366a"/>
<rect x="474.8" y="373.5" width="7" height="6.3" fill="#08366a"/>
<rect x="481.7" y="373.5" width="7" height="6.3" fill="#073467"/>
<rect x="488.6" y="373.5" width="7" height="6.3" fill="#073467"/>
<rect x="495.5" y="373.5" width="7" height="6.3" fill="#073467"/>
<rect x="502.4" y="373.5" width="7" height="6.3" fill="#073467"/>
<rect x="509.2" y="373.5" width="7" height="6.3" fill="#073467"/>
<rect x="516.1" y="373.5" width="7" height="6.3" fill="#073467"/>
<rect x="523.0" y="373.5" width="7" height="6.3" fill="#073467"/>
<rect x="529.9" y="373.5" width="7" height="6.3" fill="#073467"/>
<rect x="536.8" y="373.5" width="7" height="6.3" fill="#073467"/>
<rect x="543.7" y="373.5" width="7" height="6.3" fill="#073467"/>
<rect x="550.5" y="373.5" width="7" height="6.3" fill="#073467"/>
<rect x="557.4" y="373.5" width="7" height="6.3" fill="#073467"/>
<rect x="564.3" y="373.5" width="7" height="6.3" fill="#073467"/>
<rect x="571.2" y="373.5" width="7" height="6.3" fill="#073467"/>
<rect x="578.1" y="373.5" width="7" height="6.3" fill="#063264"/>
<rect x="585.0" y="373.5" width="7" height="6.3" fill="#063264"/>
<rect x="591.8" y="373.5" width="7" height="6.3" fill="#063264"/>
<rect x="598.7" y="373.5" width="7" height="6.3" fill="#063264"/>
<rect x="605.6" y="373.5" width="7" height="6.3" fill="#063264"/>
<rect x="130.6" y="367.3" width="7" height="6.3" fill="#09386d"/>
<rect x="137.5" y="367.3" width="7" height="6.3" fill="#09386d"/>
<rect x="144.4" y="367.3" width="7" height="6.3" fill="#09386d"/>
<rect x="151.3" y="367.3" width="7" height="6.3" fill="#09386d"/>
<rect x="158.2" y="367.3" width="7" height="6.3" fill="#09386d"/>
<rect x="165.0" y="367.3" width="7" height="6.3" fill="#09386d"/>
<rect x="171.9" y="367.3" width="7" height="6.3" fill="#09386d"/>
<rect x="178.8" y="367.3" width="7" height="6.3" fill="#09386d"/>
<rect x="185.7" y="367.3" width="7" height="6.3" fill="#09386d"/>
<rect x="192.6" y="367.3" width="7" height="6.3" fill="#09386d"/>
<rect x="199.5" y="367.3" width="7" height="6.3" fill="#09386d"/>
<rect x="206.3" y="367.3" width="7" height="6.3" fill="#09386d"/>
<rect x="213.2" y="367.3" width="7" height="6.3" fill="#09386d"/>
<rect x="220.1" y="367.3" width="7" height="6.3" fill="#09386d"/>
<rect x="227.0" y="367.3" width="7" height="6.3" fill="#09386d"/>
<rect x="233.9" y="367.3" width="7" height="6.3" fill="#09386d"/>
<rect x="240.8" y="367.3" width="7" height="6.3" fill="#09386d"/>
<rect x="247.6" y="367.3" width="7" height="6.3" fill="#09386d"/>
<rect x="254.5" y="367.3" width="7" height="6.3" fill="#09386d"/>
<rect x="261.4" y="367.3" width="7" height="6.3" fill="#09386d"/>
<rect x="268.3" y="367.3" width="7" height="6.3" fill="#09386d"/>
<rect x="275.2" y="367.3" width="7" height="6.3" fill="#09386d"/>
<rect x="282.1" y="367.3" width="7" height="6.3" fill="#09386d"/>
<rect x="288.9" y="367.3" width="7" height="6.3" fill="#09386d"/>
<rect x="295.8" y="367.3" width="7" height="6.3" fill="#09386d"/>
<rect x="302.7" y="367.3" width="7" height="6.3" fill="#09386d"/>
<rect x="309.6" y="367.3" width="7" height="6.3" fill="#09386d"/>
<rect x="316.5" y="367.3" width="7" height="6.3" fill="#09386d"/>
<rect x="323.4" y="367.3" width="7" height="6.3" fill="#09386d"/>
<rect x="330.3" y="367.3" width="7" height="6.3" fill="#09386d"/>
<rect x="337.1" y="367.3" width="7" height="6.3" fill="#09386d"/>
<rect x="344.0" y="367.3" width="7" height="6.3" fill="#09386d"/>
<rect x="350.9" y="367.3" width="7" height="6.3" fill="#09386d"/>
<rect x="357.8" y="367.3" width="7" height="6.3" fill="#09386d"/>
<rect x="364.7" y="367.3" width="7" height="6.3" fill="#09386d"/>
<rect x="371.6" y="367.3" width="7" height="6.3" fill="#09386d"/>
<rect x="378.4" y="367.3" width="7" height="6.3" fill="#08366a"/>
<rect x="385.3" y="367.3" width="7" height="6.3" fill="#08366a"/>
<rect x="392.2" y="367.3" width="7" height="6.3" fill="#08366a"/>
<rect x="399.1" y="367.3" width="7" height="6.3" fill="#08366a"/>
<rect x="406.0" y="367.3" width="7" height="6.3" fill="#08366a"/>
<rect x="412.9" y="367.3" width="7" height="6.3" fill="#08366a"/>
<rect x="419.7" y="367.3" width="7" height="6.3" fill="#08366a"/>
<rect x="426.6" y="367.3" width="7" height="6.3" fill="#08366a"/>
<rect x="433.5" y="367.3" width="7" height="6.3" fill="#08366a"/>
<rect x="440.4" y="367.3" width="7" height="6.3" fill="#08366a"/>
<rect x="447.3" y="367.3" width="7" height="6.3" fill="#08366a"/>
<rect x="454.2" y="367.3" width="7" height="6.3" fill="#08366a"/>
<rect x="461.0" y="367.3" width="7" height="6.3" fill="#08366a"/>
<rect x="467.9" y="367.3" width="7" height="6.3" fill="#08366a"/>
<rect x="474.8" y="367.3" width="7" height="6.3" fill="#073467"/>
<rect x="481.7" y="367.3" width="7" height="6.3" fill="#073467"/>
<rect x="488.6" y="367.3" width="7" height="6.3" fill="#073467"/>
<rect x="495.5" y="367.3" width="7" height="6.3" fill="#073467"/>
<rect x="502.4" y="367.3" width="7" height="6.3" fill="#073467"/>
<rect x="509.2" y="367.3" width="7" height="6.3" fill="#073467"/>
<rect x="516.1" y="367.3" width="7" height="6.3" fill="#073467"/>
<rect x="523.0" y="367.3" width="7" height="6.3" fill="#073467"/>
<rect x="529.9" y="367.3" width="7" height="6.3" fill="#073467"/>
<rect x="536.8" y="367.3" width="7" height="6.3" fill="#073467"/>
<rect x="543.7" y="367.3" width="7" height="6.3" fill="#073467"/>
<rect x="550.5" y="367.3" width="7" height="6.3" fill="#073467"/>
<rect x="557.4" y="367.3" width="7" height="6.3" fill="#073467"/>
<rect x="564.3" y="367.3" width="7" height="6.3" fill="#073467"/>
<rect x="571.2" y="367.3" width="7" height="6.3" fill="#073467"/>
<rect x="578.1" y="367.3" width="7" height="6.3" fill="#063264"/>
<rect x="585.0" y="367.3" width="7" height="6.3" fill="#063264"/>
<rect x="591.8" y="367.3" width="7" height="6.3" fill="#063264"/>
<rect x="598.7" y="367.3" width="7" height="6.3" fill="#063264"/>
<rect x="605.6" y="367.3" width="7" height="6.3" fill="#063264"/>
<rect x="130.6" y="361.1" width="7" height="6.3" fill="#08366a"/>
<rect x="137.5" y="361.1" width="7" height="6.3" fill="#08366a"/>
<rect x="144.4" y="361.1" width="7" height="6.3" fill="#08366a"/>
<rect x="151.3" y="361.1" width="7" height="6.3" fill="#08366a"/>
<rect x="158.2" y="361.1" width="7" height="6.3" fill="#08366a"/>
<rect x="165.0" y="361.1" width="7" height="6.3" fill="#08366a"/>
<rect x="171.9" y="361.1" width="7" height="6.3" fill="#08366a"/>
<rect x="178.8" y="361.1" width="7" height="6.3" fill="#08366a"/>
<rect x="185.7" y="361.1" width="7" height="6.3" fill="#08366a"/>
<rect x="192.6" y="361.1" width="7" height="6.3" fill="#08366a"/>
<rect x="199.5" y="361.1" width="7" height="6.3" fill="#08366a"/>
<rect x="206.3" y="361.1" width="7" height="6.3" fill="#08366a"/>
<rect x="213.2" y="361.1" width="7" height="6.3" fill="#08366a"/>
<rect x="220.1" y="361.1" width="7" height="6.3" fill="#08366a"/>
<rect x="227.0" y="361.1" width="7" height="6.3" fill="#08366a"/>
<rect x="233.9" y="361.1" width="7" height="6.3" fill="#08366a"/>
<rect x="240.8" y="361.1" width="7" height="6.3" fill="#08366a"/>
<rect x="247.6" y="361.1" width="7" height="6.3" fill="#08366a"/>
<rect x="254.5" y="361.1" width="7" height="6.3" fill="#08366a"/>
<rect x="261.4" y="361.1" width="7" height="6.3" fill="#08366a"/>
<rect x="268.3" y="361.1" width="7" height="6.3" fill="#08366a"/>
<rect x="275.2" y="361.1" width="7" height="6.3" fill="#08366a"/>
<rect x="282.1" y="361.1" width="7" height="6.3" fill="#08366a"/>
<rect x="288.9" y="361.1" width="7" height="6.3" fill="#08366a"/>
<rect x="295.8" y="361.1" width="7" height="6.3" fill="#08366a"/>
<rect x="302.7" y="361.1" width="7" height="6.3" fill="#08366a"/>
<rect x="309.6" y="361.1" width="7" height="6.3" fill="#08366a"/>
<rect x="316.5" y="361.1" width="7" height="6.3" fill="#08366a"/>
<rect x="323.4" y="361.1" width="7" height="6.3" fill="#08366a"/>
<rect x="330.3" y="361.1" width="7" height="6.3" fill="#08366a"/>
<rect x="337.1" y="361.1" width="7" height="6.3" fill="#08366a"/>
<rect x="344.0" y="361.1" width="7" height="6.3" fill="#08366a"/>
<rect x="350.9" y="361.1" width="7" height="6.3" fill="#08366a"/>
<rect x="357.8" y="361.1" width="7" height="6.3" fill="#08366a"/>
<rect x="364.7" y="361.1" width="7" height="6.3" fill="#08366a"/>
<rect x="371.6" y="361.1" width="7" height="6.3" fill="#08366a"/>
<rect x="378.4" y="361.1" width="7" height="6.3" fill="#08366a"/>
<rect x="385.3" y="361.1" width="7" height="6.3" fill="#08366a"/>
<rect x="392.2" y="361.1" width="7" height="6.3" fill="#08366a"/>
<rect x="399.1" y="361.1" width="7" height="6.3" fill="#08366a"/>
<rect x="406.0" y="361.1" width="7" height="6.3" fill="#08366a"/>
<rect x="412.9" y="361.1" width="7" height="6.3" fill="#08366a"/>
<rect x="419.7" y="361.1" width="7" height="6.3" fill="#08366a"/>
<rect x="426.6" y="361.1" width="7" height="6.3" fill="#08366a"/>
<rect x="433.5" y="361.1" width="7" height="6.3" fill="#08366a"/>
<rect x="440.4" y="361.1" width="7" height="6.3" fill="#08366a"/>
<rect x="447.3" y="361.1" width="7" height="6.3" fill="#08366a"/>
<rect x="454.2" y="361.1" width="7" height="6.3" fill="#08366a"/>
<rect x="461.0" y="361.1" width="7" height="6.3" fill="#073467"/>
<rect x="467.9" y="361.1" width="7" height="6.3" fill="#073467"/>
<rect x="474.8" y="361.1" width="7" height="6.3" fill="#073467"/>
<rect x="481.7" y="361.1" width="7" height="6.3" fill="#073467"/>
<rect x="488.6" y="361.1" width="7" height="6.3" fill="#073467"/>
<rect x="495.5" y="361.1" width="7" height="6.3" fill="#073467"/>
<rect x="502.4" y="361.1" width="7" height="6.3" fill="#073467"/>
<rect x="509.2" y="361.1" width="7" height="6.3" fill="#073467"/>
<rect x="516.1" y="361.1" width="7" height="6.3" fill="#073467"/>
<rect x="523.0" y="361.1" width="7" height="6.3" fill="#073467"/>
<rect x="529.9" y="361.1" width="7" height="6.3" fill="#073467"/>
<rect x="536.8" y="361.1" width="7" height="6.3" fill="#073467"/>
<rect x="543.7" y="361.1" width="7" height="6.3" fill="#073467"/>
<rect x="550.5" y="361.1" width="7" height="6.3" fill="#073467"/>
<rect x="557.4" y="361.1" width="7" height="6.3" fill="#073467"/>
<rect x="564.3" y="361.1" width="7" height="6.3" fill="#073467"/>
<rect x="571.2" y="361.1" width="7" height="6.3" fill="#063264"/>
<rect x="578.1" y="361.1" width="7" height="6.3" fill="#063264"/>
<rect x="585.0" y="361.1" width="7" height="6.3" fill="#063264"/>
<rect x="591.8" y="361.1" width="7" height="6.3" fill="#063264"/>
<rect x="598.7" y="361.1" width="7" height="6.3" fill="#063264"/>
<rect x="605.6" y="361.1" width="7" height="6.3" fill="#063264"/>
<rect x="130.6" y="354.8" width="7" height="6.3" fill="#08366a"/>
<rect x="137.5" y="354.8" width="7" height="6.3" fill="#08366a"/>
<rect x="144.4" y="354.8" width="7" height="6.3" fill="#08366a"/>
<rect x="151.3" y="354.8" width="7" height="6.3" fill="#08366a"/>
<rect x="158.2" y="354.8" width="7" height="6.3" fill="#08366a"/>
<rect x="165.0" y="354.8" width="7" height="6.3" fill="#08366a"/>
<rect x="171.9" y="354.8" width="7" height="6.3" fill="#08366a"/>
<rect x="178.8" y="354.8" width="7" height="6.3" fill="#08366a"/>
<rect x="185.7" y="354.8" width="7" height="6.3" fill="#08366a"/>
<rect x="192.6" y="354.8" width="7" height="6.3" fill="#08366a"/>
<rect x="199.5" y="354.8" width="7" height="6.3" fill="#08366a"/>
<rect x="206.3" y="354.8" width="7" height="6.3" fill="#08366a"/>
<rect x="213.2" y="354.8" width="7" height="6.3" fill="#08366a"/>
<rect x="220.1" y="354.8" width="7" height="6.3" fill="#08366a"/>
<rect x="227.0" y="354.8" width="7" height="6.3" fill="#08366a"/>
<rect x="233.9" y="354.8" width="7" height="6.3" fill="#08366a"/>
<rect x="240.8" y="354.8" width="7" height="6.3" fill="#08366a"/>
<rect x="247.6" y="354.8" width="7" height="6.3" fill="#08366a"/>
<rect x="254.5" y="354.8" width="7" height="6.3" fill="#08366a"/>
<rect x="261.4" y="354.8" width="7" height="6.3" fill="#08366a"/>
<rect x="268.3" y="354.8" width="7" height="6.3" fill="#08366a"/>
<rect x="275.2" y="354.8" width="7" height="6.3" fill="#08366a"/>
<rect x="282.1" y="354.8" width="7" height="6.3" fill="#08366a"/>
<rect x="288.9" y="354.8" width="7" height="6.3" fill="#08366a"/>
<rect x="295.8" y="354.8" width="7" height="6.3" fill="#08366a"/>
<rect x="302.7" y="354.8" width="7" height="6.3" fill="#08366a"/>
<rect x="309.6" y="354.8" width="7" height="6.3" fill="#08366a"/>
<rect x="316.5" y="354.8" width="7" height="6.3" fill="#08366a"/>
<rect x="323.4" y="354.8" width="7" height="6.3" fill="#08366a"/>
<rect x="330.3" y="354.8" width="7" height="6.3" fill="#08366a"/>
<rect x="337.1" y="354.8" width="7" height="6.3" fill="#08366a"/>
<rect x="344.0" y="354.8" width="7" height="6.3" fill="#08366a"/>
<rect x="350.9" y="354.8" width="7" height="6.3" fill="#08366a"/>
<rect x="357.8" y="354.8" width="7" height="6.3" fill="#08366a"/>
<rect x="364.7" y="354.8" width="7" height="6.3" fill="#08366a"/>
<rect x="371.6" y="354.8" width="7" height="6.3" fill="#08366a"/>
<rect x="378.4" y="354.8" width="7" height="6.3" fill="#08366a"/>
<rect x="385.3" y="354.8" width="7" height="6.3" fill="#08366a"/>
<rect x="392.2" y="354.8" width="7" height="6.3" fill="#08366a"/>
<rect x="399.1" y="354.8" width="7" height="6.3" fill="#08366a"/>
<rect x="406.0" y="354.8" width="7" height="6.3" fill="#08366a"/>
<rect x="412.9" y="354.8" width="7" height="6.3" fill="#08366a"/>
<rect x="419.7" y="354.8" width="7" height="6.3" fill="#08366a"/>
<rect x="426.6" y="354.8" width="7" height="6.3" fill="#08366a"/>
<rect x="433.5" y="354.8" width="7" height="6.3" fill="#08366a"/>
<rect x="440.4" y="354.8" width="7" height="6.3" fill="#08366a"/>
<rect x="447.3" y="354.8" width="7" height="6.3" fill="#073467"/>
<rect x="454.2" y="354.8" width="7" height="6.3" fill="#073467"/>
<rect x="461.0" y="354.8" width="7" height="6.3" fill="#073467"/>
<rect x="467.9" y="354.8" width="7" height="6.3" fill="#073467"/>
<rect x="474.8" y="354.8" width="7" height="6.3" fill="#073467"/>
<rect x="481.7" y="354.8" width="7" height="6.3" fill="#073467"/>
<rect x="488.6" y="354.8" width="7" height="6.3" fill="#073467"/>
<rect x="495.5" y="354.8" width="7" height="6.3" fill="#073467"/>
<rect x="502.4" y="354.8" width="7" height="6.3" fill="#073467"/>
<rect x="509.2" y="354.8" width="7" height="6.3" fill="#073467"/>
<rect x="516.1" y="354.8" width="7" height="6.3" fill="#073467"/>
<rect x="523.0" y="354.8" width="7" height="6.3" fill="#073467"/>
<rect x="529.9" y="354.8" width="7" height="6.3" fill="#073467"/>
<rect x="536.8" y="354.8" width="7" height="6.3" fill="#073467"/>
<rect x="543.7" y="354.8" width="7" height="6.3" fill="#073467"/>
<rect x="550.5" y="354.8" width="7" height="6.3" fill="#073467"/>
<rect x="557.4" y="354.8" width="7" height="6.3" fill="#073467"/>
<rect x="564.3" y="354.8" width="7" height="6.3" fill="#063264"/>
<rect x="571.2" y="354.8" width="7" height="6.3" fill="#063264"/>
<rect x="578.1" y="354.8" width="7" height="6.3" fill="#063264"/>
<rect x="585.0" y="354.8" width="7" height="6.3" fill="#063264"/>
<rect x="591.8" y="354.8" width="7" height="6.3" fill="#063264"/>
<rect x="598.7" y="354.8" width="7" height="6.3" fill="#063264"/>
<rect x="605.6" y="354.8" width="7" height="6.3" fill="#063264"/>
</g>
<path d="M229.60 491.70C236.90 491.93 244.23 493.33 253.00 496.00C261.77 498.67 272.47 502.82 282.20 507.70C291.93 512.58 302.65 519.45 311.40 525.30C320.15 531.15 327.58 537.10 334.70 542.80C341.82 548.50 348.82 553.88 354.10 559.50C359.38 565.12 363.72 571.53 366.40 576.50C369.08 581.47 369.47 585.88 370.20 589.30C370.93 592.72 370.90 593.85 370.80 597.00C370.70 600.15 370.33 604.12 369.60 608.20C368.87 612.28 367.88 616.77 366.40 621.50C364.92 626.23 362.75 631.87 360.70 636.60C358.65 641.33 356.47 645.48 354.10 649.90C351.73 654.32 348.85 659.17 346.50 663.10C344.15 667.03 340.00 673.50 340.00 673.50C340.00 673.50 333.20 674.17 326.00 675.00C318.80 675.83 305.07 677.52 296.80 678.50C288.53 679.48 283.22 680.90 276.40 680.90C269.58 680.90 261.50 679.87 255.90 678.50C250.30 677.13 246.45 676.10 242.80 672.70C239.15 669.30 236.68 663.45 234.00 658.10C231.32 652.75 229.13 646.93 226.70 640.60C224.27 634.27 222.32 626.92 219.40 620.10C216.48 613.28 212.60 606.02 209.20 599.70C205.80 593.38 202.17 588.52 199.00 582.20C195.83 575.88 192.40 569.10 190.20 561.80C188.00 554.50 186.28 545.70 185.80 538.40C185.32 531.10 185.83 523.60 187.30 518.00C188.77 512.40 190.95 508.70 194.60 504.80C198.25 500.90 203.37 496.78 209.20 494.60C215.03 492.42 222.30 491.47 229.60 491.70Z" fill="#aaaaaa" fill-opacity="0.38" stroke="none"/>
<circle cx="198.80" cy="542.50" r="2.25" fill="#6a6a6a"/>
<circle cx="193.30" cy="554.60" r="2.25" fill="#6a6a6a"/>
<circle cx="251.70" cy="539.20" r="2.25" fill="#6a6a6a"/>
<circle cx="257.40" cy="538.60" r="2.25" fill="#6a6a6a"/>
<circle cx="262.30" cy="540.80" r="2.25" fill="#6a6a6a"/>
<circle cx="278.20" cy="539.50" r="2.25" fill="#6a6a6a"/>
<circle cx="303.20" cy="541.20" r="2.25" fill="#6a6a6a"/>
<circle cx="252.40" cy="544.70" r="2.25" fill="#6a6a6a"/>
<circle cx="268.80" cy="544.30" r="2.25" fill="#6a6a6a"/>
<circle cx="219.60" cy="546.90" r="2.25" fill="#6a6a6a"/>
<circle cx="226.10" cy="545.80" r="2.25" fill="#6a6a6a"/>
<circle cx="241.50" cy="545.80" r="2.25" fill="#6a6a6a"/>
<circle cx="216.30" cy="550.80" r="2.25" fill="#6a6a6a"/>
<circle cx="260.50" cy="551.70" r="2.25" fill="#6a6a6a"/>
<circle cx="269.30" cy="550.80" r="2.25" fill="#6a6a6a"/>
<circle cx="273.20" cy="553.00" r="2.25" fill="#6a6a6a"/>
<circle cx="279.80" cy="550.60" r="2.25" fill="#6a6a6a"/>
<circle cx="305.40" cy="548.60" r="2.25" fill="#6a6a6a"/>
<circle cx="306.00" cy="553.90" r="2.25" fill="#6a6a6a"/>
<circle cx="314.20" cy="554.10" r="2.25" fill="#6a6a6a"/>
<circle cx="334.10" cy="540.30" r="2.25" fill="#6a6a6a"/>
<circle cx="334.50" cy="548.00" r="2.25" fill="#6a6a6a"/>
<circle cx="334.50" cy="553.00" r="2.25" fill="#6a6a6a"/>
<circle cx="223.30" cy="555.70" r="2.25" fill="#6a6a6a"/>
<circle cx="229.40" cy="553.50" r="2.25" fill="#6a6a6a"/>
<circle cx="233.80" cy="553.50" r="2.25" fill="#6a6a6a"/>
<circle cx="242.60" cy="555.70" r="2.25" fill="#6a6a6a"/>
<circle cx="248.00" cy="553.50" r="2.25" fill="#6a6a6a"/>
<circle cx="251.30" cy="553.90" r="2.25" fill="#6a6a6a"/>
<circle cx="260.00" cy="555.70" r="2.25" fill="#6a6a6a"/>
<circle cx="272.80" cy="559.40" r="2.25" fill="#6a6a6a"/>
<circle cx="285.70" cy="557.20" r="2.25" fill="#6a6a6a"/>
<circle cx="290.70" cy="560.00" r="2.25" fill="#6a6a6a"/>
<circle cx="295.80" cy="560.50" r="2.25" fill="#6a6a6a"/>
<circle cx="304.50" cy="557.80" r="2.25" fill="#6a6a6a"/>
<circle cx="305.40" cy="560.00" r="2.25" fill="#6a6a6a"/>
<circle cx="322.50" cy="559.40" r="2.25" fill="#6a6a6a"/>
<circle cx="328.60" cy="558.90" r="2.25" fill="#6a6a6a"/>
<circle cx="328.00" cy="562.20" r="2.25" fill="#6a6a6a"/>
<circle cx="315.50" cy="564.90" r="2.25" fill="#6a6a6a"/>
<circle cx="222.20" cy="558.30" r="2.25" fill="#6a6a6a"/>
<circle cx="222.80" cy="565.50" r="2.25" fill="#6a6a6a"/>
<circle cx="229.00" cy="564.90" r="2.25" fill="#6a6a6a"/>
<circle cx="292.90" cy="573.20" r="2.25" fill="#6a6a6a"/>
<circle cx="294.00" cy="576.50" r="2.25" fill="#6a6a6a"/>
<circle cx="302.80" cy="574.90" r="2.25" fill="#6a6a6a"/>
<circle cx="308.20" cy="574.90" r="2.25" fill="#6a6a6a"/>
<circle cx="308.20" cy="570.50" r="2.25" fill="#6a6a6a"/>
<circle cx="306.00" cy="568.80" r="2.25" fill="#6a6a6a"/>
<circle cx="314.80" cy="577.60" r="2.25" fill="#6a6a6a"/>
<circle cx="318.10" cy="582.40" r="2.25" fill="#6a6a6a"/>
<circle cx="324.70" cy="583.70" r="2.25" fill="#6a6a6a"/>
<circle cx="325.80" cy="587.40" r="2.25" fill="#6a6a6a"/>
<circle cx="326.90" cy="568.80" r="2.25" fill="#6a6a6a"/>
<circle cx="328.00" cy="570.50" r="2.25" fill="#6a6a6a"/>
<circle cx="333.40" cy="590.30" r="2.25" fill="#6a6a6a"/>
<circle cx="325.80" cy="593.30" r="2.25" fill="#6a6a6a"/>
<circle cx="301.70" cy="582.40" r="2.25" fill="#6a6a6a"/>
<circle cx="305.00" cy="585.20" r="2.25" fill="#6a6a6a"/>
<circle cx="308.20" cy="590.30" r="2.25" fill="#6a6a6a"/>
<circle cx="303.90" cy="594.60" r="2.25" fill="#6a6a6a"/>
<circle cx="297.30" cy="584.10" r="2.25" fill="#6a6a6a"/>
<circle cx="292.50" cy="590.30" r="2.25" fill="#6a6a6a"/>
<circle cx="289.60" cy="580.80" r="2.25" fill="#6a6a6a"/>
<circle cx="220.70" cy="611.20" r="2.25" fill="#6a6a6a"/>
<circle cx="227.70" cy="611.20" r="2.25" fill="#6a6a6a"/>
<circle cx="233.80" cy="610.80" r="2.25" fill="#6a6a6a"/>
<circle cx="236.40" cy="613.00" r="2.25" fill="#6a6a6a"/>
<circle cx="234.90" cy="615.20" r="2.25" fill="#6a6a6a"/>
<circle cx="248.00" cy="610.80" r="2.25" fill="#6a6a6a"/>
<circle cx="251.30" cy="607.50" r="2.25" fill="#6a6a6a"/>
<circle cx="249.10" cy="604.20" r="2.25" fill="#6a6a6a"/>
<circle cx="255.70" cy="614.10" r="2.25" fill="#6a6a6a"/>
<circle cx="259.60" cy="613.00" r="2.25" fill="#6a6a6a"/>
<circle cx="253.50" cy="617.40" r="2.25" fill="#6a6a6a"/>
<circle cx="274.30" cy="611.90" r="2.25" fill="#6a6a6a"/>
<circle cx="278.00" cy="614.10" r="2.25" fill="#6a6a6a"/>
<circle cx="287.00" cy="611.20" r="2.25" fill="#6a6a6a"/>
<circle cx="291.80" cy="611.20" r="2.25" fill="#6a6a6a"/>
<circle cx="309.30" cy="611.20" r="2.25" fill="#6a6a6a"/>
<circle cx="316.60" cy="614.10" r="2.25" fill="#6a6a6a"/>
<circle cx="318.10" cy="615.20" r="2.25" fill="#6a6a6a"/>
<circle cx="271.00" cy="619.60" r="2.25" fill="#6a6a6a"/>
<circle cx="291.80" cy="618.00" r="2.25" fill="#6a6a6a"/>
<circle cx="219.60" cy="618.00" r="2.25" fill="#6a6a6a"/>
<circle cx="226.80" cy="618.00" r="2.25" fill="#6a6a6a"/>
<circle cx="232.70" cy="621.70" r="2.25" fill="#6a6a6a"/>
<circle cx="236.00" cy="625.00" r="2.25" fill="#6a6a6a"/>
<circle cx="232.70" cy="626.10" r="2.25" fill="#6a6a6a"/>
<circle cx="231.60" cy="631.60" r="2.25" fill="#6a6a6a"/>
<circle cx="246.50" cy="625.00" r="2.25" fill="#6a6a6a"/>
<circle cx="246.90" cy="626.80" r="2.25" fill="#6a6a6a"/>
<circle cx="254.60" cy="626.80" r="2.25" fill="#6a6a6a"/>
<circle cx="259.60" cy="623.90" r="2.25" fill="#6a6a6a"/>
<circle cx="263.40" cy="626.10" r="2.25" fill="#6a6a6a"/>
<circle cx="266.60" cy="626.80" r="2.25" fill="#6a6a6a"/>
<circle cx="268.40" cy="626.10" r="2.25" fill="#6a6a6a"/>
<circle cx="275.40" cy="625.00" r="2.25" fill="#6a6a6a"/>
<circle cx="282.00" cy="626.10" r="2.25" fill="#6a6a6a"/>
<circle cx="284.20" cy="622.80" r="2.25" fill="#6a6a6a"/>
<circle cx="285.90" cy="621.70" r="2.25" fill="#6a6a6a"/>
<circle cx="278.70" cy="631.60" r="2.25" fill="#6a6a6a"/>
<circle cx="283.70" cy="631.60" r="2.25" fill="#6a6a6a"/>
<circle cx="299.50" cy="622.40" r="2.25" fill="#6a6a6a"/>
<circle cx="297.30" cy="627.20" r="2.25" fill="#6a6a6a"/>
<circle cx="314.80" cy="622.40" r="2.25" fill="#6a6a6a"/>
<circle cx="325.10" cy="623.90" r="2.25" fill="#6a6a6a"/>
<circle cx="222.40" cy="625.00" r="2.25" fill="#6a6a6a"/>
<circle cx="248.00" cy="638.60" r="2.25" fill="#6a6a6a"/>
<circle cx="256.80" cy="638.60" r="2.25" fill="#6a6a6a"/>
<circle cx="262.70" cy="638.60" r="2.25" fill="#6a6a6a"/>
<circle cx="267.70" cy="638.60" r="2.25" fill="#6a6a6a"/>
<circle cx="285.90" cy="638.60" r="2.25" fill="#6a6a6a"/>
<circle cx="238.60" cy="647.40" r="2.25" fill="#6a6a6a"/>
<circle cx="250.90" cy="647.40" r="2.25" fill="#6a6a6a"/>
<circle cx="249.10" cy="653.10" r="2.25" fill="#6a6a6a"/>
<circle cx="276.50" cy="647.40" r="2.25" fill="#6a6a6a"/>
<circle cx="282.00" cy="647.40" r="2.25" fill="#6a6a6a"/>
<circle cx="302.30" cy="647.40" r="2.25" fill="#6a6a6a"/>
<circle cx="240.80" cy="659.60" r="2.25" fill="#6a6a6a"/>
<circle cx="280.90" cy="659.60" r="2.25" fill="#6a6a6a"/>
<circle cx="289.00" cy="659.60" r="2.25" fill="#6a6a6a"/>
<circle cx="274.30" cy="665.10" r="2.25" fill="#6a6a6a"/>
<circle cx="243.60" cy="673.20" r="2.25" fill="#6a6a6a"/>
<circle cx="248.00" cy="673.60" r="2.25" fill="#6a6a6a"/>
<circle cx="217.40" cy="598.80" r="2.25" fill="#6a6a6a"/>
<circle cx="218.50" cy="602.00" r="2.25" fill="#6a6a6a"/>
<circle cx="230.50" cy="599.90" r="2.25" fill="#6a6a6a"/>
<circle cx="233.80" cy="600.90" r="2.25" fill="#6a6a6a"/>
<circle cx="238.20" cy="595.50" r="2.25" fill="#6a6a6a"/>
<circle cx="241.50" cy="592.20" r="2.25" fill="#6a6a6a"/>
<circle cx="244.70" cy="603.10" r="2.25" fill="#6a6a6a"/>
<circle cx="260.00" cy="603.10" r="2.25" fill="#6a6a6a"/>
<circle cx="265.50" cy="605.30" r="2.25" fill="#6a6a6a"/>
<circle cx="266.60" cy="602.00" r="2.25" fill="#6a6a6a"/>
<circle cx="262.30" cy="608.60" r="2.25" fill="#6a6a6a"/>
<circle cx="274.30" cy="600.90" r="2.25" fill="#6a6a6a"/>
<circle cx="278.70" cy="605.30" r="2.25" fill="#6a6a6a"/>
<circle cx="287.00" cy="597.70" r="2.25" fill="#6a6a6a"/>
<circle cx="289.60" cy="598.80" r="2.25" fill="#6a6a6a"/>
<circle cx="303.90" cy="597.70" r="2.25" fill="#6a6a6a"/>
<circle cx="302.80" cy="599.90" r="2.25" fill="#6a6a6a"/>
<circle cx="325.80" cy="593.30" r="2.25" fill="#6a6a6a"/>
<circle cx="333.40" cy="591.10" r="2.25" fill="#6a6a6a"/>
<circle cx="231.71" cy="575.97" r="2.25" fill="#6a6a6a"/>
<circle cx="260.09" cy="558.09" r="2.25" fill="#6a6a6a"/>
<circle cx="280.90" cy="580.63" r="2.25" fill="#6a6a6a"/>
<circle cx="246.14" cy="576.43" r="2.25" fill="#6a6a6a"/>
<circle cx="263.77" cy="567.46" r="2.25" fill="#6a6a6a"/>
<circle cx="232.28" cy="586.95" r="2.25" fill="#6a6a6a"/>
<circle cx="264.22" cy="576.47" r="2.25" fill="#6a6a6a"/>
<circle cx="273.00" cy="577.86" r="2.25" fill="#6a6a6a"/>
<circle cx="257.22" cy="575.38" r="2.25" fill="#6a6a6a"/>
<circle cx="245.20" cy="579.48" r="2.25" fill="#6a6a6a"/>
<circle cx="238.12" cy="587.48" r="2.25" fill="#6a6a6a"/>
<circle cx="276.04" cy="561.89" r="2.25" fill="#6a6a6a"/>
<circle cx="252.02" cy="567.53" r="2.25" fill="#6a6a6a"/>
<circle cx="249.80" cy="562.61" r="2.25" fill="#6a6a6a"/>
<circle cx="264.40" cy="564.68" r="2.25" fill="#6a6a6a"/>
<circle cx="278.09" cy="565.25" r="2.25" fill="#6a6a6a"/>
<circle cx="244.74" cy="574.82" r="2.25" fill="#6a6a6a"/>
<circle cx="278.37" cy="583.50" r="2.25" fill="#6a6a6a"/>
<circle cx="244.36" cy="557.64" r="2.25" fill="#6a6a6a"/>
<circle cx="251.58" cy="583.26" r="2.25" fill="#6a6a6a"/>
<circle cx="274.75" cy="579.34" r="2.25" fill="#6a6a6a"/>
<circle cx="242.52" cy="569.06" r="2.25" fill="#6a6a6a"/>
<circle cx="229.35" cy="563.56" r="2.25" fill="#6a6a6a"/>
<circle cx="251.98" cy="561.83" r="2.25" fill="#6a6a6a"/>
<circle cx="268.35" cy="564.43" r="2.25" fill="#6a6a6a"/>
<circle cx="227.72" cy="579.74" r="2.25" fill="#6a6a6a"/>
<circle cx="272.31" cy="564.23" r="2.25" fill="#6a6a6a"/>
<circle cx="241.58" cy="584.63" r="2.25" fill="#6a6a6a"/>
<circle cx="253.59" cy="589.41" r="2.25" fill="#6a6a6a"/>
<circle cx="237.03" cy="568.98" r="2.25" fill="#6a6a6a"/>
<circle cx="280.46" cy="569.95" r="2.25" fill="#6a6a6a"/>
<circle cx="250.16" cy="568.94" r="2.25" fill="#6a6a6a"/>
<circle cx="268.79" cy="558.52" r="2.25" fill="#6a6a6a"/>
<circle cx="228.05" cy="572.35" r="2.25" fill="#6a6a6a"/>
<circle cx="238.71" cy="589.12" r="2.25" fill="#6a6a6a"/>
<circle cx="268.51" cy="577.74" r="2.25" fill="#6a6a6a"/>
<circle cx="263.69" cy="583.31" r="2.25" fill="#6a6a6a"/>
<circle cx="270.86" cy="592.25" r="2.25" fill="#6a6a6a"/>
<circle cx="232.98" cy="580.79" r="2.25" fill="#6a6a6a"/>
<circle cx="232.62" cy="573.84" r="2.25" fill="#6a6a6a"/>
<circle cx="271.18" cy="591.00" r="2.25" fill="#6a6a6a"/>
<circle cx="245.56" cy="563.20" r="2.25" fill="#6a6a6a"/>
<circle cx="238.66" cy="570.57" r="2.25" fill="#6a6a6a"/>
<circle cx="262.18" cy="563.07" r="2.25" fill="#6a6a6a"/>
<circle cx="253.90" cy="559.99" r="2.25" fill="#6a6a6a"/>
<circle cx="260.66" cy="565.80" r="2.25" fill="#6a6a6a"/>
<circle cx="257.32" cy="581.21" r="2.25" fill="#6a6a6a"/>
<circle cx="243.49" cy="581.45" r="2.25" fill="#6a6a6a"/>
<circle cx="245.12" cy="561.97" r="2.25" fill="#6a6a6a"/>
<circle cx="242.91" cy="572.02" r="2.25" fill="#6a6a6a"/>
<circle cx="229.17" cy="578.34" r="2.25" fill="#6a6a6a"/>
<circle cx="266.01" cy="559.54" r="2.25" fill="#6a6a6a"/>
<circle cx="272.38" cy="582.97" r="2.25" fill="#6a6a6a"/>
<circle cx="232.64" cy="574.67" r="2.25" fill="#6a6a6a"/>
<circle cx="267.12" cy="587.58" r="2.25" fill="#6a6a6a"/>
<circle cx="269.62" cy="567.16" r="2.25" fill="#6a6a6a"/>
<circle cx="271.38" cy="566.47" r="2.25" fill="#6a6a6a"/>
<circle cx="232.27" cy="571.83" r="2.25" fill="#6a6a6a"/>
<circle cx="253.87" cy="567.86" r="2.25" fill="#6a6a6a"/>
<circle cx="260.35" cy="579.90" r="2.25" fill="#6a6a6a"/>
<circle cx="238.39" cy="580.66" r="2.25" fill="#6a6a6a"/>
<circle cx="245.44" cy="584.92" r="2.25" fill="#6a6a6a"/>
<circle cx="241.43" cy="587.35" r="2.25" fill="#6a6a6a"/>
<circle cx="248.91" cy="578.02" r="2.25" fill="#6a6a6a"/>
<circle cx="264.40" cy="576.70" r="2.25" fill="#6a6a6a"/>
<circle cx="229.76" cy="569.35" r="2.25" fill="#6a6a6a"/>
<circle cx="256.95" cy="558.09" r="2.25" fill="#6a6a6a"/>
<circle cx="233.29" cy="587.37" r="2.25" fill="#6a6a6a"/>
<circle cx="271.03" cy="581.20" r="2.25" fill="#6a6a6a"/>
<circle cx="278.11" cy="585.71" r="2.25" fill="#6a6a6a"/>
<circle cx="241.93" cy="581.50" r="2.25" fill="#6a6a6a"/>
<circle cx="244.40" cy="585.49" r="2.25" fill="#6a6a6a"/>
<circle cx="247.09" cy="562.82" r="2.25" fill="#6a6a6a"/>
<circle cx="276.59" cy="583.24" r="2.25" fill="#6a6a6a"/>
<circle cx="268.68" cy="578.26" r="2.25" fill="#6a6a6a"/>
<circle cx="270.98" cy="574.02" r="2.25" fill="#6a6a6a"/>
<circle cx="257.95" cy="559.38" r="2.25" fill="#6a6a6a"/>
<circle cx="257.30" cy="587.95" r="2.25" fill="#6a6a6a"/>
<circle cx="266.33" cy="587.52" r="2.25" fill="#6a6a6a"/>
<circle cx="253.77" cy="590.49" r="2.25" fill="#6a6a6a"/>
<circle cx="246.28" cy="560.46" r="2.25" fill="#6a6a6a"/>
<circle cx="261.16" cy="574.29" r="2.25" fill="#6a6a6a"/>
<circle cx="249.70" cy="589.38" r="2.25" fill="#6a6a6a"/>
<circle cx="232.27" cy="580.44" r="2.25" fill="#6a6a6a"/>
<circle cx="248.83" cy="577.07" r="2.25" fill="#6a6a6a"/>
<circle cx="253.96" cy="562.10" r="2.25" fill="#6a6a6a"/>
<circle cx="254.72" cy="589.76" r="2.25" fill="#6a6a6a"/>
<circle cx="228.05" cy="574.47" r="2.25" fill="#6a6a6a"/>
<circle cx="283.46" cy="577.37" r="2.25" fill="#6a6a6a"/>
<circle cx="231.21" cy="572.90" r="2.25" fill="#6a6a6a"/>
<circle cx="236.44" cy="584.14" r="2.25" fill="#6a6a6a"/>
<circle cx="256.49" cy="567.94" r="2.25" fill="#6a6a6a"/>
<circle cx="239.33" cy="589.95" r="2.25" fill="#6a6a6a"/>
<circle cx="269.97" cy="573.58" r="2.25" fill="#6a6a6a"/>
<circle cx="248.33" cy="585.02" r="2.25" fill="#6a6a6a"/>
<circle cx="233.55" cy="570.77" r="2.25" fill="#6a6a6a"/>
<circle cx="254.46" cy="559.71" r="2.25" fill="#6a6a6a"/>
<circle cx="227.21" cy="565.34" r="2.25" fill="#6a6a6a"/>
<circle cx="247.16" cy="585.09" r="2.25" fill="#6a6a6a"/>
<circle cx="260.59" cy="558.11" r="2.25" fill="#6a6a6a"/>
<circle cx="226.70" cy="574.18" r="2.25" fill="#6a6a6a"/>
<circle cx="245.91" cy="590.72" r="2.25" fill="#6a6a6a"/>
<circle cx="279.75" cy="572.45" r="2.25" fill="#6a6a6a"/>
<circle cx="268.76" cy="570.88" r="2.25" fill="#6a6a6a"/>
<circle cx="233.21" cy="578.86" r="2.25" fill="#6a6a6a"/>
<circle cx="229.19" cy="582.21" r="2.25" fill="#6a6a6a"/>
<circle cx="272.55" cy="591.79" r="2.25" fill="#6a6a6a"/>
<circle cx="250.88" cy="561.46" r="2.25" fill="#6a6a6a"/>
<circle cx="282.06" cy="579.57" r="2.25" fill="#6a6a6a"/>
<circle cx="264.40" cy="571.18" r="2.25" fill="#6a6a6a"/>
<circle cx="234.99" cy="568.09" r="2.25" fill="#6a6a6a"/>
<circle cx="267.24" cy="569.35" r="2.25" fill="#6a6a6a"/>
<circle cx="265.50" cy="576.08" r="2.25" fill="#6a6a6a"/>
<circle cx="250.94" cy="593.77" r="2.25" fill="#6a6a6a"/>
<circle cx="233.97" cy="575.51" r="2.25" fill="#6a6a6a"/>
<circle cx="253.32" cy="569.61" r="2.25" fill="#6a6a6a"/>
<circle cx="234.10" cy="579.58" r="2.25" fill="#6a6a6a"/>
<circle cx="247.94" cy="561.83" r="2.25" fill="#6a6a6a"/>
<circle cx="225.94" cy="571.87" r="2.25" fill="#6a6a6a"/>
<circle cx="258.99" cy="576.72" r="2.25" fill="#6a6a6a"/>
<circle cx="280.18" cy="587.39" r="2.25" fill="#6a6a6a"/>
<circle cx="252.66" cy="576.90" r="2.25" fill="#6a6a6a"/>
<circle cx="247.84" cy="572.18" r="2.25" fill="#6a6a6a"/>
<circle cx="251.99" cy="584.28" r="2.25" fill="#6a6a6a"/>
<circle cx="250.16" cy="570.84" r="2.25" fill="#6a6a6a"/>
<circle cx="263.51" cy="563.19" r="2.25" fill="#6a6a6a"/>
<circle cx="224.68" cy="579.51" r="2.25" fill="#6a6a6a"/>
<circle cx="255.83" cy="589.90" r="2.25" fill="#6a6a6a"/>
<circle cx="248.95" cy="586.87" r="2.25" fill="#6a6a6a"/>
<circle cx="259.91" cy="565.60" r="2.25" fill="#6a6a6a"/>
<circle cx="246.48" cy="569.81" r="2.25" fill="#6a6a6a"/>
<circle cx="257.83" cy="590.73" r="2.25" fill="#6a6a6a"/>
<circle cx="245.94" cy="564.00" r="2.25" fill="#6a6a6a"/>
<circle cx="258.68" cy="557.08" r="2.25" fill="#6a6a6a"/>
<circle cx="247.09" cy="569.06" r="2.25" fill="#6a6a6a"/>
<circle cx="247.24" cy="558.93" r="2.25" fill="#6a6a6a"/>
<circle cx="257.25" cy="580.72" r="2.25" fill="#6a6a6a"/>
<circle cx="268.97" cy="593.38" r="2.25" fill="#6a6a6a"/>
<circle cx="245.28" cy="581.94" r="2.25" fill="#6a6a6a"/>
<circle cx="250.52" cy="565.17" r="2.25" fill="#6a6a6a"/>
<circle cx="277.36" cy="585.34" r="2.25" fill="#6a6a6a"/>
<circle cx="248.73" cy="583.13" r="2.25" fill="#6a6a6a"/>
<circle cx="250.31" cy="576.51" r="2.25" fill="#6a6a6a"/>
<circle cx="269.66" cy="559.68" r="2.25" fill="#6a6a6a"/>
<circle cx="264.70" cy="558.85" r="2.25" fill="#6a6a6a"/>
<circle cx="238.92" cy="584.45" r="2.25" fill="#6a6a6a"/>
<circle cx="264.98" cy="572.40" r="2.25" fill="#6a6a6a"/>
<circle cx="241.67" cy="588.47" r="2.25" fill="#6a6a6a"/>
<circle cx="240.49" cy="558.19" r="2.25" fill="#6a6a6a"/>
<circle cx="272.64" cy="561.65" r="2.25" fill="#6a6a6a"/>
<circle cx="238.49" cy="583.43" r="2.25" fill="#6a6a6a"/>
<circle cx="238.66" cy="572.72" r="2.25" fill="#6a6a6a"/>
<circle cx="222.34" cy="573.23" r="2.25" fill="#6a6a6a"/>
<circle cx="286.76" cy="567.60" r="2.25" fill="#6a6a6a"/>
<circle cx="235.67" cy="588.32" r="2.25" fill="#6a6a6a"/>
<circle cx="284.63" cy="568.38" r="2.25" fill="#6a6a6a"/>
<circle cx="244.11" cy="590.16" r="2.25" fill="#6a6a6a"/>
<circle cx="277.37" cy="584.92" r="2.25" fill="#6a6a6a"/>
<circle cx="228.32" cy="562.40" r="2.25" fill="#6a6a6a"/>
<circle cx="274.64" cy="589.76" r="2.25" fill="#6a6a6a"/>
<circle cx="285.70" cy="593.55" r="2.25" fill="#6a6a6a"/>
<circle cx="247.70" cy="559.93" r="2.25" fill="#6a6a6a"/>
<circle cx="285.24" cy="589.17" r="2.25" fill="#6a6a6a"/>
<circle cx="260.11" cy="588.46" r="2.25" fill="#6a6a6a"/>
<circle cx="244.81" cy="570.85" r="2.25" fill="#6a6a6a"/>
<circle cx="260.04" cy="578.10" r="2.25" fill="#6a6a6a"/>
<circle cx="270.72" cy="601.68" r="2.25" fill="#6a6a6a"/>
<circle cx="281.78" cy="573.15" r="2.25" fill="#6a6a6a"/>
<circle cx="243.80" cy="601.20" r="2.25" fill="#6a6a6a"/>
<circle cx="245.57" cy="594.61" r="2.25" fill="#6a6a6a"/>
<circle cx="221.42" cy="576.46" r="2.25" fill="#6a6a6a"/>
<circle cx="255.30" cy="595.06" r="2.25" fill="#6a6a6a"/>
<circle cx="284.21" cy="560.94" r="2.25" fill="#6a6a6a"/>
<circle cx="263.37" cy="585.72" r="2.25" fill="#6a6a6a"/>
<circle cx="226.12" cy="596.35" r="2.25" fill="#6a6a6a"/>
<circle cx="258.28" cy="603.01" r="2.25" fill="#6a6a6a"/>
<circle cx="228.90" cy="580.30" r="2.25" fill="#6a6a6a"/>
<circle cx="239.88" cy="586.41" r="2.25" fill="#6a6a6a"/>
<circle cx="262.65" cy="579.65" r="2.25" fill="#6a6a6a"/>
<circle cx="239.99" cy="579.21" r="2.25" fill="#6a6a6a"/>
<circle cx="243.78" cy="599.32" r="2.25" fill="#6a6a6a"/>
<circle cx="250.92" cy="577.71" r="2.25" fill="#6a6a6a"/>
<circle cx="234.68" cy="566.20" r="2.25" fill="#6a6a6a"/>
<circle cx="290.31" cy="569.33" r="2.25" fill="#6a6a6a"/>
<circle cx="283.47" cy="583.93" r="2.25" fill="#6a6a6a"/>
<circle cx="289.33" cy="593.17" r="2.25" fill="#6a6a6a"/>
<circle cx="259.44" cy="589.86" r="2.25" fill="#6a6a6a"/>
<circle cx="271.79" cy="576.32" r="2.25" fill="#6a6a6a"/>
<circle cx="264.76" cy="564.89" r="2.25" fill="#6a6a6a"/>
<circle cx="215.71" cy="588.18" r="2.25" fill="#6a6a6a"/>
<circle cx="251.96" cy="600.09" r="2.25" fill="#6a6a6a"/>
<circle cx="235.12" cy="595.53" r="2.25" fill="#6a6a6a"/>
<circle cx="227.21" cy="564.87" r="2.25" fill="#6a6a6a"/>
<circle cx="242.92" cy="559.00" r="2.25" fill="#6a6a6a"/>
<circle cx="288.66" cy="571.78" r="2.25" fill="#6a6a6a"/>
<circle cx="264.08" cy="576.64" r="2.25" fill="#6a6a6a"/>
<circle cx="273.44" cy="594.92" r="2.25" fill="#6a6a6a"/>
<circle cx="244.64" cy="580.84" r="2.25" fill="#6a6a6a"/>
<circle cx="221.80" cy="567.84" r="2.25" fill="#6a6a6a"/>
<circle cx="231.82" cy="569.05" r="2.25" fill="#6a6a6a"/>
<circle cx="239.96" cy="582.90" r="2.25" fill="#6a6a6a"/>
<circle cx="240.62" cy="570.00" r="2.25" fill="#6a6a6a"/>
<circle cx="283.24" cy="585.95" r="2.25" fill="#6a6a6a"/>
<circle cx="272.24" cy="602.80" r="2.25" fill="#6a6a6a"/>
<circle cx="231.44" cy="600.84" r="2.25" fill="#6a6a6a"/>
<circle cx="233.41" cy="579.98" r="2.25" fill="#6a6a6a"/>
<circle cx="268.49" cy="594.46" r="2.25" fill="#6a6a6a"/>
<circle cx="233.85" cy="577.81" r="2.25" fill="#6a6a6a"/>
<circle cx="217.65" cy="567.97" r="2.25" fill="#6a6a6a"/>
<circle cx="260.57" cy="593.90" r="2.25" fill="#6a6a6a"/>
<circle cx="286.18" cy="570.26" r="2.25" fill="#6a6a6a"/>
<circle cx="292.44" cy="576.32" r="2.25" fill="#6a6a6a"/>
<circle cx="226.71" cy="580.56" r="2.25" fill="#6a6a6a"/>
<circle cx="261.49" cy="589.03" r="2.25" fill="#6a6a6a"/>
<circle cx="267.68" cy="555.16" r="2.25" fill="#6a6a6a"/>
<circle cx="265.12" cy="600.92" r="2.25" fill="#6a6a6a"/>
<circle cx="267.61" cy="603.71" r="2.25" fill="#6a6a6a"/>
<circle cx="254.92" cy="595.13" r="2.25" fill="#6a6a6a"/>
<circle cx="225.22" cy="599.57" r="2.25" fill="#6a6a6a"/>
<circle cx="248.92" cy="598.59" r="2.25" fill="#6a6a6a"/>
<circle cx="239.67" cy="585.46" r="2.25" fill="#6a6a6a"/>
<circle cx="281.73" cy="589.99" r="2.25" fill="#6a6a6a"/>
<circle cx="263.59" cy="603.47" r="2.25" fill="#6a6a6a"/>
<circle cx="258.13" cy="602.64" r="2.25" fill="#6a6a6a"/>
<circle cx="268.92" cy="569.10" r="2.25" fill="#6a6a6a"/>
<circle cx="222.62" cy="576.31" r="2.25" fill="#6a6a6a"/>
<circle cx="252.42" cy="577.35" r="2.25" fill="#6a6a6a"/>
<circle cx="263.55" cy="567.19" r="2.25" fill="#6a6a6a"/>
<circle cx="284.43" cy="567.99" r="2.25" fill="#6a6a6a"/>
<circle cx="222.57" cy="571.15" r="2.25" fill="#6a6a6a"/>
<circle cx="236.22" cy="601.18" r="2.25" fill="#6a6a6a"/>
<circle cx="241.85" cy="596.84" r="2.25" fill="#6a6a6a"/>
<circle cx="232.98" cy="562.39" r="2.25" fill="#6a6a6a"/>
<circle cx="290.74" cy="592.12" r="2.25" fill="#6a6a6a"/>
<circle cx="258.22" cy="560.52" r="2.25" fill="#6a6a6a"/>
<circle cx="281.95" cy="573.59" r="2.25" fill="#6a6a6a"/>
<circle cx="239.01" cy="579.05" r="2.25" fill="#6a6a6a"/>
<circle cx="235.15" cy="583.99" r="2.25" fill="#6a6a6a"/>
<circle cx="273.95" cy="602.77" r="2.25" fill="#6a6a6a"/>
<circle cx="264.91" cy="591.16" r="2.25" fill="#6a6a6a"/>
<circle cx="260.99" cy="557.23" r="2.25" fill="#6a6a6a"/>
<circle cx="218.95" cy="592.53" r="2.25" fill="#6a6a6a"/>
<circle cx="230.19" cy="594.07" r="2.25" fill="#6a6a6a"/>
<circle cx="251.12" cy="553.36" r="2.25" fill="#6a6a6a"/>
<circle cx="258.92" cy="576.04" r="2.25" fill="#6a6a6a"/>
<circle cx="219.91" cy="566.58" r="2.25" fill="#6a6a6a"/>
<circle cx="238.53" cy="570.98" r="2.25" fill="#6a6a6a"/>
<circle cx="270.55" cy="561.70" r="2.25" fill="#6a6a6a"/>
<circle cx="249.46" cy="584.56" r="2.25" fill="#6a6a6a"/>
<circle cx="220.35" cy="562.97" r="2.25" fill="#6a6a6a"/>
<circle cx="231.65" cy="561.46" r="2.25" fill="#6a6a6a"/>
<circle cx="220.08" cy="563.90" r="2.25" fill="#6a6a6a"/>
<circle cx="231.87" cy="577.94" r="2.25" fill="#6a6a6a"/>
<circle cx="265.82" cy="571.92" r="2.25" fill="#6a6a6a"/>
<circle cx="227.45" cy="557.92" r="2.25" fill="#6a6a6a"/>
<circle cx="235.05" cy="561.88" r="2.25" fill="#6a6a6a"/>
<circle cx="252.48" cy="598.30" r="2.25" fill="#6a6a6a"/>
<circle cx="271.32" cy="563.57" r="2.25" fill="#6a6a6a"/>
<circle cx="248.86" cy="571.91" r="2.25" fill="#6a6a6a"/>
<circle cx="268.59" cy="557.36" r="2.25" fill="#6a6a6a"/>
<circle cx="234.36" cy="588.66" r="2.25" fill="#6a6a6a"/>
<circle cx="259.45" cy="579.87" r="2.25" fill="#6a6a6a"/>
<circle cx="229.64" cy="582.41" r="2.25" fill="#6a6a6a"/>
<circle cx="259.22" cy="603.97" r="2.25" fill="#6a6a6a"/>
<circle cx="292.19" cy="583.54" r="2.25" fill="#6a6a6a"/>
<circle cx="274.71" cy="589.27" r="2.25" fill="#6a6a6a"/>
<circle cx="224.63" cy="584.32" r="2.25" fill="#6a6a6a"/>
<circle cx="238.46" cy="571.67" r="2.25" fill="#6a6a6a"/>
<circle cx="282.29" cy="590.29" r="2.25" fill="#6a6a6a"/>
<circle cx="274.18" cy="567.98" r="2.25" fill="#6a6a6a"/>
<path d="M229.60 491.70C236.90 491.93 244.23 493.33 253.00 496.00C261.77 498.67 272.47 502.82 282.20 507.70C291.93 512.58 302.65 519.45 311.40 525.30C320.15 531.15 327.58 537.10 334.70 542.80C341.82 548.50 348.82 553.88 354.10 559.50C359.38 565.12 363.72 571.53 366.40 576.50C369.08 581.47 369.47 585.88 370.20 589.30C370.93 592.72 370.90 593.85 370.80 597.00C370.70 600.15 370.33 604.12 369.60 608.20C368.87 612.28 367.88 616.77 366.40 621.50C364.92 626.23 362.75 631.87 360.70 636.60C358.65 641.33 356.47 645.48 354.10 649.90C351.73 654.32 348.85 659.17 346.50 663.10C344.15 667.03 340.00 673.50 340.00 673.50C340.00 673.50 333.20 674.17 326.00 675.00C318.80 675.83 305.07 677.52 296.80 678.50C288.53 679.48 283.22 680.90 276.40 680.90C269.58 680.90 261.50 679.87 255.90 678.50C250.30 677.13 246.45 676.10 242.80 672.70C239.15 669.30 236.68 663.45 234.00 658.10C231.32 652.75 229.13 646.93 226.70 640.60C224.27 634.27 222.32 626.92 219.40 620.10C216.48 613.28 212.60 606.02 209.20 599.70C205.80 593.38 202.17 588.52 199.00 582.20C195.83 575.88 192.40 569.10 190.20 561.80C188.00 554.50 186.28 545.70 185.80 538.40C185.32 531.10 185.83 523.60 187.30 518.00C188.77 512.40 190.95 508.70 194.60 504.80C198.25 500.90 203.37 496.78 209.20 494.60C215.03 492.42 222.30 491.47 229.60 491.70Z" fill="none" stroke="#707070" stroke-width="2.4" stroke-dasharray="7.5 4"/>
<path d="M368.70 363.60L368.70 359.60M368.70 363.60L365.50 365.60M368.70 363.60L371.90 365.60" stroke="#6495ed" stroke-width="1.3" fill="none"/>
<path d="M401.00 363.60L401.00 359.60M401.00 363.60L397.80 365.60M401.00 363.60L404.20 365.60" stroke="#6495ed" stroke-width="1.3" fill="none"/>
<path d="M389.10 375.40L389.10 371.40M389.10 375.40L385.90 377.40M389.10 375.40L392.30 377.40" stroke="#6495ed" stroke-width="1.3" fill="none"/>
<path d="M368.70 396.90L368.70 392.90M368.70 396.90L365.50 398.90M368.70 396.90L371.90 398.90" stroke="#6495ed" stroke-width="1.3" fill="none"/>
<path d="M401.00 396.90L401.00 392.90M401.00 396.90L397.80 398.90M401.00 396.90L404.20 398.90" stroke="#6495ed" stroke-width="1.3" fill="none"/>
<polygon points="484.62,369.14 482.94,370.82 482.94,373.18 484.62,374.86 486.98,374.86 488.66,373.18 488.66,370.82 486.98,369.14" fill="#6495ed"/>
<path d="M468.80 391.70L468.80 395.70M468.80 391.70L472.00 389.70M468.80 391.70L465.60 389.70" stroke="#6495ed" stroke-width="1.3" fill="none"/>
<path d="M468.80 404.10L468.80 408.10M468.80 404.10L472.00 402.10M468.80 404.10L465.60 402.10" stroke="#6495ed" stroke-width="1.3" fill="none"/>
<path d="M468.80 416.10L468.80 420.10M468.80 416.10L472.00 414.10M468.80 416.10L465.60 414.10" stroke="#6495ed" stroke-width="1.3" fill="none"/>
<path d="M468.80 425.00L468.80 429.00M468.80 425.00L472.00 423.00M468.80 425.00L465.60 423.00" stroke="#6495ed" stroke-width="1.3" fill="none"/>
<path d="M468.80 436.50L468.80 440.50M468.80 436.50L472.00 434.50M468.80 436.50L465.60 434.50" stroke="#6495ed" stroke-width="1.3" fill="none"/>
<path d="M468.80 458.20L468.80 462.20M468.80 458.20L472.00 456.20M468.80 458.20L465.60 456.20" stroke="#6495ed" stroke-width="1.3" fill="none"/>
<path d="M468.80 472.80L468.80 476.80M468.80 472.80L472.00 470.80M468.80 472.80L465.60 470.80" stroke="#6495ed" stroke-width="1.3" fill="none"/>
<path d="M545.40 391.70L545.40 395.70M545.40 391.70L548.60 389.70M545.40 391.70L542.20 389.70" stroke="#6495ed" stroke-width="1.3" fill="none"/>
<path d="M545.40 404.10L545.40 408.10M545.40 404.10L548.60 402.10M545.40 404.10L542.20 402.10" stroke="#6495ed" stroke-width="1.3" fill="none"/>
<path d="M545.40 416.10L545.40 420.10M545.40 416.10L548.60 414.10M545.40 416.10L542.20 414.10" stroke="#6495ed" stroke-width="1.3" fill="none"/>
<path d="M545.40 425.00L545.40 429.00M545.40 425.00L548.60 423.00M545.40 425.00L542.20 423.00" stroke="#6495ed" stroke-width="1.3" fill="none"/>
<path d="M545.40 436.50L545.40 440.50M545.40 436.50L548.60 434.50M545.40 436.50L542.20 434.50" stroke="#6495ed" stroke-width="1.3" fill="none"/>
<path d="M545.40 458.20L545.40 462.20M545.40 458.20L548.60 456.20M545.40 458.20L542.20 456.20" stroke="#6495ed" stroke-width="1.3" fill="none"/>
<path d="M545.40 472.80L545.40 476.80M545.40 472.80L548.60 470.80M545.40 472.80L542.20 470.80" stroke="#6495ed" stroke-width="1.3" fill="none"/>
<polygon points="404.10,466.40 410.70,469.70 410.70,463.10" fill="#6495ed"/>
<polygon points="436.90,483.50 443.50,486.80 443.50,480.20" fill="#6495ed"/>
<polygon points="360.50,517.60 357.17,520.01 358.44,523.94 362.56,523.94 363.83,520.01" fill="#6495ed"/>
<polygon points="488.00,517.60 484.67,520.01 485.94,523.94 490.06,523.94 491.33,520.01" fill="#6495ed"/>
<polygon points="414.30,545.00 420.50,545.00 420.50,538.80 414.30,538.80" fill="#6495ed"/>
<polygon points="424.50,548.10 430.70,548.10 430.70,541.90 424.50,541.90" fill="#6495ed"/>
<polygon points="428.10,548.10 434.30,548.10 434.30,541.90 428.10,541.90" fill="#6495ed"/>
<polygon points="410.00,560.60 416.20,560.60 416.20,554.40 410.00,554.40" fill="#6495ed"/>
<polygon points="421.80,562.80 428.00,562.80 428.00,556.60 421.80,556.60" fill="#6495ed"/>
<polygon points="302.00,685.62 298.32,692.98 305.68,692.98" fill="#6495ed"/>
<polygon points="302.05,689.30 308.80,692.67 308.80,685.93" fill="#6495ed"/>
<polygon points="308.11,685.85 305.13,687.58 305.13,691.02 308.11,692.75 311.09,691.02 311.09,687.58" fill="#6495ed"/>
<polygon points="309.55,686.32 307.80,688.07 307.80,690.53 309.55,692.28 312.02,692.28 313.77,690.53 313.77,688.07 312.02,686.32" fill="#6495ed"/>
<polygon points="313.31,686.41 311.64,689.30 313.31,692.19 316.65,692.19 318.32,689.30 316.65,686.41" fill="#6495ed"/>
<polygon points="318.28,685.52 314.49,693.08 322.06,693.08" fill="#6495ed"/>
<polygon points="322.31,692.74 325.75,685.86 318.88,685.86" fill="#6495ed"/>
<polygon points="322.10,689.30 329.31,692.91 329.31,685.69" fill="#6495ed"/>
<polygon points="331.76,689.30 325.04,685.94 325.04,692.66" fill="#6495ed"/>
<polygon points="332.41,693.88 336.99,689.30 332.41,684.72 327.83,689.30" fill="#6495ed"/>
<polygon points="334.43,686.41 332.76,689.30 334.43,692.19 337.76,692.19 339.43,689.30 337.76,686.41" fill="#6495ed"/>
<polygon points="336.40,689.30 343.85,693.02 343.85,685.58" fill="#6495ed"/>
<polygon points="342.76,692.50 345.96,686.10 339.56,686.10" fill="#6495ed"/>
<polygon points="346.16,692.76 349.62,685.84 342.70,685.84" fill="#6495ed"/>
<polygon points="349.09,694.51 354.30,689.30 349.09,684.09 343.88,689.30" fill="#6495ed"/>
<polygon points="350.94,686.26 349.15,688.04 349.15,690.56 350.94,692.34 353.45,692.34 355.23,690.56 355.23,688.04 353.45,686.26" fill="#6495ed"/>
<polygon points="355.91,694.50 361.11,689.30 355.91,684.10 350.71,689.30" fill="#6495ed"/>
<polygon points="358.89,685.91 355.66,688.25 356.89,692.05 360.88,692.05 362.12,688.25" fill="#6495ed"/>
<polygon points="362.77,694.25 367.72,689.30 362.77,684.35 357.81,689.30" fill="#6495ed"/>
<polygon points="365.75,693.84 370.28,689.30 365.75,684.76 361.21,689.30" fill="#6495ed"/>
<polygon points="366.13,689.30 373.55,693.01 373.55,685.59" fill="#6495ed"/>
<polygon points="369.26,693.07 376.80,693.07 376.80,685.53 369.26,685.53" fill="#6495ed"/>
<polygon points="376.27,685.77 373.21,687.53 373.21,691.07 376.27,692.83 379.33,691.07 379.33,687.53" fill="#6495ed"/>
<polygon points="382.90,689.30 375.61,685.66 375.61,692.94" fill="#6495ed"/>
<polygon points="386.41,689.30 379.45,685.82 379.45,692.78" fill="#6495ed"/>
<polygon points="385.88,685.72 382.30,692.88 389.47,692.88" fill="#6495ed"/>
<polygon points="386.87,686.20 385.08,689.30 386.87,692.40 390.45,692.40 392.24,689.30 390.45,686.20" fill="#6495ed"/>
<polygon points="391.86,685.62 388.18,692.98 395.54,692.98" fill="#6495ed"/>
<polygon points="392.93,686.11 391.09,689.30 392.93,692.49 396.61,692.49 398.45,689.30 396.61,686.11" fill="#6495ed"/>
<polygon points="396.59,685.95 394.63,687.91 394.63,690.69 396.59,692.65 399.36,692.65 401.33,690.69 401.33,687.91 399.36,685.95" fill="#6495ed"/>
<polygon points="399.66,686.01 397.76,689.30 399.66,692.59 403.46,692.59 405.35,689.30 403.46,686.01" fill="#6495ed"/>
<polygon points="409.00,689.30 401.63,685.61 401.63,692.99" fill="#6495ed"/>
<polygon points="406.74,685.87 404.73,687.88 404.73,690.72 406.74,692.73 409.58,692.73 411.59,690.72 411.59,687.88 409.58,685.87" fill="#6495ed"/>
<polygon points="411.40,692.83 414.93,685.77 407.87,685.77" fill="#6495ed"/>
<polygon points="414.77,685.91 411.38,692.69 418.16,692.69" fill="#6495ed"/>
<polygon points="421.21,689.30 414.81,686.10 414.81,692.50" fill="#6495ed"/>
<polygon points="419.85,685.82 417.81,687.86 417.81,690.74 419.85,692.78 422.72,692.78 424.76,690.74 424.76,687.86 422.72,685.82" fill="#6495ed"/>
<polygon points="425.36,685.90 421.97,692.70 428.76,692.70" fill="#6495ed"/>
<polygon points="429.55,694.52 434.77,689.30 429.55,684.08 424.32,689.30" fill="#6495ed"/>
<polygon points="430.68,686.32 428.95,689.30 430.68,692.28 434.12,692.28 435.84,689.30 434.12,686.32" fill="#6495ed"/>
<polygon points="433.27,686.10 431.42,689.30 433.27,692.50 436.96,692.50 438.81,689.30 436.96,686.10" fill="#6495ed"/>
<polygon points="434.42,689.30 441.45,692.82 441.45,685.78" fill="#6495ed"/>
<polygon points="440.95,694.29 445.95,689.30 440.95,684.31 435.96,689.30" fill="#6495ed"/>
<polygon points="443.72,685.88 440.47,688.24 441.71,692.07 445.73,692.07 446.98,688.24" fill="#6495ed"/>
<polygon points="447.57,686.37 444.77,688.39 445.84,691.68 449.29,691.68 450.36,688.39" fill="#6495ed"/>
<polygon points="450.97,686.28 448.10,688.36 449.20,691.74 452.75,691.74 453.84,688.36" fill="#6495ed"/>
<polygon points="454.92,685.87 451.94,687.58 451.94,691.02 454.92,692.73 457.89,691.02 457.89,687.58" fill="#6495ed"/>
<polygon points="462.26,689.30 455.91,686.13 455.91,692.47" fill="#6495ed"/>
<polygon points="462.37,686.43 460.69,688.11 460.69,690.49 462.37,692.17 464.74,692.17 466.42,690.49 466.42,688.11 464.74,686.43" fill="#6495ed"/>
<polygon points="465.08,689.30 471.36,692.44 471.36,686.16" fill="#6495ed"/>
<polygon points="475.78,689.30 469.37,686.10 469.37,692.50" fill="#6495ed"/>
<polygon points="477.08,692.62 480.40,685.98 473.76,685.98" fill="#6495ed"/>
<polygon points="480.49,692.29 483.48,686.31 477.50,686.31" fill="#6495ed"/>
<polygon points="481.21,692.32 487.25,692.32 487.25,686.28 481.21,686.28" fill="#6495ed"/>
<polygon points="490.97,689.30 484.45,686.04 484.45,692.56" fill="#6495ed"/>
<polygon points="492.53,686.19 489.83,687.75 489.83,690.85 492.53,692.41 495.22,690.85 495.22,687.75" fill="#6495ed"/>
<polygon points="496.51,692.61 499.82,685.99 493.20,685.99" fill="#6495ed"/>
<path d="M313.75 693.55L322.25 685.05M313.75 685.05L322.25 693.55" stroke="#6495ed" stroke-width="1.3" fill="none"/>
<path d="M331.75 693.55L340.25 685.05M331.75 685.05L340.25 693.55" stroke="#6495ed" stroke-width="1.3" fill="none"/>
<path d="M347.75 693.55L356.25 685.05M347.75 685.05L356.25 693.55" stroke="#6495ed" stroke-width="1.3" fill="none"/>
<path d="M367.75 693.55L376.25 685.05M367.75 685.05L376.25 693.55" stroke="#6495ed" stroke-width="1.3" fill="none"/>
<path d="M378.75 689.30L387.25 689.30M383.00 693.55L383.00 685.05" stroke="#6495ed" stroke-width="1.3" fill="none"/>
<path d="M382.75 689.30L391.25 689.30M387.00 693.55L387.00 685.05" stroke="#6495ed" stroke-width="1.3" fill="none"/>
<path d="M386.75 689.30L395.25 689.30M391.00 693.55L391.00 685.05" stroke="#6495ed" stroke-width="1.3" fill="none"/>
<path d="M390.75 689.30L399.25 689.30M395.00 693.55L395.00 685.05" stroke="#6495ed" stroke-width="1.3" fill="none"/>
<path d="M405.75 693.55L414.25 685.05M405.75 685.05L414.25 693.55" stroke="#6495ed" stroke-width="1.3" fill="none"/>
<path d="M421.75 693.55L430.25 685.05M421.75 685.05L430.25 693.55" stroke="#6495ed" stroke-width="1.3" fill="none"/>
<path d="M450.75 689.30L459.25 689.30M455.00 693.55L455.00 685.05" stroke="#6495ed" stroke-width="1.3" fill="none"/>
<path d="M465.75 693.55L474.25 685.05M465.75 685.05L474.25 693.55" stroke="#6495ed" stroke-width="1.3" fill="none"/>
<path d="M483.75 693.55L492.25 685.05M483.75 685.05L492.25 693.55" stroke="#6495ed" stroke-width="1.3" fill="none"/>
<polygon points="432.00,685.80 428.50,692.80 435.50,692.80" fill="#6495ed"/>
<polygon points="435.00,694.25 439.95,689.30 435.00,684.35 430.05,689.30" fill="#6495ed"/>
<polygon points="438.00,685.80 434.50,692.80 441.50,692.80" fill="#6495ed"/>
<polygon points="440.00,692.80 443.50,685.80 436.50,685.80" fill="#6495ed"/>
<polygon points="441.50,689.30 448.50,692.80 448.50,685.80" fill="#6495ed"/>
<polygon points="476.50,689.30 483.50,692.80 483.50,685.80" fill="#6495ed"/>
<polygon points="492.00,685.80 488.50,692.80 495.50,692.80" fill="#6495ed"/>
<polygon points="224.30,686.70 222.05,688.00 222.05,690.60 224.30,691.90 226.55,690.60 226.55,688.00" fill="#6495ed"/>
<path d="M514.40 689.30L514.40 693.30M514.40 689.30L517.60 687.30M514.40 689.30L511.20 687.30" stroke="#6495ed" stroke-width="1.3" fill="none"/>
<path d="M524.90 689.30L524.90 693.30M524.90 689.30L528.10 687.30M524.90 689.30L521.70 687.30" stroke="#6495ed" stroke-width="1.3" fill="none"/>
<path d="M528.10 689.30L528.10 693.30M528.10 689.30L531.30 687.30M528.10 689.30L524.90 687.30" stroke="#6495ed" stroke-width="1.3" fill="none"/>
<path d="M532.10 689.30L532.10 693.30M532.10 689.30L535.30 687.30M532.10 689.30L528.90 687.30" stroke="#6495ed" stroke-width="1.3" fill="none"/>
<path d="M535.30 689.30L535.30 693.30M535.30 689.30L538.50 687.30M535.30 689.30L532.10 687.30" stroke="#6495ed" stroke-width="1.3" fill="none"/>
<path d="M539.30 689.30L539.30 693.30M539.30 689.30L542.50 687.30M539.30 689.30L536.10 687.30" stroke="#6495ed" stroke-width="1.3" fill="none"/>
<path d="M542.50 689.30L542.50 693.30M542.50 689.30L545.70 687.30M542.50 689.30L539.30 687.30" stroke="#6495ed" stroke-width="1.3" fill="none"/>
<path d="M546.50 689.30L546.50 693.30M546.50 689.30L549.70 687.30M546.50 689.30L543.30 687.30" stroke="#6495ed" stroke-width="1.3" fill="none"/>
<path d="M549.80 689.30L549.80 693.30M549.80 689.30L553.00 687.30M549.80 689.30L546.60 687.30" stroke="#6495ed" stroke-width="1.3" fill="none"/>
<path d="M553.80 689.30L553.80 693.30M553.80 689.30L557.00 687.30M553.80 689.30L550.60 687.30" stroke="#6495ed" stroke-width="1.3" fill="none"/>
<path d="M557.80 689.30L557.80 693.30M557.80 689.30L561.00 687.30M557.80 689.30L554.60 687.30" stroke="#6495ed" stroke-width="1.3" fill="none"/>
<path d="M564.20 689.30L564.20 693.30M564.20 689.30L567.40 687.30M564.20 689.30L561.00 687.30" stroke="#6495ed" stroke-width="1.3" fill="none"/>
<path d="M571.40 689.30L571.40 693.30M571.40 689.30L574.60 687.30M571.40 689.30L568.20 687.30" stroke="#6495ed" stroke-width="1.3" fill="none"/>
<path d="M583.50 689.30L583.50 693.30M583.50 689.30L586.70 687.30M583.50 689.30L580.30 687.30" stroke="#6495ed" stroke-width="1.3" fill="none"/>
<path d="M501.60 689.30L501.60 685.30M501.60 689.30L498.40 691.30M501.60 689.30L504.80 691.30" stroke="#6495ed" stroke-width="1.3" fill="none"/>
<path d="M591.50 689.30L587.50 689.30M591.50 689.30L593.50 692.50M591.50 689.30L593.50 686.10" stroke="#6495ed" stroke-width="1.3" fill="none"/>
<circle cx="188.70" cy="689.30" r="2.70" fill="#5a7ff0" stroke="#0000ff" stroke-width="1.4"/>
<circle cx="213.30" cy="689.30" r="2.70" fill="#5a7ff0" stroke="#0000ff" stroke-width="1.4"/>
<circle cx="240.90" cy="689.30" r="2.70" fill="#5a7ff0" stroke="#0000ff" stroke-width="1.4"/>
<circle cx="286.50" cy="689.30" r="2.70" fill="#5a7ff0" stroke="#0000ff" stroke-width="1.4"/>
<circle cx="289.50" cy="689.30" r="2.70" fill="#5a7ff0" stroke="#0000ff" stroke-width="1.4"/>
<circle cx="292.50" cy="689.30" r="2.70" fill="#5a7ff0" stroke="#0000ff" stroke-width="1.4"/>
<circle cx="296.00" cy="689.30" r="2.70" fill="#5a7ff0" stroke="#0000ff" stroke-width="1.4"/>
<circle cx="299.00" cy="689.30" r="2.70" fill="#5a7ff0" stroke="#0000ff" stroke-width="1.4"/>
<polygon points="267.60,689.30 261.60,686.30 261.60,692.30" fill="#1f3fff" stroke="#0000ff" stroke-width="1.5" stroke-linejoin="miter"/>
<polygon points="270.20,689.30 264.20,686.30 264.20,692.30" fill="#1f3fff" stroke="#0000ff" stroke-width="1.5" stroke-linejoin="miter"/>
<polygon points="273.70,689.30 267.70,686.30 267.70,692.30" fill="#1f3fff" stroke="#0000ff" stroke-width="1.5" stroke-linejoin="miter"/>
<polygon points="350.00,689.30 344.00,686.30 344.00,692.30" fill="#1f3fff" stroke="#0000ff" stroke-width="1.5" stroke-linejoin="miter"/>
<polygon points="352.50,689.30 346.50,686.30 346.50,692.30" fill="#1f3fff" stroke="#0000ff" stroke-width="1.5" stroke-linejoin="miter"/>
<polygon points="355.00,689.30 349.00,686.30 349.00,692.30" fill="#1f3fff" stroke="#0000ff" stroke-width="1.5" stroke-linejoin="miter"/>
<circle cx="359.0" cy="689.3" r="2.8" fill="none" stroke="#0000ff" stroke-width="1.0"/>
<circle cx="364.0" cy="689.3" r="2.8" fill="none" stroke="#0000ff" stroke-width="1.0"/>
<circle cx="375.5" cy="689.3" r="2.8" fill="none" stroke="#0000ff" stroke-width="1.0"/>
<polygon points="253.70,692.30 256.70,686.30 250.70,686.30" fill="#5a7ff0" stroke="#0000ff" stroke-width="1.5" stroke-linejoin="miter"/>
<polygon points="298.40,687.40 301.40,681.40 295.40,681.40" fill="#5a7ff0" stroke="#0000ff" stroke-width="1.5" stroke-linejoin="miter"/>
<polygon points="299.50,571.40 302.50,565.40 296.50,565.40" fill="#5a7ff0" stroke="#0000ff" stroke-width="1.5" stroke-linejoin="miter"/>
<polygon points="299.50,593.60 302.50,587.60 296.50,587.60" fill="#5a7ff0" stroke="#0000ff" stroke-width="1.5" stroke-linejoin="miter"/>
<polygon points="247.40,599.40 250.40,593.40 244.40,593.40" fill="#5a7ff0" stroke="#0000ff" stroke-width="1.5" stroke-linejoin="miter"/>
<polygon points="293.40,606.60 296.40,600.60 290.40,600.60" fill="#5a7ff0" stroke="#0000ff" stroke-width="1.5" stroke-linejoin="miter"/>
<polygon points="299.50,613.10 302.50,607.10 296.50,607.10" fill="#5a7ff0" stroke="#0000ff" stroke-width="1.5" stroke-linejoin="miter"/>
<polygon points="249.10,625.80 252.10,619.80 246.10,619.80" fill="#5a7ff0" stroke="#0000ff" stroke-width="1.5" stroke-linejoin="miter"/>
<polygon points="299.50,633.50 302.50,627.50 296.50,627.50" fill="#5a7ff0" stroke="#0000ff" stroke-width="1.5" stroke-linejoin="miter"/>
<polygon points="296.60,645.60 299.60,639.60 293.60,639.60" fill="#5a7ff0" stroke="#0000ff" stroke-width="1.5" stroke-linejoin="miter"/>
<polygon points="252.00,660.90 255.00,654.90 249.00,654.90" fill="#5a7ff0" stroke="#0000ff" stroke-width="1.5" stroke-linejoin="miter"/>
<line x1="133.4" y1="689.3" x2="608.6" y2="689.3" stroke="#000" stroke-width="1.5" stroke-dasharray="5.4 2.3"/>
</g>
<text x="153.5" y="382.3" font-size="13.4" font-weight="bold" fill="#fff">(b)</text>
<rect x="133.4" y="355.4" width="475.20000000000005" height="346.0" fill="none" stroke="#000" stroke-width="1"/>
<line x1="133.40" y1="701.4" x2="133.40" y2="706.4" stroke="#000" stroke-width="1"/>
<text x="123.89" y="724.6" font-size="12.0" fill="#000">10</text>
<text x="137.24" y="716.6" font-size="8.4" fill="#000">4</text>
<line x1="153.84" y1="701.4" x2="153.84" y2="704.4" stroke="#000" stroke-width="0.8"/>
<line x1="165.79" y1="701.4" x2="165.79" y2="704.4" stroke="#000" stroke-width="0.8"/>
<line x1="174.27" y1="701.4" x2="174.27" y2="704.4" stroke="#000" stroke-width="0.8"/>
<line x1="180.85" y1="701.4" x2="180.85" y2="704.4" stroke="#000" stroke-width="0.8"/>
<line x1="186.23" y1="701.4" x2="186.23" y2="704.4" stroke="#000" stroke-width="0.8"/>
<line x1="190.77" y1="701.4" x2="190.77" y2="704.4" stroke="#000" stroke-width="0.8"/>
<line x1="194.71" y1="701.4" x2="194.71" y2="704.4" stroke="#000" stroke-width="0.8"/>
<line x1="198.18" y1="701.4" x2="198.18" y2="704.4" stroke="#000" stroke-width="0.8"/>
<line x1="201.29" y1="701.4" x2="201.29" y2="706.4" stroke="#000" stroke-width="1"/>
<text x="191.78" y="724.6" font-size="12.0" fill="#000">10</text>
<text x="205.12" y="716.6" font-size="8.4" fill="#000">5</text>
<line x1="221.72" y1="701.4" x2="221.72" y2="704.4" stroke="#000" stroke-width="0.8"/>
<line x1="233.68" y1="701.4" x2="233.68" y2="704.4" stroke="#000" stroke-width="0.8"/>
<line x1="242.16" y1="701.4" x2="242.16" y2="704.4" stroke="#000" stroke-width="0.8"/>
<line x1="248.74" y1="701.4" x2="248.74" y2="704.4" stroke="#000" stroke-width="0.8"/>
<line x1="254.11" y1="701.4" x2="254.11" y2="704.4" stroke="#000" stroke-width="0.8"/>
<line x1="258.66" y1="701.4" x2="258.66" y2="704.4" stroke="#000" stroke-width="0.8"/>
<line x1="262.59" y1="701.4" x2="262.59" y2="704.4" stroke="#000" stroke-width="0.8"/>
<line x1="266.07" y1="701.4" x2="266.07" y2="704.4" stroke="#000" stroke-width="0.8"/>
<line x1="269.17" y1="701.4" x2="269.17" y2="706.4" stroke="#000" stroke-width="1"/>
<text x="259.66" y="724.6" font-size="12.0" fill="#000">10</text>
<text x="273.01" y="716.6" font-size="8.4" fill="#000">6</text>
<line x1="289.61" y1="701.4" x2="289.61" y2="704.4" stroke="#000" stroke-width="0.8"/>
<line x1="301.56" y1="701.4" x2="301.56" y2="704.4" stroke="#000" stroke-width="0.8"/>
<line x1="310.04" y1="701.4" x2="310.04" y2="704.4" stroke="#000" stroke-width="0.8"/>
<line x1="316.62" y1="701.4" x2="316.62" y2="704.4" stroke="#000" stroke-width="0.8"/>
<line x1="322.00" y1="701.4" x2="322.00" y2="704.4" stroke="#000" stroke-width="0.8"/>
<line x1="326.54" y1="701.4" x2="326.54" y2="704.4" stroke="#000" stroke-width="0.8"/>
<line x1="330.48" y1="701.4" x2="330.48" y2="704.4" stroke="#000" stroke-width="0.8"/>
<line x1="333.95" y1="701.4" x2="333.95" y2="704.4" stroke="#000" stroke-width="0.8"/>
<line x1="337.06" y1="701.4" x2="337.06" y2="706.4" stroke="#000" stroke-width="1"/>
<text x="327.55" y="724.6" font-size="12.0" fill="#000">10</text>
<text x="340.89" y="716.6" font-size="8.4" fill="#000">7</text>
<line x1="357.49" y1="701.4" x2="357.49" y2="704.4" stroke="#000" stroke-width="0.8"/>
<line x1="369.45" y1="701.4" x2="369.45" y2="704.4" stroke="#000" stroke-width="0.8"/>
<line x1="377.93" y1="701.4" x2="377.93" y2="704.4" stroke="#000" stroke-width="0.8"/>
<line x1="384.51" y1="701.4" x2="384.51" y2="704.4" stroke="#000" stroke-width="0.8"/>
<line x1="389.88" y1="701.4" x2="389.88" y2="704.4" stroke="#000" stroke-width="0.8"/>
<line x1="394.43" y1="701.4" x2="394.43" y2="704.4" stroke="#000" stroke-width="0.8"/>
<line x1="398.36" y1="701.4" x2="398.36" y2="704.4" stroke="#000" stroke-width="0.8"/>
<line x1="401.84" y1="701.4" x2="401.84" y2="704.4" stroke="#000" stroke-width="0.8"/>
<line x1="404.94" y1="701.4" x2="404.94" y2="706.4" stroke="#000" stroke-width="1"/>
<text x="395.43" y="724.6" font-size="12.0" fill="#000">10</text>
<text x="408.78" y="716.6" font-size="8.4" fill="#000">8</text>
<line x1="425.38" y1="701.4" x2="425.38" y2="704.4" stroke="#000" stroke-width="0.8"/>
<line x1="437.33" y1="701.4" x2="437.33" y2="704.4" stroke="#000" stroke-width="0.8"/>
<line x1="445.81" y1="701.4" x2="445.81" y2="704.4" stroke="#000" stroke-width="0.8"/>
<line x1="452.39" y1="701.4" x2="452.39" y2="704.4" stroke="#000" stroke-width="0.8"/>
<line x1="457.77" y1="701.4" x2="457.77" y2="704.4" stroke="#000" stroke-width="0.8"/>
<line x1="462.31" y1="701.4" x2="462.31" y2="704.4" stroke="#000" stroke-width="0.8"/>
<line x1="466.25" y1="701.4" x2="466.25" y2="704.4" stroke="#000" stroke-width="0.8"/>
<line x1="469.72" y1="701.4" x2="469.72" y2="704.4" stroke="#000" stroke-width="0.8"/>
<line x1="472.83" y1="701.4" x2="472.83" y2="706.4" stroke="#000" stroke-width="1"/>
<text x="463.32" y="724.6" font-size="12.0" fill="#000">10</text>
<text x="476.67" y="716.6" font-size="8.4" fill="#000">9</text>
<line x1="493.26" y1="701.4" x2="493.26" y2="704.4" stroke="#000" stroke-width="0.8"/>
<line x1="505.22" y1="701.4" x2="505.22" y2="704.4" stroke="#000" stroke-width="0.8"/>
<line x1="513.70" y1="701.4" x2="513.70" y2="704.4" stroke="#000" stroke-width="0.8"/>
<line x1="520.28" y1="701.4" x2="520.28" y2="704.4" stroke="#000" stroke-width="0.8"/>
<line x1="525.65" y1="701.4" x2="525.65" y2="704.4" stroke="#000" stroke-width="0.8"/>
<line x1="530.20" y1="701.4" x2="530.20" y2="704.4" stroke="#000" stroke-width="0.8"/>
<line x1="534.14" y1="701.4" x2="534.14" y2="704.4" stroke="#000" stroke-width="0.8"/>
<line x1="537.61" y1="701.4" x2="537.61" y2="704.4" stroke="#000" stroke-width="0.8"/>
<line x1="540.71" y1="701.4" x2="540.71" y2="706.4" stroke="#000" stroke-width="1"/>
<text x="528.87" y="724.6" font-size="12.0" fill="#000">10</text>
<text x="542.22" y="716.6" font-size="8.4" fill="#000">10</text>
<line x1="561.15" y1="701.4" x2="561.15" y2="704.4" stroke="#000" stroke-width="0.8"/>
<line x1="573.10" y1="701.4" x2="573.10" y2="704.4" stroke="#000" stroke-width="0.8"/>
<line x1="581.59" y1="701.4" x2="581.59" y2="704.4" stroke="#000" stroke-width="0.8"/>
<line x1="588.16" y1="701.4" x2="588.16" y2="704.4" stroke="#000" stroke-width="0.8"/>
<line x1="593.54" y1="701.4" x2="593.54" y2="704.4" stroke="#000" stroke-width="0.8"/>
<line x1="598.08" y1="701.4" x2="598.08" y2="704.4" stroke="#000" stroke-width="0.8"/>
<line x1="602.02" y1="701.4" x2="602.02" y2="704.4" stroke="#000" stroke-width="0.8"/>
<line x1="605.49" y1="701.4" x2="605.49" y2="704.4" stroke="#000" stroke-width="0.8"/>
<line x1="608.60" y1="701.4" x2="608.60" y2="706.4" stroke="#000" stroke-width="1"/>
<text x="597.07" y="724.6" font-size="12.0" fill="#000">10</text>
<text x="610.41" y="716.6" font-size="8.4" fill="#000">11</text>
<line x1="128.4" y1="701.40" x2="133.4" y2="701.40" stroke="#000" stroke-width="1"/>
<text x="122.6" y="699.60" font-size="8.4" text-anchor="end" fill="#000">−3</text>
<text x="113.02" y="707.60" font-size="12.0" text-anchor="end" fill="#000">10</text>
<line x1="130.4" y1="680.57" x2="133.4" y2="680.57" stroke="#000" stroke-width="0.8"/>
<line x1="130.4" y1="668.38" x2="133.4" y2="668.38" stroke="#000" stroke-width="0.8"/>
<line x1="130.4" y1="659.74" x2="133.4" y2="659.74" stroke="#000" stroke-width="0.8"/>
<line x1="130.4" y1="653.03" x2="133.4" y2="653.03" stroke="#000" stroke-width="0.8"/>
<line x1="130.4" y1="647.55" x2="133.4" y2="647.55" stroke="#000" stroke-width="0.8"/>
<line x1="130.4" y1="642.92" x2="133.4" y2="642.92" stroke="#000" stroke-width="0.8"/>
<line x1="130.4" y1="638.91" x2="133.4" y2="638.91" stroke="#000" stroke-width="0.8"/>
<line x1="130.4" y1="635.37" x2="133.4" y2="635.37" stroke="#000" stroke-width="0.8"/>
<line x1="128.4" y1="632.20" x2="133.4" y2="632.20" stroke="#000" stroke-width="1"/>
<text x="122.6" y="630.40" font-size="8.4" text-anchor="end" fill="#000">−2</text>
<text x="113.02" y="638.40" font-size="12.0" text-anchor="end" fill="#000">10</text>
<line x1="130.4" y1="611.37" x2="133.4" y2="611.37" stroke="#000" stroke-width="0.8"/>
<line x1="130.4" y1="599.18" x2="133.4" y2="599.18" stroke="#000" stroke-width="0.8"/>
<line x1="130.4" y1="590.54" x2="133.4" y2="590.54" stroke="#000" stroke-width="0.8"/>
<line x1="130.4" y1="583.83" x2="133.4" y2="583.83" stroke="#000" stroke-width="0.8"/>
<line x1="130.4" y1="578.35" x2="133.4" y2="578.35" stroke="#000" stroke-width="0.8"/>
<line x1="130.4" y1="573.72" x2="133.4" y2="573.72" stroke="#000" stroke-width="0.8"/>
<line x1="130.4" y1="569.71" x2="133.4" y2="569.71" stroke="#000" stroke-width="0.8"/>
<line x1="130.4" y1="566.17" x2="133.4" y2="566.17" stroke="#000" stroke-width="0.8"/>
<line x1="128.4" y1="563.00" x2="133.4" y2="563.00" stroke="#000" stroke-width="1"/>
<text x="122.6" y="561.20" font-size="8.4" text-anchor="end" fill="#000">−1</text>
<text x="113.02" y="569.20" font-size="12.0" text-anchor="end" fill="#000">10</text>
<line x1="130.4" y1="542.17" x2="133.4" y2="542.17" stroke="#000" stroke-width="0.8"/>
<line x1="130.4" y1="529.98" x2="133.4" y2="529.98" stroke="#000" stroke-width="0.8"/>
<line x1="130.4" y1="521.34" x2="133.4" y2="521.34" stroke="#000" stroke-width="0.8"/>
<line x1="130.4" y1="514.63" x2="133.4" y2="514.63" stroke="#000" stroke-width="0.8"/>
<line x1="130.4" y1="509.15" x2="133.4" y2="509.15" stroke="#000" stroke-width="0.8"/>
<line x1="130.4" y1="504.52" x2="133.4" y2="504.52" stroke="#000" stroke-width="0.8"/>
<line x1="130.4" y1="500.51" x2="133.4" y2="500.51" stroke="#000" stroke-width="0.8"/>
<line x1="130.4" y1="496.97" x2="133.4" y2="496.97" stroke="#000" stroke-width="0.8"/>
<line x1="128.4" y1="493.80" x2="133.4" y2="493.80" stroke="#000" stroke-width="1"/>
<text x="122.6" y="492.00" font-size="8.4" text-anchor="end" fill="#000">0</text>
<text x="117.93" y="500.00" font-size="12.0" text-anchor="end" fill="#000">10</text>
<line x1="130.4" y1="472.97" x2="133.4" y2="472.97" stroke="#000" stroke-width="0.8"/>
<line x1="130.4" y1="460.78" x2="133.4" y2="460.78" stroke="#000" stroke-width="0.8"/>
<line x1="130.4" y1="452.14" x2="133.4" y2="452.14" stroke="#000" stroke-width="0.8"/>
<line x1="130.4" y1="445.43" x2="133.4" y2="445.43" stroke="#000" stroke-width="0.8"/>
<line x1="130.4" y1="439.95" x2="133.4" y2="439.95" stroke="#000" stroke-width="0.8"/>
<line x1="130.4" y1="435.32" x2="133.4" y2="435.32" stroke="#000" stroke-width="0.8"/>
<line x1="130.4" y1="431.31" x2="133.4" y2="431.31" stroke="#000" stroke-width="0.8"/>
<line x1="130.4" y1="427.77" x2="133.4" y2="427.77" stroke="#000" stroke-width="0.8"/>
<line x1="128.4" y1="424.60" x2="133.4" y2="424.60" stroke="#000" stroke-width="1"/>
<text x="122.6" y="422.80" font-size="8.4" text-anchor="end" fill="#000">1</text>
<text x="117.93" y="430.80" font-size="12.0" text-anchor="end" fill="#000">10</text>
<line x1="130.4" y1="403.77" x2="133.4" y2="403.77" stroke="#000" stroke-width="0.8"/>
<line x1="130.4" y1="391.58" x2="133.4" y2="391.58" stroke="#000" stroke-width="0.8"/>
<line x1="130.4" y1="382.94" x2="133.4" y2="382.94" stroke="#000" stroke-width="0.8"/>
<line x1="130.4" y1="376.23" x2="133.4" y2="376.23" stroke="#000" stroke-width="0.8"/>
<line x1="130.4" y1="370.75" x2="133.4" y2="370.75" stroke="#000" stroke-width="0.8"/>
<line x1="130.4" y1="366.12" x2="133.4" y2="366.12" stroke="#000" stroke-width="0.8"/>
<line x1="130.4" y1="362.11" x2="133.4" y2="362.11" stroke="#000" stroke-width="0.8"/>
<line x1="130.4" y1="358.57" x2="133.4" y2="358.57" stroke="#000" stroke-width="0.8"/>
<line x1="128.4" y1="355.40" x2="133.4" y2="355.40" stroke="#000" stroke-width="1"/>
<text x="122.6" y="353.60" font-size="8.4" text-anchor="end" fill="#000">2</text>
<text x="117.93" y="361.60" font-size="12.0" text-anchor="end" fill="#000">10</text>
<text transform="translate(92.0,528.3) rotate(-90)" text-anchor="middle" font-size="13.25" fill="#000">NO (ppb)</text>
<text x="321.2" y="748.4" font-size="12.4" fill="#000">MT</text>
<text x="340.3" y="751.9" font-size="9.6" fill="#000">react</text>
<text x="365.3" y="748.4" font-size="12.4" fill="#000">(cm</text>
<text x="386.6" y="739.6" font-size="9.0" fill="#000">−3</text>
<text x="397.2" y="748.4" font-size="12.4" fill="#000">s</text>
<text x="404.6" y="739.6" font-size="9.0" fill="#000">−1</text>
<text x="415.6" y="748.4" font-size="12.4" fill="#000">)</text>
<linearGradient id="cbg" x1="0" y1="1" x2="0" y2="0">
<stop offset="0.000" stop-color="#053061"/>
<stop offset="0.025" stop-color="#0c3d73"/>
<stop offset="0.050" stop-color="#124984"/>
<stop offset="0.075" stop-color="#1a5899"/>
<stop offset="0.100" stop-color="#2065ab"/>
<stop offset="0.125" stop-color="#2a71b2"/>
<stop offset="0.150" stop-color="#327cb7"/>
<stop offset="0.175" stop-color="#3a87bd"/>
<stop offset="0.200" stop-color="#4393c3"/>
<stop offset="0.225" stop-color="#569fc9"/>
<stop offset="0.250" stop-color="#6bacd1"/>
<stop offset="0.275" stop-color="#7eb8d7"/>
<stop offset="0.300" stop-color="#90c4dd"/>
<stop offset="0.325" stop-color="#a2cde3"/>
<stop offset="0.350" stop-color="#b1d5e7"/>
<stop offset="0.375" stop-color="#c2ddec"/>
<stop offset="0.400" stop-color="#d1e5f0"/>
<stop offset="0.425" stop-color="#dae9f2"/>
<stop offset="0.450" stop-color="#e4eef4"/>
<stop offset="0.475" stop-color="#edf2f5"/>
<stop offset="0.500" stop-color="#f7f6f6"/>
<stop offset="0.525" stop-color="#f9f0eb"/>
<stop offset="0.550" stop-color="#fae9df"/>
<stop offset="0.575" stop-color="#fce2d2"/>
<stop offset="0.600" stop-color="#fddbc7"/>
<stop offset="0.625" stop-color="#fbccb4"/>
<stop offset="0.650" stop-color="#f8bfa4"/>
<stop offset="0.675" stop-color="#f6b394"/>
<stop offset="0.700" stop-color="#f3a481"/>
<stop offset="0.725" stop-color="#ec9374"/>
<stop offset="0.750" stop-color="#e48066"/>
<stop offset="0.775" stop-color="#dd7059"/>
<stop offset="0.800" stop-color="#d6604d"/>
<stop offset="0.825" stop-color="#cc4c44"/>
<stop offset="0.850" stop-color="#c43b3c"/>
<stop offset="0.875" stop-color="#ba2832"/>
<stop offset="0.900" stop-color="#b1182b"/>
<stop offset="0.925" stop-color="#9f1228"/>
<stop offset="0.950" stop-color="#8a0b25"/>
<stop offset="0.975" stop-color="#790622"/>
<stop offset="1.000" stop-color="#67001f"/>
</linearGradient>
<rect x="622.7" y="355.4" width="29.799999999999955" height="346.0" fill="url(#cbg)" stroke="#000" stroke-width="1"/>
<line x1="652.5" y1="701.40" x2="657.0" y2="701.40" stroke="#000" stroke-width="1"/>
<text x="662.0" y="706.10" font-size="13" font-weight="bold" fill="#000">0</text>
<line x1="652.5" y1="643.73" x2="657.0" y2="643.73" stroke="#000" stroke-width="1"/>
<text x="662.0" y="648.43" font-size="13" font-weight="bold" fill="#000">1</text>
<line x1="652.5" y1="586.07" x2="657.0" y2="586.07" stroke="#000" stroke-width="1"/>
<text x="662.0" y="590.77" font-size="13" font-weight="bold" fill="#000">2</text>
<line x1="652.5" y1="528.40" x2="657.0" y2="528.40" stroke="#000" stroke-width="1"/>
<text x="662.0" y="533.10" font-size="13" font-weight="bold" fill="#000">3</text>
<line x1="652.5" y1="470.73" x2="657.0" y2="470.73" stroke="#000" stroke-width="1"/>
<text x="662.0" y="475.43" font-size="13" font-weight="bold" fill="#000">4</text>
<line x1="652.5" y1="413.07" x2="657.0" y2="413.07" stroke="#000" stroke-width="1"/>
<text x="662.0" y="417.77" font-size="13" font-weight="bold" fill="#000">5</text>
<line x1="652.5" y1="355.40" x2="657.0" y2="355.40" stroke="#000" stroke-width="1"/>
<text x="662.0" y="360.10" font-size="13" font-weight="bold" fill="#000">6</text>
<text transform="translate(642.7,528.4) rotate(-90)" text-anchor="middle" font-size="12.9" font-weight="bold" fill="#000">HOM yield (%)</text>
<rect x="10.3" y="757.6" width="673.4" height="85.2" rx="2.5" fill="#fff" stroke="#cccccc" stroke-width="1"/>
<circle cx="26.10" cy="766.10" r="2.10" fill="#696969"/>
<text x="46.30" y="770.20" font-size="11.53" fill="#000">Field observations</text>
<circle cx="26.10" cy="782.60" r="2.50" fill="#7fa4f0" stroke="#0000ff" stroke-width="1.4"/>
<text x="46.30" y="786.70" font-size="11.53" fill="#000">CLOUD AP oxidation</text>
<polygon points="26.10,801.90 28.90,796.30 23.30,796.30" fill="#5a7ff0" stroke="#0000ff" stroke-width="1.6" stroke-linejoin="miter"/>
<text x="46.30" y="803.20" font-size="11.53" fill="#000">Nie et al. (2023)</text>
<polygon points="28.90,815.50 23.30,812.70 23.30,818.30" fill="#5a7ff0" stroke="#0000ff" stroke-width="1.6" stroke-linejoin="miter"/>
<text x="46.30" y="819.60" font-size="11.53" fill="#000">Ehn et al. (2014)</text>
<path d="M26.10 832.00L26.10 836.20M26.10 832.00L29.46 829.90M26.10 832.00L22.74 829.90" stroke="#6495ed" stroke-width="1.4" fill="none"/>
<text x="46.30" y="836.10" font-size="11.53" fill="#000">Zhao et al. (2018)</text>
<polygon points="187.70,762.95 184.55,769.25 190.85,769.25" fill="#6495ed"/>
<text x="208.40" y="770.20" font-size="11.53" fill="#000">Bates et al. (2022)</text>
<polygon points="184.55,782.60 190.85,785.75 190.85,779.45" fill="#6495ed"/>
<text x="208.40" y="786.70" font-size="11.53" fill="#000">Zhao et al. (2023)</text>
<polygon points="184.55,802.25 190.85,802.25 190.85,795.95 184.55,795.95" fill="#6495ed"/>
<text x="208.40" y="803.20" font-size="11.53" fill="#000">Peräkylä, O et al. (2020)</text>
<polygon points="187.70,812.90 185.22,814.69 186.17,817.61 189.23,817.61 190.18,814.69" fill="#6495ed"/>
<text x="208.40" y="819.60" font-size="11.53" fill="#000">Zhang et al. (2015)</text>
<polygon points="187.70,829.40 185.45,830.70 185.45,833.30 187.70,834.60 189.95,833.30 189.95,830.70" fill="#6495ed"/>
<text x="208.40" y="836.10" font-size="11.53" fill="#000">Qi et al. (2012)</text>
<polygon points="365.60,763.85 364.30,766.10 365.60,768.35 368.20,768.35 369.50,766.10 368.20,763.85" fill="#6495ed"/>
<text x="387.50" y="770.20" font-size="11.53" fill="#000">Pathak et al. (2007)</text>
<polygon points="365.91,780.20 364.50,781.61 364.50,783.59 365.91,785.00 367.89,785.00 369.30,783.59 369.30,781.61 367.89,780.20" fill="#6495ed"/>
<text x="387.50" y="786.70" font-size="11.53" fill="#000">Saathoff et al. (2009)</text>
<polygon points="366.90,796.30 364.48,797.70 364.48,800.50 366.90,801.90 369.32,800.50 369.32,797.70" fill="#6495ed"/>
<text x="387.50" y="803.20" font-size="11.53" fill="#000">Zhao et al. (2015)</text>
<polygon points="365.96,818.30 367.84,818.30 367.84,816.44 369.70,816.44 369.70,814.56 367.84,814.56 367.84,812.70 365.96,812.70 365.96,814.56 364.10,814.56 364.10,816.44 365.96,816.44" fill="#6495ed"/>
<text x="387.50" y="819.60" font-size="11.53" fill="#000">Kristensen et al. (2014)</text>
<polygon points="366.90,836.24 371.14,832.00 366.90,827.76 362.66,832.00" fill="#6495ed"/>
<text x="387.50" y="836.10" font-size="11.53" fill="#000">Henry et al. (2012)</text>
<path d="M540.50 766.10L540.50 761.90M540.50 766.10L537.14 768.20M540.50 766.10L543.86 768.20" stroke="#6495ed" stroke-width="1.4" fill="none"/>
<text x="560.90" y="770.20" font-size="11.53" fill="#000">Pommer et al. (2004)</text>
<path d="M540.50 782.60L536.30 782.60M540.50 782.60L542.60 785.96M540.50 782.60L542.60 779.24" stroke="#6495ed" stroke-width="1.4" fill="none"/>
<text x="560.90" y="786.70" font-size="11.53" fill="#000">Kristensen et al. (2016)</text>
<path d="M540.50 799.10L544.70 799.10M540.50 799.10L538.40 795.74M540.50 799.10L538.40 802.46" stroke="#6495ed" stroke-width="1.4" fill="none"/>
<text x="560.90" y="803.20" font-size="11.53" fill="#000">Jonsson et al. (2008)</text>
<path d="M536.30 815.50L544.70 815.50M540.50 819.70L540.50 811.30" stroke="#6495ed" stroke-width="1.4" fill="none"/>
<text x="560.90" y="819.60" font-size="11.53" fill="#000">Bell et al. (2023)</text>
<path d="M536.30 836.20L544.70 827.80M536.30 827.80L544.70 836.20" stroke="#6495ed" stroke-width="1.4" fill="none"/>
<text x="560.90" y="836.10" font-size="11.53" fill="#000">Jensen et al. (2021)</text>
</svg></body></html>
